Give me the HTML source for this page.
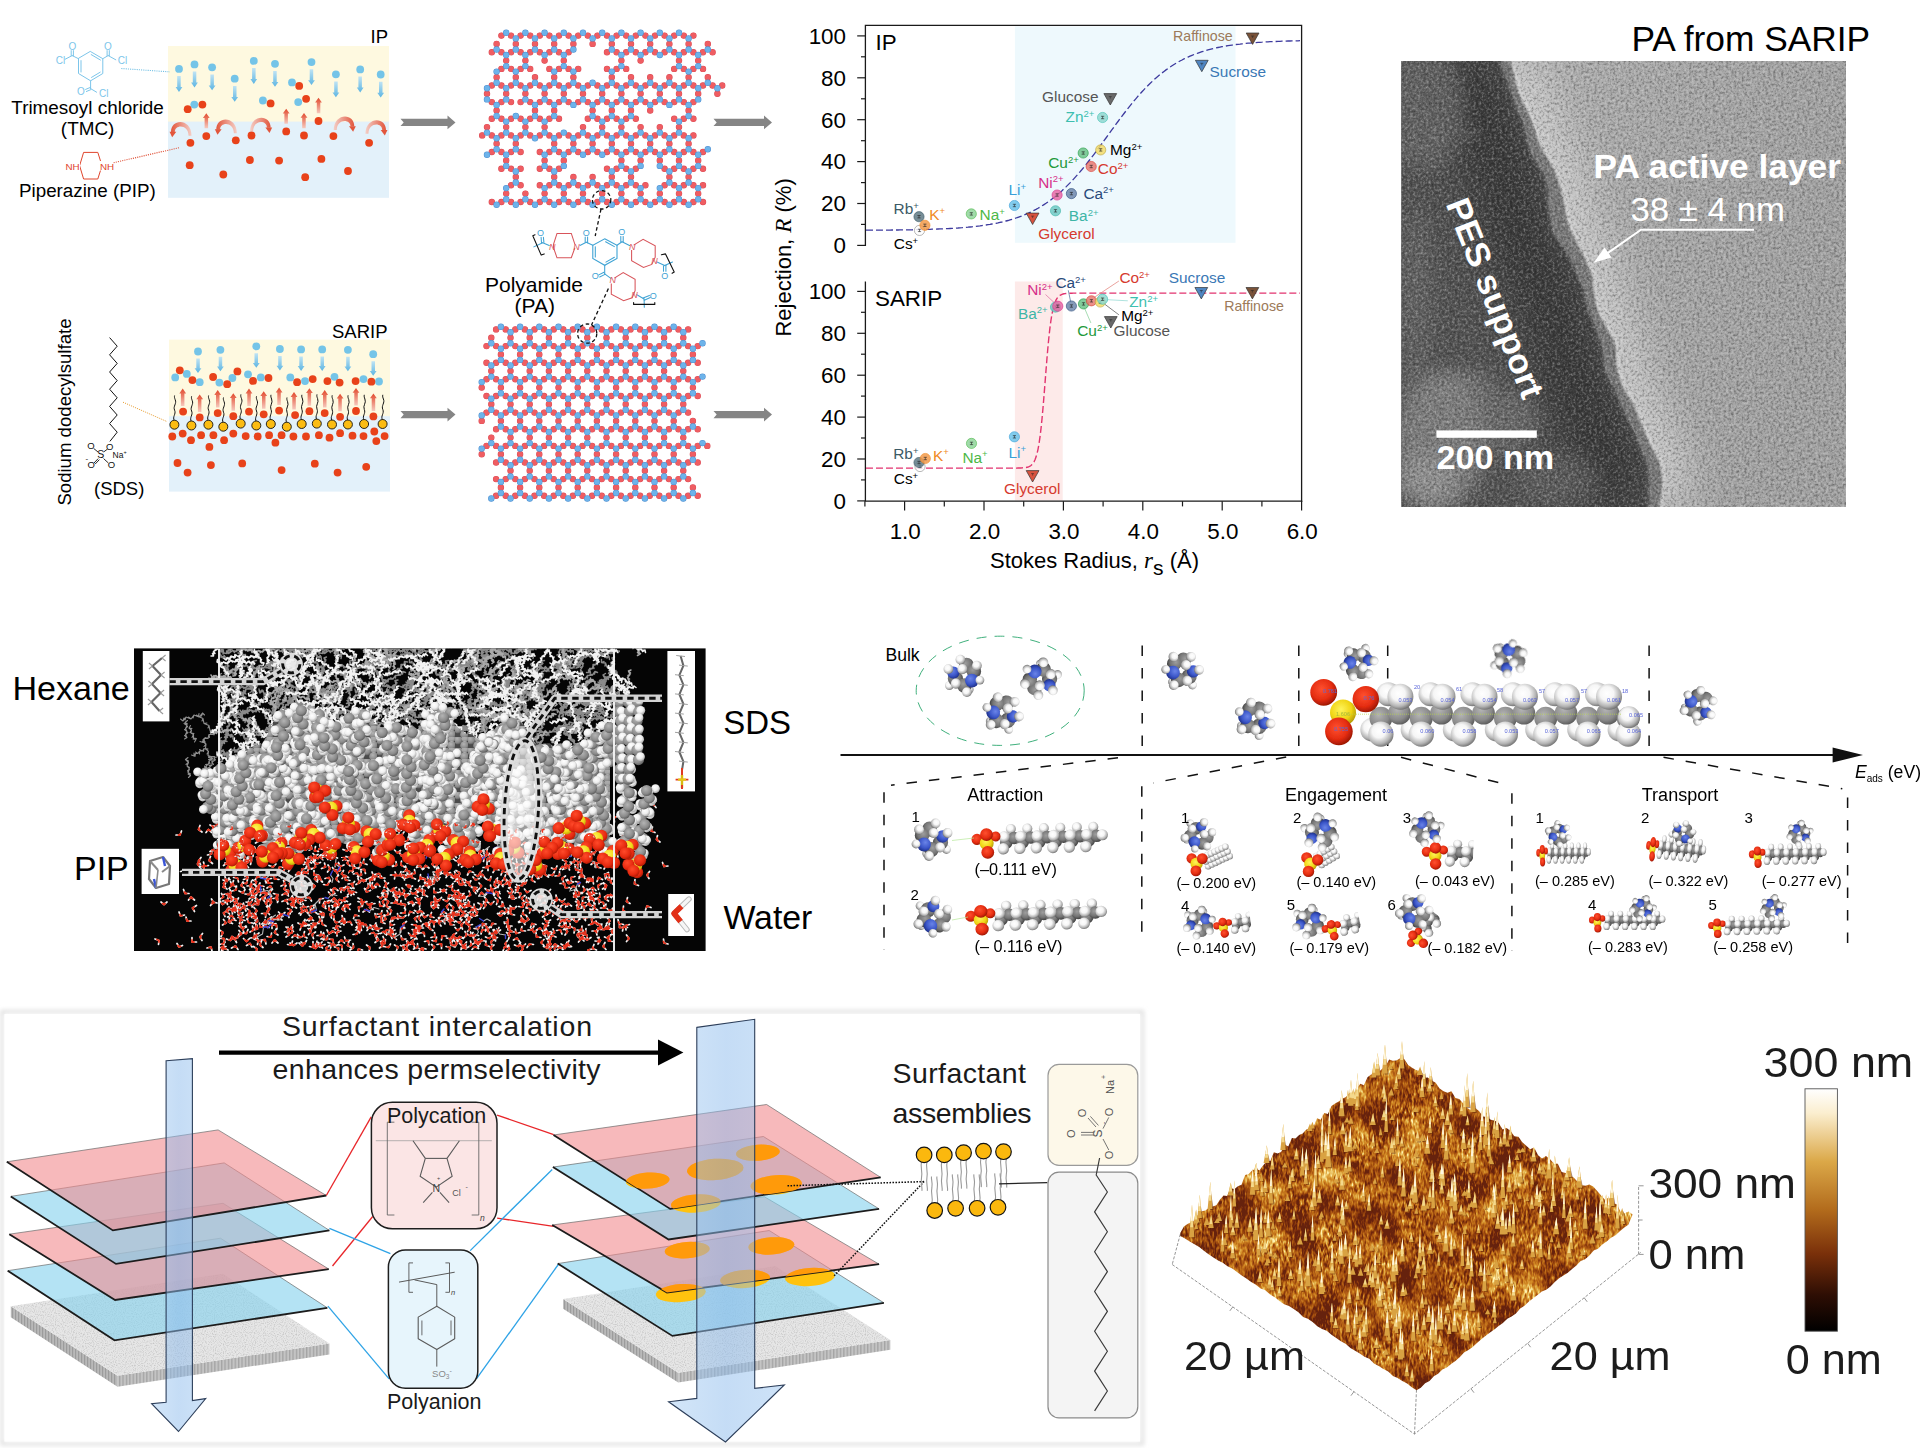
<!DOCTYPE html>
<html><head><meta charset="utf-8"><title>Figure</title>
<style>
html,body{margin:0;padding:0;background:#fff;}
body{width:1929px;height:1448px;overflow:hidden;font-family:"Liberation Sans",sans-serif;}
svg{display:block;font-family:"Liberation Sans",sans-serif;}
</style></head><body>
<svg width="1929" height="1448" viewBox="0 0 1929 1448">
<rect width="1929" height="1448" fill="#fff"/>
<g id="panel_a">
<defs>
<linearGradient id="gbd" x1="0" y1="0" x2="0" y2="1"><stop offset="0" stop-color="#bfe3f4"/><stop offset="1" stop-color="#5db5e2"/></linearGradient>
<linearGradient id="gru" x1="0" y1="1" x2="0" y2="0"><stop offset="0" stop-color="#f6c9bd"/><stop offset="1" stop-color="#e2492c"/></linearGradient>
<linearGradient id="gcl" x1="1" y1="0" x2="0" y2="0"><stop offset="0" stop-color="#f4cfc7"/><stop offset="1" stop-color="#e2563c"/></linearGradient>
<linearGradient id="gcr" x1="0" y1="0" x2="1" y2="0"><stop offset="0" stop-color="#f4cfc7"/><stop offset="1" stop-color="#e2563c"/></linearGradient>
</defs>
<rect x="168" y="46" width="221" height="76" fill="#fef9e0"/>
<rect x="168" y="121.6" width="221" height="76.2" fill="#e3f1fa"/>
<path d="M177.2 76.1 L180.7 76.1 L180.7 87.1 L182.4 87.1 L179 91.9 L175.6 87.1 L177.2 87.1 Z" fill="url(#gbd)" stroke="none" stroke-width="1" />
<path d="M192.8 71.6 L196.3 71.6 L196.3 82.6 L197.9 82.6 L194.5 87.4 L191.1 82.6 L192.8 82.6 Z" fill="url(#gbd)" stroke="none" stroke-width="1" />
<path d="M210.4 74.5 L213.9 74.5 L213.9 85.5 L215.5 85.5 L212.1 90.3 L208.7 85.5 L210.4 85.5 Z" fill="url(#gbd)" stroke="none" stroke-width="1" />
<path d="M233 85.9 L236.5 85.9 L236.5 96.9 L238.1 96.9 L234.7 101.7 L231.3 96.9 L233 96.9 Z" fill="url(#gbd)" stroke="none" stroke-width="1" />
<path d="M252.1 68.1 L255.6 68.1 L255.6 79.1 L257.2 79.1 L253.8 83.9 L250.4 79.1 L252.1 79.1 Z" fill="url(#gbd)" stroke="none" stroke-width="1" />
<path d="M273.2 71 L276.7 71 L276.7 82 L278.4 82 L275 86.8 L271.6 82 L273.2 82 Z" fill="url(#gbd)" stroke="none" stroke-width="1" />
<path d="M309.7 69.3 L313.2 69.3 L313.2 80.3 L314.9 80.3 L311.5 85.1 L308.1 80.3 L309.7 80.3 Z" fill="url(#gbd)" stroke="none" stroke-width="1" />
<path d="M334.2 81.5 L337.7 81.5 L337.7 92.5 L339.3 92.5 L335.9 97.3 L332.5 92.5 L334.2 92.5 Z" fill="url(#gbd)" stroke="none" stroke-width="1" />
<path d="M358.4 76.6 L361.9 76.6 L361.9 87.6 L363.6 87.6 L360.2 92.4 L356.8 87.6 L358.4 87.6 Z" fill="url(#gbd)" stroke="none" stroke-width="1" />
<path d="M379 81.7 L382.5 81.7 L382.5 92.7 L384.1 92.7 L380.7 97.5 L377.3 92.7 L379 92.7 Z" fill="url(#gbd)" stroke="none" stroke-width="1" />
<path d="M204.6 128.2 L208.1 128.2 L208.1 118.1 L209.7 118.1 L206.3 113.3 L202.9 118.1 L204.6 118.1 Z" fill="url(#gru)" stroke="none" stroke-width="1" />
<path d="M284.4 123.7 L287.9 123.7 L287.9 113.6 L289.6 113.6 L286.2 108.8 L282.8 113.6 L284.4 113.6 Z" fill="url(#gru)" stroke="none" stroke-width="1" />
<path d="M302.2 128.2 L305.7 128.2 L305.7 117.7 L307.4 117.7 L304 112.9 L300.6 117.7 L302.2 117.7 Z" fill="url(#gru)" stroke="none" stroke-width="1" />
<path d="M316.8 113.3 L320.3 113.3 L320.3 102.6 L321.9 102.6 L318.5 97.8 L315.1 102.6 L316.8 102.6 Z" fill="url(#gru)" stroke="none" stroke-width="1" />
<path d="M191.6 135.7 C191.3 118.1 170.9 118.1 171 132.2 L174.8 132.2 C174.5 124.3 188.5 123.9 188.6 135.7 Z" fill="url(#gcl)"/><path d="M169.5 131.8 L176.3 131.8 L172.2 137.3 Z" fill="#e2563c" stroke="none" stroke-width="1" />
<path d="M236.9 133.2 C236.6 115.6 216.2 115.6 216.3 129.7 L220.1 129.7 C219.8 121.8 233.8 121.4 233.9 133.2 Z" fill="url(#gcl)"/><path d="M214.8 129.3 L221.6 129.3 L217.5 134.8 Z" fill="#e2563c" stroke="none" stroke-width="1" />
<path d="M250.1 131.3 C250.4 113.7 270.8 113.7 270.7 127.8 L266.9 127.8 C267.2 119.9 253.2 119.5 253.1 131.3 Z" fill="url(#gcr)"/><path d="M265.4 127.4 L272.2 127.4 L269.5 132.9 Z" fill="#e2563c" stroke="none" stroke-width="1" />
<path d="M333.7 130.1 C334 112.5 354.4 112.5 354.3 126.6 L350.5 126.6 C350.8 118.7 336.8 118.3 336.7 130.1 Z" fill="url(#gcr)"/><path d="M349 126.2 L355.8 126.2 L353.1 131.7 Z" fill="#e2563c" stroke="none" stroke-width="1" />
<path d="M365.4 133.8 C365.7 116.2 386.1 116.2 386 130.3 L382.2 130.3 C382.5 122.4 368.5 122 368.4 133.8 Z" fill="url(#gcr)"/><path d="M380.7 129.9 L387.5 129.9 L384.8 135.4 Z" fill="#e2563c" stroke="none" stroke-width="1" />
<circle cx="179" cy="68.9" r="3.9" fill="#74c4e8" />
<circle cx="194.5" cy="64.4" r="3.9" fill="#74c4e8" />
<circle cx="212.1" cy="67.3" r="3.9" fill="#74c4e8" />
<circle cx="234.7" cy="78.7" r="3.9" fill="#74c4e8" />
<circle cx="253.8" cy="60.9" r="3.9" fill="#74c4e8" />
<circle cx="275" cy="63.8" r="3.9" fill="#74c4e8" />
<circle cx="292" cy="82.4" r="3.9" fill="#74c4e8" />
<circle cx="311.5" cy="62.1" r="3.9" fill="#74c4e8" />
<circle cx="335.9" cy="74.3" r="3.9" fill="#74c4e8" />
<circle cx="360.2" cy="69.4" r="3.9" fill="#74c4e8" />
<circle cx="380.7" cy="74.5" r="3.9" fill="#74c4e8" />
<circle cx="194.3" cy="104.6" r="3.9" fill="#74c4e8" />
<circle cx="262.9" cy="100.5" r="3.9" fill="#74c4e8" />
<circle cx="298.2" cy="102.1" r="3.9" fill="#74c4e8" />
<circle cx="187.7" cy="109.2" r="3.9" fill="#e8421a" />
<circle cx="202.4" cy="104.6" r="3.9" fill="#e8421a" />
<circle cx="270.6" cy="103.4" r="3.9" fill="#e8421a" />
<circle cx="299.2" cy="85.9" r="3.9" fill="#e8421a" />
<circle cx="306.1" cy="98.8" r="3.9" fill="#e8421a" />
<circle cx="318.5" cy="121" r="3.9" fill="#e8421a" />
<circle cx="206.3" cy="136.1" r="3.9" fill="#e8421a" />
<circle cx="190.4" cy="142.8" r="3.9" fill="#e8421a" />
<circle cx="235.8" cy="140.3" r="3.9" fill="#e8421a" />
<circle cx="251.5" cy="135.5" r="3.9" fill="#e8421a" />
<circle cx="286.2" cy="131.4" r="3.9" fill="#e8421a" />
<circle cx="304" cy="135.5" r="3.9" fill="#e8421a" />
<circle cx="333.4" cy="136.1" r="3.9" fill="#e8421a" />
<circle cx="369.1" cy="142.8" r="3.9" fill="#e8421a" />
<circle cx="189.7" cy="165.2" r="3.9" fill="#e8421a" />
<circle cx="223.3" cy="174.5" r="3.9" fill="#e8421a" />
<circle cx="249.9" cy="160" r="3.9" fill="#e8421a" />
<circle cx="279.1" cy="160.6" r="3.9" fill="#e8421a" />
<circle cx="321.4" cy="158.9" r="3.9" fill="#e8421a" />
<circle cx="305.2" cy="177.2" r="3.9" fill="#e8421a" />
<circle cx="348" cy="171" r="3.9" fill="#e8421a" />
<text x="370.5" y="43" font-size="18.5" fill="#000" >IP</text>
<g stroke="#7cc5ea" stroke-width="1" fill="none" stroke-linecap="round">
<path d="M90.6 51.6 L102.8 58.7 L102.8 73.5 L90.6 80.8 L78.5 73.5 L78.5 58.7 Z" fill="none" stroke="#7cc5ea" stroke-width="1" />
<line x1="91.2" y1="54.6" x2="100.4" y2="60" stroke="#7cc5ea" stroke-width="1" />
<line x1="81" y1="60.6" x2="81" y2="72" stroke="#7cc5ea" stroke-width="1" />
<line x1="100.2" y1="72.2" x2="91.5" y2="77.4" stroke="#7cc5ea" stroke-width="1" />
<line x1="78.5" y1="58.7" x2="72.2" y2="55.6" stroke="#7cc5ea" stroke-width="1" />
<line x1="71.2" y1="55.6" x2="71.2" y2="50.6" stroke="#7cc5ea" stroke-width="1" />
<line x1="73.4" y1="55.9" x2="73.4" y2="50.6" stroke="#7cc5ea" stroke-width="1" />
<line x1="72.2" y1="55.6" x2="65.2" y2="59.2" stroke="#7cc5ea" stroke-width="1" />
<line x1="102.8" y1="58.7" x2="108.2" y2="55.6" stroke="#7cc5ea" stroke-width="1" />
<line x1="107.1" y1="55.6" x2="107.1" y2="50.6" stroke="#7cc5ea" stroke-width="1" />
<line x1="109.3" y1="55.6" x2="109.3" y2="50.6" stroke="#7cc5ea" stroke-width="1" />
<line x1="108.2" y1="55.6" x2="115.8" y2="59.8" stroke="#7cc5ea" stroke-width="1" />
<line x1="90.6" y1="80.8" x2="90.6" y2="88.6" stroke="#7cc5ea" stroke-width="1" />
<line x1="90.4" y1="87.4" x2="85.6" y2="89.4" stroke="#7cc5ea" stroke-width="1" />
<line x1="90.9" y1="89.6" x2="86.4" y2="91.5" stroke="#7cc5ea" stroke-width="1" />
<line x1="90.6" y1="88.6" x2="96.6" y2="92.2" stroke="#7cc5ea" stroke-width="1" />
</g>
<text x="72.3" y="49.6" font-size="10" fill="#7cc5ea" text-anchor="middle" >O</text>
<text x="107.9" y="49.6" font-size="10" fill="#7cc5ea" text-anchor="middle" >O</text>
<text x="80.9" y="94.8" font-size="10" fill="#7cc5ea" text-anchor="middle" >O</text>
<text x="60.6" y="64" font-size="10" fill="#7cc5ea" text-anchor="middle" >Cl</text>
<text x="122.6" y="64.4" font-size="10" fill="#7cc5ea" text-anchor="middle" >Cl</text>
<text x="103.8" y="96.6" font-size="10" fill="#7cc5ea" text-anchor="middle" >Cl</text>
<line x1="121.3" y1="68.5" x2="169.9" y2="71.9" stroke="#74c0e4" stroke-width="1.1" stroke-dasharray="1.1 1.1"/>
<text x="11.3" y="113.8" font-size="18.9" fill="#000" >Trimesoyl chloride</text>
<text x="87.6" y="134.8" font-size="18.9" fill="#000" text-anchor="middle" >(TMC)</text>
<path d="M79.6 165.7 L83.6 152.4 L97.8 152.4 L102 165.7 L97.8 179 L83.6 179 Z" fill="none" stroke="#e0452c" stroke-width="1" />
<rect x="64" y="161" width="16" height="9.6" fill="#fff"/><rect x="99.6" y="161" width="15" height="9.6" fill="#fff"/>
<text x="65.4" y="169.8" font-size="9.8" fill="#e0452c" >NH</text>
<text x="100" y="169.8" font-size="9.8" fill="#e0452c" >NH</text>
<line x1="113.6" y1="162.8" x2="179.4" y2="147.6" stroke="#e0553c" stroke-width="1.1" stroke-dasharray="1.1 1.1"/>
<text x="19" y="197.3" font-size="18.8" fill="#000" >Piperazine (PIP)</text>
<path d="M400.5 118.8 L447.5 118.8 L447.5 115.6 L455.5 122.4 L447.5 129.2 L447.5 126 L400.5 126 L403.7 122.4 Z" fill="#858585" stroke="none" stroke-width="1" />
<path d="M713.5 118.8 L764 118.8 L764 115.6 L772 122.4 L764 129.2 L764 126 L713.5 126 L716.7 122.4 Z" fill="#858585" stroke="none" stroke-width="1" />
<rect x="169" y="339.6" width="221" height="77" fill="#fef9e0"/>
<rect x="169" y="416.2" width="221" height="75.4" fill="#e3f1fa"/>
<path d="M196.3 358.5 L199.8 358.5 L199.8 368.2 L201.4 368.2 L198 373 L194.6 368.2 L196.3 368.2 Z" fill="url(#gbd)" stroke="none" stroke-width="1" />
<path d="M218.7 356.8 L222.2 356.8 L222.2 366.5 L223.8 366.5 L220.4 371.3 L217 366.5 L218.7 366.5 Z" fill="url(#gbd)" stroke="none" stroke-width="1" />
<path d="M254.5 353.3 L258 353.3 L258 363 L259.7 363 L256.3 367.8 L252.9 363 L254.5 363 Z" fill="url(#gbd)" stroke="none" stroke-width="1" />
<path d="M278.2 356 L281.7 356 L281.7 365.7 L283.3 365.7 L279.9 370.5 L276.5 365.7 L278.2 365.7 Z" fill="url(#gbd)" stroke="none" stroke-width="1" />
<path d="M299.3 356.4 L302.8 356.4 L302.8 366.1 L304.5 366.1 L301.1 370.9 L297.7 366.1 L299.3 366.1 Z" fill="url(#gbd)" stroke="none" stroke-width="1" />
<path d="M320.5 356.4 L324 356.4 L324 366.1 L325.6 366.1 L322.2 370.9 L318.8 366.1 L320.5 366.1 Z" fill="url(#gbd)" stroke="none" stroke-width="1" />
<path d="M346.2 356.8 L349.7 356.8 L349.7 366.5 L351.3 366.5 L347.9 371.3 L344.5 366.5 L346.2 366.5 Z" fill="url(#gbd)" stroke="none" stroke-width="1" />
<path d="M371.5 361.2 L375 361.2 L375 370.9 L376.6 370.9 L373.2 375.7 L369.8 370.9 L371.5 370.9 Z" fill="url(#gbd)" stroke="none" stroke-width="1" />
<path d="M180.9 406.1 L184.4 406.1 L184.4 393.4 L186.1 393.4 L182.7 388.6 L179.3 393.4 L180.9 393.4 Z" fill="url(#gru)" stroke="none" stroke-width="1" />
<path d="M197.9 411.9 L201.4 411.9 L201.4 399.2 L203.1 399.2 L199.7 394.4 L196.3 399.2 L197.9 399.2 Z" fill="url(#gru)" stroke="none" stroke-width="1" />
<path d="M216 407.6 L219.5 407.6 L219.5 394.9 L221.1 394.9 L217.7 390.1 L214.3 394.9 L216 394.9 Z" fill="url(#gru)" stroke="none" stroke-width="1" />
<path d="M231.5 410.7 L235 410.7 L235 398 L236.7 398 L233.3 393.2 L229.9 398 L231.5 398 Z" fill="url(#gru)" stroke="none" stroke-width="1" />
<path d="M247.3 406.1 L250.8 406.1 L250.8 393.4 L252.4 393.4 L249 388.6 L245.6 393.4 L247.3 393.4 Z" fill="url(#gru)" stroke="none" stroke-width="1" />
<path d="M262 408.8 L265.5 408.8 L265.5 396.1 L267.1 396.1 L263.7 391.3 L260.3 396.1 L262 396.1 Z" fill="url(#gru)" stroke="none" stroke-width="1" />
<path d="M277.3 405.1 L280.8 405.1 L280.8 392.4 L282.5 392.4 L279.1 387.6 L275.7 392.4 L277.3 392.4 Z" fill="url(#gru)" stroke="none" stroke-width="1" />
<path d="M292.3 409.6 L295.8 409.6 L295.8 396.9 L297.4 396.9 L294 392.1 L290.6 396.9 L292.3 396.9 Z" fill="url(#gru)" stroke="none" stroke-width="1" />
<path d="M307.6 405.7 L311.1 405.7 L311.1 393 L312.8 393 L309.4 388.2 L306 393 L307.6 393 Z" fill="url(#gru)" stroke="none" stroke-width="1" />
<path d="M323 407.6 L326.5 407.6 L326.5 394.9 L328.1 394.9 L324.7 390.1 L321.3 394.9 L323 394.9 Z" fill="url(#gru)" stroke="none" stroke-width="1" />
<path d="M338.3 411.3 L341.8 411.3 L341.8 398.6 L343.5 398.6 L340.1 393.8 L336.7 398.6 L338.3 398.6 Z" fill="url(#gru)" stroke="none" stroke-width="1" />
<path d="M354.3 405.5 L357.8 405.5 L357.8 392.8 L359.4 392.8 L356 388 L352.6 392.8 L354.3 392.8 Z" fill="url(#gru)" stroke="none" stroke-width="1" />
<path d="M371.7 410.9 L375.2 410.9 L375.2 398.2 L376.8 398.2 L373.4 393.4 L370 398.2 L371.7 398.2 Z" fill="url(#gru)" stroke="none" stroke-width="1" />
<circle cx="198" cy="351.5" r="3.9" fill="#74c4e8" />
<circle cx="220.4" cy="349.8" r="3.9" fill="#74c4e8" />
<circle cx="256.3" cy="346.3" r="3.9" fill="#74c4e8" />
<circle cx="279.9" cy="349" r="3.9" fill="#74c4e8" />
<circle cx="301.1" cy="349.4" r="3.9" fill="#74c4e8" />
<circle cx="322.2" cy="349.4" r="3.9" fill="#74c4e8" />
<circle cx="347.9" cy="349.8" r="3.9" fill="#74c4e8" />
<circle cx="373.2" cy="354.2" r="3.9" fill="#74c4e8" />
<circle cx="175.2" cy="377.4" r="3.9" fill="#74c4e8" />
<circle cx="186.8" cy="373.9" r="3.9" fill="#74c4e8" />
<circle cx="199.7" cy="382.2" r="3.9" fill="#74c4e8" />
<circle cx="219.4" cy="382.6" r="3.9" fill="#74c4e8" />
<circle cx="232.4" cy="378" r="3.9" fill="#74c4e8" />
<circle cx="248" cy="374.3" r="3.9" fill="#74c4e8" />
<circle cx="260.8" cy="377.4" r="3.9" fill="#74c4e8" />
<circle cx="290.3" cy="377.4" r="3.9" fill="#74c4e8" />
<circle cx="305" cy="381.1" r="3.9" fill="#74c4e8" />
<circle cx="334.5" cy="376.8" r="3.9" fill="#74c4e8" />
<circle cx="363.5" cy="379.1" r="3.9" fill="#74c4e8" />
<circle cx="379" cy="381.5" r="3.9" fill="#74c4e8" />
<circle cx="179.8" cy="370.3" r="3.9" fill="#e8421a" />
<circle cx="192.4" cy="380.1" r="3.9" fill="#e8421a" />
<circle cx="213.1" cy="377" r="3.9" fill="#e8421a" />
<circle cx="227.2" cy="384.2" r="3.9" fill="#e8421a" />
<circle cx="237.4" cy="371.4" r="3.9" fill="#e8421a" />
<circle cx="253" cy="380.9" r="3.9" fill="#e8421a" />
<circle cx="268.5" cy="378" r="3.9" fill="#e8421a" />
<circle cx="297.1" cy="382.2" r="3.9" fill="#e8421a" />
<circle cx="312.7" cy="379.1" r="3.9" fill="#e8421a" />
<circle cx="327.4" cy="381.1" r="3.9" fill="#e8421a" />
<circle cx="339.6" cy="382.6" r="3.9" fill="#e8421a" />
<circle cx="355.6" cy="381.1" r="3.9" fill="#e8421a" />
<circle cx="371.4" cy="381.7" r="3.9" fill="#e8421a" />
<circle cx="183.1" cy="411.6" r="3.9" fill="#e8421a" />
<circle cx="199.7" cy="417.4" r="3.9" fill="#e8421a" />
<circle cx="217.7" cy="413.1" r="3.9" fill="#e8421a" />
<circle cx="233.3" cy="416.2" r="3.9" fill="#e8421a" />
<circle cx="249" cy="411.6" r="3.9" fill="#e8421a" />
<circle cx="263.7" cy="414.3" r="3.9" fill="#e8421a" />
<circle cx="279.1" cy="410.6" r="3.9" fill="#e8421a" />
<circle cx="295.1" cy="415.1" r="3.9" fill="#e8421a" />
<circle cx="309.4" cy="411.2" r="3.9" fill="#e8421a" />
<circle cx="324.7" cy="413.1" r="3.9" fill="#e8421a" />
<circle cx="340.1" cy="416.8" r="3.9" fill="#e8421a" />
<circle cx="356" cy="411" r="3.9" fill="#e8421a" />
<circle cx="373.4" cy="416.4" r="3.9" fill="#e8421a" />
<circle cx="172.3" cy="436.5" r="3.9" fill="#e8421a" />
<circle cx="182.7" cy="433.6" r="3.9" fill="#e8421a" />
<circle cx="191" cy="440.2" r="3.9" fill="#e8421a" />
<circle cx="201.1" cy="435.2" r="3.9" fill="#e8421a" />
<circle cx="213.4" cy="435.2" r="3.9" fill="#e8421a" />
<circle cx="224.1" cy="440.2" r="3.9" fill="#e8421a" />
<circle cx="233.3" cy="433.6" r="3.9" fill="#e8421a" />
<circle cx="245.7" cy="436.1" r="3.9" fill="#e8421a" />
<circle cx="257.7" cy="436.5" r="3.9" fill="#e8421a" />
<circle cx="269.1" cy="435.2" r="3.9" fill="#e8421a" />
<circle cx="275.4" cy="442.7" r="3.9" fill="#e8421a" />
<circle cx="281.6" cy="435.2" r="3.9" fill="#e8421a" />
<circle cx="293.4" cy="436.5" r="3.9" fill="#e8421a" />
<circle cx="306" cy="436.5" r="3.9" fill="#e8421a" />
<circle cx="318.9" cy="435.2" r="3.9" fill="#e8421a" />
<circle cx="329.5" cy="437.7" r="3.9" fill="#e8421a" />
<circle cx="340.1" cy="433.2" r="3.9" fill="#e8421a" />
<circle cx="352.5" cy="435.7" r="3.9" fill="#e8421a" />
<circle cx="363.5" cy="436.1" r="3.9" fill="#e8421a" />
<circle cx="374.3" cy="431.5" r="3.9" fill="#e8421a" />
<circle cx="376.3" cy="441.1" r="3.9" fill="#e8421a" />
<circle cx="384.6" cy="436.1" r="3.9" fill="#e8421a" />
<circle cx="209.4" cy="446.9" r="3.9" fill="#e8421a" />
<circle cx="177.5" cy="463" r="3.9" fill="#e8421a" />
<circle cx="187.6" cy="472.6" r="3.9" fill="#e8421a" />
<circle cx="210.9" cy="465.1" r="3.9" fill="#e8421a" />
<circle cx="242.2" cy="463.4" r="3.9" fill="#e8421a" />
<circle cx="281.6" cy="470.1" r="3.9" fill="#e8421a" />
<circle cx="314.8" cy="463.7" r="3.9" fill="#e8421a" />
<circle cx="337.6" cy="472.6" r="3.9" fill="#e8421a" />
<circle cx="366.2" cy="466.8" r="3.9" fill="#e8421a" />
<path d="M174.4 420.7 c-2.4 -4 2 -6.5 0.2 -10.5 c-1.8 -4 2.4 -6.5 0.6 -10.5 c-0.6 -1.6 -1 -2.6 -0.6 -4.2" fill="none" stroke="#111" stroke-width="1"/>
<path d="M191.4 421.5 c-2.4 -4 2 -6.5 0.2 -10.5 c-1.8 -4 2.4 -6.5 0.6 -10.5 c-0.6 -1.6 -1 -2.6 -0.6 -4.2" fill="none" stroke="#111" stroke-width="1"/>
<path d="M208.4 420.7 c-2.4 -4 2 -6.5 0.2 -10.5 c-1.8 -4 2.4 -6.5 0.6 -10.5 c-0.6 -1.6 -1 -2.6 -0.6 -4.2" fill="none" stroke="#111" stroke-width="1"/>
<path d="M223.3 422.7 c-2.4 -4 2 -6.5 0.2 -10.5 c-1.8 -4 2.4 -6.5 0.6 -10.5 c-0.6 -1.6 -1 -2.6 -0.6 -4.2" fill="none" stroke="#111" stroke-width="1"/>
<path d="M240.7 419.6 c-2.4 -4 2 -6.5 0.2 -10.5 c-1.8 -4 2.4 -6.5 0.6 -10.5 c-0.6 -1.6 -1 -2.6 -0.6 -4.2" fill="none" stroke="#111" stroke-width="1"/>
<path d="M256.3 421.5 c-2.4 -4 2 -6.5 0.2 -10.5 c-1.8 -4 2.4 -6.5 0.6 -10.5 c-0.6 -1.6 -1 -2.6 -0.6 -4.2" fill="none" stroke="#111" stroke-width="1"/>
<path d="M270.8 420 c-2.4 -4 2 -6.5 0.2 -10.5 c-1.8 -4 2.4 -6.5 0.6 -10.5 c-0.6 -1.6 -1 -2.6 -0.6 -4.2" fill="none" stroke="#111" stroke-width="1"/>
<path d="M286.8 422.7 c-2.4 -4 2 -6.5 0.2 -10.5 c-1.8 -4 2.4 -6.5 0.6 -10.5 c-0.6 -1.6 -1 -2.6 -0.6 -4.2" fill="none" stroke="#111" stroke-width="1"/>
<path d="M301.7 420 c-2.4 -4 2 -6.5 0.2 -10.5 c-1.8 -4 2.4 -6.5 0.6 -10.5 c-0.6 -1.6 -1 -2.6 -0.6 -4.2" fill="none" stroke="#111" stroke-width="1"/>
<path d="M316.8 419.6 c-2.4 -4 2 -6.5 0.2 -10.5 c-1.8 -4 2.4 -6.5 0.6 -10.5 c-0.6 -1.6 -1 -2.6 -0.6 -4.2" fill="none" stroke="#111" stroke-width="1"/>
<path d="M332 420.5 c-2.4 -4 2 -6.5 0.2 -10.5 c-1.8 -4 2.4 -6.5 0.6 -10.5 c-0.6 -1.6 -1 -2.6 -0.6 -4.2" fill="none" stroke="#111" stroke-width="1"/>
<path d="M347.9 420.5 c-2.4 -4 2 -6.5 0.2 -10.5 c-1.8 -4 2.4 -6.5 0.6 -10.5 c-0.6 -1.6 -1 -2.6 -0.6 -4.2" fill="none" stroke="#111" stroke-width="1"/>
<path d="M364.1 420 c-2.4 -4 2 -6.5 0.2 -10.5 c-1.8 -4 2.4 -6.5 0.6 -10.5 c-0.6 -1.6 -1 -2.6 -0.6 -4.2" fill="none" stroke="#111" stroke-width="1"/>
<path d="M382.6 420 c-2.4 -4 2 -6.5 0.2 -10.5 c-1.8 -4 2.4 -6.5 0.6 -10.5 c-0.6 -1.6 -1 -2.6 -0.6 -4.2" fill="none" stroke="#111" stroke-width="1"/>
<circle cx="174.4" cy="424.7" r="4.5" fill="#fbbc12" stroke="#111" stroke-width="0.9"/>
<circle cx="191.4" cy="425.5" r="4.5" fill="#fbbc12" stroke="#111" stroke-width="0.9"/>
<circle cx="208.4" cy="424.7" r="4.5" fill="#fbbc12" stroke="#111" stroke-width="0.9"/>
<circle cx="223.3" cy="426.7" r="4.5" fill="#fbbc12" stroke="#111" stroke-width="0.9"/>
<circle cx="240.7" cy="423.6" r="4.5" fill="#fbbc12" stroke="#111" stroke-width="0.9"/>
<circle cx="256.3" cy="425.5" r="4.5" fill="#fbbc12" stroke="#111" stroke-width="0.9"/>
<circle cx="270.8" cy="424" r="4.5" fill="#fbbc12" stroke="#111" stroke-width="0.9"/>
<circle cx="286.8" cy="426.7" r="4.5" fill="#fbbc12" stroke="#111" stroke-width="0.9"/>
<circle cx="301.7" cy="424" r="4.5" fill="#fbbc12" stroke="#111" stroke-width="0.9"/>
<circle cx="316.8" cy="423.6" r="4.5" fill="#fbbc12" stroke="#111" stroke-width="0.9"/>
<circle cx="332" cy="424.5" r="4.5" fill="#fbbc12" stroke="#111" stroke-width="0.9"/>
<circle cx="347.9" cy="424.5" r="4.5" fill="#fbbc12" stroke="#111" stroke-width="0.9"/>
<circle cx="364.1" cy="424" r="4.5" fill="#fbbc12" stroke="#111" stroke-width="0.9"/>
<circle cx="382.6" cy="424" r="4.5" fill="#fbbc12" stroke="#111" stroke-width="0.9"/>
<text x="332" y="337.6" font-size="18.5" fill="#000" >SARIP</text>
<path d="M109.6 337.6 L117.2 346.2 L109.6 354.8 L117.2 363.4 L109.6 372 L117.2 380.6 L109.6 389.2 L117.2 397.8 L109.6 406.4 L117.2 415 L109.6 423.6 L117.2 432.2 L109.9 441.4" fill="none" stroke="#111" stroke-width="1" />
<text x="91" y="448.8" font-size="9.5" fill="#111" text-anchor="middle" >O</text>
<text x="109.6" y="449.6" font-size="9.5" fill="#111" text-anchor="middle" >O</text>
<text x="91.2" y="468.4" font-size="9.5" fill="#111" text-anchor="middle" >O</text>
<text x="111.4" y="468.4" font-size="9.5" fill="#111" text-anchor="middle" >O</text>
<text x="100.8" y="458" font-size="10.5" fill="#111" text-anchor="middle" >S</text>
<line x1="93.6" y1="448.4" x2="98" y2="452" stroke="#111" stroke-width="0.9" />
<line x1="107.6" y1="449" x2="103.6" y2="452" stroke="#111" stroke-width="0.9" />
<line x1="94" y1="463" x2="98.2" y2="458.6" stroke="#111" stroke-width="0.9" />
<line x1="108.4" y1="463" x2="103.6" y2="458.6" stroke="#111" stroke-width="0.9" />
<line x1="95.2" y1="464" x2="99.4" y2="459.6" stroke="#111" stroke-width="0.9" />
<text x="112.6" y="457.8" font-size="8.5" fill="#111" >Na</text>
<text x="123.4" y="453.6" font-size="5.5" fill="#111" >+</text>
<text x="85.6" y="460.5" font-size="8" fill="#111" >-</text>
<line x1="123" y1="402.2" x2="167" y2="421.6" stroke="#e9a23a" stroke-width="1" stroke-dasharray="1.1 1.1"/>
<text x="94" y="494.6" font-size="18.5" fill="#000" >(SDS)</text>
<text transform="translate(71.2,505.6) rotate(-90)" font-size="18.6">Sodium dodecylsulfate</text>
<path d="M400.5 411 L447.5 411 L447.5 407.8 L455.5 414.6 L447.5 421.4 L447.5 418.2 L400.5 418.2 L403.7 414.6 Z" fill="#858585" stroke="none" stroke-width="1" />
<path d="M713.5 411 L764 411 L764 407.8 L772 414.6 L764 421.4 L764 418.2 L713.5 418.2 L716.7 414.6 Z" fill="#858585" stroke="none" stroke-width="1" />
</g>
<g id="panel_a2">
<path d="M496.6 49.5L496.6 43.9M506.2 32.8L501.4 35.6M506.2 32.8L515.8 38.4M515.8 38.4L515.8 49.5M525.4 32.8L515.8 38.4M525.4 32.8L535 38.4M535 38.4L535 49.5M544.6 32.8L535 38.4M544.6 32.8L554.2 38.4M554.2 38.4L554.2 49.5M563.8 32.8L554.2 38.4M563.8 32.8L573.4 38.4M573.4 38.4L573.4 49.5M583 32.8L573.4 38.4M583 32.8L592.6 38.4M592.6 38.4L592.6 43.9M602.2 32.8L592.6 38.4M602.2 32.8L611.8 38.4M611.8 38.4L611.8 49.5M621.4 32.8L611.8 38.4M621.4 32.8L631 38.4M631 38.4L631 49.5M640.6 32.8L631 38.4M640.6 32.8L650.2 38.4M650.2 38.4L650.2 49.5M659.8 32.8L650.2 38.4M659.8 32.8L669.4 38.4M669.4 38.4L669.4 49.5M679 32.8L669.4 38.4M679 32.8L688.6 38.4M688.6 38.4L688.6 49.5M688.6 38.4L693.4 35.6M707.8 49.5L707.8 43.9M496.6 49.5L491.8 52.2M496.6 49.5L506.2 55M515.8 49.5L506.2 55M515.8 49.5L525.4 55M506.2 55L506.2 66.1M535 49.5L525.4 55M535 49.5L544.6 55M525.4 55L525.4 66.1M554.2 49.5L544.6 55M554.2 49.5L563.8 55M544.6 55L544.6 60.6M573.4 49.5L563.8 55M563.8 55L563.8 66.1M611.8 49.5L607 52.2M611.8 49.5L621.4 55M631 49.5L621.4 55M631 49.5L640.6 55M621.4 55L621.4 66.1M650.2 49.5L640.6 55M650.2 49.5L659.8 55M640.6 55L640.6 60.6M669.4 49.5L659.8 55M669.4 49.5L679 55M688.6 49.5L679 55M688.6 49.5L698.2 55M679 55L679 66.1M707.8 49.5L698.2 55M707.8 49.5L712.6 52.2M698.2 55L698.2 66.1M496.6 71.6L496.6 82.7M506.2 66.1L496.6 71.6M506.2 66.1L515.8 71.6M515.8 71.6L515.8 82.7M525.4 66.1L515.8 71.6M525.4 66.1L530.2 68.9M535 82.7L535 77.2M554.2 71.6L549.4 68.9M554.2 71.6L554.2 82.7M563.8 66.1L554.2 71.6M563.8 66.1L573.4 71.6M573.4 71.6L573.4 82.7M573.4 71.6L578.2 68.9M611.8 71.6L607 68.9M611.8 71.6L611.8 82.7M621.4 66.1L611.8 71.6M621.4 66.1L626.2 68.9M631 82.7L631 77.2M650.2 82.7L650.2 77.2M669.4 82.7L669.4 77.2M679 66.1L674.2 68.9M679 66.1L688.6 71.6M688.6 71.6L688.6 82.7M698.2 66.1L688.6 71.6M698.2 66.1L703 68.9M707.8 82.7L707.8 77.2M496.6 82.7L487 88.3M496.6 82.7L506.2 88.3M487 88.3L487 99.4M515.8 82.7L506.2 88.3M515.8 82.7L525.4 88.3M506.2 88.3L506.2 99.4M535 82.7L525.4 88.3M535 82.7L544.6 88.3M525.4 88.3L525.4 99.4M554.2 82.7L544.6 88.3M554.2 82.7L563.8 88.3M544.6 88.3L544.6 99.4M573.4 82.7L563.8 88.3M573.4 82.7L583 88.3M563.8 88.3L563.8 99.4M592.6 82.7L583 88.3M592.6 82.7L602.2 88.3M583 88.3L583 99.4M611.8 82.7L602.2 88.3M611.8 82.7L621.4 88.3M602.2 88.3L602.2 99.4M631 82.7L621.4 88.3M631 82.7L640.6 88.3M621.4 88.3L621.4 99.4M650.2 82.7L640.6 88.3M650.2 82.7L659.8 88.3M640.6 88.3L640.6 99.4M669.4 82.7L659.8 88.3M669.4 82.7L679 88.3M659.8 88.3L659.8 99.4M688.6 82.7L679 88.3M688.6 82.7L698.2 88.3M679 88.3L679 99.4M707.8 82.7L698.2 88.3M707.8 82.7L717.4 88.3M698.2 88.3L698.2 99.4M717.4 88.3L722.2 85.5M717.4 88.3L717.4 93.8M487 99.4L496.6 104.9M496.6 104.9L496.6 116M506.2 99.4L496.6 104.9M506.2 99.4L511 102.1M525.4 99.4L520.6 102.1M525.4 99.4L535 104.9M535 104.9L535 116M544.6 99.4L535 104.9M544.6 99.4L554.2 104.9M554.2 104.9L554.2 116M563.8 99.4L554.2 104.9M563.8 99.4L573.4 104.9M583 99.4L573.4 104.9M583 99.4L592.6 104.9M592.6 104.9L592.6 116M602.2 99.4L592.6 104.9M602.2 99.4L611.8 104.9M611.8 104.9L611.8 116M621.4 99.4L611.8 104.9M621.4 99.4L631 104.9M631 104.9L631 116M640.6 99.4L631 104.9M640.6 99.4L650.2 104.9M650.2 104.9L650.2 110.5M659.8 99.4L650.2 104.9M659.8 99.4L669.4 104.9M679 99.4L669.4 104.9M679 99.4L688.6 104.9M688.6 104.9L688.6 116M698.2 99.4L688.6 104.9M496.6 116L491.8 118.8M496.6 116L506.2 121.6M487 132.6L487 127.1M515.8 116L506.2 121.6M515.8 116L525.4 121.6M506.2 121.6L506.2 132.6M535 116L525.4 121.6M535 116L544.6 121.6M525.4 121.6L525.4 132.6M554.2 116L544.6 121.6M554.2 116L559 118.8M544.6 121.6L544.6 132.6M592.6 116L587.8 118.8M592.6 116L602.2 121.6M583 132.6L583 127.1M611.8 116L602.2 121.6M611.8 116L621.4 121.6M602.2 121.6L602.2 132.6M631 116L621.4 121.6M631 116L635.8 118.8M621.4 121.6L621.4 132.6M640.6 132.6L640.6 127.1M679 121.6L674.2 118.8M659.8 132.6L659.8 127.1M688.6 116L679 121.6M688.6 116L693.4 118.8M679 121.6L679 132.6M487 132.6L482.2 135.4M487 132.6L496.6 138.2M496.6 138.2L496.6 149.3M506.2 132.6L496.6 138.2M506.2 132.6L515.8 138.2M515.8 138.2L515.8 149.3M525.4 132.6L515.8 138.2M525.4 132.6L535 138.2M544.6 132.6L535 138.2M544.6 132.6L554.2 138.2M554.2 138.2L554.2 149.3M563.8 132.6L554.2 138.2M563.8 132.6L573.4 138.2M573.4 138.2L573.4 149.3M583 132.6L573.4 138.2M583 132.6L592.6 138.2M592.6 138.2L592.6 149.3M602.2 132.6L592.6 138.2M602.2 132.6L611.8 138.2M611.8 138.2L611.8 149.3M621.4 132.6L611.8 138.2M621.4 132.6L631 138.2M631 138.2L631 149.3M640.6 132.6L631 138.2M640.6 132.6L650.2 138.2M650.2 138.2L650.2 149.3M659.8 132.6L650.2 138.2M659.8 132.6L669.4 138.2M669.4 138.2L669.4 149.3M679 132.6L669.4 138.2M679 132.6L688.6 138.2M688.6 138.2L688.6 149.3M688.6 138.2L693.4 135.4M496.6 149.3L487 154.8M496.6 149.3L506.2 154.8M515.8 149.3L506.2 154.8M515.8 149.3L520.6 152M506.2 154.8L506.2 165.9M544.6 154.8L539.8 152M554.2 149.3L544.6 154.8M554.2 149.3L563.8 154.8M544.6 154.8L544.6 165.9M573.4 149.3L563.8 154.8M573.4 149.3L583 154.8M563.8 154.8L563.8 165.9M592.6 149.3L583 154.8M592.6 149.3L602.2 154.8M611.8 149.3L602.2 154.8M611.8 149.3L621.4 154.8M631 149.3L621.4 154.8M631 149.3L640.6 154.8M621.4 154.8L621.4 165.9M650.2 149.3L640.6 154.8M650.2 149.3L659.8 154.8M640.6 154.8L640.6 165.9M669.4 149.3L659.8 154.8M669.4 149.3L679 154.8M659.8 154.8L659.8 165.9M688.6 149.3L679 154.8M688.6 149.3L698.2 154.8M679 154.8L679 165.9M707.8 149.3L698.2 154.8M698.2 154.8L698.2 165.9M506.2 165.9L501.4 168.7M506.2 165.9L515.8 171.5M515.8 171.5L515.8 182.5M515.8 171.5L520.6 168.7M544.6 165.9L539.8 168.7M544.6 165.9L554.2 171.5M554.2 171.5L554.2 182.5M563.8 165.9L554.2 171.5M573.4 182.5L573.4 177M592.6 182.5L592.6 177M611.8 171.5L607 168.7M611.8 171.5L611.8 182.5M621.4 165.9L611.8 171.5M621.4 165.9L631 171.5M631 171.5L631 182.5M640.6 165.9L631 171.5M659.8 165.9L669.4 171.5M669.4 171.5L669.4 182.5M679 165.9L669.4 171.5M679 165.9L688.6 171.5M688.6 171.5L688.6 182.5M698.2 165.9L688.6 171.5M698.2 165.9L703 168.7M515.8 182.5L506.2 188.1M515.8 182.5L520.6 185.3M506.2 188.1L506.2 199.2M544.6 188.1L539.8 185.3M525.4 199.2L525.4 193.6M554.2 182.5L544.6 188.1M554.2 182.5L563.8 188.1M544.6 188.1L544.6 199.2M573.4 182.5L563.8 188.1M573.4 182.5L583 188.1M563.8 188.1L563.8 199.2M592.6 182.5L583 188.1M592.6 182.5L602.2 188.1M583 188.1L583 199.2M611.8 182.5L602.2 188.1M611.8 182.5L621.4 188.1M602.2 188.1L602.2 199.2M631 182.5L621.4 188.1M631 182.5L640.6 188.1M621.4 188.1L621.4 199.2M640.6 188.1L645.4 185.3M640.6 188.1L640.6 199.2M669.4 182.5L659.8 188.1M669.4 182.5L679 188.1M659.8 188.1L659.8 199.2M688.6 182.5L679 188.1M688.6 182.5L698.2 188.1M679 188.1L679 199.2M698.2 188.1L703 185.3M698.2 188.1L698.2 199.2M496.6 204.7L491.8 202M506.2 199.2L496.6 204.7M506.2 199.2L515.8 204.7M525.4 199.2L515.8 204.7M525.4 199.2L535 204.7M544.6 199.2L535 204.7M544.6 199.2L554.2 204.7M563.8 199.2L554.2 204.7M563.8 199.2L573.4 204.7M583 199.2L573.4 204.7M583 199.2L592.6 204.7M602.2 199.2L592.6 204.7M602.2 199.2L611.8 204.7M621.4 199.2L611.8 204.7M621.4 199.2L631 204.7M640.6 199.2L631 204.7M640.6 199.2L650.2 204.7M659.8 199.2L650.2 204.7M659.8 199.2L669.4 204.7M679 199.2L669.4 204.7M679 199.2L688.6 204.7M698.2 199.2L688.6 204.7M698.2 199.2L703 202" stroke="#b8708c" stroke-width="1.6" fill="none"/><g fill="none" stroke-linecap="round"><path d="M496.6 43.9h0M501.4 35.6h0M511 35.6h0M515.8 43.9h0M520.6 35.6h0M530.2 35.6h0M535 43.9h0M539.8 35.6h0M549.4 35.6h0M554.2 43.9h0M559 35.6h0M568.6 35.6h0M573.4 43.9h0M578.2 35.6h0M587.8 35.6h0M592.6 43.9h0M597.4 35.6h0M607 35.6h0M611.8 43.9h0M616.6 35.6h0M626.2 35.6h0M631 43.9h0M635.8 35.6h0M645.4 35.6h0M650.2 43.9h0M655 35.6h0M664.6 35.6h0M669.4 43.9h0M674.2 35.6h0M683.8 35.6h0M688.6 43.9h0M693.4 35.6h0M707.8 43.9h0M491.8 52.2h0M501.4 52.2h0M511 52.2h0M520.6 52.2h0M506.2 60.6h0M530.2 52.2h0M539.8 52.2h0M525.4 60.6h0M549.4 52.2h0M559 52.2h0M544.6 60.6h0M568.6 52.2h0M563.8 60.6h0M607 52.2h0M616.6 52.2h0M626.2 52.2h0M635.8 52.2h0M621.4 60.6h0M645.4 52.2h0M655 52.2h0M640.6 60.6h0M664.6 52.2h0M674.2 52.2h0M683.8 52.2h0M693.4 52.2h0M679 60.6h0M703 52.2h0M712.6 52.2h0M698.2 60.6h0M496.6 77.2h0M501.4 68.9h0M511 68.9h0M515.8 77.2h0M520.6 68.9h0M530.2 68.9h0M535 77.2h0M549.4 68.9h0M554.2 77.2h0M559 68.9h0M568.6 68.9h0M573.4 77.2h0M578.2 68.9h0M607 68.9h0M611.8 77.2h0M616.6 68.9h0M626.2 68.9h0M631 77.2h0M650.2 77.2h0M669.4 77.2h0M674.2 68.9h0M683.8 68.9h0M688.6 77.2h0M693.4 68.9h0M703 68.9h0M707.8 77.2h0M491.8 85.5h0M501.4 85.5h0M487 93.8h0M511 85.5h0M520.6 85.5h0M506.2 93.8h0M530.2 85.5h0M539.8 85.5h0M525.4 93.8h0M549.4 85.5h0M559 85.5h0M544.6 93.8h0M568.6 85.5h0M578.2 85.5h0M563.8 93.8h0M587.8 85.5h0M597.4 85.5h0M583 93.8h0M607 85.5h0M616.6 85.5h0M602.2 93.8h0M626.2 85.5h0M635.8 85.5h0M621.4 93.8h0M645.4 85.5h0M655 85.5h0M640.6 93.8h0M664.6 85.5h0M674.2 85.5h0M659.8 93.8h0M683.8 85.5h0M693.4 85.5h0M679 93.8h0M703 85.5h0M712.6 85.5h0M698.2 93.8h0M722.2 85.5h0M717.4 93.8h0M491.8 102.1h0M496.6 110.5h0M501.4 102.1h0M511 102.1h0M520.6 102.1h0M530.2 102.1h0M535 110.5h0M539.8 102.1h0M549.4 102.1h0M554.2 110.5h0M559 102.1h0M568.6 102.1h0M578.2 102.1h0M587.8 102.1h0M592.6 110.5h0M597.4 102.1h0M607 102.1h0M611.8 110.5h0M616.6 102.1h0M626.2 102.1h0M631 110.5h0M635.8 102.1h0M645.4 102.1h0M650.2 110.5h0M655 102.1h0M664.6 102.1h0M674.2 102.1h0M683.8 102.1h0M688.6 110.5h0M693.4 102.1h0M491.8 118.8h0M501.4 118.8h0M487 127.1h0M511 118.8h0M520.6 118.8h0M506.2 127.1h0M530.2 118.8h0M539.8 118.8h0M525.4 127.1h0M549.4 118.8h0M559 118.8h0M544.6 127.1h0M587.8 118.8h0M597.4 118.8h0M583 127.1h0M607 118.8h0M616.6 118.8h0M602.2 127.1h0M626.2 118.8h0M635.8 118.8h0M621.4 127.1h0M640.6 127.1h0M674.2 118.8h0M659.8 127.1h0M683.8 118.8h0M693.4 118.8h0M679 127.1h0M482.2 135.4h0M491.8 135.4h0M496.6 143.7h0M501.4 135.4h0M511 135.4h0M515.8 143.7h0M520.6 135.4h0M530.2 135.4h0M539.8 135.4h0M549.4 135.4h0M554.2 143.7h0M559 135.4h0M568.6 135.4h0M573.4 143.7h0M578.2 135.4h0M587.8 135.4h0M592.6 143.7h0M597.4 135.4h0M607 135.4h0M611.8 143.7h0M616.6 135.4h0M626.2 135.4h0M631 143.7h0M635.8 135.4h0M645.4 135.4h0M650.2 143.7h0M655 135.4h0M664.6 135.4h0M669.4 143.7h0M674.2 135.4h0M683.8 135.4h0M688.6 143.7h0M693.4 135.4h0M491.8 152h0M501.4 152h0M511 152h0M520.6 152h0M506.2 160.4h0M539.8 152h0M549.4 152h0M559 152h0M544.6 160.4h0M568.6 152h0M578.2 152h0M563.8 160.4h0M587.8 152h0M597.4 152h0M607 152h0M616.6 152h0M626.2 152h0M635.8 152h0M621.4 160.4h0M645.4 152h0M655 152h0M640.6 160.4h0M664.6 152h0M674.2 152h0M659.8 160.4h0M683.8 152h0M693.4 152h0M679 160.4h0M703 152h0M698.2 160.4h0M501.4 168.7h0M511 168.7h0M515.8 177h0M520.6 168.7h0M539.8 168.7h0M549.4 168.7h0M554.2 177h0M559 168.7h0M573.4 177h0M592.6 177h0M607 168.7h0M611.8 177h0M616.6 168.7h0M626.2 168.7h0M631 177h0M635.8 168.7h0M664.6 168.7h0M669.4 177h0M674.2 168.7h0M683.8 168.7h0M688.6 177h0M693.4 168.7h0M703 168.7h0M511 185.3h0M520.6 185.3h0M506.2 193.6h0M539.8 185.3h0M525.4 193.6h0M549.4 185.3h0M559 185.3h0M544.6 193.6h0M568.6 185.3h0M578.2 185.3h0M563.8 193.6h0M587.8 185.3h0M597.4 185.3h0M583 193.6h0M607 185.3h0M616.6 185.3h0M602.2 193.6h0M626.2 185.3h0M635.8 185.3h0M621.4 193.6h0M645.4 185.3h0M640.6 193.6h0M664.6 185.3h0M674.2 185.3h0M659.8 193.6h0M683.8 185.3h0M693.4 185.3h0M679 193.6h0M703 185.3h0M698.2 193.6h0M491.8 202h0M501.4 202h0M511 202h0M520.6 202h0M530.2 202h0M539.8 202h0M549.4 202h0M559 202h0M568.6 202h0M578.2 202h0M587.8 202h0M597.4 202h0M607 202h0M616.6 202h0M626.2 202h0M635.8 202h0M645.4 202h0M655 202h0M664.6 202h0M674.2 202h0M683.8 202h0M693.4 202h0M703 202h0" stroke="#d94a55" stroke-width="6.4"/><path d="M496.6 43.9h0M501.4 35.6h0M511 35.6h0M515.8 43.9h0M520.6 35.6h0M530.2 35.6h0M535 43.9h0M539.8 35.6h0M549.4 35.6h0M554.2 43.9h0M559 35.6h0M568.6 35.6h0M573.4 43.9h0M578.2 35.6h0M587.8 35.6h0M592.6 43.9h0M597.4 35.6h0M607 35.6h0M611.8 43.9h0M616.6 35.6h0M626.2 35.6h0M631 43.9h0M635.8 35.6h0M645.4 35.6h0M650.2 43.9h0M655 35.6h0M664.6 35.6h0M669.4 43.9h0M674.2 35.6h0M683.8 35.6h0M688.6 43.9h0M693.4 35.6h0M707.8 43.9h0M491.8 52.2h0M501.4 52.2h0M511 52.2h0M520.6 52.2h0M506.2 60.6h0M530.2 52.2h0M539.8 52.2h0M525.4 60.6h0M549.4 52.2h0M559 52.2h0M544.6 60.6h0M568.6 52.2h0M563.8 60.6h0M607 52.2h0M616.6 52.2h0M626.2 52.2h0M635.8 52.2h0M621.4 60.6h0M645.4 52.2h0M655 52.2h0M640.6 60.6h0M664.6 52.2h0M674.2 52.2h0M683.8 52.2h0M693.4 52.2h0M679 60.6h0M703 52.2h0M712.6 52.2h0M698.2 60.6h0M496.6 77.2h0M501.4 68.9h0M511 68.9h0M515.8 77.2h0M520.6 68.9h0M530.2 68.9h0M535 77.2h0M549.4 68.9h0M554.2 77.2h0M559 68.9h0M568.6 68.9h0M573.4 77.2h0M578.2 68.9h0M607 68.9h0M611.8 77.2h0M616.6 68.9h0M626.2 68.9h0M631 77.2h0M650.2 77.2h0M669.4 77.2h0M674.2 68.9h0M683.8 68.9h0M688.6 77.2h0M693.4 68.9h0M703 68.9h0M707.8 77.2h0M491.8 85.5h0M501.4 85.5h0M487 93.8h0M511 85.5h0M520.6 85.5h0M506.2 93.8h0M530.2 85.5h0M539.8 85.5h0M525.4 93.8h0M549.4 85.5h0M559 85.5h0M544.6 93.8h0M568.6 85.5h0M578.2 85.5h0M563.8 93.8h0M587.8 85.5h0M597.4 85.5h0M583 93.8h0M607 85.5h0M616.6 85.5h0M602.2 93.8h0M626.2 85.5h0M635.8 85.5h0M621.4 93.8h0M645.4 85.5h0M655 85.5h0M640.6 93.8h0M664.6 85.5h0M674.2 85.5h0M659.8 93.8h0M683.8 85.5h0M693.4 85.5h0M679 93.8h0M703 85.5h0M712.6 85.5h0M698.2 93.8h0M722.2 85.5h0M717.4 93.8h0M491.8 102.1h0M496.6 110.5h0M501.4 102.1h0M511 102.1h0M520.6 102.1h0M530.2 102.1h0M535 110.5h0M539.8 102.1h0M549.4 102.1h0M554.2 110.5h0M559 102.1h0M568.6 102.1h0M578.2 102.1h0M587.8 102.1h0M592.6 110.5h0M597.4 102.1h0M607 102.1h0M611.8 110.5h0M616.6 102.1h0M626.2 102.1h0M631 110.5h0M635.8 102.1h0M645.4 102.1h0M650.2 110.5h0M655 102.1h0M664.6 102.1h0M674.2 102.1h0M683.8 102.1h0M688.6 110.5h0M693.4 102.1h0M491.8 118.8h0M501.4 118.8h0M487 127.1h0M511 118.8h0M520.6 118.8h0M506.2 127.1h0M530.2 118.8h0M539.8 118.8h0M525.4 127.1h0M549.4 118.8h0M559 118.8h0M544.6 127.1h0M587.8 118.8h0M597.4 118.8h0M583 127.1h0M607 118.8h0M616.6 118.8h0M602.2 127.1h0M626.2 118.8h0M635.8 118.8h0M621.4 127.1h0M640.6 127.1h0M674.2 118.8h0M659.8 127.1h0M683.8 118.8h0M693.4 118.8h0M679 127.1h0M482.2 135.4h0M491.8 135.4h0M496.6 143.7h0M501.4 135.4h0M511 135.4h0M515.8 143.7h0M520.6 135.4h0M530.2 135.4h0M539.8 135.4h0M549.4 135.4h0M554.2 143.7h0M559 135.4h0M568.6 135.4h0M573.4 143.7h0M578.2 135.4h0M587.8 135.4h0M592.6 143.7h0M597.4 135.4h0M607 135.4h0M611.8 143.7h0M616.6 135.4h0M626.2 135.4h0M631 143.7h0M635.8 135.4h0M645.4 135.4h0M650.2 143.7h0M655 135.4h0M664.6 135.4h0M669.4 143.7h0M674.2 135.4h0M683.8 135.4h0M688.6 143.7h0M693.4 135.4h0M491.8 152h0M501.4 152h0M511 152h0M520.6 152h0M506.2 160.4h0M539.8 152h0M549.4 152h0M559 152h0M544.6 160.4h0M568.6 152h0M578.2 152h0M563.8 160.4h0M587.8 152h0M597.4 152h0M607 152h0M616.6 152h0M626.2 152h0M635.8 152h0M621.4 160.4h0M645.4 152h0M655 152h0M640.6 160.4h0M664.6 152h0M674.2 152h0M659.8 160.4h0M683.8 152h0M693.4 152h0M679 160.4h0M703 152h0M698.2 160.4h0M501.4 168.7h0M511 168.7h0M515.8 177h0M520.6 168.7h0M539.8 168.7h0M549.4 168.7h0M554.2 177h0M559 168.7h0M573.4 177h0M592.6 177h0M607 168.7h0M611.8 177h0M616.6 168.7h0M626.2 168.7h0M631 177h0M635.8 168.7h0M664.6 168.7h0M669.4 177h0M674.2 168.7h0M683.8 168.7h0M688.6 177h0M693.4 168.7h0M703 168.7h0M511 185.3h0M520.6 185.3h0M506.2 193.6h0M539.8 185.3h0M525.4 193.6h0M549.4 185.3h0M559 185.3h0M544.6 193.6h0M568.6 185.3h0M578.2 185.3h0M563.8 193.6h0M587.8 185.3h0M597.4 185.3h0M583 193.6h0M607 185.3h0M616.6 185.3h0M602.2 193.6h0M626.2 185.3h0M635.8 185.3h0M621.4 193.6h0M645.4 185.3h0M640.6 193.6h0M664.6 185.3h0M674.2 185.3h0M659.8 193.6h0M683.8 185.3h0M693.4 185.3h0M679 193.6h0M703 185.3h0M698.2 193.6h0M491.8 202h0M501.4 202h0M511 202h0M520.6 202h0M530.2 202h0M539.8 202h0M549.4 202h0M559 202h0M568.6 202h0M578.2 202h0M587.8 202h0M597.4 202h0M607 202h0M616.6 202h0M626.2 202h0M635.8 202h0M645.4 202h0M655 202h0M664.6 202h0M674.2 202h0M683.8 202h0M693.4 202h0M703 202h0" stroke="#ef5d62" stroke-width="5.6"/><path d="M506.2 32.8h0M515.8 38.4h0M525.4 32.8h0M535 38.4h0M544.6 32.8h0M554.2 38.4h0M563.8 32.8h0M573.4 38.4h0M583 32.8h0M592.6 38.4h0M602.2 32.8h0M611.8 38.4h0M621.4 32.8h0M631 38.4h0M640.6 32.8h0M650.2 38.4h0M659.8 32.8h0M669.4 38.4h0M679 32.8h0M688.6 38.4h0M496.6 49.5h0M515.8 49.5h0M506.2 55h0M535 49.5h0M525.4 55h0M554.2 49.5h0M544.6 55h0M573.4 49.5h0M563.8 55h0M611.8 49.5h0M631 49.5h0M621.4 55h0M650.2 49.5h0M640.6 55h0M669.4 49.5h0M659.8 55h0M688.6 49.5h0M679 55h0M707.8 49.5h0M698.2 55h0M496.6 71.6h0M506.2 66.1h0M515.8 71.6h0M525.4 66.1h0M554.2 71.6h0M563.8 66.1h0M573.4 71.6h0M611.8 71.6h0M621.4 66.1h0M679 66.1h0M688.6 71.6h0M698.2 66.1h0M496.6 82.7h0M487 88.3h0M515.8 82.7h0M506.2 88.3h0M535 82.7h0M525.4 88.3h0M554.2 82.7h0M544.6 88.3h0M573.4 82.7h0M563.8 88.3h0M592.6 82.7h0M583 88.3h0M611.8 82.7h0M602.2 88.3h0M631 82.7h0M621.4 88.3h0M650.2 82.7h0M640.6 88.3h0M669.4 82.7h0M659.8 88.3h0M688.6 82.7h0M679 88.3h0M707.8 82.7h0M698.2 88.3h0M717.4 88.3h0M487 99.4h0M496.6 104.9h0M506.2 99.4h0M525.4 99.4h0M535 104.9h0M544.6 99.4h0M554.2 104.9h0M563.8 99.4h0M573.4 104.9h0M583 99.4h0M592.6 104.9h0M602.2 99.4h0M611.8 104.9h0M621.4 99.4h0M631 104.9h0M640.6 99.4h0M650.2 104.9h0M659.8 99.4h0M669.4 104.9h0M679 99.4h0M688.6 104.9h0M698.2 99.4h0M496.6 116h0M515.8 116h0M506.2 121.6h0M535 116h0M525.4 121.6h0M554.2 116h0M544.6 121.6h0M592.6 116h0M611.8 116h0M602.2 121.6h0M631 116h0M621.4 121.6h0M688.6 116h0M679 121.6h0M487 132.6h0M496.6 138.2h0M506.2 132.6h0M515.8 138.2h0M525.4 132.6h0M535 138.2h0M544.6 132.6h0M554.2 138.2h0M563.8 132.6h0M573.4 138.2h0M583 132.6h0M592.6 138.2h0M602.2 132.6h0M611.8 138.2h0M621.4 132.6h0M631 138.2h0M640.6 132.6h0M650.2 138.2h0M659.8 132.6h0M669.4 138.2h0M679 132.6h0M688.6 138.2h0M496.6 149.3h0M487 154.8h0M515.8 149.3h0M506.2 154.8h0M554.2 149.3h0M544.6 154.8h0M573.4 149.3h0M563.8 154.8h0M592.6 149.3h0M583 154.8h0M611.8 149.3h0M602.2 154.8h0M631 149.3h0M621.4 154.8h0M650.2 149.3h0M640.6 154.8h0M669.4 149.3h0M659.8 154.8h0M688.6 149.3h0M679 154.8h0M707.8 149.3h0M698.2 154.8h0M506.2 165.9h0M515.8 171.5h0M544.6 165.9h0M554.2 171.5h0M563.8 165.9h0M611.8 171.5h0M621.4 165.9h0M631 171.5h0M640.6 165.9h0M659.8 165.9h0M669.4 171.5h0M679 165.9h0M688.6 171.5h0M698.2 165.9h0M515.8 182.5h0M506.2 188.1h0M554.2 182.5h0M544.6 188.1h0M573.4 182.5h0M563.8 188.1h0M592.6 182.5h0M583 188.1h0M611.8 182.5h0M602.2 188.1h0M631 182.5h0M621.4 188.1h0M640.6 188.1h0M669.4 182.5h0M659.8 188.1h0M688.6 182.5h0M679 188.1h0M698.2 188.1h0M496.6 204.7h0M506.2 199.2h0M515.8 204.7h0M525.4 199.2h0M535 204.7h0M544.6 199.2h0M554.2 204.7h0M563.8 199.2h0M573.4 204.7h0M583 199.2h0M592.6 204.7h0M602.2 199.2h0M611.8 204.7h0M621.4 199.2h0M631 204.7h0M640.6 199.2h0M650.2 204.7h0M659.8 199.2h0M669.4 204.7h0M679 199.2h0M688.6 204.7h0M698.2 199.2h0" stroke="#4f8fd0" stroke-width="6.4"/><path d="M506.2 32.8h0M515.8 38.4h0M525.4 32.8h0M535 38.4h0M544.6 32.8h0M554.2 38.4h0M563.8 32.8h0M573.4 38.4h0M583 32.8h0M592.6 38.4h0M602.2 32.8h0M611.8 38.4h0M621.4 32.8h0M631 38.4h0M640.6 32.8h0M650.2 38.4h0M659.8 32.8h0M669.4 38.4h0M679 32.8h0M688.6 38.4h0M496.6 49.5h0M515.8 49.5h0M506.2 55h0M535 49.5h0M525.4 55h0M554.2 49.5h0M544.6 55h0M573.4 49.5h0M563.8 55h0M611.8 49.5h0M631 49.5h0M621.4 55h0M650.2 49.5h0M640.6 55h0M669.4 49.5h0M659.8 55h0M688.6 49.5h0M679 55h0M707.8 49.5h0M698.2 55h0M496.6 71.6h0M506.2 66.1h0M515.8 71.6h0M525.4 66.1h0M554.2 71.6h0M563.8 66.1h0M573.4 71.6h0M611.8 71.6h0M621.4 66.1h0M679 66.1h0M688.6 71.6h0M698.2 66.1h0M496.6 82.7h0M487 88.3h0M515.8 82.7h0M506.2 88.3h0M535 82.7h0M525.4 88.3h0M554.2 82.7h0M544.6 88.3h0M573.4 82.7h0M563.8 88.3h0M592.6 82.7h0M583 88.3h0M611.8 82.7h0M602.2 88.3h0M631 82.7h0M621.4 88.3h0M650.2 82.7h0M640.6 88.3h0M669.4 82.7h0M659.8 88.3h0M688.6 82.7h0M679 88.3h0M707.8 82.7h0M698.2 88.3h0M717.4 88.3h0M487 99.4h0M496.6 104.9h0M506.2 99.4h0M525.4 99.4h0M535 104.9h0M544.6 99.4h0M554.2 104.9h0M563.8 99.4h0M573.4 104.9h0M583 99.4h0M592.6 104.9h0M602.2 99.4h0M611.8 104.9h0M621.4 99.4h0M631 104.9h0M640.6 99.4h0M650.2 104.9h0M659.8 99.4h0M669.4 104.9h0M679 99.4h0M688.6 104.9h0M698.2 99.4h0M496.6 116h0M515.8 116h0M506.2 121.6h0M535 116h0M525.4 121.6h0M554.2 116h0M544.6 121.6h0M592.6 116h0M611.8 116h0M602.2 121.6h0M631 116h0M621.4 121.6h0M688.6 116h0M679 121.6h0M487 132.6h0M496.6 138.2h0M506.2 132.6h0M515.8 138.2h0M525.4 132.6h0M535 138.2h0M544.6 132.6h0M554.2 138.2h0M563.8 132.6h0M573.4 138.2h0M583 132.6h0M592.6 138.2h0M602.2 132.6h0M611.8 138.2h0M621.4 132.6h0M631 138.2h0M640.6 132.6h0M650.2 138.2h0M659.8 132.6h0M669.4 138.2h0M679 132.6h0M688.6 138.2h0M496.6 149.3h0M487 154.8h0M515.8 149.3h0M506.2 154.8h0M554.2 149.3h0M544.6 154.8h0M573.4 149.3h0M563.8 154.8h0M592.6 149.3h0M583 154.8h0M611.8 149.3h0M602.2 154.8h0M631 149.3h0M621.4 154.8h0M650.2 149.3h0M640.6 154.8h0M669.4 149.3h0M659.8 154.8h0M688.6 149.3h0M679 154.8h0M707.8 149.3h0M698.2 154.8h0M506.2 165.9h0M515.8 171.5h0M544.6 165.9h0M554.2 171.5h0M563.8 165.9h0M611.8 171.5h0M621.4 165.9h0M631 171.5h0M640.6 165.9h0M659.8 165.9h0M669.4 171.5h0M679 165.9h0M688.6 171.5h0M698.2 165.9h0M515.8 182.5h0M506.2 188.1h0M554.2 182.5h0M544.6 188.1h0M573.4 182.5h0M563.8 188.1h0M592.6 182.5h0M583 188.1h0M611.8 182.5h0M602.2 188.1h0M631 182.5h0M621.4 188.1h0M640.6 188.1h0M669.4 182.5h0M659.8 188.1h0M688.6 182.5h0M679 188.1h0M698.2 188.1h0M496.6 204.7h0M506.2 199.2h0M515.8 204.7h0M525.4 199.2h0M535 204.7h0M544.6 199.2h0M554.2 204.7h0M563.8 199.2h0M573.4 204.7h0M583 199.2h0M592.6 204.7h0M602.2 199.2h0M611.8 204.7h0M621.4 199.2h0M631 204.7h0M640.6 199.2h0M650.2 204.7h0M659.8 199.2h0M669.4 204.7h0M679 199.2h0M688.6 204.7h0M698.2 199.2h0" stroke="#6db3ea" stroke-width="5.4"/></g>
<path d="M491.3 343.3L491.3 337.7M500.9 326.7L496.1 329.4M500.9 326.7L510.5 332.2M510.5 332.2L510.5 343.3M520.1 326.7L510.5 332.2M520.1 326.7L529.7 332.2M529.7 332.2L529.7 343.3M539.3 326.7L529.7 332.2M539.3 326.7L548.9 332.2M548.9 332.2L548.9 343.3M558.5 326.7L548.9 332.2M558.5 326.7L568.1 332.2M568.1 332.2L568.1 343.3M577.7 326.7L568.1 332.2M577.7 326.7L587.3 332.2M587.3 332.2L587.3 343.3M596.9 326.7L587.3 332.2M596.9 326.7L606.5 332.2M606.5 332.2L606.5 343.3M616.1 326.7L606.5 332.2M616.1 326.7L625.7 332.2M625.7 332.2L625.7 343.3M635.3 326.7L625.7 332.2M635.3 326.7L644.9 332.2M644.9 332.2L644.9 343.3M654.5 326.7L644.9 332.2M654.5 326.7L664.1 332.2M664.1 332.2L664.1 343.3M673.7 326.7L664.1 332.2M673.7 326.7L683.3 332.2M683.3 332.2L683.3 343.3M683.3 332.2L688.1 329.4M491.3 343.3L486.5 346.1M491.3 343.3L500.9 348.8M510.5 343.3L500.9 348.8M510.5 343.3L520.1 348.8M500.9 348.8L500.9 359.9M529.7 343.3L520.1 348.8M529.7 343.3L539.3 348.8M520.1 348.8L520.1 359.9M548.9 343.3L539.3 348.8M548.9 343.3L558.5 348.8M539.3 348.8L539.3 359.9M568.1 343.3L558.5 348.8M568.1 343.3L577.7 348.8M558.5 348.8L558.5 359.9M587.3 343.3L577.7 348.8M587.3 343.3L596.9 348.8M577.7 348.8L577.7 359.9M606.5 343.3L596.9 348.8M606.5 343.3L616.1 348.8M596.9 348.8L596.9 359.9M625.7 343.3L616.1 348.8M625.7 343.3L635.3 348.8M616.1 348.8L616.1 359.9M644.9 343.3L635.3 348.8M644.9 343.3L654.5 348.8M635.3 348.8L635.3 359.9M664.1 343.3L654.5 348.8M664.1 343.3L673.7 348.8M654.5 348.8L654.5 359.9M683.3 343.3L673.7 348.8M683.3 343.3L692.9 348.8M673.7 348.8L673.7 359.9M702.5 343.3L692.9 348.8M692.9 348.8L692.9 359.9M491.3 365.5L486.5 362.7M491.3 365.5L491.3 376.6M500.9 359.9L491.3 365.5M500.9 359.9L510.5 365.5M510.5 365.5L510.5 376.6M520.1 359.9L510.5 365.5M520.1 359.9L529.7 365.5M529.7 365.5L529.7 376.6M539.3 359.9L529.7 365.5M539.3 359.9L548.9 365.5M548.9 365.5L548.9 376.6M558.5 359.9L548.9 365.5M558.5 359.9L568.1 365.5M568.1 365.5L568.1 376.6M577.7 359.9L568.1 365.5M577.7 359.9L587.3 365.5M587.3 365.5L587.3 376.6M596.9 359.9L587.3 365.5M596.9 359.9L606.5 365.5M606.5 365.5L606.5 376.6M616.1 359.9L606.5 365.5M616.1 359.9L625.7 365.5M625.7 365.5L625.7 376.6M635.3 359.9L625.7 365.5M635.3 359.9L644.9 365.5M644.9 365.5L644.9 376.6M654.5 359.9L644.9 365.5M654.5 359.9L664.1 365.5M664.1 365.5L664.1 376.6M673.7 359.9L664.1 365.5M673.7 359.9L683.3 365.5M683.3 365.5L683.3 376.6M692.9 359.9L683.3 365.5M692.9 359.9L697.7 362.7M491.3 376.6L481.7 382.1M491.3 376.6L500.9 382.1M481.7 382.1L481.7 387.6M510.5 376.6L500.9 382.1M510.5 376.6L520.1 382.1M500.9 382.1L500.9 393.2M529.7 376.6L520.1 382.1M529.7 376.6L539.3 382.1M520.1 382.1L520.1 393.2M548.9 376.6L539.3 382.1M548.9 376.6L558.5 382.1M539.3 382.1L539.3 393.2M568.1 376.6L558.5 382.1M568.1 376.6L577.7 382.1M558.5 382.1L558.5 393.2M587.3 376.6L577.7 382.1M587.3 376.6L596.9 382.1M577.7 382.1L577.7 393.2M606.5 376.6L596.9 382.1M606.5 376.6L616.1 382.1M596.9 382.1L596.9 393.2M625.7 376.6L616.1 382.1M625.7 376.6L635.3 382.1M616.1 382.1L616.1 393.2M644.9 376.6L635.3 382.1M644.9 376.6L654.5 382.1M635.3 382.1L635.3 393.2M664.1 376.6L654.5 382.1M664.1 376.6L673.7 382.1M654.5 382.1L654.5 393.2M683.3 376.6L673.7 382.1M683.3 376.6L692.9 382.1M673.7 382.1L673.7 393.2M702.5 376.6L692.9 382.1M692.9 382.1L692.9 393.2M491.3 398.7L486.5 396M491.3 398.7L491.3 409.8M500.9 393.2L491.3 398.7M500.9 393.2L510.5 398.7M510.5 398.7L510.5 409.8M520.1 393.2L510.5 398.7M520.1 393.2L529.7 398.7M529.7 398.7L529.7 409.8M539.3 393.2L529.7 398.7M539.3 393.2L548.9 398.7M548.9 398.7L548.9 409.8M558.5 393.2L548.9 398.7M558.5 393.2L568.1 398.7M568.1 398.7L568.1 409.8M577.7 393.2L568.1 398.7M577.7 393.2L587.3 398.7M587.3 398.7L587.3 409.8M596.9 393.2L587.3 398.7M596.9 393.2L606.5 398.7M606.5 398.7L606.5 409.8M616.1 393.2L606.5 398.7M616.1 393.2L625.7 398.7M625.7 398.7L625.7 409.8M635.3 393.2L625.7 398.7M635.3 393.2L644.9 398.7M644.9 398.7L644.9 409.8M654.5 393.2L644.9 398.7M654.5 393.2L664.1 398.7M664.1 398.7L664.1 409.8M673.7 393.2L664.1 398.7M673.7 393.2L683.3 398.7M683.3 398.7L683.3 409.8M692.9 393.2L683.3 398.7M692.9 393.2L697.7 396M491.3 409.8L481.7 415.4M491.3 409.8L500.9 415.4M481.7 415.4L481.7 420.9M510.5 409.8L500.9 415.4M510.5 409.8L520.1 415.4M500.9 415.4L500.9 426.5M529.7 409.8L520.1 415.4M529.7 409.8L539.3 415.4M520.1 415.4L520.1 426.5M548.9 409.8L539.3 415.4M548.9 409.8L558.5 415.4M539.3 415.4L539.3 426.5M568.1 409.8L558.5 415.4M568.1 409.8L577.7 415.4M558.5 415.4L558.5 426.5M587.3 409.8L577.7 415.4M587.3 409.8L596.9 415.4M577.7 415.4L577.7 426.5M606.5 409.8L596.9 415.4M606.5 409.8L616.1 415.4M596.9 415.4L596.9 426.5M625.7 409.8L616.1 415.4M625.7 409.8L635.3 415.4M616.1 415.4L616.1 426.5M644.9 409.8L635.3 415.4M644.9 409.8L654.5 415.4M635.3 415.4L635.3 426.5M664.1 409.8L654.5 415.4M664.1 409.8L673.7 415.4M654.5 415.4L654.5 426.5M683.3 409.8L673.7 415.4M683.3 409.8L688.1 412.6M673.7 415.4L673.7 426.5M692.9 426.5L692.9 420.9M491.3 443.1L491.3 437.6M500.9 426.5L496.1 429.2M500.9 426.5L510.5 432M510.5 432L510.5 443.1M520.1 426.5L510.5 432M520.1 426.5L529.7 432M529.7 432L529.7 443.1M539.3 426.5L529.7 432M539.3 426.5L548.9 432M548.9 432L548.9 443.1M558.5 426.5L548.9 432M558.5 426.5L568.1 432M568.1 432L568.1 443.1M577.7 426.5L568.1 432M577.7 426.5L587.3 432M587.3 432L587.3 443.1M596.9 426.5L587.3 432M596.9 426.5L606.5 432M606.5 432L606.5 443.1M616.1 426.5L606.5 432M616.1 426.5L625.7 432M625.7 432L625.7 443.1M635.3 426.5L625.7 432M635.3 426.5L644.9 432M644.9 432L644.9 443.1M654.5 426.5L644.9 432M654.5 426.5L664.1 432M664.1 432L664.1 443.1M673.7 426.5L664.1 432M673.7 426.5L683.3 432M683.3 432L683.3 443.1M692.9 426.5L683.3 432M692.9 426.5L697.7 429.2M491.3 443.1L481.7 448.6M491.3 443.1L500.9 448.6M481.7 448.6L481.7 454.2M510.5 443.1L500.9 448.6M510.5 443.1L520.1 448.6M500.9 448.6L500.9 459.7M529.7 443.1L520.1 448.6M529.7 443.1L539.3 448.6M520.1 448.6L520.1 459.7M548.9 443.1L539.3 448.6M548.9 443.1L558.5 448.6M539.3 448.6L539.3 459.7M568.1 443.1L558.5 448.6M568.1 443.1L577.7 448.6M558.5 448.6L558.5 459.7M587.3 443.1L577.7 448.6M587.3 443.1L596.9 448.6M577.7 448.6L577.7 459.7M606.5 443.1L596.9 448.6M606.5 443.1L616.1 448.6M596.9 448.6L596.9 459.7M625.7 443.1L616.1 448.6M625.7 443.1L635.3 448.6M616.1 448.6L616.1 459.7M644.9 443.1L635.3 448.6M644.9 443.1L654.5 448.6M635.3 448.6L635.3 459.7M664.1 443.1L654.5 448.6M664.1 443.1L673.7 448.6M654.5 448.6L654.5 459.7M683.3 443.1L673.7 448.6M683.3 443.1L692.9 448.6M673.7 448.6L673.7 459.7M702.5 443.1L692.9 448.6M702.5 443.1L707.3 445.9M692.9 448.6L692.9 459.7M500.9 459.7L496.1 462.5M500.9 459.7L510.5 465.3M510.5 465.3L510.5 476.4M520.1 459.7L510.5 465.3M520.1 459.7L529.7 465.3M529.7 465.3L529.7 476.4M539.3 459.7L529.7 465.3M539.3 459.7L548.9 465.3M548.9 465.3L548.9 476.4M558.5 459.7L548.9 465.3M558.5 459.7L568.1 465.3M568.1 465.3L568.1 476.4M577.7 459.7L568.1 465.3M577.7 459.7L587.3 465.3M587.3 465.3L587.3 476.4M596.9 459.7L587.3 465.3M596.9 459.7L606.5 465.3M606.5 465.3L606.5 476.4M616.1 459.7L606.5 465.3M616.1 459.7L625.7 465.3M625.7 465.3L625.7 476.4M635.3 459.7L625.7 465.3M635.3 459.7L644.9 465.3M644.9 465.3L644.9 476.4M654.5 459.7L644.9 465.3M654.5 459.7L664.1 465.3M664.1 465.3L664.1 476.4M673.7 459.7L664.1 465.3M673.7 459.7L683.3 465.3M683.3 465.3L683.3 476.4M692.9 459.7L683.3 465.3M692.9 459.7L697.7 462.5M500.9 481.9L496.1 479.1M510.5 476.4L500.9 481.9M510.5 476.4L520.1 481.9M500.9 481.9L500.9 493M529.7 476.4L520.1 481.9M529.7 476.4L539.3 481.9M520.1 481.9L520.1 493M548.9 476.4L539.3 481.9M548.9 476.4L558.5 481.9M539.3 481.9L539.3 493M568.1 476.4L558.5 481.9M568.1 476.4L577.7 481.9M558.5 481.9L558.5 493M587.3 476.4L577.7 481.9M587.3 476.4L596.9 481.9M577.7 481.9L577.7 493M606.5 476.4L596.9 481.9M606.5 476.4L616.1 481.9M596.9 481.9L596.9 493M625.7 476.4L616.1 481.9M625.7 476.4L635.3 481.9M616.1 481.9L616.1 493M644.9 476.4L635.3 481.9M644.9 476.4L654.5 481.9M635.3 481.9L635.3 493M664.1 476.4L654.5 481.9M664.1 476.4L673.7 481.9M654.5 481.9L654.5 493M683.3 476.4L673.7 481.9M683.3 476.4L688.1 479.1M673.7 481.9L673.7 493M692.9 493L692.9 487.5M500.9 493L491.3 498.5M500.9 493L510.5 498.5M520.1 493L510.5 498.5M520.1 493L529.7 498.5M539.3 493L529.7 498.5M539.3 493L548.9 498.5M558.5 493L548.9 498.5M558.5 493L568.1 498.5M577.7 493L568.1 498.5M577.7 493L587.3 498.5M596.9 493L587.3 498.5M596.9 493L606.5 498.5M616.1 493L606.5 498.5M616.1 493L625.7 498.5M635.3 493L625.7 498.5M635.3 493L644.9 498.5M654.5 493L644.9 498.5M654.5 493L664.1 498.5M673.7 493L664.1 498.5M673.7 493L683.3 498.5M692.9 493L683.3 498.5M692.9 493L697.7 495.8" stroke="#b8708c" stroke-width="1.6" fill="none"/><g fill="none" stroke-linecap="round"><path d="M491.3 337.7h0M496.1 329.4h0M505.7 329.4h0M510.5 337.7h0M515.3 329.4h0M524.9 329.4h0M529.7 337.7h0M534.5 329.4h0M544.1 329.4h0M548.9 337.7h0M553.7 329.4h0M563.3 329.4h0M568.1 337.7h0M572.9 329.4h0M582.5 329.4h0M587.3 337.7h0M592.1 329.4h0M601.7 329.4h0M606.5 337.7h0M611.3 329.4h0M620.9 329.4h0M625.7 337.7h0M630.5 329.4h0M640.1 329.4h0M644.9 337.7h0M649.7 329.4h0M659.3 329.4h0M664.1 337.7h0M668.9 329.4h0M678.5 329.4h0M683.3 337.7h0M688.1 329.4h0M486.5 346.1h0M496.1 346.1h0M505.7 346.1h0M515.3 346.1h0M500.9 354.4h0M524.9 346.1h0M534.5 346.1h0M520.1 354.4h0M544.1 346.1h0M553.7 346.1h0M539.3 354.4h0M563.3 346.1h0M572.9 346.1h0M558.5 354.4h0M582.5 346.1h0M592.1 346.1h0M577.7 354.4h0M601.7 346.1h0M611.3 346.1h0M596.9 354.4h0M620.9 346.1h0M630.5 346.1h0M616.1 354.4h0M640.1 346.1h0M649.7 346.1h0M635.3 354.4h0M659.3 346.1h0M668.9 346.1h0M654.5 354.4h0M678.5 346.1h0M688.1 346.1h0M673.7 354.4h0M697.7 346.1h0M692.9 354.4h0M486.5 362.7h0M491.3 371h0M496.1 362.7h0M505.7 362.7h0M510.5 371h0M515.3 362.7h0M524.9 362.7h0M529.7 371h0M534.5 362.7h0M544.1 362.7h0M548.9 371h0M553.7 362.7h0M563.3 362.7h0M568.1 371h0M572.9 362.7h0M582.5 362.7h0M587.3 371h0M592.1 362.7h0M601.7 362.7h0M606.5 371h0M611.3 362.7h0M620.9 362.7h0M625.7 371h0M630.5 362.7h0M640.1 362.7h0M644.9 371h0M649.7 362.7h0M659.3 362.7h0M664.1 371h0M668.9 362.7h0M678.5 362.7h0M683.3 371h0M688.1 362.7h0M697.7 362.7h0M486.5 379.3h0M496.1 379.3h0M481.7 387.6h0M505.7 379.3h0M515.3 379.3h0M500.9 387.6h0M524.9 379.3h0M534.5 379.3h0M520.1 387.6h0M544.1 379.3h0M553.7 379.3h0M539.3 387.6h0M563.3 379.3h0M572.9 379.3h0M558.5 387.6h0M582.5 379.3h0M592.1 379.3h0M577.7 387.6h0M601.7 379.3h0M611.3 379.3h0M596.9 387.6h0M620.9 379.3h0M630.5 379.3h0M616.1 387.6h0M640.1 379.3h0M649.7 379.3h0M635.3 387.6h0M659.3 379.3h0M668.9 379.3h0M654.5 387.6h0M678.5 379.3h0M688.1 379.3h0M673.7 387.6h0M697.7 379.3h0M692.9 387.6h0M486.5 396h0M491.3 404.3h0M496.1 396h0M505.7 396h0M510.5 404.3h0M515.3 396h0M524.9 396h0M529.7 404.3h0M534.5 396h0M544.1 396h0M548.9 404.3h0M553.7 396h0M563.3 396h0M568.1 404.3h0M572.9 396h0M582.5 396h0M587.3 404.3h0M592.1 396h0M601.7 396h0M606.5 404.3h0M611.3 396h0M620.9 396h0M625.7 404.3h0M630.5 396h0M640.1 396h0M644.9 404.3h0M649.7 396h0M659.3 396h0M664.1 404.3h0M668.9 396h0M678.5 396h0M683.3 404.3h0M688.1 396h0M697.7 396h0M486.5 412.6h0M496.1 412.6h0M481.7 420.9h0M505.7 412.6h0M515.3 412.6h0M500.9 420.9h0M524.9 412.6h0M534.5 412.6h0M520.1 420.9h0M544.1 412.6h0M553.7 412.6h0M539.3 420.9h0M563.3 412.6h0M572.9 412.6h0M558.5 420.9h0M582.5 412.6h0M592.1 412.6h0M577.7 420.9h0M601.7 412.6h0M611.3 412.6h0M596.9 420.9h0M620.9 412.6h0M630.5 412.6h0M616.1 420.9h0M640.1 412.6h0M649.7 412.6h0M635.3 420.9h0M659.3 412.6h0M668.9 412.6h0M654.5 420.9h0M678.5 412.6h0M688.1 412.6h0M673.7 420.9h0M692.9 420.9h0M491.3 437.6h0M496.1 429.2h0M505.7 429.2h0M510.5 437.6h0M515.3 429.2h0M524.9 429.2h0M529.7 437.6h0M534.5 429.2h0M544.1 429.2h0M548.9 437.6h0M553.7 429.2h0M563.3 429.2h0M568.1 437.6h0M572.9 429.2h0M582.5 429.2h0M587.3 437.6h0M592.1 429.2h0M601.7 429.2h0M606.5 437.6h0M611.3 429.2h0M620.9 429.2h0M625.7 437.6h0M630.5 429.2h0M640.1 429.2h0M644.9 437.6h0M649.7 429.2h0M659.3 429.2h0M664.1 437.6h0M668.9 429.2h0M678.5 429.2h0M683.3 437.6h0M688.1 429.2h0M697.7 429.2h0M486.5 445.9h0M496.1 445.9h0M481.7 454.2h0M505.7 445.9h0M515.3 445.9h0M500.9 454.2h0M524.9 445.9h0M534.5 445.9h0M520.1 454.2h0M544.1 445.9h0M553.7 445.9h0M539.3 454.2h0M563.3 445.9h0M572.9 445.9h0M558.5 454.2h0M582.5 445.9h0M592.1 445.9h0M577.7 454.2h0M601.7 445.9h0M611.3 445.9h0M596.9 454.2h0M620.9 445.9h0M630.5 445.9h0M616.1 454.2h0M640.1 445.9h0M649.7 445.9h0M635.3 454.2h0M659.3 445.9h0M668.9 445.9h0M654.5 454.2h0M678.5 445.9h0M688.1 445.9h0M673.7 454.2h0M697.7 445.9h0M707.3 445.9h0M692.9 454.2h0M496.1 462.5h0M505.7 462.5h0M510.5 470.8h0M515.3 462.5h0M524.9 462.5h0M529.7 470.8h0M534.5 462.5h0M544.1 462.5h0M548.9 470.8h0M553.7 462.5h0M563.3 462.5h0M568.1 470.8h0M572.9 462.5h0M582.5 462.5h0M587.3 470.8h0M592.1 462.5h0M601.7 462.5h0M606.5 470.8h0M611.3 462.5h0M620.9 462.5h0M625.7 470.8h0M630.5 462.5h0M640.1 462.5h0M644.9 470.8h0M649.7 462.5h0M659.3 462.5h0M664.1 470.8h0M668.9 462.5h0M678.5 462.5h0M683.3 470.8h0M688.1 462.5h0M697.7 462.5h0M496.1 479.1h0M505.7 479.1h0M515.3 479.1h0M500.9 487.5h0M524.9 479.1h0M534.5 479.1h0M520.1 487.5h0M544.1 479.1h0M553.7 479.1h0M539.3 487.5h0M563.3 479.1h0M572.9 479.1h0M558.5 487.5h0M582.5 479.1h0M592.1 479.1h0M577.7 487.5h0M601.7 479.1h0M611.3 479.1h0M596.9 487.5h0M620.9 479.1h0M630.5 479.1h0M616.1 487.5h0M640.1 479.1h0M649.7 479.1h0M635.3 487.5h0M659.3 479.1h0M668.9 479.1h0M654.5 487.5h0M678.5 479.1h0M688.1 479.1h0M673.7 487.5h0M692.9 487.5h0M496.1 495.8h0M505.7 495.8h0M515.3 495.8h0M524.9 495.8h0M534.5 495.8h0M544.1 495.8h0M553.7 495.8h0M563.3 495.8h0M572.9 495.8h0M582.5 495.8h0M592.1 495.8h0M601.7 495.8h0M611.3 495.8h0M620.9 495.8h0M630.5 495.8h0M640.1 495.8h0M649.7 495.8h0M659.3 495.8h0M668.9 495.8h0M678.5 495.8h0M688.1 495.8h0M697.7 495.8h0" stroke="#d94a55" stroke-width="6.4"/><path d="M491.3 337.7h0M496.1 329.4h0M505.7 329.4h0M510.5 337.7h0M515.3 329.4h0M524.9 329.4h0M529.7 337.7h0M534.5 329.4h0M544.1 329.4h0M548.9 337.7h0M553.7 329.4h0M563.3 329.4h0M568.1 337.7h0M572.9 329.4h0M582.5 329.4h0M587.3 337.7h0M592.1 329.4h0M601.7 329.4h0M606.5 337.7h0M611.3 329.4h0M620.9 329.4h0M625.7 337.7h0M630.5 329.4h0M640.1 329.4h0M644.9 337.7h0M649.7 329.4h0M659.3 329.4h0M664.1 337.7h0M668.9 329.4h0M678.5 329.4h0M683.3 337.7h0M688.1 329.4h0M486.5 346.1h0M496.1 346.1h0M505.7 346.1h0M515.3 346.1h0M500.9 354.4h0M524.9 346.1h0M534.5 346.1h0M520.1 354.4h0M544.1 346.1h0M553.7 346.1h0M539.3 354.4h0M563.3 346.1h0M572.9 346.1h0M558.5 354.4h0M582.5 346.1h0M592.1 346.1h0M577.7 354.4h0M601.7 346.1h0M611.3 346.1h0M596.9 354.4h0M620.9 346.1h0M630.5 346.1h0M616.1 354.4h0M640.1 346.1h0M649.7 346.1h0M635.3 354.4h0M659.3 346.1h0M668.9 346.1h0M654.5 354.4h0M678.5 346.1h0M688.1 346.1h0M673.7 354.4h0M697.7 346.1h0M692.9 354.4h0M486.5 362.7h0M491.3 371h0M496.1 362.7h0M505.7 362.7h0M510.5 371h0M515.3 362.7h0M524.9 362.7h0M529.7 371h0M534.5 362.7h0M544.1 362.7h0M548.9 371h0M553.7 362.7h0M563.3 362.7h0M568.1 371h0M572.9 362.7h0M582.5 362.7h0M587.3 371h0M592.1 362.7h0M601.7 362.7h0M606.5 371h0M611.3 362.7h0M620.9 362.7h0M625.7 371h0M630.5 362.7h0M640.1 362.7h0M644.9 371h0M649.7 362.7h0M659.3 362.7h0M664.1 371h0M668.9 362.7h0M678.5 362.7h0M683.3 371h0M688.1 362.7h0M697.7 362.7h0M486.5 379.3h0M496.1 379.3h0M481.7 387.6h0M505.7 379.3h0M515.3 379.3h0M500.9 387.6h0M524.9 379.3h0M534.5 379.3h0M520.1 387.6h0M544.1 379.3h0M553.7 379.3h0M539.3 387.6h0M563.3 379.3h0M572.9 379.3h0M558.5 387.6h0M582.5 379.3h0M592.1 379.3h0M577.7 387.6h0M601.7 379.3h0M611.3 379.3h0M596.9 387.6h0M620.9 379.3h0M630.5 379.3h0M616.1 387.6h0M640.1 379.3h0M649.7 379.3h0M635.3 387.6h0M659.3 379.3h0M668.9 379.3h0M654.5 387.6h0M678.5 379.3h0M688.1 379.3h0M673.7 387.6h0M697.7 379.3h0M692.9 387.6h0M486.5 396h0M491.3 404.3h0M496.1 396h0M505.7 396h0M510.5 404.3h0M515.3 396h0M524.9 396h0M529.7 404.3h0M534.5 396h0M544.1 396h0M548.9 404.3h0M553.7 396h0M563.3 396h0M568.1 404.3h0M572.9 396h0M582.5 396h0M587.3 404.3h0M592.1 396h0M601.7 396h0M606.5 404.3h0M611.3 396h0M620.9 396h0M625.7 404.3h0M630.5 396h0M640.1 396h0M644.9 404.3h0M649.7 396h0M659.3 396h0M664.1 404.3h0M668.9 396h0M678.5 396h0M683.3 404.3h0M688.1 396h0M697.7 396h0M486.5 412.6h0M496.1 412.6h0M481.7 420.9h0M505.7 412.6h0M515.3 412.6h0M500.9 420.9h0M524.9 412.6h0M534.5 412.6h0M520.1 420.9h0M544.1 412.6h0M553.7 412.6h0M539.3 420.9h0M563.3 412.6h0M572.9 412.6h0M558.5 420.9h0M582.5 412.6h0M592.1 412.6h0M577.7 420.9h0M601.7 412.6h0M611.3 412.6h0M596.9 420.9h0M620.9 412.6h0M630.5 412.6h0M616.1 420.9h0M640.1 412.6h0M649.7 412.6h0M635.3 420.9h0M659.3 412.6h0M668.9 412.6h0M654.5 420.9h0M678.5 412.6h0M688.1 412.6h0M673.7 420.9h0M692.9 420.9h0M491.3 437.6h0M496.1 429.2h0M505.7 429.2h0M510.5 437.6h0M515.3 429.2h0M524.9 429.2h0M529.7 437.6h0M534.5 429.2h0M544.1 429.2h0M548.9 437.6h0M553.7 429.2h0M563.3 429.2h0M568.1 437.6h0M572.9 429.2h0M582.5 429.2h0M587.3 437.6h0M592.1 429.2h0M601.7 429.2h0M606.5 437.6h0M611.3 429.2h0M620.9 429.2h0M625.7 437.6h0M630.5 429.2h0M640.1 429.2h0M644.9 437.6h0M649.7 429.2h0M659.3 429.2h0M664.1 437.6h0M668.9 429.2h0M678.5 429.2h0M683.3 437.6h0M688.1 429.2h0M697.7 429.2h0M486.5 445.9h0M496.1 445.9h0M481.7 454.2h0M505.7 445.9h0M515.3 445.9h0M500.9 454.2h0M524.9 445.9h0M534.5 445.9h0M520.1 454.2h0M544.1 445.9h0M553.7 445.9h0M539.3 454.2h0M563.3 445.9h0M572.9 445.9h0M558.5 454.2h0M582.5 445.9h0M592.1 445.9h0M577.7 454.2h0M601.7 445.9h0M611.3 445.9h0M596.9 454.2h0M620.9 445.9h0M630.5 445.9h0M616.1 454.2h0M640.1 445.9h0M649.7 445.9h0M635.3 454.2h0M659.3 445.9h0M668.9 445.9h0M654.5 454.2h0M678.5 445.9h0M688.1 445.9h0M673.7 454.2h0M697.7 445.9h0M707.3 445.9h0M692.9 454.2h0M496.1 462.5h0M505.7 462.5h0M510.5 470.8h0M515.3 462.5h0M524.9 462.5h0M529.7 470.8h0M534.5 462.5h0M544.1 462.5h0M548.9 470.8h0M553.7 462.5h0M563.3 462.5h0M568.1 470.8h0M572.9 462.5h0M582.5 462.5h0M587.3 470.8h0M592.1 462.5h0M601.7 462.5h0M606.5 470.8h0M611.3 462.5h0M620.9 462.5h0M625.7 470.8h0M630.5 462.5h0M640.1 462.5h0M644.9 470.8h0M649.7 462.5h0M659.3 462.5h0M664.1 470.8h0M668.9 462.5h0M678.5 462.5h0M683.3 470.8h0M688.1 462.5h0M697.7 462.5h0M496.1 479.1h0M505.7 479.1h0M515.3 479.1h0M500.9 487.5h0M524.9 479.1h0M534.5 479.1h0M520.1 487.5h0M544.1 479.1h0M553.7 479.1h0M539.3 487.5h0M563.3 479.1h0M572.9 479.1h0M558.5 487.5h0M582.5 479.1h0M592.1 479.1h0M577.7 487.5h0M601.7 479.1h0M611.3 479.1h0M596.9 487.5h0M620.9 479.1h0M630.5 479.1h0M616.1 487.5h0M640.1 479.1h0M649.7 479.1h0M635.3 487.5h0M659.3 479.1h0M668.9 479.1h0M654.5 487.5h0M678.5 479.1h0M688.1 479.1h0M673.7 487.5h0M692.9 487.5h0M496.1 495.8h0M505.7 495.8h0M515.3 495.8h0M524.9 495.8h0M534.5 495.8h0M544.1 495.8h0M553.7 495.8h0M563.3 495.8h0M572.9 495.8h0M582.5 495.8h0M592.1 495.8h0M601.7 495.8h0M611.3 495.8h0M620.9 495.8h0M630.5 495.8h0M640.1 495.8h0M649.7 495.8h0M659.3 495.8h0M668.9 495.8h0M678.5 495.8h0M688.1 495.8h0M697.7 495.8h0" stroke="#ef5d62" stroke-width="5.6"/><path d="M500.9 326.7h0M510.5 332.2h0M520.1 326.7h0M529.7 332.2h0M539.3 326.7h0M548.9 332.2h0M558.5 326.7h0M568.1 332.2h0M577.7 326.7h0M587.3 332.2h0M596.9 326.7h0M606.5 332.2h0M616.1 326.7h0M625.7 332.2h0M635.3 326.7h0M644.9 332.2h0M654.5 326.7h0M664.1 332.2h0M673.7 326.7h0M683.3 332.2h0M491.3 343.3h0M510.5 343.3h0M500.9 348.8h0M529.7 343.3h0M520.1 348.8h0M548.9 343.3h0M539.3 348.8h0M568.1 343.3h0M558.5 348.8h0M587.3 343.3h0M577.7 348.8h0M606.5 343.3h0M596.9 348.8h0M625.7 343.3h0M616.1 348.8h0M644.9 343.3h0M635.3 348.8h0M664.1 343.3h0M654.5 348.8h0M683.3 343.3h0M673.7 348.8h0M702.5 343.3h0M692.9 348.8h0M491.3 365.5h0M500.9 359.9h0M510.5 365.5h0M520.1 359.9h0M529.7 365.5h0M539.3 359.9h0M548.9 365.5h0M558.5 359.9h0M568.1 365.5h0M577.7 359.9h0M587.3 365.5h0M596.9 359.9h0M606.5 365.5h0M616.1 359.9h0M625.7 365.5h0M635.3 359.9h0M644.9 365.5h0M654.5 359.9h0M664.1 365.5h0M673.7 359.9h0M683.3 365.5h0M692.9 359.9h0M491.3 376.6h0M481.7 382.1h0M510.5 376.6h0M500.9 382.1h0M529.7 376.6h0M520.1 382.1h0M548.9 376.6h0M539.3 382.1h0M568.1 376.6h0M558.5 382.1h0M587.3 376.6h0M577.7 382.1h0M606.5 376.6h0M596.9 382.1h0M625.7 376.6h0M616.1 382.1h0M644.9 376.6h0M635.3 382.1h0M664.1 376.6h0M654.5 382.1h0M683.3 376.6h0M673.7 382.1h0M702.5 376.6h0M692.9 382.1h0M491.3 398.7h0M500.9 393.2h0M510.5 398.7h0M520.1 393.2h0M529.7 398.7h0M539.3 393.2h0M548.9 398.7h0M558.5 393.2h0M568.1 398.7h0M577.7 393.2h0M587.3 398.7h0M596.9 393.2h0M606.5 398.7h0M616.1 393.2h0M625.7 398.7h0M635.3 393.2h0M644.9 398.7h0M654.5 393.2h0M664.1 398.7h0M673.7 393.2h0M683.3 398.7h0M692.9 393.2h0M491.3 409.8h0M481.7 415.4h0M510.5 409.8h0M500.9 415.4h0M529.7 409.8h0M520.1 415.4h0M548.9 409.8h0M539.3 415.4h0M568.1 409.8h0M558.5 415.4h0M587.3 409.8h0M577.7 415.4h0M606.5 409.8h0M596.9 415.4h0M625.7 409.8h0M616.1 415.4h0M644.9 409.8h0M635.3 415.4h0M664.1 409.8h0M654.5 415.4h0M683.3 409.8h0M673.7 415.4h0M500.9 426.5h0M510.5 432h0M520.1 426.5h0M529.7 432h0M539.3 426.5h0M548.9 432h0M558.5 426.5h0M568.1 432h0M577.7 426.5h0M587.3 432h0M596.9 426.5h0M606.5 432h0M616.1 426.5h0M625.7 432h0M635.3 426.5h0M644.9 432h0M654.5 426.5h0M664.1 432h0M673.7 426.5h0M683.3 432h0M692.9 426.5h0M491.3 443.1h0M481.7 448.6h0M510.5 443.1h0M500.9 448.6h0M529.7 443.1h0M520.1 448.6h0M548.9 443.1h0M539.3 448.6h0M568.1 443.1h0M558.5 448.6h0M587.3 443.1h0M577.7 448.6h0M606.5 443.1h0M596.9 448.6h0M625.7 443.1h0M616.1 448.6h0M644.9 443.1h0M635.3 448.6h0M664.1 443.1h0M654.5 448.6h0M683.3 443.1h0M673.7 448.6h0M702.5 443.1h0M692.9 448.6h0M500.9 459.7h0M510.5 465.3h0M520.1 459.7h0M529.7 465.3h0M539.3 459.7h0M548.9 465.3h0M558.5 459.7h0M568.1 465.3h0M577.7 459.7h0M587.3 465.3h0M596.9 459.7h0M606.5 465.3h0M616.1 459.7h0M625.7 465.3h0M635.3 459.7h0M644.9 465.3h0M654.5 459.7h0M664.1 465.3h0M673.7 459.7h0M683.3 465.3h0M692.9 459.7h0M510.5 476.4h0M500.9 481.9h0M529.7 476.4h0M520.1 481.9h0M548.9 476.4h0M539.3 481.9h0M568.1 476.4h0M558.5 481.9h0M587.3 476.4h0M577.7 481.9h0M606.5 476.4h0M596.9 481.9h0M625.7 476.4h0M616.1 481.9h0M644.9 476.4h0M635.3 481.9h0M664.1 476.4h0M654.5 481.9h0M683.3 476.4h0M673.7 481.9h0M491.3 498.5h0M500.9 493h0M510.5 498.5h0M520.1 493h0M529.7 498.5h0M539.3 493h0M548.9 498.5h0M558.5 493h0M568.1 498.5h0M577.7 493h0M587.3 498.5h0M596.9 493h0M606.5 498.5h0M616.1 493h0M625.7 498.5h0M635.3 493h0M644.9 498.5h0M654.5 493h0M664.1 498.5h0M673.7 493h0M683.3 498.5h0M692.9 493h0" stroke="#4f8fd0" stroke-width="6.4"/><path d="M500.9 326.7h0M510.5 332.2h0M520.1 326.7h0M529.7 332.2h0M539.3 326.7h0M548.9 332.2h0M558.5 326.7h0M568.1 332.2h0M577.7 326.7h0M587.3 332.2h0M596.9 326.7h0M606.5 332.2h0M616.1 326.7h0M625.7 332.2h0M635.3 326.7h0M644.9 332.2h0M654.5 326.7h0M664.1 332.2h0M673.7 326.7h0M683.3 332.2h0M491.3 343.3h0M510.5 343.3h0M500.9 348.8h0M529.7 343.3h0M520.1 348.8h0M548.9 343.3h0M539.3 348.8h0M568.1 343.3h0M558.5 348.8h0M587.3 343.3h0M577.7 348.8h0M606.5 343.3h0M596.9 348.8h0M625.7 343.3h0M616.1 348.8h0M644.9 343.3h0M635.3 348.8h0M664.1 343.3h0M654.5 348.8h0M683.3 343.3h0M673.7 348.8h0M702.5 343.3h0M692.9 348.8h0M491.3 365.5h0M500.9 359.9h0M510.5 365.5h0M520.1 359.9h0M529.7 365.5h0M539.3 359.9h0M548.9 365.5h0M558.5 359.9h0M568.1 365.5h0M577.7 359.9h0M587.3 365.5h0M596.9 359.9h0M606.5 365.5h0M616.1 359.9h0M625.7 365.5h0M635.3 359.9h0M644.9 365.5h0M654.5 359.9h0M664.1 365.5h0M673.7 359.9h0M683.3 365.5h0M692.9 359.9h0M491.3 376.6h0M481.7 382.1h0M510.5 376.6h0M500.9 382.1h0M529.7 376.6h0M520.1 382.1h0M548.9 376.6h0M539.3 382.1h0M568.1 376.6h0M558.5 382.1h0M587.3 376.6h0M577.7 382.1h0M606.5 376.6h0M596.9 382.1h0M625.7 376.6h0M616.1 382.1h0M644.9 376.6h0M635.3 382.1h0M664.1 376.6h0M654.5 382.1h0M683.3 376.6h0M673.7 382.1h0M702.5 376.6h0M692.9 382.1h0M491.3 398.7h0M500.9 393.2h0M510.5 398.7h0M520.1 393.2h0M529.7 398.7h0M539.3 393.2h0M548.9 398.7h0M558.5 393.2h0M568.1 398.7h0M577.7 393.2h0M587.3 398.7h0M596.9 393.2h0M606.5 398.7h0M616.1 393.2h0M625.7 398.7h0M635.3 393.2h0M644.9 398.7h0M654.5 393.2h0M664.1 398.7h0M673.7 393.2h0M683.3 398.7h0M692.9 393.2h0M491.3 409.8h0M481.7 415.4h0M510.5 409.8h0M500.9 415.4h0M529.7 409.8h0M520.1 415.4h0M548.9 409.8h0M539.3 415.4h0M568.1 409.8h0M558.5 415.4h0M587.3 409.8h0M577.7 415.4h0M606.5 409.8h0M596.9 415.4h0M625.7 409.8h0M616.1 415.4h0M644.9 409.8h0M635.3 415.4h0M664.1 409.8h0M654.5 415.4h0M683.3 409.8h0M673.7 415.4h0M500.9 426.5h0M510.5 432h0M520.1 426.5h0M529.7 432h0M539.3 426.5h0M548.9 432h0M558.5 426.5h0M568.1 432h0M577.7 426.5h0M587.3 432h0M596.9 426.5h0M606.5 432h0M616.1 426.5h0M625.7 432h0M635.3 426.5h0M644.9 432h0M654.5 426.5h0M664.1 432h0M673.7 426.5h0M683.3 432h0M692.9 426.5h0M491.3 443.1h0M481.7 448.6h0M510.5 443.1h0M500.9 448.6h0M529.7 443.1h0M520.1 448.6h0M548.9 443.1h0M539.3 448.6h0M568.1 443.1h0M558.5 448.6h0M587.3 443.1h0M577.7 448.6h0M606.5 443.1h0M596.9 448.6h0M625.7 443.1h0M616.1 448.6h0M644.9 443.1h0M635.3 448.6h0M664.1 443.1h0M654.5 448.6h0M683.3 443.1h0M673.7 448.6h0M702.5 443.1h0M692.9 448.6h0M500.9 459.7h0M510.5 465.3h0M520.1 459.7h0M529.7 465.3h0M539.3 459.7h0M548.9 465.3h0M558.5 459.7h0M568.1 465.3h0M577.7 459.7h0M587.3 465.3h0M596.9 459.7h0M606.5 465.3h0M616.1 459.7h0M625.7 465.3h0M635.3 459.7h0M644.9 465.3h0M654.5 459.7h0M664.1 465.3h0M673.7 459.7h0M683.3 465.3h0M692.9 459.7h0M510.5 476.4h0M500.9 481.9h0M529.7 476.4h0M520.1 481.9h0M548.9 476.4h0M539.3 481.9h0M568.1 476.4h0M558.5 481.9h0M587.3 476.4h0M577.7 481.9h0M606.5 476.4h0M596.9 481.9h0M625.7 476.4h0M616.1 481.9h0M644.9 476.4h0M635.3 481.9h0M664.1 476.4h0M654.5 481.9h0M683.3 476.4h0M673.7 481.9h0M491.3 498.5h0M500.9 493h0M510.5 498.5h0M520.1 493h0M529.7 498.5h0M539.3 493h0M548.9 498.5h0M558.5 493h0M568.1 498.5h0M577.7 493h0M587.3 498.5h0M596.9 493h0M606.5 498.5h0M616.1 493h0M625.7 498.5h0M635.3 493h0M644.9 498.5h0M654.5 493h0M664.1 498.5h0M673.7 493h0M683.3 498.5h0M692.9 493h0" stroke="#6db3ea" stroke-width="5.4"/></g>
<circle cx="601.6" cy="199.8" r="9.2" stroke="#111" stroke-width="1.3" fill="none" stroke-dasharray="3.6 2.6"/>
<circle cx="587.2" cy="333.6" r="9.6" stroke="#111" stroke-width="1.3" fill="none" stroke-dasharray="3.6 2.6"/>
<path d="M601 209 L595.2 236" stroke="#111" stroke-width="1.3" fill="none" stroke-dasharray="3.6 2.6"/>
<path d="M608.4 288.6 L591.5 325" stroke="#111" stroke-width="1.3" fill="none" stroke-dasharray="3.6 2.6"/>
<path d="M604.7 238.8 L617 245.3 L617 258.4 L604.7 265.3 L592.8 258.4 L592.8 245.3 Z" fill="none" stroke="#3fa3d4" stroke-width="1.1" />
<path d="M605.6 241.7 L614.4 246.6" fill="none" stroke="#3fa3d4" stroke-width="1.05" stroke-linejoin="round" stroke-linecap="round"/>
<path d="M595.3 246.7 L595.3 257" fill="none" stroke="#3fa3d4" stroke-width="1.05" stroke-linejoin="round" stroke-linecap="round"/>
<path d="M614.4 257.2 L605.9 262.1" fill="none" stroke="#3fa3d4" stroke-width="1.05" stroke-linejoin="round" stroke-linecap="round"/>
<path d="M592.8 245.3 L586.3 242.3" fill="none" stroke="#3fa3d4" stroke-width="1.05" stroke-linejoin="round" stroke-linecap="round"/>
<path d="M585.2 242.3 L585.2 237" fill="none" stroke="#3fa3d4" stroke-width="1.05" stroke-linejoin="round" stroke-linecap="round"/>
<path d="M587.6 242.7 L587.6 237" fill="none" stroke="#3fa3d4" stroke-width="1.05" stroke-linejoin="round" stroke-linecap="round"/>
<path d="M586.3 242.3 L579.9 245.5" fill="none" stroke="#3fa3d4" stroke-width="1.05" stroke-linejoin="round" stroke-linecap="round"/>
<path d="M574.9 244.4 L571.3 233.4 L557 233.4 L553.5 244.4 L553.5 247.7 L557 257.8 L571.3 257.8 L574.9 247.7" fill="none" stroke="#d8545a" stroke-width="1.05" />
<path d="M549.2 245.5 L542.7 242.7" fill="none" stroke="#3fa3d4" stroke-width="1.05" stroke-linejoin="round" stroke-linecap="round"/>
<path d="M541.5 242.7 L541.1 237.2" fill="none" stroke="#3fa3d4" stroke-width="1.05" stroke-linejoin="round" stroke-linecap="round"/>
<path d="M543.9 242.4 L543.4 237.2" fill="none" stroke="#3fa3d4" stroke-width="1.05" stroke-linejoin="round" stroke-linecap="round"/>
<path d="M542.7 242.7 L533.8 246.9" fill="none" stroke="#3fa3d4" stroke-width="1.05" stroke-linejoin="round" stroke-linecap="round"/>
<path d="M544.2 253.9 L541.2 255.1 L532.8 235.8 L535 234.8" fill="none" stroke="#111" stroke-width="1.1" stroke-linejoin="round" stroke-linecap="round"/>
<path d="M617 245.3 L622 241.7" fill="none" stroke="#3fa3d4" stroke-width="1.05" stroke-linejoin="round" stroke-linecap="round"/>
<path d="M620.8 241.7 L620.8 236.4" fill="none" stroke="#3fa3d4" stroke-width="1.05" stroke-linejoin="round" stroke-linecap="round"/>
<path d="M623.2 242 L623.2 236.4" fill="none" stroke="#3fa3d4" stroke-width="1.05" stroke-linejoin="round" stroke-linecap="round"/>
<path d="M622 241.7 L629.5 245.5" fill="none" stroke="#3fa3d4" stroke-width="1.05" stroke-linejoin="round" stroke-linecap="round"/>
<path d="M633.6 245.1 L643.1 239.3 L655.2 245.9 L655.2 257.2 L651.8 264.4 L643.5 267.4 L631.6 260.8 L631.6 250.1" fill="none" stroke="#d8545a" stroke-width="1.05" />
<path d="M657 262 L664.7 265.6" fill="none" stroke="#3fa3d4" stroke-width="1.05" stroke-linejoin="round" stroke-linecap="round"/>
<path d="M663.5 265.8 L663.5 271.3" fill="none" stroke="#3fa3d4" stroke-width="1.05" stroke-linejoin="round" stroke-linecap="round"/>
<path d="M665.9 265.3 L665.9 271.3" fill="none" stroke="#3fa3d4" stroke-width="1.05" stroke-linejoin="round" stroke-linecap="round"/>
<path d="M664.7 265.6 L672.5 262" fill="none" stroke="#3fa3d4" stroke-width="1.05" stroke-linejoin="round" stroke-linecap="round"/>
<path d="M661.4 254.8 L665.5 253.9 L674.2 272.1 L672.1 273.3" fill="none" stroke="#111" stroke-width="1.1" stroke-linejoin="round" stroke-linecap="round"/>
<path d="M604.7 265.3 L604.7 273.9" fill="none" stroke="#3fa3d4" stroke-width="1.05" stroke-linejoin="round" stroke-linecap="round"/>
<path d="M604 272.3 L598.8 274.9" fill="none" stroke="#3fa3d4" stroke-width="1.05" stroke-linejoin="round" stroke-linecap="round"/>
<path d="M605 274.4 L599.7 277" fill="none" stroke="#3fa3d4" stroke-width="1.05" stroke-linejoin="round" stroke-linecap="round"/>
<path d="M604.7 273.9 L610.5 278.1" fill="none" stroke="#3fa3d4" stroke-width="1.05" stroke-linejoin="round" stroke-linecap="round"/>
<path d="M614.3 278.1 L623.2 272.5 L635.1 279.3 L635.1 290.6 L632.2 297.8 L623.6 300.8 L611.3 294.2 L611.3 283.5" fill="none" stroke="#d8545a" stroke-width="1.05" />
<path d="M636.9 294.8 L644.1 299" fill="none" stroke="#3fa3d4" stroke-width="1.05" stroke-linejoin="round" stroke-linecap="round"/>
<path d="M643.1 298 L649.4 295.4" fill="none" stroke="#3fa3d4" stroke-width="1.05" stroke-linejoin="round" stroke-linecap="round"/>
<path d="M644.3 300.2 L650.3 297.5" fill="none" stroke="#3fa3d4" stroke-width="1.05" stroke-linejoin="round" stroke-linecap="round"/>
<path d="M644.1 299 L644.3 307.3" fill="none" stroke="#3fa3d4" stroke-width="1.05" stroke-linejoin="round" stroke-linecap="round"/>
<path d="M633.6 302.5 L633.6 304.4 L654.8 304.4 L654.8 302.5" fill="none" stroke="#111" stroke-width="1.1" stroke-linejoin="round" stroke-linecap="round"/>
<text x="586.3" y="235.8" font-size="9" fill="#3fa3d4" text-anchor="middle" >O</text>
<text x="540.6" y="235.8" font-size="9" fill="#3fa3d4" text-anchor="middle" >O</text>
<text x="621.7" y="235.2" font-size="9" fill="#3fa3d4" text-anchor="middle" >O</text>
<text x="664.7" y="278.7" font-size="9" fill="#3fa3d4" text-anchor="middle" >O</text>
<text x="595.2" y="279.3" font-size="9" fill="#3fa3d4" text-anchor="middle" >O</text>
<text x="653.3" y="299" font-size="9" fill="#3fa3d4" text-anchor="middle" >O</text>
<text x="552.3" y="249.8" font-size="9" fill="#d8545a" text-anchor="middle" font-style="italic" >N</text>
<text x="576.5" y="249.8" font-size="9" fill="#d8545a" text-anchor="middle" font-style="italic" >N</text>
<text x="632.2" y="249.8" font-size="9" fill="#d8545a" text-anchor="middle" font-style="italic" >N</text>
<text x="654.6" y="264.1" font-size="9" fill="#d8545a" text-anchor="middle" font-style="italic" >N</text>
<text x="612.8" y="283.2" font-size="9" fill="#d8545a" text-anchor="middle" font-style="italic" >N</text>
<text x="634.5" y="297.5" font-size="9" fill="#d8545a" text-anchor="middle" font-style="italic" >N</text>
<text x="485" y="291.8" font-size="21" fill="#000" >Polyamide</text>
<text x="534.8" y="312.8" font-size="21" fill="#000" text-anchor="middle" >(PA)</text>
</g>
<g id="panel_b">
<rect x="1014.9" y="26.4" width="220.6" height="216.4" fill="#eef9fd"/>
<rect x="1014.9" y="281.5" width="47.8" height="219" fill="#fdeae9"/>
<path d="M865.4 246.1 V25.4 H1301.6 V502" stroke="#1a1a1a" stroke-width="1.3" fill="none"/>
<path d="M865.4 281.4 V501.2 H1302.2" stroke="#1a1a1a" stroke-width="1.3" fill="none"/>
<line x1="857.2" y1="35.9" x2="865.4" y2="35.9" stroke="#1a1a1a" stroke-width="1.2" />
<text x="846" y="43.7" font-size="22.4" fill="#000" text-anchor="end" >100</text>
<line x1="861" y1="56.8" x2="865.4" y2="56.8" stroke="#1a1a1a" stroke-width="1.2" />
<line x1="857.2" y1="77.8" x2="865.4" y2="77.8" stroke="#1a1a1a" stroke-width="1.2" />
<text x="846" y="85.6" font-size="22.4" fill="#000" text-anchor="end" >80</text>
<line x1="861" y1="98.8" x2="865.4" y2="98.8" stroke="#1a1a1a" stroke-width="1.2" />
<line x1="857.2" y1="119.7" x2="865.4" y2="119.7" stroke="#1a1a1a" stroke-width="1.2" />
<text x="846" y="127.5" font-size="22.4" fill="#000" text-anchor="end" >60</text>
<line x1="861" y1="140.7" x2="865.4" y2="140.7" stroke="#1a1a1a" stroke-width="1.2" />
<line x1="857.2" y1="161.6" x2="865.4" y2="161.6" stroke="#1a1a1a" stroke-width="1.2" />
<text x="846" y="169.4" font-size="22.4" fill="#000" text-anchor="end" >40</text>
<line x1="861" y1="182.6" x2="865.4" y2="182.6" stroke="#1a1a1a" stroke-width="1.2" />
<line x1="857.2" y1="203.5" x2="865.4" y2="203.5" stroke="#1a1a1a" stroke-width="1.2" />
<text x="846" y="211.3" font-size="22.4" fill="#000" text-anchor="end" >20</text>
<line x1="861" y1="224.4" x2="865.4" y2="224.4" stroke="#1a1a1a" stroke-width="1.2" />
<line x1="857.2" y1="245.4" x2="865.4" y2="245.4" stroke="#1a1a1a" stroke-width="1.2" />
<text x="846" y="253.2" font-size="22.4" fill="#000" text-anchor="end" >0</text>
<line x1="857.2" y1="291.4" x2="865.4" y2="291.4" stroke="#1a1a1a" stroke-width="1.2" />
<text x="846" y="299.2" font-size="22.4" fill="#000" text-anchor="end" >100</text>
<line x1="861" y1="312.3" x2="865.4" y2="312.3" stroke="#1a1a1a" stroke-width="1.2" />
<line x1="857.2" y1="333.3" x2="865.4" y2="333.3" stroke="#1a1a1a" stroke-width="1.2" />
<text x="846" y="341.1" font-size="22.4" fill="#000" text-anchor="end" >80</text>
<line x1="861" y1="354.2" x2="865.4" y2="354.2" stroke="#1a1a1a" stroke-width="1.2" />
<line x1="857.2" y1="375.2" x2="865.4" y2="375.2" stroke="#1a1a1a" stroke-width="1.2" />
<text x="846" y="383" font-size="22.4" fill="#000" text-anchor="end" >60</text>
<line x1="861" y1="396.1" x2="865.4" y2="396.1" stroke="#1a1a1a" stroke-width="1.2" />
<line x1="857.2" y1="417.1" x2="865.4" y2="417.1" stroke="#1a1a1a" stroke-width="1.2" />
<text x="846" y="424.9" font-size="22.4" fill="#000" text-anchor="end" >40</text>
<line x1="861" y1="438" x2="865.4" y2="438" stroke="#1a1a1a" stroke-width="1.2" />
<line x1="857.2" y1="459" x2="865.4" y2="459" stroke="#1a1a1a" stroke-width="1.2" />
<text x="846" y="466.8" font-size="22.4" fill="#000" text-anchor="end" >20</text>
<line x1="861" y1="479.9" x2="865.4" y2="479.9" stroke="#1a1a1a" stroke-width="1.2" />
<line x1="857.2" y1="500.9" x2="865.4" y2="500.9" stroke="#1a1a1a" stroke-width="1.2" />
<text x="846" y="508.7" font-size="22.4" fill="#000" text-anchor="end" >0</text>
<line x1="864.9" y1="501.2" x2="864.9" y2="506.4" stroke="#1a1a1a" stroke-width="1.2" />
<line x1="904.6" y1="501.2" x2="904.6" y2="510.4" stroke="#1a1a1a" stroke-width="1.2" />
<text x="905.2" y="538.6" font-size="22.4" fill="#000" text-anchor="middle" >1.0</text>
<line x1="944.3" y1="501.2" x2="944.3" y2="506.4" stroke="#1a1a1a" stroke-width="1.2" />
<line x1="984" y1="501.2" x2="984" y2="510.4" stroke="#1a1a1a" stroke-width="1.2" />
<text x="984.6" y="538.6" font-size="22.4" fill="#000" text-anchor="middle" >2.0</text>
<line x1="1023.7" y1="501.2" x2="1023.7" y2="506.4" stroke="#1a1a1a" stroke-width="1.2" />
<line x1="1063.4" y1="501.2" x2="1063.4" y2="510.4" stroke="#1a1a1a" stroke-width="1.2" />
<text x="1064" y="538.6" font-size="22.4" fill="#000" text-anchor="middle" >3.0</text>
<line x1="1103.1" y1="501.2" x2="1103.1" y2="506.4" stroke="#1a1a1a" stroke-width="1.2" />
<line x1="1142.8" y1="501.2" x2="1142.8" y2="510.4" stroke="#1a1a1a" stroke-width="1.2" />
<text x="1143.4" y="538.6" font-size="22.4" fill="#000" text-anchor="middle" >4.0</text>
<line x1="1182.5" y1="501.2" x2="1182.5" y2="506.4" stroke="#1a1a1a" stroke-width="1.2" />
<line x1="1222.2" y1="501.2" x2="1222.2" y2="510.4" stroke="#1a1a1a" stroke-width="1.2" />
<text x="1222.8" y="538.6" font-size="22.4" fill="#000" text-anchor="middle" >5.0</text>
<line x1="1261.9" y1="501.2" x2="1261.9" y2="506.4" stroke="#1a1a1a" stroke-width="1.2" />
<line x1="1301.6" y1="501.2" x2="1301.6" y2="510.4" stroke="#1a1a1a" stroke-width="1.2" />
<text x="1302.2" y="538.6" font-size="22.4" fill="#000" text-anchor="middle" >6.0</text>
<text x="990" y="567.8" font-size="22">Stokes Radius, <tspan font-family="Liberation Serif" font-style="italic" font-size="23">r</tspan><tspan dy="7" font-size="21">s</tspan><tspan dy="-7"> (Å)</tspan></text>
<text transform="translate(790.8,336.6) rotate(-90)" font-size="22">Rejection, <tspan font-family="Liberation Serif" font-style="italic" font-size="23">R</tspan> (%)</text>
<path d="M866 230.2 L868 230.2 L870 230.2 L872 230.2 L874 230.2 L876 230.2 L878 230.2 L880 230.1 L882 230.1 L884 230.1 L886 230.1 L888 230.1 L890 230.1 L892 230 L894 230 L896 230 L898 230 L900 229.9 L902 229.9 L904 229.9 L906 229.9 L908 229.8 L910 229.8 L912 229.8 L914 229.7 L916 229.7 L918 229.6 L920 229.6 L922 229.5 L924 229.5 L926 229.4 L928 229.4 L930 229.3 L932 229.2 L934 229.2 L936 229.1 L938 229 L940 228.9 L942 228.9 L944 228.8 L946 228.7 L948 228.6 L950 228.5 L952 228.4 L954 228.2 L956 228.1 L958 228 L960 227.8 L962 227.7 L964 227.5 L966 227.3 L968 227.2 L970 227 L972 226.8 L974 226.6 L976 226.3 L978 226.1 L980 225.9 L982 225.6 L984 225.3 L986 225 L988 224.7 L990 224.4 L992 224 L994 223.7 L996 223.3 L998 222.9 L1000 222.4 L1002 222 L1004 221.5 L1006 221 L1008 220.5 L1010 219.9 L1012 219.3 L1014 218.7 L1016 218 L1018 217.3 L1020 216.6 L1022 215.9 L1024 215.1 L1026 214.2 L1028 213.3 L1030 212.4 L1032 211.5 L1034 210.4 L1036 209.4 L1038 208.3 L1040 207.1 L1042 205.9 L1044 204.6 L1046 203.3 L1048 201.9 L1050 200.5 L1052 199 L1054 197.5 L1056 195.9 L1058 194.2 L1060 192.5 L1062 190.7 L1064 188.8 L1066 186.9 L1068 184.9 L1070 182.9 L1072 180.8 L1074 178.6 L1076 176.4 L1078 174.2 L1080 171.8 L1082 169.5 L1084 167 L1086 164.6 L1088 162 L1090 159.5 L1092 156.9 L1094 154.3 L1096 151.6 L1098 148.9 L1100 146.2 L1102 143.5 L1104 140.7 L1106 138 L1108 135.2 L1110 132.4 L1112 129.7 L1114 126.9 L1116 124.2 L1118 121.5 L1120 118.8 L1122 116.1 L1124 113.5 L1126 110.9 L1128 108.4 L1130 105.8 L1132 103.4 L1134 100.9 L1136 98.6 L1138 96.2 L1140 94 L1142 91.8 L1144 89.6 L1146 87.5 L1148 85.5 L1150 83.5 L1152 81.6 L1154 79.7 L1156 77.9 L1158 76.2 L1160 74.5 L1162 72.9 L1164 71.4 L1166 69.9 L1168 68.5 L1170 67.1 L1172 65.8 L1174 64.5 L1176 63.3 L1178 62.1 L1180 61 L1182 60 L1184 58.9 L1186 58 L1188 57.1 L1190 56.2 L1192 55.3 L1194 54.5 L1196 53.8 L1198 53.1 L1200 52.4 L1202 51.7 L1204 51.1 L1206 50.5 L1208 49.9 L1210 49.4 L1212 48.9 L1214 48.4 L1216 48 L1218 47.5 L1220 47.1 L1222 46.7 L1224 46.4 L1226 46 L1228 45.7 L1230 45.4 L1232 45.1 L1234 44.8 L1236 44.5 L1238 44.3 L1240 44.1 L1242 43.8 L1244 43.6 L1246 43.4 L1248 43.2 L1250 43.1 L1252 42.9 L1254 42.7 L1256 42.6 L1258 42.4 L1260 42.3 L1262 42.2 L1264 42 L1266 41.9 L1268 41.8 L1270 41.7 L1272 41.6 L1274 41.5 L1276 41.5 L1278 41.4 L1280 41.3 L1282 41.2 L1284 41.2 L1286 41.1 L1288 41 L1290 41 L1292 40.9 L1294 40.9 L1296 40.8 L1298 40.8 L1300 40.7" fill="none" stroke="#3d3a9e" stroke-width="1.3" stroke-dasharray="7 3"/>
<path d="M866 468.1 L867 468.1 L868 468.1 L869 468.1 L870 468.1 L871 468.1 L872 468.1 L873 468.1 L874 468.1 L875 468.1 L876 468.1 L877 468.1 L878 468.1 L879 468.1 L880 468.1 L881 468.1 L882 468.1 L883 468.1 L884 468.1 L885 468.1 L886 468.1 L887 468.1 L888 468.1 L889 468.1 L890 468.1 L891 468.1 L892 468.1 L893 468.1 L894 468.1 L895 468.1 L896 468.1 L897 468.1 L898 468.1 L899 468.1 L900 468.1 L901 468.1 L902 468.1 L903 468.1 L904 468.1 L905 468.1 L906 468.1 L907 468.1 L908 468.1 L909 468.1 L910 468.1 L911 468.1 L912 468.1 L913 468.1 L914 468.1 L915 468.1 L916 468.1 L917 468.1 L918 468.1 L919 468.1 L920 468.1 L921 468.1 L922 468.1 L923 468.1 L924 468.1 L925 468.1 L926 468.1 L927 468.1 L928 468.1 L929 468.1 L930 468.1 L931 468.1 L932 468.1 L933 468.1 L934 468.1 L935 468.1 L936 468.1 L937 468.1 L938 468.1 L939 468.1 L940 468.1 L941 468.1 L942 468.1 L943 468.1 L944 468.1 L945 468.1 L946 468.1 L947 468.1 L948 468.1 L949 468.1 L950 468.1 L951 468.1 L952 468.1 L953 468.1 L954 468.1 L955 468.1 L956 468.1 L957 468.1 L958 468.1 L959 468.1 L960 468.1 L961 468.1 L962 468.1 L963 468.1 L964 468.1 L965 468.1 L966 468.1 L967 468.1 L968 468.1 L969 468.1 L970 468.1 L971 468.1 L972 468.1 L973 468.1 L974 468.1 L975 468.1 L976 468.1 L977 468.1 L978 468.1 L979 468.1 L980 468.1 L981 468.1 L982 468.1 L983 468.1 L984 468.1 L985 468.1 L986 468.1 L987 468.1 L988 468.1 L989 468.1 L990 468.1 L991 468.1 L992 468.1 L993 468.1 L994 468.1 L995 468.1 L996 468.1 L997 468.1 L998 468.1 L999 468.1 L1000 468.1 L1001 468.1 L1002 468.1 L1003 468.1 L1004 468.1 L1005 468.1 L1006 468.1 L1007 468.1 L1008 468.1 L1009 468.1 L1010 468.1 L1011 468.1 L1012 468.1 L1013 468.1 L1014 468.1 L1015 468.1 L1016 468.1 L1017 468.1 L1018 468 L1019 468 L1020 468 L1021 468 L1022 467.9 L1023 467.8 L1024 467.8 L1025 467.6 L1026 467.5 L1027 467.3 L1028 467 L1029 466.6 L1030 466.1 L1031 465.5 L1032 464.6 L1033 463.4 L1034 461.8 L1035 459.8 L1036 457.1 L1037 453.7 L1038 449.3 L1039 443.8 L1040 436.9 L1041 428.7 L1042 419 L1043 408 L1044 395.9 L1045 383.2 L1046 370.4 L1047 358 L1048 346.5 L1049 336.2 L1050 327.4 L1051 320 L1052 314 L1053 309.1 L1054 305.3 L1055 302.4 L1056 300.1 L1057 298.4 L1058 297.1 L1059 296.1 L1060 295.3 L1061 294.8 L1062 294.3 L1063 294 L1064 293.8 L1065 293.6 L1066 293.5 L1067 293.4 L1068 293.3 L1069 293.3 L1070 293.2 L1071 293.2 L1072 293.2 L1073 293.1 L1074 293.1 L1075 293.1 L1076 293.1 L1077 293.1 L1078 293.1 L1079 293.1 L1080 293.1 L1081 293.1 L1082 293.1 L1083 293.1 L1084 293.1 L1085 293.1 L1086 293.1 L1087 293.1 L1088 293.1 L1089 293.1 L1090 293.1 L1091 293.1 L1092 293.1 L1093 293.1 L1094 293.1 L1095 293.1 L1096 293.1 L1097 293.1 L1098 293.1 L1099 293.1 L1100 293.1 L1101 293.1 L1102 293.1 L1103 293.1 L1104 293.1 L1105 293.1 L1106 293.1 L1107 293.1 L1108 293.1 L1109 293.1 L1110 293.1 L1111 293.1 L1112 293.1 L1113 293.1 L1114 293.1 L1115 293.1 L1116 293.1 L1117 293.1 L1118 293.1 L1119 293.1 L1120 293.1 L1121 293.1 L1122 293.1 L1123 293.1 L1124 293.1 L1125 293.1 L1126 293.1 L1127 293.1 L1128 293.1 L1129 293.1 L1130 293.1 L1131 293.1 L1132 293.1 L1133 293.1 L1134 293.1 L1135 293.1 L1136 293.1 L1137 293.1 L1138 293.1 L1139 293.1 L1140 293.1 L1141 293.1 L1142 293.1 L1143 293.1 L1144 293.1 L1145 293.1 L1146 293.1 L1147 293.1 L1148 293.1 L1149 293.1 L1150 293.1 L1151 293.1 L1152 293.1 L1153 293.1 L1154 293.1 L1155 293.1 L1156 293.1 L1157 293.1 L1158 293.1 L1159 293.1 L1160 293.1 L1161 293.1 L1162 293.1 L1163 293.1 L1164 293.1 L1165 293.1 L1166 293.1 L1167 293.1 L1168 293.1 L1169 293.1 L1170 293.1 L1171 293.1 L1172 293.1 L1173 293.1 L1174 293.1 L1175 293.1 L1176 293.1 L1177 293.1 L1178 293.1 L1179 293.1 L1180 293.1 L1181 293.1 L1182 293.1 L1183 293.1 L1184 293.1 L1185 293.1 L1186 293.1 L1187 293.1 L1188 293.1 L1189 293.1 L1190 293.1 L1191 293.1 L1192 293.1 L1193 293.1 L1194 293.1 L1195 293.1 L1196 293.1 L1197 293.1 L1198 293.1 L1199 293.1 L1200 293.1 L1201 293.1 L1202 293.1 L1203 293.1 L1204 293.1 L1205 293.1 L1206 293.1 L1207 293.1 L1208 293.1 L1209 293.1 L1210 293.1 L1211 293.1 L1212 293.1 L1213 293.1 L1214 293.1 L1215 293.1 L1216 293.1 L1217 293.1 L1218 293.1 L1219 293.1 L1220 293.1 L1221 293.1 L1222 293.1 L1223 293.1 L1224 293.1 L1225 293.1 L1226 293.1 L1227 293.1 L1228 293.1 L1229 293.1 L1230 293.1 L1231 293.1 L1232 293.1 L1233 293.1 L1234 293.1 L1235 293.1 L1236 293.1 L1237 293.1 L1238 293.1 L1239 293.1 L1240 293.1 L1241 293.1 L1242 293.1 L1243 293.1 L1244 293.1 L1245 293.1 L1246 293.1 L1247 293.1 L1248 293.1 L1249 293.1 L1250 293.1 L1251 293.1 L1252 293.1 L1253 293.1 L1254 293.1 L1255 293.1 L1256 293.1 L1257 293.1 L1258 293.1 L1259 293.1 L1260 293.1 L1261 293.1 L1262 293.1 L1263 293.1 L1264 293.1 L1265 293.1 L1266 293.1 L1267 293.1 L1268 293.1 L1269 293.1 L1270 293.1 L1271 293.1 L1272 293.1 L1273 293.1 L1274 293.1 L1275 293.1 L1276 293.1 L1277 293.1 L1278 293.1 L1279 293.1 L1280 293.1 L1281 293.1 L1282 293.1 L1283 293.1 L1284 293.1 L1285 293.1 L1286 293.1 L1287 293.1 L1288 293.1 L1289 293.1 L1290 293.1 L1291 293.1 L1292 293.1 L1293 293.1 L1294 293.1 L1295 293.1 L1296 293.1 L1297 293.1 L1298 293.1 L1299 293.1 L1300 293.1" fill="none" stroke="#e2336f" stroke-width="1.4" stroke-dasharray="7 3"/>
<text x="875.6" y="50.4" font-size="22.4" fill="#000" >IP</text>
<text x="875" y="305.6" font-size="22.4" fill="#000" >SARIP</text>
<line x1="1045.5" y1="294.5" x2="1056" y2="304.3" stroke="#e07aa8" stroke-width="0.8" />
<line x1="1068.3" y1="290.3" x2="1070.7" y2="302" stroke="#5a78a0" stroke-width="0.8" />
<line x1="1118.9" y1="281" x2="1094.4" y2="297.3" stroke="#e58a84" stroke-width="0.8" />
<line x1="1127.8" y1="300.8" x2="1107.3" y2="299.7" stroke="#9adcd6" stroke-width="0.8" />
<line x1="1118.9" y1="314.8" x2="1104.9" y2="304.3" stroke="#666" stroke-width="0.8" />
<line x1="1090.9" y1="323" x2="1084.4" y2="307.8" stroke="#8fd3a0" stroke-width="0.8" />
<circle cx="919.5" cy="230.4" r="5.1" fill="#ffffff" stroke="#888" stroke-width="0.6" fill-opacity="0.85"/><path d="M917.9 229.2h3.2M917.9 231.6h3.2M919.5 229.2v2.4" stroke="#222" stroke-width="0.6" fill="none"/>
<circle cx="919" cy="216.7" r="5.1" fill="#5f7a85" stroke="#3c5a66" stroke-width="0.6" fill-opacity="0.85"/><path d="M917.4 215.5h3.2M917.4 217.9h3.2M919 215.5v2.4" stroke="#222" stroke-width="0.6" fill="none"/>
<circle cx="924.9" cy="225.3" r="5.1" fill="#f29a4a" stroke="#f08a24" stroke-width="0.6" fill-opacity="0.85"/><path d="M923.3 224.1h3.2M923.3 226.5h3.2M924.9 224.1v2.4" stroke="#222" stroke-width="0.6" fill="none"/>
<circle cx="971.3" cy="213.9" r="5.1" fill="#8fd39a" stroke="#4db848" stroke-width="0.6" fill-opacity="0.85"/><path d="M969.7 212.7h3.2M969.7 215.1h3.2M971.3 212.7v2.4" stroke="#222" stroke-width="0.6" fill="none"/>
<circle cx="1014.4" cy="205.5" r="5.1" fill="#6cc3ea" stroke="#3a9fd8" stroke-width="0.6" fill-opacity="0.85"/><path d="M1012.8 204.3h3.2M1012.8 206.7h3.2M1014.4 204.3v2.4" stroke="#222" stroke-width="0.6" fill="none"/>
<circle cx="1055.5" cy="210.8" r="5.1" fill="#6fc9c4" stroke="#3db5a6" stroke-width="0.6" fill-opacity="0.85"/><path d="M1053.9 209.6h3.2M1053.9 212h3.2M1055.5 209.6v2.4" stroke="#222" stroke-width="0.6" fill="none"/>
<circle cx="1057.1" cy="195" r="5.1" fill="#e86aa6" stroke="#d6308a" stroke-width="0.6" fill-opacity="0.85"/><path d="M1055.5 193.8h3.2M1055.5 196.2h3.2M1057.1 193.8v2.4" stroke="#222" stroke-width="0.6" fill="none"/>
<circle cx="1071.4" cy="193.6" r="5.1" fill="#6d87ab" stroke="#2a4a7a" stroke-width="0.6" fill-opacity="0.85"/><path d="M1069.8 192.4h3.2M1069.8 194.8h3.2M1071.4 192.4v2.4" stroke="#222" stroke-width="0.6" fill="none"/>
<circle cx="1083.2" cy="153" r="5.1" fill="#6cc38a" stroke="#1e9a3c" stroke-width="0.6" fill-opacity="0.85"/><path d="M1081.6 151.8h3.2M1081.6 154.2h3.2M1083.2 151.8v2.4" stroke="#222" stroke-width="0.6" fill="none"/>
<circle cx="1091.2" cy="166.5" r="5.1" fill="#e77a72" stroke="#d63a2f" stroke-width="0.6" fill-opacity="0.85"/><path d="M1089.6 165.3h3.2M1089.6 167.7h3.2M1091.2 165.3v2.4" stroke="#222" stroke-width="0.6" fill="none"/>
<circle cx="1100.7" cy="149.9" r="5.1" fill="#f3dc6a" stroke="#b9a23a" stroke-width="0.6" fill-opacity="0.85"/><path d="M1099.1 148.7h3.2M1099.1 151.1h3.2M1100.7 148.7v2.4" stroke="#222" stroke-width="0.6" fill="none"/>
<circle cx="1102.6" cy="117.5" r="5.1" fill="#8fd8d0" stroke="#3dbfb0" stroke-width="0.6" fill-opacity="0.85"/><path d="M1101 116.3h3.2M1101 118.7h3.2M1102.6 116.3v2.4" stroke="#222" stroke-width="0.6" fill="none"/>
<circle cx="920" cy="466.5" r="5.1" fill="#ffffff" stroke="#888" stroke-width="0.6" fill-opacity="0.85"/><path d="M918.4 465.3h3.2M918.4 467.7h3.2M920 465.3v2.4" stroke="#222" stroke-width="0.6" fill="none"/>
<circle cx="919" cy="462.5" r="5.1" fill="#5f7a85" stroke="#3c5a66" stroke-width="0.6" fill-opacity="0.85"/><path d="M917.4 461.3h3.2M917.4 463.7h3.2M919 461.3v2.4" stroke="#222" stroke-width="0.6" fill="none"/>
<circle cx="925.3" cy="458.5" r="5.1" fill="#f29a4a" stroke="#f08a24" stroke-width="0.6" fill-opacity="0.85"/><path d="M923.7 457.3h3.2M923.7 459.7h3.2M925.3 457.3v2.4" stroke="#222" stroke-width="0.6" fill="none"/>
<circle cx="971.5" cy="443.4" r="5.1" fill="#8fd39a" stroke="#4db848" stroke-width="0.6" fill-opacity="0.85"/><path d="M969.9 442.2h3.2M969.9 444.6h3.2M971.5 442.2v2.4" stroke="#222" stroke-width="0.6" fill="none"/>
<circle cx="1014.4" cy="436.8" r="5.1" fill="#6cc3ea" stroke="#3a9fd8" stroke-width="0.6" fill-opacity="0.85"/><path d="M1012.8 435.6h3.2M1012.8 438h3.2M1014.4 435.6v2.4" stroke="#222" stroke-width="0.6" fill="none"/>
<circle cx="1055.5" cy="307.1" r="5.1" fill="#6fc9c4" stroke="#3db5a6" stroke-width="0.6" fill-opacity="0.85"/><path d="M1053.9 305.9h3.2M1053.9 308.3h3.2M1055.5 305.9v2.4" stroke="#222" stroke-width="0.6" fill="none"/>
<circle cx="1057.8" cy="306.2" r="5.1" fill="#e86aa6" stroke="#d6308a" stroke-width="0.6" fill-opacity="0.85"/><path d="M1056.2 305h3.2M1056.2 307.4h3.2M1057.8 305v2.4" stroke="#222" stroke-width="0.6" fill="none"/>
<circle cx="1071.4" cy="306" r="5.1" fill="#6d87ab" stroke="#2a4a7a" stroke-width="0.6" fill-opacity="0.85"/><path d="M1069.8 304.8h3.2M1069.8 307.2h3.2M1071.4 304.8v2.4" stroke="#222" stroke-width="0.6" fill="none"/>
<circle cx="1083.5" cy="303.9" r="5.1" fill="#6cc38a" stroke="#1e9a3c" stroke-width="0.6" fill-opacity="0.85"/><path d="M1081.9 302.7h3.2M1081.9 305.1h3.2M1083.5 302.7v2.4" stroke="#222" stroke-width="0.6" fill="none"/>
<circle cx="1091.4" cy="300.8" r="5.1" fill="#e77a72" stroke="#d63a2f" stroke-width="0.6" fill-opacity="0.85"/><path d="M1089.8 299.6h3.2M1089.8 302h3.2M1091.4 299.6v2.4" stroke="#222" stroke-width="0.6" fill="none"/>
<circle cx="1100.3" cy="302" r="5.1" fill="#f3dc6a" stroke="#b9a23a" stroke-width="0.6" fill-opacity="0.85"/><path d="M1098.7 300.8h3.2M1098.7 303.2h3.2M1100.3 300.8v2.4" stroke="#222" stroke-width="0.6" fill="none"/>
<circle cx="1102.6" cy="299.2" r="5.1" fill="#8fd8d0" stroke="#3dbfb0" stroke-width="0.6" fill-opacity="0.85"/><path d="M1101 298h3.2M1101 300.4h3.2M1102.6 298v2.4" stroke="#222" stroke-width="0.6" fill="none"/>
<path d="M1026.2 213.1 L1039 213.1 L1032.6 224.5 Z" fill="#d9533f" stroke="#333" stroke-width="0.7" /><path d="M1031.1 216.1h3M1032.6 216.1v2" stroke="#222" stroke-width="0.5" fill="none"/>
<path d="M1103.9 93.6 L1116.7 93.6 L1110.3 105 Z" fill="#6a6a6a" stroke="#333" stroke-width="0.7" /><path d="M1108.8 96.6h3M1110.3 96.6v2" stroke="#222" stroke-width="0.5" fill="none"/>
<path d="M1195.4 60.3 L1208.2 60.3 L1201.8 71.7 Z" fill="#4f86c2" stroke="#333" stroke-width="0.7" /><path d="M1200.3 63.3h3M1201.8 63.3v2" stroke="#222" stroke-width="0.5" fill="none"/>
<path d="M1246.2 33 L1259 33 L1252.6 44.4 Z" fill="#7a5238" stroke="#333" stroke-width="0.7" /><path d="M1251.1 36h3M1252.6 36v2" stroke="#222" stroke-width="0.5" fill="none"/>
<path d="M1026.2 470.6 L1039 470.6 L1032.6 482 Z" fill="#d9533f" stroke="#333" stroke-width="0.7" /><path d="M1031.1 473.6h3M1032.6 473.6v2" stroke="#222" stroke-width="0.5" fill="none"/>
<path d="M1104.4 316.6 L1117.2 316.6 L1110.8 328 Z" fill="#6a6a6a" stroke="#333" stroke-width="0.7" /><path d="M1109.3 319.6h3M1110.8 319.6v2" stroke="#222" stroke-width="0.5" fill="none"/>
<path d="M1194.9 287.5 L1207.7 287.5 L1201.3 298.9 Z" fill="#4f86c2" stroke="#333" stroke-width="0.7" /><path d="M1199.8 290.5h3M1201.3 290.5v2" stroke="#222" stroke-width="0.5" fill="none"/>
<path d="M1246 287.5 L1258.8 287.5 L1252.4 298.9 Z" fill="#7a5238" stroke="#333" stroke-width="0.7" /><path d="M1250.9 290.5h3M1252.4 290.5v2" stroke="#222" stroke-width="0.5" fill="none"/>
<text x="893.6" y="214" font-size="15.4" fill="#3c5a66" >Rb<tspan font-size="9.5" dy="-5.4">+</tspan></text>
<text x="929.3" y="219.6" font-size="15.4" fill="#f08a24" >K<tspan font-size="9.5" dy="-5.4">+</tspan></text>
<text x="893.8" y="249.4" font-size="15.4" fill="#000" >Cs<tspan font-size="9.5" dy="-5.4">+</tspan></text>
<text x="979.6" y="220.2" font-size="15.4" fill="#4db848" >Na<tspan font-size="9.5" dy="-5.4">+</tspan></text>
<text x="1008.4" y="195" font-size="15.4" fill="#3a9fd8" >Li<tspan font-size="9.5" dy="-5.4">+</tspan></text>
<text x="1038.2" y="238.8" font-size="15.4" fill="#d63a2f" >Glycerol</text>
<text x="1068.8" y="221" font-size="15.4" fill="#3db5a6" >Ba<tspan font-size="9.5" dy="-5.4">2+</tspan></text>
<text x="1038.2" y="187.6" font-size="15.4" fill="#d6308a" >Ni<tspan font-size="9.5" dy="-5.4">2+</tspan></text>
<text x="1083.4" y="198.6" font-size="15.4" fill="#2a4a7a" >Ca<tspan font-size="9.5" dy="-5.4">2+</tspan></text>
<text x="1048.2" y="168.2" font-size="15.4" fill="#1e9a3c" >Cu<tspan font-size="9.5" dy="-5.4">2+</tspan></text>
<text x="1097.8" y="174.4" font-size="15.4" fill="#d63a2f" >Co<tspan font-size="9.5" dy="-5.4">2+</tspan></text>
<text x="1110" y="155.4" font-size="15.4" fill="#000" >Mg<tspan font-size="9.5" dy="-5.4">2+</tspan></text>
<text x="1065.6" y="122.2" font-size="15.4" fill="#3dbfb0" >Zn<tspan font-size="9.5" dy="-5.4">2+</tspan></text>
<text x="1042" y="101.6" font-size="15.4" fill="#555" >Glucose</text>
<text x="1209.6" y="76.8" font-size="15.4" fill="#3a78b5" >Sucrose</text>
<text x="1173" y="40.6" font-size="14.2" fill="#9c7a5a" >Raffinose</text>
<text x="893.2" y="459" font-size="15.4" fill="#3c5a66" >Rb<tspan font-size="9.5" dy="-5.4">+</tspan></text>
<text x="933" y="460.6" font-size="15.4" fill="#f08a24" >K<tspan font-size="9.5" dy="-5.4">+</tspan></text>
<text x="893.8" y="484" font-size="15.4" fill="#000" >Cs<tspan font-size="9.5" dy="-5.4">+</tspan></text>
<text x="962.4" y="462.6" font-size="15.4" fill="#4db848" >Na<tspan font-size="9.5" dy="-5.4">+</tspan></text>
<text x="1008.4" y="457.8" font-size="15.4" fill="#3a9fd8" >Li<tspan font-size="9.5" dy="-5.4">+</tspan></text>
<text x="1004" y="494" font-size="15.4" fill="#d63a2f" >Glycerol</text>
<text x="1018" y="318.8" font-size="15.4" fill="#3db5a6" >Ba<tspan font-size="9.5" dy="-5.4">2+</tspan></text>
<text x="1027.2" y="295" font-size="15.4" fill="#d6308a" >Ni<tspan font-size="9.5" dy="-5.4">2+</tspan></text>
<text x="1055.4" y="288" font-size="15.4" fill="#2a4a7a" >Ca<tspan font-size="9.5" dy="-5.4">2+</tspan></text>
<text x="1119.4" y="283.4" font-size="15.4" fill="#d63a2f" >Co<tspan font-size="9.5" dy="-5.4">2+</tspan></text>
<text x="1168.8" y="282.6" font-size="15.4" fill="#3a78b5" >Sucrose</text>
<text x="1129.2" y="307.4" font-size="15.4" fill="#3dbfb0" >Zn<tspan font-size="9.5" dy="-5.4">2+</tspan></text>
<text x="1224.2" y="311.4" font-size="14.2" fill="#9c7a5a" >Raffinose</text>
<text x="1121.2" y="321.2" font-size="15.4" fill="#000" >Mg<tspan font-size="9.5" dy="-5.4">2+</tspan></text>
<text x="1077.2" y="336.4" font-size="15.4" fill="#1e9a3c" >Cu<tspan font-size="9.5" dy="-5.4">2+</tspan></text>
<text x="1113.6" y="335.8" font-size="15.4" fill="#555" >Glucose</text>
</g>
<g id="panel_c">
<defs>
<clipPath id="temclip"><rect x="1401.4" y="61" width="444.6" height="446"/></clipPath>
<filter id="b1" x="-20%" y="-20%" width="140%" height="140%"><feGaussianBlur stdDeviation="1.2"/></filter>
<filter id="b3" x="-20%" y="-20%" width="140%" height="140%"><feGaussianBlur stdDeviation="3"/></filter>
<filter id="b8" x="-30%" y="-30%" width="160%" height="160%"><feGaussianBlur stdDeviation="9"/></filter>
<filter id="b20" x="-50%" y="-50%" width="200%" height="200%"><feGaussianBlur stdDeviation="22"/></filter>
<filter id="temnoise" x="0" y="0" width="100%" height="100%"><feTurbulence type="fractalNoise" baseFrequency="0.38" numOctaves="3" seed="4" result="n"/><feGaussianBlur stdDeviation="0.45"/>
<feColorMatrix type="matrix" values="0 0 0 0 0  0 0 0 0 0  0 0 0 0 0  -0.85 0 0 0 0.425"/></filter>
<filter id="temnoise2" x="0" y="0" width="100%" height="100%"><feTurbulence type="fractalNoise" baseFrequency="0.38" numOctaves="3" seed="4" result="n"/><feGaussianBlur stdDeviation="0.45"/>
<feColorMatrix type="matrix" values="0 0 0 0 1  0 0 0 0 1  0 0 0 0 1  0.85 0 0 0 -0.425"/></filter>
<linearGradient id="temr" x1="0" y1="0" x2="1" y2="0.25"><stop offset="0" stop-color="#b4b4b4"/><stop offset="0.5" stop-color="#a8a8a8"/><stop offset="1" stop-color="#a0a0a0"/></linearGradient>
</defs>
<text x="1631.4" y="51.2" font-size="34.4" textLength="238.8" lengthAdjust="spacingAndGlyphs">PA from SARIP</text>
<g clip-path="url(#temclip)">
<rect x="1401.4" y="61" width="444.6" height="446" fill="url(#temr)"/>
<path d="M1510.2 58 C1511.7 63.9 1515.8 83.2 1519.3 93.2 C1522.8 103.2 1527.3 109.2 1530.9 118 C1534.5 126.8 1536.8 137.1 1540.9 146.2 C1545.1 155.3 1552.1 164.1 1555.8 172.7 C1559.5 181.3 1561.1 188.8 1563.3 197.6 C1565.5 206.4 1565.9 216.6 1569.1 225.7 C1572.3 234.8 1578.4 244 1582.3 252.3 C1586.2 260.6 1590.4 269.7 1592.3 275.5 C1594.2 281.3 1592.6 281.3 1593.5 287 C1594.4 292.7 1595.4 302.7 1597.7 309.7 C1600 316.7 1604.5 323.2 1607.5 329.1 C1610.5 335.1 1614 338.9 1615.6 345.4 C1617.2 351.9 1615.8 361.1 1617.2 368.1 C1618.6 375.1 1621 381.7 1623.7 387.6 C1626.4 393.6 1630.4 397.9 1633.4 403.8 C1636.4 409.8 1638.8 416.8 1641.5 423.3 C1644.2 429.8 1646.7 436.2 1649.7 442.7 C1652.7 449.2 1657.2 455.7 1659.4 462.2 C1661.6 468.7 1662.6 473.7 1662.6 481.7 C1662.6 489.7 1659.9 505.3 1659.4 510" stroke="#d2d2d2" stroke-width="46" fill="none" filter="url(#b20)" opacity="0.9"/>
<path d="M1510.2 58 C1511.7 63.9 1515.8 83.2 1519.3 93.2 C1522.8 103.2 1527.3 109.2 1530.9 118 C1534.5 126.8 1536.8 137.1 1540.9 146.2 C1545.1 155.3 1552.1 164.1 1555.8 172.7 C1559.5 181.3 1561.1 188.8 1563.3 197.6 C1565.5 206.4 1565.9 216.6 1569.1 225.7 C1572.3 234.8 1578.4 244 1582.3 252.3 C1586.2 260.6 1590.4 269.7 1592.3 275.5 C1594.2 281.3 1592.6 281.3 1593.5 287 C1594.4 292.7 1595.4 302.7 1597.7 309.7 C1600 316.7 1604.5 323.2 1607.5 329.1 C1610.5 335.1 1614 338.9 1615.6 345.4 C1617.2 351.9 1615.8 361.1 1617.2 368.1 C1618.6 375.1 1621 381.7 1623.7 387.6 C1626.4 393.6 1630.4 397.9 1633.4 403.8 C1636.4 409.8 1638.8 416.8 1641.5 423.3 C1644.2 429.8 1646.7 436.2 1649.7 442.7 C1652.7 449.2 1657.2 455.7 1659.4 462.2 C1661.6 468.7 1662.6 473.7 1662.6 481.7 C1662.6 489.7 1659.9 505.3 1659.4 510 L1396.4 512 L1396.4 56 Z" fill="#787878" filter="url(#b1)"/>
<path d="M1510.2 58 C1511.7 63.9 1515.8 83.2 1519.3 93.2 C1522.8 103.2 1527.3 109.2 1530.9 118 C1534.5 126.8 1536.8 137.1 1540.9 146.2 C1545.1 155.3 1552.1 164.1 1555.8 172.7 C1559.5 181.3 1561.1 188.8 1563.3 197.6 C1565.5 206.4 1565.9 216.6 1569.1 225.7 C1572.3 234.8 1578.4 244 1582.3 252.3 C1586.2 260.6 1590.4 269.7 1592.3 275.5 C1594.2 281.3 1592.6 281.3 1593.5 287 C1594.4 292.7 1595.4 302.7 1597.7 309.7 C1600 316.7 1604.5 323.2 1607.5 329.1 C1610.5 335.1 1614 338.9 1615.6 345.4 C1617.2 351.9 1615.8 361.1 1617.2 368.1 C1618.6 375.1 1621 381.7 1623.7 387.6 C1626.4 393.6 1630.4 397.9 1633.4 403.8 C1636.4 409.8 1638.8 416.8 1641.5 423.3 C1644.2 429.8 1646.7 436.2 1649.7 442.7 C1652.7 449.2 1657.2 455.7 1659.4 462.2 C1661.6 468.7 1662.6 473.7 1662.6 481.7 C1662.6 489.7 1659.9 505.3 1659.4 510" stroke="#dcdcdc" stroke-width="1.3" fill="none" filter="url(#b1)" transform="translate(1.4,0)"/>
<path d="M1499.5 58 C1500.9 61.9 1505 73.4 1507.7 81.5 C1510.5 89.6 1513.2 98.9 1516 106.4 C1518.8 113.9 1521.8 118.6 1524.3 126.3 C1526.8 134 1527.4 144 1531 152.8 C1534.6 161.6 1542.9 169.9 1545.9 179.3 C1548.9 188.7 1547.8 200.1 1549.2 209.2 C1550.6 218.3 1550.8 226.3 1554.1 234 C1557.4 241.7 1564.9 248.1 1569.1 255.6 C1573.2 263.1 1576.7 273.4 1579 278.8 C1581.3 284.2 1581.5 282.9 1583.1 288 C1584.7 293.1 1586.4 302.8 1588.6 309.7 C1590.8 316.6 1593.8 322.6 1596.1 329.1 C1598.4 335.6 1601 341.6 1602.6 348.6 C1604.2 355.6 1603.9 364.8 1605.8 371.3 C1607.7 377.8 1611.3 381.7 1614 387.6 C1616.7 393.6 1619.1 400.5 1622.1 407 C1625.1 413.5 1628.8 420 1631.8 426.5 C1634.8 433 1637.2 439.5 1639.9 446 C1642.6 452.5 1646.4 459 1648 465.5 C1649.6 472 1649.4 477.5 1649.7 484.9 C1650 492.3 1649.7 505.8 1649.7 510 L1396.4 512 L1396.4 56 Z" fill="#525252" filter="url(#b1)" transform="translate(-2.2,0)"/>
<clipPath id="pesclip"><path d="M1499.5 58 C1500.9 61.9 1505 73.4 1507.7 81.5 C1510.5 89.6 1513.2 98.9 1516 106.4 C1518.8 113.9 1521.8 118.6 1524.3 126.3 C1526.8 134 1527.4 144 1531 152.8 C1534.6 161.6 1542.9 169.9 1545.9 179.3 C1548.9 188.7 1547.8 200.1 1549.2 209.2 C1550.6 218.3 1550.8 226.3 1554.1 234 C1557.4 241.7 1564.9 248.1 1569.1 255.6 C1573.2 263.1 1576.7 273.4 1579 278.8 C1581.3 284.2 1581.5 282.9 1583.1 288 C1584.7 293.1 1586.4 302.8 1588.6 309.7 C1590.8 316.6 1593.8 322.6 1596.1 329.1 C1598.4 335.6 1601 341.6 1602.6 348.6 C1604.2 355.6 1603.9 364.8 1605.8 371.3 C1607.7 377.8 1611.3 381.7 1614 387.6 C1616.7 393.6 1619.1 400.5 1622.1 407 C1625.1 413.5 1628.8 420 1631.8 426.5 C1634.8 433 1637.2 439.5 1639.9 446 C1642.6 452.5 1646.4 459 1648 465.5 C1649.6 472 1649.4 477.5 1649.7 484.9 C1650 492.3 1649.7 505.8 1649.7 510 L1396.4 512 L1396.4 56 Z"/></clipPath>
<g clip-path="url(#pesclip)">
<path d="M1499.5 58 C1500.9 61.9 1505 73.4 1507.7 81.5 C1510.5 89.6 1513.2 98.9 1516 106.4 C1518.8 113.9 1521.8 118.6 1524.3 126.3 C1526.8 134 1527.4 144 1531 152.8 C1534.6 161.6 1542.9 169.9 1545.9 179.3 C1548.9 188.7 1547.8 200.1 1549.2 209.2 C1550.6 218.3 1550.8 226.3 1554.1 234 C1557.4 241.7 1564.9 248.1 1569.1 255.6 C1573.2 263.1 1576.7 273.4 1579 278.8 C1581.3 284.2 1581.5 282.9 1583.1 288 C1584.7 293.1 1586.4 302.8 1588.6 309.7 C1590.8 316.6 1593.8 322.6 1596.1 329.1 C1598.4 335.6 1601 341.6 1602.6 348.6 C1604.2 355.6 1603.9 364.8 1605.8 371.3 C1607.7 377.8 1611.3 381.7 1614 387.6 C1616.7 393.6 1619.1 400.5 1622.1 407 C1625.1 413.5 1628.8 420 1631.8 426.5 C1634.8 433 1637.2 439.5 1639.9 446 C1642.6 452.5 1646.4 459 1648 465.5 C1649.6 472 1649.4 477.5 1649.7 484.9 C1650 492.3 1649.7 505.8 1649.7 510" stroke="#363636" stroke-width="70" fill="none" filter="url(#b20)" opacity="0.8" transform="translate(-38,0)"/>
<ellipse cx="1425" cy="110" rx="40" ry="60" fill="#6a6a6a" opacity="0.7" filter="url(#b8)"/>
<ellipse cx="1440" cy="440" rx="45" ry="70" fill="#8a8a8a" opacity="0.75" filter="url(#b8)"/>
<ellipse cx="1425" cy="480" rx="30" ry="25" fill="#9a9a9a" opacity="0.6" filter="url(#b8)"/>
<ellipse cx="1500" cy="420" rx="40" ry="30" fill="#7a7a7a" opacity="0.55" filter="url(#b8)"/>
<ellipse cx="1470" cy="385" rx="25" ry="15" fill="#858585" opacity="0.5" filter="url(#b8)"/>
<ellipse cx="1415" cy="300" rx="18" ry="90" fill="#707070" opacity="0.5" filter="url(#b8)"/>
<ellipse cx="1560" cy="480" rx="40" ry="25" fill="#6c6c6c" opacity="0.5" filter="url(#b8)"/>
<ellipse cx="1470" cy="135" rx="8" ry="5" fill="#8c8c8c" opacity="0.7" filter="url(#b8)"/>
<ellipse cx="1435" cy="132" rx="6" ry="5" fill="#808080" opacity="0.6" filter="url(#b8)"/>
</g>
<rect x="1401.4" y="61" width="444.6" height="446" filter="url(#temnoise)"/>
<rect x="1401.4" y="61" width="444.6" height="446" filter="url(#temnoise2)"/>
<text x="1593.6" y="177.8" font-size="33.8" font-weight="bold" fill="#fff" textLength="247.4" lengthAdjust="spacingAndGlyphs">PA active layer</text>
<text x="1630.4" y="221.4" font-size="33.2" fill="#fff" textLength="154.6" lengthAdjust="spacingAndGlyphs">38 ± 4 nm</text>
<path d="M1754.2 229.8 H1641 L1603 256.4" stroke="#fff" stroke-width="2" fill="none"/>
<path d="M1593.6 262.8 L1611.5 257.4 L1604.6 247.6 Z" fill="#fff" stroke="none" stroke-width="1" />
<rect x="1436.4" y="430.4" width="100.4" height="7.4" fill="#fff"/>
<text x="1436.4" y="469" font-size="33.6" font-weight="bold" fill="#fff" textLength="117.8" lengthAdjust="spacingAndGlyphs">200 nm</text>
<text transform="translate(1445.4,203.8) rotate(68.5)" font-size="34" font-weight="bold" fill="#fff" textLength="212" lengthAdjust="spacingAndGlyphs">PES support</text>
</g>
</g>
<g id="panel_d">
<defs>
<radialGradient id="sw" cx="0.4" cy="0.35" r="0.75"><stop offset="0" stop-color="#fff"/><stop offset="0.5" stop-color="#efefef"/><stop offset="0.85" stop-color="#b0b0b0"/><stop offset="1" stop-color="#707070"/></radialGradient>
<radialGradient id="sg" cx="0.4" cy="0.35" r="0.75"><stop offset="0" stop-color="#b4b4b4"/><stop offset="0.6" stop-color="#8a8a8a"/><stop offset="1" stop-color="#4a4a4a"/></radialGradient>
<radialGradient id="sr" cx="0.4" cy="0.35" r="0.75"><stop offset="0" stop-color="#ff4a2a"/><stop offset="0.6" stop-color="#e62a10"/><stop offset="1" stop-color="#9c1400"/></radialGradient>
<radialGradient id="sy" cx="0.4" cy="0.35" r="0.75"><stop offset="0" stop-color="#fff45a"/><stop offset="0.6" stop-color="#f2d818"/><stop offset="1" stop-color="#b09600"/></radialGradient>
<circle id="W" r="4.4" fill="url(#sw)"/><circle id="G" r="5.6" fill="url(#sg)"/><circle id="O" r="6.1" fill="url(#sr)"/><circle id="Y" r="6.6" fill="url(#sy)"/>
<pattern id="sphp" width="13" height="11" patternUnits="userSpaceOnUse"><rect width="13" height="11" fill="#4a4a4a"/><circle cx="3" cy="3" r="4.4" fill="url(#sg)"/><circle cx="9.6" cy="8.4" r="4.4" fill="url(#sg)"/><circle cx="10" cy="1.6" r="3.4" fill="url(#sw)" opacity="0.55"/></pattern>
<clipPath id="mdclip"><rect x="134" y="648.4" width="571.6" height="302.6"/></clipPath>
</defs>
<rect x="134" y="648.4" width="571.6" height="302.6" fill="#050505"/>
<g clip-path="url(#mdclip)">
<defs><pattern id="hxp" width="96" height="64" patternUnits="userSpaceOnUse" patternTransform="translate(219 648)"><g transform="scale(0.5)" fill="none" stroke-linecap="round"><path d="M117 112l-3-8l7-5l-3-8l7-6l-3-8m-5 35l-4-4m4 4l-5 2m2-10l6-1m1-4l-4-4m1-4l6-2m1-4l-4-4m1-4l6-1m-6 1l4 5m67-84l-6 6l-7-3l-6 6l-7-3l-6 6m32-12l4 4m-4-4l-2 5m-4 1l2-5m-9 2l4 4m-10 2l2-6m-9 3l4 4m-10 2l2-6m-2 6l-4-4m36 120l-6 6l-7-3l-6 6l-7-3l-6 6m32-12l4 4m-4-4l-2 5m-4 1l2-5m-9 2l4 4m-10 2l2-6m-9 3l4 4m-10 2l2-6m-2 6l-4-4m-156-136l-6 6l-7-3l-6 6l-7-3l-6 6m32-12l4 4m-4-4l-2 5m-4 1l2-5m-9 2l4 4m-10 2l2-6m-9 3l4 4m-10 2l2-6m-2 6l-4-4m36 120l-6 6l-7-3l-6 6l-7-3l-6 6m32-12l4 4m-4-4l-2 5m-4 1l2-5m-9 2l4 4m-10 2l2-6m-9 3l4 4m-10 2l2-6m-2 6l-4-4m224-125l-6 5l-7-2l-6 5l-7-2l-6 4m32-10l4 4m-4-4l-2 6m-4-1l2-5m-9 3l4 4m-10 1l2-5m-9 3l4 4m-10 0l2-5m-2 5l-4-3m36 121l-6 5l-7-2l-6 5l-7-2l-6 4m32-10l4 4m-4-4l-2 6m-4-1l2-5m-9 3l4 4m-10 1l2-5m-9 3l4 4m-10 0l2-5m-2 5l-4-3m-49-162l6 7l-3 9l6 7l-2 9l6 7m-13-39l5 2m-5-2l4-4m2 11l-4 4m1 5l5 2m1 5l-4 4m2 5l5 2m1 5l-4 4m4-4l-6-2m-7 91l6 7l-3 9l6 7l-2 9l6 7m-13-39l5 2m-5-2l4-4m2 11l-4 4m1 5l5 2m1 5l-4 4m2 5l5 2m1 5l-4 4m4-4l-6-2m33-109l-2-8l6-6l-2-7l6-6l-2-8m-6 35l-4-4m4 4l-6 2m4-10l6-2m0-4l-4-4m2-3l6-2m0-4l-4-5m2-3l6-2m-6 2l4 4m-138 4l2-6l5-2l2-6l6-2l2-6m-17 22l-6-1m6 1l-1-5m3-1l1 6m4-8l-5-1m7-5l1 6m5-8l-5-1m7-5l1 6m-1-6l5 1m-22 149l2-6l5-2l2-6l6-2l2-6m-17 22l-6-1m6 1l-1-5m3-1l1 6m4-8l-5-1m7-5l1 6m5-8l-5-1m7-5l1 6m-1-6l5 1m152-22l3 7l-6 5l3 7l-6 5l3 7m3-31l6-2m-6 2l4 4m-1 3l-4-4m-2 9l6-2m-3 9l-4-4m-2 9l6-2m-3 9l-4-4m4 4l-5 2m-184-33l3 7l-6 5l3 7l-6 5l3 7m3-31l6-2m-6 2l4 4m-1 3l-4-4m-2 9l6-2m-3 9l-4-4m-2 9l6-2m-3 9l-4-4m4 4l-5 2m122-93l6-8l9 2l6-8l9 2l6-7m-36 19l2-6m-2 6l-4-3m10-5l5 3m4-1l2-5m4-3l5 4m4-2l2-5m4-2l5 3m-5-3l-1 5m32 5l-1 6l-6 2l-1 6l-6 2l-1 6m15-22l2 6m-2-6l6 1m-7 5l-6 0m0 2l2 6m-3 0l-6 0m0 2l2 6m-3 0l-5 0m5 0l-1-5m-135 4l-8-1l-3-8l-9-1l-3-8l-8-1m31 19l0 6m0-6l-5 2m-3-3l6-2m-9-6l-1 6m-8-7l6-2m-9-6l-1 6m-7-7l5-2m-5 2l0-6m223 25l-8-1l-3-8l-9-1l-3-8l-8-1m31 19l0 6m0-6l-5 2m-3-3l6-2m-9-6l-1 6m-8-7l6-2m-9-6l-1 6m-7-7l5-2m-5 2l0-6m-129 30l0-6l5-4l0-7l5-3l-1-7m-9 27l-5 1m5-1l-3-4m3-2l3 5m2-9l-5 1m5-8l2 5m3-8l-6 0m5-7l3 5m-3-5l6-1m6 63l6-2l3 5l5-1l3 4l5-1m-22-5l-1-6m1 6l5-4m1 2l-5 4m8 1l-2-6m7 5l-5 3m8 1l-1-5m6 4l-4 3m4-3l2 5m24 10l7-3l5 5l6-3l5 4l7-3m-30 0l4-4m-4 4l-2-5m9 2l2 5m3 0l4-5m2 2l3 5m2-1l4-4m3 1l2 5m-2-5l-4 4m-65-115l10-2l6 7l10-2l6 7l10-2m-42-8l5-3m-5 3l-1-5m11 3l1 6m5 1l5-3m5 1l1 6m5 1l5-4m5 2l1 5m-1-5l-5 4m-37 116l10-2l6 7l10-2l6 7l10-2m-42-8l5-3m-5 3l-1-5m11 3l1 6m5 1l5-3m5 1l1 6m5 1l5-4m5 2l1 5m-1-5l-5 4m-101-33l3-5l7 1l3-6l7 1l4-6m-24 15l-5-2m5 2l1-5m2 0l-1 5m8-4l-5-3m8-3l0 5m7-4l-5-3m9-3l-1 6m1-6l4 3m13-6l-3-8l5-7l-2-8l5-7l-3-8m-2 38l-5 3m5-3l-4-4m1-4l4 4m1-11l-5 3m3-11l4 4m1-11l-5 3m2-11l4 4m-4-4l5-2m67 63l6-2l3 4l6-2l4 4l5-2m-24-2l-2-5m2 5l4-4m2 2l-5 4m8 0l-2-5m8 3l-4 4m8 0l-2-5m7 3l-4 4m4-4l2 5m-118-26l5-8l9 0l5-8l9 0l5-8m-33 24l-5-2m5 2l0-5m5-3l-1 6m10-6l-5-2m10-6l-1 6m10-6l-5-2m10-6l0 6m0-6l5 3m22-41l0 6l-4 3l0 6l-5 3l1 6m8-24l5-1m-5 1l3 5m-3 1l-3-5m-1 8l5-1m-5 7l-3-5m-2 8l6-1m-5 7l-3-5m3 5l-6 1m-79 37l5-3l5 3l5-3l5 2l5-2m-25 3l-3-5m3 5l3-5m2 2l-3 5m8-2l-3-5m8 2l-3 5m8-3l-3-4m8 2l-3 4m3-4l3 4m159-34l-4 7l-8 1l-3 7l-8 1l-4 6m27-22l5 2m-5-2l0 6m-4 1l0-6m-8 7l6 2m-9 5l0-6m-8 7l5 2m-9 4l0-5m0 5l-5-2m-160-20l-4 7l-8 1l-3 7l-8 1l-4 6m27-22l5 2m-5-2l0 6m-4 1l0-6m-8 7l6 2m-9 5l0-6m-8 7l5 2m-9 4l0-5m0 5l-5-2m197-30l-5 7l-10 1l-5 7l-9 0l-6 8m35-23l-1 5m1-5l5 2m-10 5l-5-2m-5 3l0 5m-5 2l-5-2m-4 2l-1 6m-5 2l-5-3m5 3l1-6m-144 16l1-8l7-5l1-8l7-4l1-9m-17 34l-2-5m2 5l-6 0m7-8l5 0m2-5l-2-5m3-3l5 0m2-4l-2-6m3-3l5 0m-5 0l2 5m173 29l1-8l7-5l1-8l7-4l1-9m-17 34l-2-5m2 5l-6 0m7-8l5 0m2-5l-2-5m3-3l5 0m2-4l-2-6m3-3l5 0m-5 0l2 5m-29 46l-1-7l4-6l-1-7l4-5l-1-7m-5 32l-4-5m4 5l-5 2m4-9l5-2m-1-4l-4-4m3-3l5-2m-1-3l-4-4m3-3l5-2m-5 2l3 4m-200 28l-1-7l4-6l-1-7l4-5l-1-7m-5 32l-4-5m4 5l-5 2m4-9l5-2m-1-4l-4-4m3-3l5-2m-1-3l-4-4m3-3l5-2m-5 2l3 4m36 18l2 10l-6 6l2 10l-7 6l2 10m7-42l5-1m-5 1l4 5m-2 5l-3-5m-3 11l5-1m-3 11l-4-5m-3 11l5-1m-3 11l-3-5m3 5l-5 2m161-13l-6 6l-8-2l-6 6l-8-2l-6 6m34-14l-2 5m2-5l4 3m-10 3l-5-4m-3 2l-2 5m-4 1l-5-4m-3 2l-2 5m-4 1l-5-3m5 3l1-5m33-137l-6 6l-8-2l-6 6l-8-2l-6 6m34-14l-2 5m2-5l4 3m-10 3l-5-4m-3 2l-2 5m-4 1l-5-4m-3 2l-2 5m-4 1l-5-3m5 3l1-5m-44 28l-4 6l-6 1l-4 6l-7 1l-3 6m24-20l0 6m0-6l5 2m-9 4l-5-2m-1 3l0 6m-4 0l-5-2m-2 3l1 6m-4 0l-5-2m5 2l0-5m121 90l-6-2l-2-6l-6-2l-2-7l-7-1m23 18l-1 6m1-6l-5 1m-1-3l5-1m-7-5l-1 5m-5-7l5-1m-7-6l-1 6m-6-7l6-1m-6 1l1-6m22-104l-6-2l-2-6l-6-2l-2-7l-7-1m23 18l-1 6m1-6l-5 1m-1-3l5-1m-7-5l-1 5m-5-7l5-1m-7-6l-1 6m-6-7l6-1m-6 1l1-6m-170 152l-6-2l-2-6l-6-2l-2-7l-7-1m23 18l-1 6m1-6l-5 1m-1-3l5-1m-7-5l-1 5m-5-7l5-1m-7-6l-1 6m-6-7l6-1m-6 1l1-6m22-104l-6-2l-2-6l-6-2l-2-7l-7-1m23 18l-1 6m1-6l-5 1m-1-3l5-1m-7-5l-1 5m-5-7l5-1m-7-6l-1 6m-6-7l6-1m-6 1l1-6m29 69l-2-6l4-5l-2-6l5-5l-3-7m-2 29l-5 2m5-2l-4-4m2-2l3 4m1-9l-5 2m3-8l4 4m1-9l-5 2m2-9l4 4m-4-4l5-2m136 98l-6-6l1-8l-6-5l1-9l-6-5m16 33l-5-2m5 2l-3 4m-3-10l3-4m-2-4l-5-2m-1-3l3-5m-2-4l-5-1m-1-4l3-5m-3 5l5 1m-77-13l3 9l-6 6l3 8l-5 7l2 8m3-38l5-2m-5 2l4 4m-1 5l-4-4m-2 10l6-2m-3 10l-4-4m-1 11l5-2m-3 10l-4-4m4 4l-5 2m55-66l5-6l7 2l5-6l8 1l5-6m-30 15l-5-3m5 3l1-5m4-1l-2 5m9-3l-4-4m9-2l-1 5m9-4l-5-3m10-3l-2 6m2-6l4 3m-152 21l4 7l-4 6l4 6l-4 6l4 7m-4-32l5 4m-5-4l5-3m-1 10l-4 3m0 3l5 3m-1 3l-5 3m1 3l5 3m-1 4l-5 3m5-3l-5-4m193-28l4 7l-4 6l4 6l-4 6l4 7m-4-32l5 4m-5-4l5-3m-1 10l-4 3m0 3l5 3m-1 3l-5 3m1 3l5 3m-1 4l-5 3m5-3l-5-4m-38 18l-1-8l6-5l-2-8l6-6l-2-8m-7 35l-5 2m5-2l-3-4m2-4l3 5m3-10l-6 1m4-9l3 4m3-10l-6 2m4-10l4 5m-4-5l6-1m-15 25l-1 9l-8 3l-1 10l-8 3l0 9m18-34l5 0m-5 0l2 6m-3 3l-2-5m-6 8l5 1m-6 9l-1-6m-7 9l6 0m-6 9l-2-5m2 5l-6 0m-10 8l5-5l8 2l5-6l7 2l5-5m-30 12l-4-3m4 3l2-5m3 0l-2 5m10-3l-5-4m10-2l-2 6m9-4l-4-3m9-2l-1 5m1-5l5 3m-35-119l5-5l8 2l5-6l7 2l5-5m-30 12l-4-3m4 3l2-5m3 0l-2 5m10-3l-5-4m10-2l-2 6m9-4l-4-3m9-2l-1 5m1-5l5 3m-136 122l5-7l8 1l5-6l9 1l5-7m-32 18l1-6m-1 6l-5-3m10-4l5 3m3-2l2-5m3-1l5 3m4-2l1-6m4-1l4 3m-4-3l-1 6m82-24l6 4l0 8l7 3l-1 8l7 4m-19-27l5 1m-5-1l2-5m4 9l-2 5m2 3l5 0m2 3l-3 5m2 3l6 1m1 3l-3 5m3-5l-6-1m-1-42l-7-1l-2-8l-8-2l-2-8l-8-1m27 20l-5 1m5-1l-1 6m-6-7l1-6m-3-2l-6 1m-2-3l1-5m-3-3l-5 1m-3-2l1-6m-1 6l6-2m7-52l7 4l1 8l7 3l0 9l7 3m-22-27l6 0m-6 0l2-5m5 9l-2 5m3 3l5 0m2 3l-2 6m2 3l6 0m1 3l-2 5m2-5l-5 0m-17 101l7 4l1 8l7 3l0 9l7 3m-22-27l6 0m-6 0l2-5m5 9l-2 5m3 3l5 0m2 3l-2 6m2 3l6 0m1 3l-2 5m2-5l-5 0m-90-46l-6-3l-3-7l-6-3l-2-7l-7-2m24 22l-5 1m5-1l-1 5m-5-8l1-5m-4-2l-5 1m-1-4l1-5m-3-2l-6 1m-1-3l1-6m-1 6l5-1m-2-78l6 2l2 6l5 2l2 6l5 2m-20-18l6-1m-6 1l2-5m4 7l-1 5m3 1l5-1m0 3l-1 5m3 1l5-1m0 3l-1 5m1-5l-5 1m-15 109l6 2l2 6l5 2l2 6l5 2m-20-18l6-1m-6 1l2-5m4 7l-1 5m3 1l5-1m0 3l-1 5m3 1l5-1m0 3l-1 5m1-5l-5 1m6-146l-6 5l-8-2l-6 5l-7-2l-6 5m33-11l4 4m-4-4l-2 5m-4 0l2-5m-10 3l4 4m-10 1l2-5m-9 3l4 4m-10 1l2-5m-2 5l-4-4m37 121l-6 5l-8-2l-6 5l-7-2l-6 5m33-11l4 4m-4-4l-2 5m-4 0l2-5m-10 3l4 4m-10 1l2-5m-9 3l4 4m-10 1l2-5m-2 5l-4-4m84-93l4-6l7-1l3-7l7-1l3-6m-24 21l-5-2m5 2l0-6m4 0l0 5m7-6l-6-2m9-5l0 6m7-7l-5-2m8-4l0 6m0-6l6 2m-90 22l7 1l2 7l7 1l2 7l7 1m-25-17l1-5m-1 5l6-1m1 2l-5 2m7 5l1-6m6 7l-6 1m8 6l0-6m7 7l-6 1m6-1l-1 5m-71 6l7 0l3 6l6 1l3 6l7 0m-26-13l5-2m-5 2l0-6m7 6l0 6m3 0l5-2m1 3l0 5m3 1l5-2m2 2l0 6m0-6l-5 2m171-15l7 0l3 6l6 1l3 6l7 0m-26-13l5-2m-5 2l0-6m7 6l0 6m3 0l5-2m1 3l0 5m3 1l5-2m2 2l0 6m0-6l-5 2m-102 54l0-9l7-5l-1-9l7-5l0-9m-13 37l-2-5m2 5l-5 1m5-10l5-1m2-4l-3-5m2-4l6-1m1-4l-3-5m3-4l5-1m-5 1l2 5m-15-96l0-9l7-5l-1-9l7-5l0-9m-13 37l-2-5m2 5l-5 1m5-10l5-1m2-4l-3-5m2-4l6-1m1-4l-3-5m3-4l5-1m-5 1l2 5m-9 55l8 2l1 8l7 3l1 7l7 3m-24-23l6-1m-6 1l2-6m6 8l-2 6m3 2l5 0m2 3l-2 5m3 2l6 0m1 3l-1 5m1-5l-5 0m71 76l-9-2l-4-8l-9-2l-3-8l-9-2m34 22l-6 1m6-1l-1 5m-8-7l0-5m-4-3l-5 1m-4-3l1-5m-4-3l-6 1m-3-3l0-6m0 6l5-2m29-104l-9-2l-4-8l-9-2l-3-8l-9-2m34 22l-6 1m6-1l-1 5m-8-7l0-5m-4-3l-5 1m-4-3l1-5m-4-3l-6 1m-3-3l0-6m0 6l5-2m-163 152l-9-2l-4-8l-9-2l-3-8l-9-2m34 22l-6 1m6-1l-1 5m-8-7l0-5m-4-3l-5 1m-4-3l1-5m-4-3l-6 1m-3-3l0-6m0 6l5-2m29-104l-9-2l-4-8l-9-2l-3-8l-9-2m34 22l-6 1m6-1l-1 5m-8-7l0-5m-4-3l-5 1m-4-3l1-5m-4-3l-6 1m-3-3l0-6m0 6l5-2m32 34l-6 1l-3-5l-6 1l-3-5l-6 1m24 7l1 6m-1-6l-4 3m-2-2l5-3m-8-2l1 6m-7-5l5-3m-8-2l1 6m-7-5l5-3m-5 3l-1-5m25 140l-6 1l-3-5l-6 1l-3-5l-6 1m24 7l1 6m-1-6l-4 3m-2-2l5-3m-8-2l1 6m-7-5l5-3m-8-2l1 6m-7-5l5-3m-5 3l-1-5m217-116l-6 1l-3-5l-6 1l-3-5l-6 1m24 7l1 6m-1-6l-4 3m-2-2l5-3m-8-2l1 6m-7-5l5-3m-8-2l1 6m-7-5l5-3m-5 3l-1-5m25 140l-6 1l-3-5l-6 1l-3-5l-6 1m24 7l1 6m-1-6l-4 3m-2-2l5-3m-8-2l1 6m-7-5l5-3m-8-2l1 6m-7-5l5-3m-5 3l-1-5m-50-30l-1 6l-6 2l-2 6l-6 2l-2 6m17-22l6 1m-6-1l1 6m-2 0l-1-5m-5 7l5 1m-7 5l-1-5m-5 7l5 1m-7 5l-1-6m1 6l-5-1m22-149l-1 6l-6 2l-2 6l-6 2l-2 6m17-22l6 1m-6-1l1 6m-2 0l-1-5m-5 7l5 1m-7 5l-1-5m-5 7l5 1m-7 5l-1-6m1 6l-5-1m-39 113l-2 9l-9 2l-2 9l-9 1l-2 9m24-30l1 6m-1-6l6 2m-8 7l-5-1m-4 3l1 6m-3 3l-6-1m-3 2l1 6m-3 3l-6-1m6 1l-1-5m25-153l-2 9l-9 2l-2 9l-9 1l-2 9m24-30l1 6m-1-6l6 2m-8 7l-5-1m-4 3l1 6m-3 3l-6-1m-3 2l1 6m-3 3l-6-1m6 1l-1-5m56 31l6-4l7 2l5-4l7 3l5-4m-30 7l3-5m-3 5l-3-4m9 0l4 4m3-2l2-5m3 1l4 4m3-1l2-5m3 1l4 4m-4-4l-2 5m-50 88l-6 4l-7-3l-6 4l-6-3l-7 4m32-6l4 5m-4-5l-3 5m-3-1l3-5m-10 2l4 5m-10-1l3-5m-9 2l3 4m-10 0l3-5m-3 5l-3-5m35-129l-6 4l-7-3l-6 4l-6-3l-7 4m32-6l4 5m-4-5l-3 5m-3-1l3-5m-10 2l4 5m-10-1l3-5m-9 2l3 4m-10 0l3-5m-3 5l-3-5m-1 75l-6 7l-9-2l-5 7l-9-1l-6 6m35-17l-2 5m2-5l4 3m-10 4l-5-4m-4 2l-1 6m-4 1l-5-3m-4 2l-1 5m-5 1l-4-3m4 3l2-5m171-79l-9 2l-7-6l-9 3l-7-6l-9 3m41 4l-4 4m4-4l2 5m-11-3l-2-5m-5-1l-4 4m-5-1l-2-5m-5-1l-4 4m-5-1l-2-6m2 6l4-4m37 136l-9 2l-7-6l-9 3l-7-6l-9 3m41 4l-4 4m4-4l2 5m-11-3l-2-5m-5-1l-4 4m-5-1l-2-5m-5-1l-4 4m-5-1l-2-6m2 6l4-4m8-114l4 9l-6 8l4 9l-5 8l3 9m0-43l5 4m-5-4l5-3m-1 12l-5 3m-1 5l5 4m-1 5l-5 3m0 5l4 4m-1 5l-5 2m5-2l-4-4m-73 24l-6 5l-8-3l-6 5l-7-3l-6 6m33-10l3 4m-3-4l-3 5m-3 0l2-5m-10 2l4 4m-10 1l3-5m-10 2l4 4m-10 2l2-6m-2 6l-4-5m107-46l-3-7l4-6l-3-7l4-7l-3-7m1 34l-4-4m4 4l-4 3m1-10l5-3m-1-3l-4-4m1-3l5-3m-1-4l-4-3m1-4l5-2m-5 2l4 4m-3 158l-3-7l4-6l-3-7l4-7l-3-7m1 34l-4-4m4 4l-4 3m1-10l5-3m-1-3l-4-4m1-3l5-3m-1-4l-4-3m1-4l5-2m-5 2l4 4m-67-91l-6 2l-5-4l-7 2l-5-4l-6 2m29 2l3 5m-3-5l-4 4m-2-2l4-4m-9 0l2 5m-9-3l4-4m-9 0l2 5m-8-3l4-4m-4 4l-3-5m80 42l7-2l6 5l7-2l5 4l7-1m-32-4l4-4m-4 4l-2-6m9 4l2 5m4 0l4-4m3 2l2 5m3-1l4-3m3 2l2 5m-2-5l-4 3m40 36l-8 2l-7-6l-8 1l-7-5l-8 1m38 7l-4 4m4-4l2 6m-10-4l-2-6m-5 0l-4 3m-4-2l-2-5m-5 0l-4 3m-4-2l-2-5m2 5l4-4m34-117l-8 2l-7-6l-8 1l-7-5l-8 1m38 7l-4 4m4-4l2 6m-10-4l-2-6m-5 0l-4 3m-4-2l-2-5m-5 0l-4 3m-4-2l-2-5m2 5l4-4" stroke="#8a8a8a" stroke-width="2.8"/></g></pattern></defs>
<path d="M219 648.4 L620 648.4 L620 740 L619 741 L611 749 L603 757 L595 760.5 L587 762.6 L579 764.7 L571 766.7 L563 767.1 L555 764.7 L547 762.4 L539 760 L531 753.5 L523 744 L515 734.4 L507 738.1 L499 744.1 L491 750 L483 756 L475 756 L467 750 L459 744.3 L451 739.1 L443 733.9 L435 729.5 L427 737.3 L419 745 L411 748.4 L403 751.2 L395 753.9 L387 751.6 L379 746.1 L371 740.6 L363 738 L355 740.7 L347 743.5 L339 745.7 L331 742.8 L323 739.8 L315 736.8 L307 733.8 L299 731.9 L291 730.5 L283 729 L275 740.1 L267 751.1 L259 760.7 L251 766.7 L243 772.6 L235 778.6 L227 784.6 L219 789.7 Z" fill="url(#hxp)" stroke="none" stroke-width="1" />
<g transform="scale(0.5)" fill="none" stroke-linecap="round" stroke-linejoin="round">
<path d="M429 1465l-9-4l-2-10l-10-4l-2-10l-9-4m32 32l-1 5m1-5l-5 0m-4-4l6-1m-8-9l-2 5m-8-9l6-1m-8-9l-2 5m-7-9l6-1m-6 1l1-6m-32 15l6-8l10 4l6-8l10 4l7-8m-39 16l-5-4m5 4l2-6m4-2l-2 6m12-2l-5-4m11-4l-2 6m12-2l-5-4m12-4l-2 6m2-6l4 4m11 110l-1-6l5-4l0-6l5-3l-1-6m-8 25l-6 1m6-1l-3-5m2-1l3 5m2-9l-6 1m6-7l3 5m2-8l-6 1m5-7l3 5m-3-5l6-1m-23 24l1-6l5-4l1-6l5-3l0-6m-12 25l-6 0m6 0l-2-6m3 0l2 5m3-9l-6 1m7-7l2 6m3-9l-6 0m6-6l3 6m-3-6l6 0m-23-28l2-8l8 0l2-8l8 0l3-8m-23 24l-6-2m6 2l0-6m2-2l1 6m7-6l-6-2m8-6l1 6m7-6l-5-2m8-6l0 6m0-6l5 2m-12 54l-6-6l1-8l-6-6l1-9l-7-5m17 34l-3 5m3-5l-5-2m-1-4l6 2m-5-10l-3 5m-3-11l5 1m-4-10l-4 5m-3-10l6 1m-6-1l4-5m-28 73l-5-6l3-7l-5-6l3-7l-6-6m10 32l-4 4m4-4l-5-3m0-3l5 3m-2-10l-4 4m-1-10l5 3m-2-10l-5 4m-1-10l6 3m-6-3l5-4m16-36l-5-3l0-7l-5-3l1-6l-5-4m14 23l-3 5m3-5l-6-1m1-2l6 1m-6-8l-3 6m-2-9l6 1m-5-7l-3 5m-2-9l6 1m-6-1l3-5m-11-6l4 6l-3 6l3 6l-3 6l3 6m-4-30l5-4m-5 4l5 3m-1 3l-6-4m3 10l4-4m-1 10l-5-4m2 10l5-4m-2 10l-5-4m5 4l-5 3m19 34l3-5l5 0l3-5l6 0l3-5m-20 15l-5-2m5 2l0-6m3 1l-1 6m6-6l-5-3m8-2l0 6m6-6l-6-3m9-2l-1 6m1-6l5 2" stroke="#8f8f8f" stroke-width="2.2"/>
<path d="M839 1406l-5 5l-7-2l-6 5l-7-3l-5 5m30-10l-2 5m2-5l4 3m-9 2l-4-4m-3 2l-2 4m-4 1l-4-4m-3 1l-2 5m-3 0l-4-3m4 3l1-4m-219-14l-1-6l4-5l-1-6l4-5l-1-6m-5 28l-5 2m5-2l-4-4m3-2l3 4m1-9l-5 2m4-8l3 4m1-9l-5 2m4-8l3 4m-3-4l5-2m-108 117l9-2l6 6l8-3l6 7l9-3m-38-5l-1-4m1 4l4-3m5 1l-4 3m10 3l-2-5m10 2l-4 4m10 3l-1-5m10 2l-4 4m4-4l2 5m573-119l-2 8l-8 1l-3 8l-8 1l-2 8m23-26l1 5m-1-5l5 1m-7 7l-5-2m-3 3l0 5m-3 3l-5-1m-3 2l1 5m-3 3l-5-1m5 1l-1-5m-634-46l-5 4l-6-2l-5 4l-6-2l-5 4m27-8l-2 4m2-4l3 3m-8 1l-4-3m-2 1l-2 4m-3 0l-4-3m-2 1l-2 5m-3-1l-3-3m3 3l2-4m74 82l2 6l-3 6l2 6l-4 5l3 6m0-29l5-2m-5 2l4 4m-2 2l-3-3m0 9l5-3m-3 9l-4-4m0 9l5-2m-2 8l-4-3m4 3l-5 2m281-86l-7 5l-8-4l-7 5l-8-3l-7 5m37-8l-3 4m3-4l3 4m-10 1l-4-4m-4 0l-3 5m-4 0l-3-4m-5 1l-2 4m-5 1l-3-4m3 4l3-5m-151-52l-1-6l5-4l-1-6l5-3l0-6m-8 25l-3-5m3 5l-6 0m5-6l5-1m0-3l-3-4m2-2l6-1m-1-2l-3-5m3-1l5-1m-5 1l2 4m457 154l4-7l8 0l4-7l8 0l4-7m-28 21l-4-2m4 2l1-5m3-2l0 5m8-5l-4-2m8-5l0 5m8-5l-4-2m8-5l0 5m0-5l5 2m-9-61l-9 0l-4-7l-9 0l-4-7l-9 0m35 14l0 5m0-5l-5 3m-4-3l5-2m-9-5l0 5m-9-5l5-2m-9-5l0 5m-9-5l5-3m-5 3l0-5m-17 27l2-4l6 0l2-4l5 0l3-5m-18 13l0-5m0 5l-5-2m7-2l5 2m1-2l0-5m2 1l5 2m0-2l1-6m2 1l5 3m-5-3l0 6m93 124l-2 6l-6 2l-2 6l-6 1l-2 6m18-21l5 2m-5-2l1 5m-3 1l-1-5m-5 7l5 1m-7 5l-1-6m-5 7l5 1m-7 5l-1-5m1 5l-5-1m-573-125l1-9l8-4l1-9l8-3l1-9m-19 34l-2-5m2 5l-5 0m6-9l5 0m3-4l-2-5m3-4l5 0m3-3l-2-5m3-4l5 0m-5 0l1 5m-79-78l7-3l5 6l7-2l5 5l7-2m-31-4l4-4m-4 4l-2-5m9 2l1 5m4 1l4-4m3 2l2 5m3 0l4-3m3 1l2 5m-2-5l-4 3m455 135l4-4l6 1l4-4l6 2l4-4m-24 9l-4-3m4 3l2-5m2 1l-1 5m7-4l-4-3m8-1l-2 5m8-3l-4-4m8 0l-2 4m2-4l4 3m-307-72l-7 4l-6-6l-8 4l-6-5l-8 3m35 0l3 5m-3-5l-3 4m-4 0l3-4m-9-2l2 5m-10-1l3-4m-9-1l2 4m-10-1l4-4m-4 4l-2-5m109 101l8-1l3 8l8-1l4 7l8 0m-31-13l-1-6m1 6l5-3m3 2l-5 2m8 6l0-6m8 5l-5 2m9 5l-1-5m9 5l-5 2m5-2l0 5m-256-83l4-6l7-1l4-6l7-1l4-6m-26 20l-5-2m5 2l0-5m4-1l0 5m7-6l-5-2m9-4l0 5m7-6l-5-2m9-4l0 5m0-5l4 2m641 100l-4 4l-6-1l-4 4l-6-2l-4 4m24-9l-2 5m2-5l4 4m-8 0l-4-3m-2 2l-2 4m-2 0l-4-4m-2 2l-2 5m-2-1l-4-4m4 4l2-5m-120 8l-5-7l2-8l-5-7l2-9l-6-7m12 38l-3 3m3-3l-5-2m0-5l4 2m-2-10l-4 3m-1-10l4 2m-2-11l-4 4m-2-11l5 2m-5-2l4-3m67-153l7 4l0 9l7 4l0 9l7 4m-21-30l5 0m-5 0l3-5m4 9l-2 5m2 4l5 0m2 4l-2 5m2 4l5 0m2 4l-3 5m3-5l-5 0m-382 129l7 6l-3 9l7 6l-3 8l7 7m-15-36l5 2m-5-2l4-4m3 10l-3 4m0 5l5 1m2 5l-3 4m0 4l5 2m2 5l-3 3m3-3l-5-2m-64-131l6 1l2 5l5 1l2 5l6 1m-21-13l5-1m-5 1l1-5m5 6l0 5m2 0l5-1m0 2l0 5m2 0l5-2m1 3l0 5m0-5l-5 1m164 96l1-8l8-3l1-8l8-3l1-8m-19 30l-2-5m2 5l-5 0m6-8l6 1m2-4l-2-5m3-3l5 0m3-3l-2-5m3-3l5 0m-5 0l2 5m-353-120l3 7l-4 8l3 8l-4 7l3 8m-1-38l4-3m-4 3l4 3m-1 4l-4-3m0 11l4-3m-1 11l-4-4m0 11l4-3m-1 11l-4-3m4 3l-4 2m46 60l5-5l7 2l6-4l7 2l6-5m-31 10l2-5m-2 5l-4-4m9-1l4 4m3-2l2-4m4 0l4 4m3-2l2-5m4 0l3 4m-3-4l-2 5m461-14l4 3l-1 6l5 3l-1 6l4 3m-11-21l5 1m-5-1l3-5m1 8l-3 4m2 2l6 1m-1 2l-3 5m2 1l5 1m-1 2l-3 5m3-5l-5-1m-488 29l3-4l5 0l3-4l6 0l3-4m-20 12l-5-2m5 2l0-5m3 1l-1 5m6-5l-4-2m7-2l0 5m6-5l-5-3m8-1l-1 5m1-5l4 2m321-131l1-7l6-4l0-7l6-3l1-7m-14 28l-5 0m5 0l-2-5m3-2l1 4m5-8l-6 0m6-7l2 5m4-8l-5 0m6-7l2 5m-2-5l5 0m232 208l1-6l6-2l1-7l7-2l1-7m-16 24l-1-5m1 5l-5 0m6-6l5 0m1-2l-1-5m2-2l6 0m1-2l-2-5m3-2l5 1m-5-1l1 5m-267-44l-1-9l6-6l-1-9l7-6l-2-8m-9 38l-3-4m3 4l-5 1m4-10l5-1m1-5l-3-4m2-5l5-1m2-5l-3-4m1-4l6-2m-6 2l4 4m130 70l-3 8l-9 0l-3 8l-9 0l-3 8m27-24l0 5m0-5l5 2m-8 6l-5-2m-4 2l0 5m-3 3l-5-2m-4 2l0 6m-3 2l-5-2m5 2l0-5m-20-53l-3 5l-5 0l-2 5l-6 0l-2 5m18-15l4 2m-4-2l-1 5m-2 0l0-5m-5 5l5 2m-7 3l0-5m-6 5l5 2m-7 3l0-5m0 5l-5-2m-378 16l0 8l-7 3l0 7l-7 4l0 7m14-29l2 5m-2-5l5 0m-5 8l-5 0m-2 3l2 5m-2 2l-5 1m-2 3l3 4m-3 3l-5 0m5 0l-2-5m281-104l-8-2l-1-9l-7-2l-1-9l-8-2m25 24l-1 5m1-5l-5 1m-3-3l6-1m-7-8l-1 5m-6-7l5-1m-6-8l-2 5m-6-7l5-1m-5 1l1-5m396-64l2 5l-2 5l2 4l-3 5l3 4m-2-23l4 4m-4-4l4-2m-2 7l-4 3m2 2l4 3m-2 1l-4 3m1 2l4 3m-1 1l-5 3m5-3l-5-3m-787 136l5-2l4 4l5-2l4 5l6-2m-24-3l4-4m-4 4l-2-5m7 3l2 5m2-1l4-3m1 1l2 5m2 0l4-3m2 1l1 5m-1-5l-4 3m412-110l1 6l-4 4l1 6l-4 5l1 6m5-27l5-2m-5 2l3 4m-2 2l-3-4m-1 8l5-1m-4 7l-4-4m0 9l5-2m-4 8l-4-4m4 4l-5 2m-427-43l-3 8l-8 0l-2 8l-8 1l-3 8m24-25l0 5m0-5l5 1m-8 7l-5-2m-3 2l1 6m-3 2l-5-1m-3 2l0 5m-3 3l-5-2m5 2l0-5m5 209l6-1l4 6l7-1l3 6l7-1m-27-9l-1-5m1 5l4-2m2 1l-4 3m8 3l-1-5m8 4l-5 3m8 3l-1-5m8 4l-5 3m5-3l1 6m360-64l-7-1l-4-7l-7-2l-3-7l-8-1m29 18l0 5m0-5l-5 2m-2-3l5-2m-9-5l0 5m-7-7l5-1m-8-6l-1 6m-7-7l5-2m-5 2l0-5m71 11l-3-5l2-5l-3-4l2-6l-3-4m5 24l-5-3m5 3l-4 3m1-8l4-3m-2-2l-5-2m2-2l4-4m-2-2l-4-2m1-2l4-3m-4 3l5 2m319-9l-1 8l-8 3l-1 7l-8 3l-1 8m19-29l2 5m-2-5l5 0m-6 8l-6-1m-2 4l2 5m-3 2l-5 0m-3 3l2 5m-3 3l-5 0m5 0l-2-5m-270-56l-3-5l3-6l-2-5l3-6l-3-5m2 27l-4 3m4-3l-4-3m1-2l5 3m-2-9l-4 3m2-8l4 3m-1-9l-5 3m2-8l4 3m-4-3l4-3m-156-76l-9 1l-5-7l-9 1l-4-7l-9 1m36 11l1 5m-1-5l-5 3m-4-2l4-2m-9-5l1 5m-10-4l5-2m-9-5l1 5m-10-4l4-3m-4 3l-1-5m494 66l1 7l-5 4l1 7l-5 4l1 7m7-29l5-1m-5 1l3 4m-2 3l-3-5m-2 9l5-1m-4 8l-3-4m-2 8l5-1m-4 8l-3-4m3 4l-5 1m-595-6l-7 2l-5-5l-7 2l-5-5l-7 2m31 4l-4 4m4-4l1 5m-8-3l-2-4m-3-1l-4 3m-3-1l-2-5m-3 0l-4 3m-3-1l-2-5m2 5l3-3m-2 22l2 7l-5 6l2 7l-4 5l2 7m3-32l3 4m-3-4l5-2m-3 9l-5 2m0 4l4 3m-2 4l-5 2m1 3l3 4m-1 3l-5 2m5-2l-4-3m330-29l-5-2l0-5l-5-2l-1-5l-5-2m16 16l-5 0m5 0l-2 5m-3-7l2-5m-2 0l-6 0m1-2l1-5m-2 0l-5 0m0-2l2-5m-2 5l6 0m-36 10l-5-5l2-6l-5-4l2-7l-5-4m11 26l-5-2m5 2l-3 4m-2-9l3-3m-1-3l-5-2m0-2l3-4m-1-3l-5-2m0-2l3-4m-3 4l5 1m283 96l-2-9l7-5l-2-8l7-6l-2-8m-8 36l-3-4m3 4l-5 1m3-10l5-1m2-4l-3-4m1-4l5-2m2-4l-3-4m1-4l5-1m-5 1l3 4m-628-23l5 5l0 6l6 5l0 7l5 4m-16-27l3-4m-3 4l5 1m0 4l-5-1m5 7l3-4m3 9l-5-1m5 8l2-5m3 9l-5-1m5 1l-3 5m129-1l0 9l-8 4l-1 9l-8 4l0 9m17-35l2 5m-2-5l5 0m-5 9l-5 0m-3 4l2 5m-3 4l-5 0m-3 4l2 5m-2 4l-5 0m5 0l-2-5m-218 67l0-6l5-4l0-6l5-4l0-6m-10 26l-2-4m2 4l-5 1m5-7l5-1m0-3l-2-4m2-2l5-1m0-3l-3-4m3-2l5-1m-5 1l3 5m739-169l-2 5l-6-1l-2 5l-6 0l-2 5m18-14l5 2m-5-2l0 5m-2 0l0-5m-6 4l5 3m-7 2l0-5m-6 5l5 2m-7 3l0-5m0 5l-5-2m-653 68l6 5l0 8l7 5l-1 8l7 5m-19-31l5 0m-5 0l2-5m4 10l-2 4m2 4l5 1m2 4l-3 4m2 4l5 1m2 4l-2 5m2-5l-5 0m524 21l-4-3l0-5l-5-2l0-5l-5-3m14 18l-2 4m2-4l-5-1m1-2l5 1m-5-6l-2 5m-3-7l5 0m-5-5l-2 5m-3-8l5 1m-5-1l2-4m-326-118l7 1l3 6l7 2l3 6l7 1m-27-16l5-2m-5 2l0-6m7 7l0 5m3 1l5-1m2 3l0 5m3 1l5-1m2 2l-1 6m1-6l-5 2m374 112l8 4l0 9l8 3l0 9l8 4m-24-29l2-4m-2 4l5 0m3 4l-6 0m6 9l2-5m6 8l-5 0m5 9l2-5m6 9l-5 0m5 0l-2 5m-252-109l6 5l-2 7l6 5l-2 7l6 5m-14-29l5 1m-5-1l3-4m3 9l-3 4m1 3l5 1m1 4l-3 4m1 3l5 1m1 4l-3 4m3-4l-5-2m73-125l2 6l-5 4l3 6l-5 4l2 6m3-26l5-2m-5 2l3 4m-1 2l-4-4m-1 8l5-2m-2 8l-4-4m-1 8l5-2m-3 8l-3-4m3 4l-5 1m-346 146l-7-3l0-8l-7-4l-1-8l-7-3m22 26l-2 5m2-5l-5 0m-2-3l5 0m-5-8l-2 5m-5-9l5 0m-6-8l-2 5m-5-8l5 0m-5 0l2-5m-5 14l-6 5l-7-3l-6 5l-7-2l-6 5m32-10l-2 4m2-4l3 3m-9 2l-4-4m-3 1l-2 5m-4 0l-4-4m-3 2l-2 4m-4 1l-4-4m4 4l2-5m501-42l-7 5l-8-4l-6 5l-8-4l-6 6m35-8l3 4m-3-4l-3 4m-4 1l2-4m-10 0l4 4m-10 1l2-4m-10 0l4 4m-10 2l2-5m-2 5l-3-4m-115-76l0 8l-7 5l1 8l-7 5l0 8m13-34l2 4m-2-4l5-1m-5 9l-5 1m-2 4l3 5m-2 3l-6 1m-1 4l3 5m-3 3l-5 1m5-1l-2-4m-376 152l-6-3l0-7l-6-3l0-7l-6-3m18 23l-2 4m2-4l-5-1m-1-2l5 0m-5-7l-2 5m-4-8l5 0m-5-7l-2 5m-4-8l5 0m-5 0l2-5m653-157l-5 0l-3-4l-6 1l-2-5l-6 1m22 7l1 5m-1-5l-4 2m-1-2l4-2m-7-2l1 5m-7-4l5-3m-7-2l0 5m-6-4l5-3m-5 3l-1-5m-239 117l-5 4l-6-2l-5 4l-6-2l-5 4m27-8l-2 5m2-5l4 4m-9 0l-4-3m-2 1l-2 5m-3-1l-3-4m-3 2l-2 5m-3-1l-3-4m3 4l2-5m-275-24l4 4l-1 6l4 4l-1 5l4 4m-10-23l5 2m-5-2l3-4m1 8l-3 4m2 2l5 1m-1 3l-3 4m2 1l5 2m-1 2l-3 4m3-4l-5-1m66-53l-2 9l-8 2l-2 8l-8 2l-2 9m22-30l5 1m-5-1l1 5m-3 4l-1-6m-7 8l5 1m-7 7l-1-5m-7 7l5 1m-7 8l-1-5m1 5l-5-1m379-130l-5 6l-7-1l-5 6l-7-1l-4 5m28-15l4 3m-4-3l-2 6m-3 0l1-5m-8 4l4 3m-9 3l2-5m-9 4l5 3m-9 2l1-5m-1 5l-5-3m-331 74l-2-6l4-4l-2-6l4-4l-2-6m-2 26l-5 2m5-2l-4-4m2-2l3 4m1-8l-5 2m3-8l3 4m1-8l-5 2m3-8l4 4m-4-4l5-2m401 40l4 3l0 5l4 3l0 6l4 3m-12-20l5 1m-5-1l3-4m1 7l-2 5m2 0l5 1m-1 2l-3 5m3 1l5 0m-1 3l-3 4m3-4l-5-1m-117-119l5 3l0 6l5 3l0 6l5 3m-15-21l3-5m-3 5l5 0m0 3l-5-1m5 7l2-5m3 8l-5-1m5 7l2-5m3 8l-6-1m6 1l-3 4m69 114l7-1l4 6l7-1l4 5l6-1m-28-8l-1-5m1 5l5-3m2 2l-4 3m8 3l-1-6m8 5l-5 3m9 2l-1-5m7 4l-4 3m4-3l1 5m-505-80l9-3l6 6l9-2l6 6l9-2m-39-5l4-4m-4 4l-1-5m10 2l2 5m4 1l4-3m5 1l2 5m4 1l4-3m5 1l2 5m-2-5l-4 3m159 71l3-5l6-1l4-5l6-1l3-6m-22 18l-5-2m5 2l0-5m3 0l0 5m6-6l-4-2m8-3l0 5m6-6l-5-2m8-4l0 5m0-5l5 2m11-141l0 7l-6 4l1 7l-7 4l1 7m11-29l5-1m-5 1l2 5m-2 2l-2-4m-4 8l5-1m-4 8l-3-5m-4 9l6-1m-5 8l-2-5m2 5l-5 1m-106 101l6 3l1 6l5 3l1 6l6 3m-19-21l5 0m-5 0l2-5m4 8l-2 5m3 1l5 0m0 3l-1 5m2 1l5 0m1 3l-2 5m2-5l-5 0m355-20l2-8l7-2l2-8l7-2l2-8m-20 28l-5-1m5 1l-1-5m3-3l1 5m6-7l-5-1m7-7l1 5m6-7l-5-1m7-7l1 5m-1-5l5 1m-130-69l7 5l-1 8l6 4l-1 8l6 4m-17-29l3-4m-3 4l6 1m1 4l-6-1m5 9l2-5m4 9l-5-1m4 9l3-5m3 9l-5-1m5 1l-3 5m330 9l-3-7l4-6l-3-7l5-6l-3-7m0 33l-5 2m5-2l-4-4m1-3l3 3m1-9l-4 2m1-9l4 3m1-9l-4 2m1-9l4 4m-4-4l5-2m-606 51l-7 2l-5-6l-7 2l-5-6l-7 2m31 6l1 5m-1-5l-4 3m-3-1l4-4m-9-2l1 5m-8-3l4-3m-9-3l1 5m-8-3l4-3m-4 3l-2-5m417 63l4-5l5 2l4-4l6 2l3-4m-22 9l2-5m-2 5l-4-4m8-1l4 4m1-2l2-4m2 0l4 4m2-2l1-5m2 1l4 4m-4-4l-1 5m-632 28l6-4l8 2l6-5l8 2l6-5m-34 10l-4-3m4 3l2-4m4 0l-2 4m10-2l-4-4m10-1l-2 5m10-3l-4-3m10-2l-2 5m2-5l3 4m236-25l2 7l-5 6l3 7l-5 6l2 7m3-33l5-2m-5 2l4 4m-2 3l-3-3m-2 9l5-2m-2 9l-4-3m-1 9l4-2m-2 9l-4-3m4 3l-5 2m169-110l-3 7l-7 1l-3 7l-7 1l-4 7m24-23l1 5m-1-5l5 2m-8 5l-5-2m-2 3l0 5m-3 2l-5-2m-2 3l0 5m-4 2l-5-2m5 2l0-5m-30 81l5 4l0 6l4 3l0 6l5 3m-14-22l3-4m-3 4l5 1m0 3l-5-1m5 7l2-5m2 8l-5-1m5 7l3-5m2 8l-5 0m5 0l-3 5m-395-132l7-4l7 5l8-4l7 5l7-4m-36 2l3-4m-3 4l-3-5m10 1l3 5m4 0l3-4m5 0l2 5m5 0l3-4m4 0l3 5m-3-5l-3 4m723 4l7 1l2 6l6 1l2 6l7 1m-24-15l0-5m0 5l5-2m2 3l-5 1m7 5l0-5m6 6l-5 1m7 5l1-5m6 6l-5 1m5-1l0 5m-623-35l6 3l1 6l6 3l1 6l6 3m-20-21l2-5m-2 5l5 0m1 3l-5 0m6 6l2-5m4 8l-5 0m6 6l2-5m4 8l-5 0m5 0l-2 5m378-23l2-7l8-1l2-7l8-1l2-8m-22 24l-5-1m5 1l0-5m2-2l1 5m7-6l-5-1m7-6l1 5m7-6l-5-2m7-6l0 6m0-6l5 2m-112-36l-5 6l-7-1l-5 5l-8-1l-4 6m29-15l-2 5m2-5l4 4m-9 2l-4-3m-3 2l-2 5m-3 0l-4-3m-4 2l-1 5m-3 1l-5-3m5 3l1-5m-153 130l-2 5l-5 1l-2 5l-6 0l-2 5m17-16l1 5m-1-5l5 2m-7 3l-4-1m-1 2l0 5m-2 0l-5-2m-1 2l0 5m-2 0l-5-2m5 2l0-5m458 24l-1-7l7-4l-1-7l6-4l0-7m-11 29l-3-5m3 5l-5 0m4-7l5-1m2-3l-3-5m2-2l5-1m1-3l-2-4m2-3l5 0m-5 0l2 5m-101-105l-6 6l-9-2l-6 6l-8-2l-6 7m35-15l-2 5m2-5l4 3m-10 3l-4-3m-5 1l-1 5m-5 1l-4-3m-4 1l-2 5m-4 2l-4-4m4 4l2-5m-446-10l8-1l5 7l8 0l5 7l8-1m-34-12l5-2m-5 2l-1-5m9 4l1 6m4 1l4-2m4 2l1 5m4 2l4-3m4 2l1 5m-1-5l-5 3m234-1l1-7l7-2l0-8l7-2l1-7m-16 26l-5 0m5 0l-1-5m2-2l1 5m6-7l-6-1m6-7l2 5m5-7l-5 0m6-7l2 4m-2-4l5 0m-150 123l7 2l2 6l6 2l3 6l6 2m-24-18l1-5m-1 5l5-1m2 3l-6 1m8 5l1-5m5 7l-5 1m8 5l0-5m6 7l-5 1m5-1l-1 5m411-32l6-1l3 5l6-1l3 5l6-1m-24-7l5-3m-5 3l0-6m6 5l1 5m2 0l5-3m1 2l1 5m2 0l4-2m2 1l1 5m-1-5l-5 3m-203 23l5 4l-1 7l5 4l-1 7l5 4m-13-26l3-4m-3 4l5 1m0 3l-5-1m4 8l3-4m2 8l-5-1m4 8l3-4m2 8l-5-1m5 1l-3 5m-435-23l-2 9l-8 4l-2 9l-8 4l-2 9m22-35l2 5m-2-5l5 1m-7 8l-5 0m-3 4l1 5m-3 4l-5 0m-3 4l1 5m-3 4l-5-1m5 1l-2-5m469-134l-3 6l-7 0l-4 7l-7 0l-3 6m24-19l0 5m0-5l5 2m-8 4l-5-2m-2 2l0 5m-4 2l-4-2m-3 2l0 5m-3 1l-5-2m5 2l0-5m-272 74l-5 5l-6-2l-4 5l-7-2l-4 5m26-11l4 3m-4-3l-2 5m-3 0l2-5m-8 3l4 3m-8 2l1-5m-8 3l4 3m-8 2l2-5m-2 5l-4-3m123-164l3 6l-3 6l3 5l-3 6l3 5m-3-28l5-3m-5 3l5 3m-2 3l-4-3m1 9l5-3m-2 8l-4-3m1 9l4-3m-1 8l-4-3m4 3l-4 3m65 29l-9-1l-3-8l-9-1l-3-9l-9 0m33 19l-5 2m5-2l0 5m-9-6l0-5m-3-3l-5 1m-4-2l0-5m-3-4l-5 2m-4-2l1-5m-1 5l5-2m157 86l7-1l4 6l7-1l4 5l6 0m-28-9l5-3m-5 3l-1-5m8 4l1 5m3 1l4-3m3 2l1 5m3 0l4-2m2 2l1 5m-1-5l-4 2m-9-119l4 4l-1 6l3 4l-1 5l4 5m-9-24l5 2m-5-2l3-4m1 8l-3 4m2 2l4 2m-1 2l-3 4m2 1l5 2m-1 3l-3 3m3-3l-5-2m78 17l-4-5l2-5l-3-4l2-5l-3-4m6 23l-4 3m4-3l-5-3m1-2l5 3m-3-8l-4 4m1-8l4 2m-2-7l-4 3m1-7l4 2m-4-2l4-4m-247-36l3-4l5 1l4-4l5 1l3-4m-20 10l-4-3m4 3l2-5m1 1l-1 5m6-4l-4-3m8-1l-2 5m7-4l-5-3m8-1l-2 5m2-5l4 3m-280 156l-5-6l2-7l-5-5l2-7l-5-6m11 31l-5-2m5 2l-4 4m-1-10l4-3m-2-4l-5-1m0-4l4-4m-2-3l-5-2m0-4l4-4m-4 4l5 2m141-22l2-7l7-1l2-7l8-1l2-7m-21 23l-5-1m5 1l0-5m2-2l1 5m6-6l-5-1m7-6l1 5m7-6l-5-1m7-6l0 5m0-5l5 1m253-68l-3-5l3-4l-3-5l3-4l-3-4m3 22l-5 2m5-2l-5-4m2-1l4 3m-1-7l-5 3m2-8l5 3m-2-7l-4 3m1-7l5 3m-5-3l5-3m70 108l4-3l5 2l4-3l5 2l4-3m-22 5l-3-4m3 4l3-5m1 2l-2 4m7-2l-3-4m7 1l-2 4m7-2l-3-4m7 1l-2 4m2-4l4 4m33-2l-2 6l-6 2l-2 7l-7 1l-2 7m19-23l1 5m-1-5l5 1m-7 5l-5-1m-1 3l0 5m-2 2l-5-1m-2 2l1 5m-3 2l-5-1m5 1l-1-5m-579-52l8 0l5 7l9 0l5 6l9 0m-36-13l4-2m-4 2l-1-5m9 5l1 5m4 2l5-3m4 3l1 5m4 1l5-2m4 2l0 5m0-5l-5 3m379 115l-4 4l-6-2l-4 5l-6-2l-4 5m24-10l4 3m-4-3l-1 5m-3-1l2-5m-8 3l4 4m-8 1l2-5m-8 3l4 4m-8 1l2-5m-2 5l-4-4m224-190l4 5l-2 7l5 6l-2 7l4 6m-9-31l3-4m-3 4l5 2m-1 3l-4-2m2 9l4-3m1 9l-5-2m3 9l3-4m1 10l-4-2m4 2l-3 3m-153-8l-9 0l-4-7l-9 0l-4-8l-9 1m35 14l-5 2m5-2l0 5m-9-5l0-5m-4-2l-5 2m-4-2l0-5m-4-3l-4 2m-5-1l0-5m0 5l5-2m87 65l-6-6l3-9l-6-6l3-9l-6-6m12 36l-4 4m4-4l-5-2m-1-4l5 2m-2-11l-4 4m-2-10l5 2m-2-11l-4 4m-2-10l5 2m-5-2l4-4m-364 46l7 4l0 8l8 4l0 9l8 3m-23-28l2-5m-2 5l5 0m2 4l-5 0m5 8l2-4m6 8l-5 0m5 9l2-5m6 8l-5 0m5 0l-2 5m295 5l-8 3l-7-6l-8 3l-6-7l-9 3m38 4l-4 3m4-3l2 5m-10-2l-2-5m-5-1l-3 3m-5 0l-2-5m-4-2l-4 4m-5-1l-2-5m2 5l4-3m46-113l6 1l2 5l5 1l2 5l6 0m-21-12l0-5m0 5l5-1m1 2l-5 2m7 3l0-5m5 6l-5 1m7 4l1-6m5 6l-5 2m5-2l0 5m30 132l-7 3l-6-4l-7 2l-6-4l-7 2m33 1l2 5m-2-5l-4 4m-3-1l3-4m-9 0l2 4m-9-2l4-4m-10 0l3 4m-10-2l4-4m-4 4l-2-4m209 22l7-3l6 5l7-3l6 5l7-3m-33-1l4-3m-4 3l-2-4m9 1l3 5m3 0l4-4m3 1l2 5m4 0l4-4m3 1l2 4m-2-4l-3 4m-234-59l5-6l7 1l4-6l8 1l4-6m-28 16l-4-3m4 3l1-5m4-1l-1 6m8-5l-5-3m9-3l-1 5m9-4l-5-3m9-3l-1 5m1-5l5 3m-165 9l-1-5l4-4l0-5l4-4l-1-5m-6 23l-3-4m3 4l-5 1m4-6l5-1m-1-3l-3-4m3-1l5-1m-1-3l-3-4m2-1l5-1m-5 1l3 4m242 135l-3 6l-7 0l-3 6l-6 0l-3 6m22-18l0 5m0-5l4 2m-7 4l-5-2m-2 2l0 5m-3 1l-5-2m-1 2l-1 6m-2 0l-5-2m5 2l0-5m-449-167l0 8l-6 4l-1 8l-6 4l-1 8m14-32l6 0m-6 0l3 5m-3 3l-2-4m-4 8l5 0m-6 8l-2-5m-4 9l5 0m-6 8l-2-5m2 5l-5 0m63-31l-7-3l1-8l-6-3l0-8l-6-3m18 25l-3 5m3-5l-5 0m-2-3l6 0m-5-8l-2 5m-4-8l5 0m-5-8l-2 5m-4-8l5 0m-5 0l3-5m53 26l5-3l5 2l5-3l5 3l5-3m-25 4l-3-4m3 4l3-5m2 2l-3 4m8-2l-3-4m8 1l-3 5m8-2l-3-5m8 2l-3 4m3-4l3 4m-21-75l8 3l2 9l8 3l2 9l7 3m-27-27l2-5m-2 5l6-1m2 4l-5 1m7 8l1-5m7 8l-5 1m7 8l1-5m6 8l-5 1m5-1l-1 5m-219 113l-5-5l3-6l-4-5l3-6l-5-6m8 28l-5-2m5 2l-4 4m-1-9l4-3m-1-3l-4-2m0-3l3-4m0-2l-5-3m0-3l4-3m-4 3l5 3m359-11l-5 2l-4-3l-5 2l-4-4l-5 2m23 1l-4 4m4-4l2 5m-7-3l-2-4m-2 1l-3 3m-2-1l-2-5m-2 1l-3 4m-2-2l-2-4m2 4l4-3m-43 15l-7 5l-8-2l-7 6l-9-2l-7 5m38-12l-2 4m2-4l4 3m-11 2l-3-3m-5 1l-2 5m-5 1l-4-4m-5 2l-2 4m-5 1l-3-3m3 3l2-5m-236-56l2 8l-6 6l2 8l-5 6l2 8m5-36l3 4m-3-4l5-2m-3 10l-5 2m-1 4l4 4m-2 4l-5 1m0 5l3 4m-1 4l-5 1m5-1l-4-4m570-41l-7 3l-6-4l-6 4l-7-4l-6 3m32-2l3 4m-3-4l-3 4m-4-1l3-4m-9 0l3 5m-9-1l3-4m-10 0l3 4m-9-1l3-4m-3 4l-3-4m36 148l4-7l8 0l4-7l8 0l4-7m-28 21l-5-2m5 2l0-5m4-2l-1 5m9-5l-5-2m9-5l0 5m8-5l-4-2m8-5l0 5m0-5l5 2m-132-34l5 3l0 6l5 3l-1 7l6 3m-15-22l5 0m-5 0l3-5m2 8l-2 4m2 2l5 1m0 2l-2 5m1 2l6 0m0 3l-3 4m3-4l-5-1m-78 47l-7-3l-1-8l-7-3l-2-8l-7-3m24 25l-1 5m1-5l-5 1m-2-4l6 0m-7-8l-2 5m-5-8l5 0m-7-8l-1 5m-6-8l5 0m-5 0l2-5m-417 11l1 8l-6 5l1 8l-6 5l0 8m10-34l5-1m-5 1l3 4m-2 4l-3-4m-3 9l5-1m-4 9l-3-4m-3 9l5-1m-5 9l-2-4m2 4l-5 1m561-12l5 1l1 6l5 1l1 5l5 1m-17-14l5-1m-5 1l1-5m4 6l-1 6m2 0l5-1m0 2l-1 5m2 0l5-1m0 2l-1 5m1-5l-5 1m79-44l2-8l9-3l2-8l9-3l2-8m-24 30l-5-1m5 1l-1-5m3-3l1 5m8-8l-5-1m7-7l1 5m8-8l-5-1m7-7l1 5m-1-5l5 1m-80-97l-2-7l4-5l-3-7l5-5l-3-7m-1 31l-3-4m3 4l-4 2m2-9l4-2m0-3l-4-4m1-3l5-2m0-3l-4-4m1-3l5-2m-5 2l4 4m-403 118l2 8l-5 5l2 7l-5 5l2 7m4-32l3 4m-3-4l5-1m-3 9l-4 1m-1 4l3 4m-1 3l-5 2m0 3l3 4m-1 3l-5 2m5-2l-3-4m180-118l3 6l-3 7l3 7l-3 6l3 7m-3-33l4 3m-4-3l4-3m-1 9l-4 3m1 4l4 3m-1 4l-4 3m1 3l4 3m-1 4l-4 3m4-3l-4-3m-224 4l-8 3l-7-5l-7 2l-7-5l-8 3m37 2l-4 4m4-4l2 5m-10-2l-2-5m-5 0l-3 4m-4-2l-3-4m-4-1l-4 4m-4-1l-2-5m2 5l4-4m79 64l-5-5l2-7l-5-5l1-6l-4-5m11 28l-3 4m3-4l-5-2m0-3l5 2m-3-9l-4 4m-1-9l5 2m-4-8l-3 4m-1-9l4 2m-4-2l3-4m-190-16l3-5l5-1l2-5l5-1l2-5m-17 17l-5-1m5 1l0-5m3 0l0 5m5-6l-5-2m7-3l0 5m5-6l-5-2m7-3l1 5m-1-5l5 1m542 3l-4-3l1-5l-5-3l1-5l-4-3m11 19l-5-1m5 1l-2 4m-2-7l3-4m-2-1l-5-1m0-2l3-5m-2 0l-5-1m1-2l2-5m-2 5l5 1m-145-25l6 2l2 6l6 1l1 6l6 1m-21-16l1-5m-1 5l5-1m1 3l-5 1m7 5l1-6m5 7l-6 1m7 5l1-5m5 6l-5 1m5-1l-1 5m164 34l-4-7l3-7l-4-7l4-8l-5-6m6 35l-4-3m4 3l-4 3m0-10l4-3m-1-4l-4-3m0-4l4-3m0-5l-5-2m0-4l4-4m-4 4l5 2m-107-14l5 6l-3 6l5 6l-3 7l5 5m-9-30l5 3m-5-3l4-3m1 9l-4 3m1 3l5 3m0 3l-4 3m1 4l5 2m0 3l-4 4m4-4l-5-2m-562 10l2 5l-3 5l3 5l-4 5l3 5m-1-25l4-3m-4 3l4 3m-2 2l-4-3m1 8l4-3m-1 8l-4-3m0 8l5-2m-2 7l-4-3m4 3l-4 3m270-9l2 7l-4 5l2 7l-4 6l2 6m2-31l4-2m-4 2l3 4m-1 3l-4-4m0 9l4-2m-2 9l-3-4m-1 10l4-3m-2 9l-3-3m3 3l-4 3m142-120l3-6l6-1l2-6l6 0l2-6m-19 19l-5-2m5 2l0-5m3-1l0 5m6-6l-5-1m7-5l0 6m6-6l-5-2m7-4l1 5m-1-5l5 1m-231 75l8-3l6 6l8-4l6 6l8-3m-36-2l-2-5m2 5l3-4m5 1l-4 3m10 3l-2-5m10 1l-4 4m10 2l-2-5m10 2l-3 4m3-4l2 5m-61 13l0 6l-5 3l0 6l-5 3l0 5m10-23l5 0m-5 0l2 5m-2 1l-2-4m-3 7l5 0m-5 6l-2-5m-3 8l5-1m-5 6l-2-4m2 4l-5 1m369-121l-1 7l-6 3l0 7l-6 3l0 7m13-27l5 0m-5 0l2 5m-3 2l-2-5m-4 8l6 0m-6 7l-2-5m-4 8l5 0m-5 7l-2-5m2 5l-6 0m181 165l7 4l0 8l7 4l0 8l6 5m-20-29l6 0m-6 0l3-5m4 9l-2 5m2 3l5 0m2 4l-3 5m3 3l5 1m1 4l-2 4m2-4l-5-1m-535-90l4 5l-3 6l4 5l-2 5l4 5m-7-26l4-3m-4 3l5 3m-1 2l-5-2m2 8l4-4m0 9l-5-3m3 8l4-3m0 8l-5-2m5 2l-4 4m418-174l8-2l4 6l7-1l4 6l7-1m-30-8l-1-5m1 5l5-3m3 1l-5 3m9 3l-1-5m8 4l-4 3m8 3l-1-5m8 4l-4 3m4-3l1 5m-395 104l0 6l-5 3l0 7l-5 3l0 6m10-25l5-1m-5 1l2 4m-2 2l-3-5m-2 8l5 0m-5 7l-2-5m-3 8l5-1m-5 7l-2-4m2 4l-5 1m-51 21l-7-4l1-8l-6-5l1-8l-7-4m18 29l-5-1m5 1l-3 5m-4-9l3-5m-2-3l-5-1m-1-4l2-4m-1-4l-5-1m-2-3l3-5m-3 5l5 0m391-74l-3-4l2-5l-4-4l2-5l-3-4m6 22l-5-2m5 2l-4 3m1-7l3-4m-1-1l-5-2m1-2l4-4m-2-1l-4-2m1-2l3-3m-3 3l4 2m-17 83l7-1l4 4l7-1l4 4l7-1m-29-5l-1-5m1 5l4-3m3 2l-4 3m8 1l-1-5m8 4l-4 3m8 1l-1-5m8 4l-4 3m4-3l1 5m137-95l7 6l-1 9l8 5l-1 9l7 6m-20-35l5 1m-5-1l3-4m4 10l-2 4m1 5l5 1m3 4l-3 4m2 5l5 1m2 5l-3 4m3-4l-5-1m-501-14l-5-4l0-6l-5-3l0-6l-4-3m14 22l-3 4m3-4l-5-1m0-3l5 1m-5-7l-2 5m-3-8l6 0m-6-6l-2 5m-2-8l5 0m-5 0l2-5m10 32l-7-5l3-7l-7-5l3-7l-7-5m15 29l-5-1m5 1l-4 4m-3-9l4-4m-1-3l-5-2m-2-3l4-4m-1-3l-5-2m-2-3l4-4m-4 4l5 1m355 40l-6 3l-7-2l-6 3l-6-3l-7 3m32-4l-3 4m3-4l3 4m-9-1l-3-4m-4 2l-2 4m-4-1l-3-4m-3 1l-3 4m-4-1l-3-4m3 4l3-4m11 104l-5-6l3-8l-5-7l2-8l-5-7m10 36l-3 4m3-4l-4-2m-1-4l5 2m-2-10l-4 3m-1-10l4 2m-2-10l-4 3m-1-10l5 2m-5-2l4-4m-449-130l-5 0l-2-5l-5 0l-2-5l-5 0m19 10l0 6m0-6l-5 2m0-2l5-1m-7-4l0 5m-5-5l5-2m-7-3l0 5m-5-5l5-2m-5 2l0-5m239 7l-7 0l-4-6l-7-1l-4-6l-7 0m29 13l-5 3m5-3l0 6m-7-6l-1-5m-3-1l-5 2m-2-3l0-5m-4-1l-5 2m-2-2l0-5m0 5l5-2m319 90l4-5l6-1l3-5l6-1l3-5m-22 17l-4-2m4 2l0-5m4 0l-1 5m7-6l-5-2m8-3l0 5m6-6l-5-2m8-3l0 5m0-5l5 2m-368 96l-5-3l2-6l-5-3l2-6l-5-4m11 22l-5-1m5 1l-3 5m-2-8l3-4m-1-2l-5-1m0-2l3-4m-1-2l-5-1m0-3l3-4m-3 4l5 2m73 32l8 1l2 8l8 1l2 8l8 1m-28-19l0-5m0 5l5-1m3 2l-5 2m7 6l1-5m7 6l-5 1m7 7l1-5m7 6l-5 1m5-1l0 5m379-108l5-5l7 2l5-6l7 3l5-6m-29 12l-4-3m4 3l2-5m3 0l-2 5m9-3l-4-3m9-3l-2 5m9-2l-4-4m9-2l-2 5m2-5l4 4m10 158l-5-2l0-6l-5-2l0-6l-6-2m16 18l-2 5m2-5l-5 0m0-2l5 0m-5-6l-2 5m-3-7l5 0m-5-6l-2 5m-4-7l6 0m-6 0l2-5m-529-170l7 6l-1 8l6 6l-1 8l7 6m-18-34l5 2m-5-2l3-4m4 10l-3 4m2 4l5 2m1 4l-3 4m2 4l5 2m2 4l-3 4m3-4l-5-1m347-59l5 4l-1 6l4 4l-1 7l5 4m-12-25l3-5m-3 5l5 1m0 3l-5-2m4 8l3-4m1 8l-5-1m4 8l3-5m2 9l-5-2m5 2l-3 4m-55-55l5 6l-4 8l5 6l-3 7l5 7m-8-34l4 2m-4-2l4-4m1 10l-4 4m0 4l5 2m0 4l-4 3m1 4l4 3m1 4l-4 3m4-3l-5-3m77 66l9 3l0 9l9 4l0 9l8 3m-26-28l2-5m-2 5l5 0m4 3l-6 0m6 9l2-5m7 9l-6 0m6 9l2-5m6 8l-5 0m5 0l-1 5m-33 5l4-3l6 1l4-3l5 1l5-3m-24 7l2-5m-2 5l-4-4m8 1l4 3m2-2l2-5m2 2l4 3m1-2l2-5m3 2l3 3m-3-3l-2 4m-600 14l-7-5l1-9l-7-5l1-8l-7-5m19 32l-2 4m2-4l-5-1m-2-4l5 1m-4-10l-2 5m-5-10l5 1m-4-9l-2 4m-5-9l5 1m-5-1l3-5m285-84l5-1l4 3l5-2l4 3l5-1m-23-2l4-3m-4 3l-2-4m7 3l2 4m2-1l4-4m1 2l2 5m2-2l4-3m1 2l3 4m-3-4l-3 3m-28 11l-5-6l3-7l-5-5l4-7l-5-5m8 30l-5-3m5 3l-4 3m-1-9l4-3m-1-4l-4-2m-1-3l4-4m0-3l-5-2m0-3l4-4m-4 4l4 2m187 182l7-6l7 3l7-5l8 3l6-5m-35 10l2-5m-2 5l-4-4m11-2l3 4m4-1l3-4m4-1l4 4m4-1l2-5m4 0l4 4m-4-4l-2 5m-183-181l6 3l1 7l7 3l1 7l6 3m-21-23l6 0m-6 0l2-5m4 8l-1 5m2 2l6 0m1 3l-2 5m3 2l5 0m1 3l-2 5m2-5l-6 0m-153-30l-5 3l-5-2l-5 3l-5-2l-5 4m25-6l4 4m-4-4l-2 5m-3-2l3-4m-8 2l4 4m-9-1l3-4m-8 2l4 4m-9 0l3-5m-3 5l-3-4m361-6l0 8l-7 4l-1 9l-7 4l0 8m15-33l3 4m-3-4l6-1m-6 9l-5 0m-2 4l2 5m-3 4l-5 0m-2 4l2 5m-2 3l-5 1m5-1l-2-4m-401-21l-6 6l-8-4l-6 6l-8-3l-6 6m34-11l3 3m-3-3l-2 4m-4 2l2-5m-10 1l4 4m-10 2l2-5m-10 2l4 4m-10 2l3-5m-3 5l-3-4m123-8l-7 6l-9-3l-6 6l-9-3l-7 6m38-12l-2 5m2-5l3 4m-10 2l-4-4m-5 1l-2 5m-4 1l-4-4m-5 1l-2 5m-5 1l-3-4m3 4l2-5m112 149l-1-7l5-5l-1-7l4-6l-1-7m-6 32l-3-4m3 4l-5 2m4-9l5-2m0-3l-4-4m3-3l4-2m0-4l-3-4m2-3l5-1m-5 1l3 4m-171-14l2-7l7-2l1-8l7-2l2-7m-19 26l-1-5m1 5l-5 0m7-7l5 1m2-3l-2-5m3-3l6 1m1-3l-1-5m3-2l5 0m-5 0l1 5m143-47l-3-6l4-6l-3-6l4-6l-3-6m1 30l-4-3m4 3l-4 3m1-9l5-3m-1-3l-4-3m1-3l5-3m-1-3l-4-3m1-3l4-3m-4 3l4 3m443 91l-2 6l-5 2l-1 5l-6 2l-1 6m15-21l1 5m-1-5l5 1m-7 5l-5-1m0 3l1 5m-2 0l-5 0m-1 2l2 5m-3 1l-5-1m5 1l-1-5m-98 8l-4-8l5-7l-3-8l5-7l-3-8m0 38l-4-4m4 4l-5 2m1-10l5-3m0-4l-3-4m0-4l5-3m0-4l-4-3m1-5l4-2m-4 2l4 3m112 108l1-7l7-4l0-8l7-3l1-8m-16 30l-2-5m2 5l-5 0m6-7l5-1m2-3l-2-5m2-3l5 0m2-3l-2-5m3-3l5 0m-5 0l2 5m46 47l-8-3l-1-9l-7-3l-2-8l-7-3m25 26l-5 0m5 0l-2 5m-6-8l2-5m-3-4l-5 1m-2-4l1-5m-3-3l-5 0m-2-3l1-5m-1 5l5-1m-177-89l0-6l5-3l0-6l5-3l0-6m-10 24l-2-4m2 4l-5 1m5-7l6 0m-1-3l-3-4m3-2l5 0m0-3l-3-4m3-2l5 0m-5 0l2 5m-556-68l1 7l-6 4l1 7l-5 5l1 7m8-30l3 4m-3-4l5-1m-4 8l-5 1m-1 3l3 5m-2 2l-5 2m0 3l3 4m-2 3l-5 1m5-1l-3-5m459-12l1 8l-8 4l1 8l-8 4l1 9m13-33l5-1m-5 1l2 4m-1 4l-3-5m-5 9l5 0m-4 8l-3-4m-5 8l6 0m-5 9l-2-5m2 5l-5 0m198 60l-3 5l-6 0l-3 6l-6 0l-2 5m20-16l5 2m-5-2l0 5m-3 0l0-5m-6 5l5 3m-8 3l1-6m-7 6l5 2m-7 3l0-5m0 5l-5-2m-261-102l6 1l3 6l5 1l3 5l6 2m-23-15l1-5m-1 5l5-1m1 2l-5 2m8 4l0-5m5 6l-5 2m8 3l0-5m6 7l-5 1m5-1l-1 5m-282 63l7 4l-1 8l7 5l0 8l7 5m-20-30l5 0m-5 0l3-5m4 9l-2 4m1 4l5 1m2 4l-2 4m2 4l5 1m2 4l-3 4m3-4l-5-1m-10-110l3-5l6 0l2-5l6 0l2-5m-19 15l1-5m-1 5l-4-2m7-3l5 2m1-2l0-5m2 0l5 2m1-2l0-6m2 1l5 2m-5-2l0 5m157 22l-4-5l2-6l-4-5l2-6l-5-5m9 27l-3 4m3-4l-4-2m0-3l4 2m-2-8l-3 4m-1-9l4 2m-2-8l-4 3m-1-8l5 2m-5-2l4-4m-61 142l-9-1l-3-8l-9 0l-3-9l-9 0m33 18l-5 1m5-1l0 5m-9-6l0-5m-3-3l-5 2m-4-2l0-6m-3-3l-5 2m-4-2l0-5m0 5l5-2m160 12l6 6l-2 8l6 5l-2 9l7 5m-15-33l5 2m-5-2l3-4m3 10l-3 4m1 4l5 2m1 3l-3 5m1 4l5 1m2 4l-4 4m4-4l-5-1m115-168l-6 3l-5-3l-5 4l-6-3l-5 4m27-5l-3 4m3-4l3 4m-9-1l-3-4m-2 1l-3 5m-2-1l-3-4m-3 1l-2 5m-3-1l-3-4m3 4l3-5m-234 9l-4-8l3-8l-5-7l3-9l-5-7m8 39l-4-2m4 2l-3 3m-1-11l4-3m-1-5l-5-2m0-5l4-4m-1-5l-5-2m0-5l4-4m-4 4l4 2m123 139l5-7l8 1l4-7l9 2l4-8m-30 19l-4-2m4 2l1-5m4-2l-1 5m9-4l-5-2m9-5l-1 5m10-3l-5-3m9-5l-1 5m1-5l5 3m-323-60l1-6l5-3l1-6l5-3l0-6m-12 24l-5 1m5-1l-2-4m3-2l2 5m3-8l-5 0m6-6l2 5m3-8l-5 0m5-6l2 5m-2-5l6 0m119 94l3 8l-5 8l4 8l-5 8l3 8m0-40l4 3m-4-3l4-3m-1 11l-5 3m0 5l4 3m0 5l-5 3m0 5l4 3m-1 5l-4 3m4-3l-4-3m218-19l-6 3l-6-4l-7 3l-6-4l-7 3m32-1l3 4m-3-4l-3 4m-3-1l3-4m-9 0l2 5m-9-2l3-4m-9 0l3 5m-10-2l4-4m-4 4l-2-4" stroke="#a9a9a9" stroke-width="3"/>
<path d="M986 1418l5-2l4 3l5-2l4 3l5-2m-23 0l-2-4m2 4l3-4m2 2l-3 4m7-1l-2-4m7 2l-3 4m7-1l-2-4m7 2l-3 4m3-4l3 4m-396-92l-7 6l-8-3l-6 6l-8-2l-7 5m36-12l3 3m-3-3l-2 5m-5 1l2-5m-10 2l4 4m-10 2l2-5m-10 3l3 3m-10 2l2-4m-2 4l-4-3m314 80l-6-3l0-6l-5-3l0-7l-6-3m17 22l-2 5m2-5l-5 0m-1-3l6 0m-6-6l-2 4m-3-7l5 0m-5-7l-3 5m-3-8l5 1m-5-1l2-4m281 61l3 5l-2 5l3 4l-2 5l3 4m-5-23l4 3m-4-3l3-3m0 8l-4 3m2 2l4 2m-1 2l-4 3m2 2l5 2m-2 2l-4 4m4-4l-5-2m-632-132l5-1l4 4l6-1l3 5l6-1m-24-6l4-3m-4 3l-1-5m6 4l2 5m2-1l4-3m2 2l1 5m2 0l4-3m2 2l1 5m-1-5l-5 3m377 48l-4-6l2-7l-4-7l3-7l-5-6m8 33l-4 4m4-4l-5-2m1-4l4 2m-2-9l-4 3m0-10l5 3m-2-10l-4 3m-1-9l5 2m-5-2l4-4m-382 4l4 7l-5 6l3 8l-5 6l4 8m-1-35l4 3m-4-3l5-3m-1 10l-5 2m0 4l3 4m0 4l-4 2m-1 4l4 4m0 4l-5 2m5-2l-4-4m177 61l-3 8l-8 0l-2 8l-8 0l-2 8m23-24l5 2m-5-2l0 6m-3 2l0-5m-8 5l5 2m-7 6l0-6m-8 6l5 2m-7 6l-1-6m1 6l-5-2m-161 30l4 6l-4 5l3 6l-4 5l4 6m-3-28l5-2m-5 2l5 4m-1 2l-5-3m1 8l4-2m-1 8l-4-3m0 8l5-3m-1 9l-5-3m5 3l-5 2m188-226l-8-1l-4-6l-7 0l-4-7l-8 0m31 14l0 5m0-5l-5 2m-3-3l5-2m-9-4l1 5m-8-5l4-3m-8-4l0 5m-8-5l5-2m-5 2l0-5m383 223l5-6l7 2l5-6l7 2l5-6m-29 14l1-5m-1 5l-4-3m9-3l4 3m3-1l1-5m4-1l4 3m3-1l2-5m3-1l4 3m-4-3l-2 5m-303-188l6-6l7 2l6-5l8 2l6-5m-33 12l-4-4m4 4l1-5m5-1l-2 5m9-3l-4-3m10-2l-2 5m10-3l-4-3m10-2l-2 5m2-5l4 3m-159 125l1 8l-5 6l1 8l-5 6l1 8m7-36l3 4m-3-4l4-1m-3 9l-5 2m0 4l3 4m-2 4l-5 2m0 4l3 4m-2 4l-4 2m4-2l-3-4m-162-107l0-7l6-2l1-6l5-2l1-7m-13 24l-6-1m6 1l-2-5m2-2l2 5m4-7l-5 0m6-6l1 5m4-7l-5-1m6-6l2 5m-2-5l5 1m720-16l2 5l-3 4l2 5l-3 4l2 5m0-23l4-2m-4 2l4 4m-2 1l-4-3m1 7l4-2m-2 7l-4-3m1 7l4-2m-2 7l-4-3m4 3l-5 3m-649-5l9 3l2 9l8 2l2 9l8 3m-29-26l2-5m-2 5l6 0m3 3l-5 1m7 8l1-5m7 7l-5 1m7 8l1-5m7 8l-5 0m5 0l-1 5m411 22l9-2l7 5l8-2l7 6l9-2m-40-5l-2-5m2 5l4-4m5 2l-4 3m11 2l-2-5m10 3l-4 4m11 2l-2-5m11 3l-4 3m4-3l2 5m-1 83l-7-2l-2-8l-8-3l-1-8l-8-2m26 23l-5 1m5-1l-1 5m-6-7l1-5m-3-3l-5 0m-3-3l2-5m-3-3l-5 1m-3-3l2-5m-2 5l5-1m-303 26l-8 2l-6-6l-8 2l-6-7l-9 3m37 6l2 5m-2-5l-4 3m-4-1l4-3m-10-3l2 4m-10-2l4-3m-10-4l1 5m-10-2l4-4m-4 4l-1-5m520 22l-3-7l6-5l-3-7l6-5l-3-7m-3 31l-4-4m4 4l-5 2m2-9l5-2m1-3l-4-4m1-3l5-2m1-3l-4-4m1-3l5-2m-5 2l4 4m-229-90l-7-1l-4-7l-7-2l-3-7l-8-2m29 19l0 6m0-6l-5 2m-2-3l5-2m-9-5l0 5m-7-7l5-2m-8-5l-1 5m-7-7l5-1m-5 1l1-5m-441 120l-6 0l-3-6l-6 0l-2-6l-6-1m23 13l-5 2m5-2l-1 6m-5-6l0-5m-3-1l-5 2m-1-2l0-6m-2 0l-5 2m-1-3l0-5m0 5l5-1m184-52l7 3l-1 8l7 4l-1 8l7 3m-19-26l2-5m-2 5l5 0m2 3l-6 0m5 8l2-4m5 8l-5-1m4 9l3-5m4 8l-5 0m5 0l-2 5m123 48l-6-3l0-7l-6-4l0-7l-6-3m18 24l-5 0m5 0l-2 5m-4-8l2-5m-2-2l-5-1m-1-3l2-4m-2-3l-5 0m-1-3l2-5m-2 5l5 0m-138-160l3 7l-4 5l2 7l-4 5l2 6m1-30l5-2m-5 2l4 4m-1 3l-4-4m0 9l4-2m-2 9l-4-4m0 9l4-2m-2 8l-4-3m4 3l-5 3m300 70l0-6l7-3l-1-7l7-3l-1-7m-12 26l-5 1m5-1l-2-4m2-2l2 4m5-7l-6 0m5-7l2 5m5-8l-6 0m5-7l2 5m-2-5l6 0m-293 54l5 2l1 5l5 2l1 5l5 2m-17-16l1-5m-1 5l5 0m0 2l-5 1m6 4l1-5m4 7l-5 1m6 4l1-5m4 7l-5 0m5 0l-2 5m428-115l6-2l5 5l7-1l4 5l7-2m-29-5l-2-5m2 5l4-3m2 1l-4 3m9 2l-2-5m9 4l-5 3m9 2l-1-5m8 3l-4 3m4-3l1 5m-310-34l-4 4l-5-2l-5 3l-5-2l-4 4m23-7l-2 5m2-5l4 4m-8 0l-4-4m-1 2l-2 4m-3-1l-3-3m-2 1l-2 5m-2-1l-4-4m4 4l2-5m52 125l3-6l7 0l2-6l7 0l2-6m-21 18l-4-2m4 2l0-5m3-1l0 5m7-5l-5-2m7-4l0 5m7-5l-5-2m7-4l0 5m0-5l5 2m-407-23l-2-5l3-4l-2-5l3-4l-2-5m0 23l-4 2m4-2l-4-4m2-1l4 3m-1-7l-4 2m2-7l4 3m-1-7l-4 2m2-7l4 3m-4-3l5-2m50-51l-5-6l3-7l-6-6l4-7l-6-6m10 32l-5-2m5 2l-4 3m-1-9l3-4m0-3l-5-2m-1-4l4-4m0-3l-5-3m-1-3l4-4m-4 4l5 2m690 64l4 5l-2 6l4 5l-2 6l4 4m-8-26l4-3m-4 3l5 3m-1 2l-4-2m2 8l4-4m0 9l-4-2m2 8l4-4m0 8l-5-2m5 2l-3 4m-194 46l0-6l6-3l0-6l6-3l1-6m-13 24l-2-5m2 5l-5 0m5-6l6 0m0-3l-2-5m2-1l6 0m0-3l-2-5m3-1l5 0m-5 0l1 5m-168-29l-7 3l-6-6l-7 3l-5-5l-7 2m32 3l2 5m-2-5l-4 4m-3-1l4-4m-10-2l2 5m-9-2l4-4m-9-1l2 4m-9-2l3-4m-3 4l-2-5m-399 164l-2 7l-8 0l-2 7l-8 0l-3 7m23-21l5 2m-5-2l1 5m-3 2l0-5m-8 5l5 2m-7 5l-1-5m-7 5l5 2m-8 5l0-5m0 5l-4-1m435-151l-9 3l-6-7l-9 3l-7-6l-8 2m39 5l2 5m-2-5l-4 4m-5-1l4-4m-10-3l1 5m-10-2l4-4m-11-2l2 5m-10-3l4-3m-4 3l-2-5m380-78l8 3l2 8l8 2l2 8l8 3m-28-24l1-5m-1 5l5-1m3 4l-5 1m7 7l1-5m7 7l-5 1m7 7l1-5m7 8l-5 1m5-1l-1 5m-42 18l7 6l-1 8l7 6l-2 8l7 6m-18-34l5 1m-5-1l3-4m4 10l-3 4m2 4l5 1m2 5l-3 4m1 4l5 2m2 4l-3 4m3-4l-5-1m-676 18l6 5l-1 8l6 5l-2 8l6 6m-15-32l3-4m-3 4l5 1m1 4l-5-1m4 9l3-4m3 9l-6-1m4 9l3-4m3 10l-5-2m5 2l-3 4m338-132l-6 2l-5-4l-6 2l-5-5l-6 3m28 2l-3 3m3-3l3 5m-9-3l-2-5m-3 1l-4 3m-2-1l-2-5m-3 0l-4 4m-2-1l-2-5m2 5l3-4m-79 64l5 5l-1 7l5 5l-2 8l6 5m-13-30l5 1m-5-1l3-4m2 9l-3 4m2 3l4 2m1 3l-3 4m1 4l5 1m1 4l-3 4m3-4l-5-2m344 83l1 6l-5 3l1 6l-5 4l1 5m7-24l5-1m-5 1l3 5m-2 1l-3-4m-2 7l5-1m-4 7l-3-4m-2 8l5-1m-4 6l-3-4m3 4l-5 1m-318-72l-2 4l-6 1l-2 4l-5 1l-2 4m17-14l4 1m-4-1l0 5m-2-1l0-5m-6 6l5 1m-7 3l0-5m-5 6l5 1m-7 3l0-5m0 5l-5-1m-305-24l-6 0l-4-5l-6 1l-3-5l-6 0m25 9l-5 2m5-2l0 5m-6-5l-1-5m-3 0l-4 3m-2-2l-1-5m-2 0l-5 3m-1-3l-1-5m1 5l4-2m810-66l-5 4l-6-2l-5 5l-7-2l-5 4m28-9l-2 5m2-5l4 3m-9 1l-4-3m-2 1l-2 5m-3 0l-4-4m-3 2l-2 4m-3 0l-4-3m4 3l2-5m-177 2l4 3l0 5l5 3l0 5l4 2m-13-18l5 1m-5-1l2-4m2 7l-2 5m2 0l5 0m0 3l-3 4m3 1l5 0m-1 2l-2 5m2-5l-5 0m-336-28l-1 7l-7 3l-1 8l-7 2l-1 8m17-28l5 0m-5 0l2 5m-3 2l-1-4m-6 7l5 1m-6 7l-1-5m-6 7l5 1m-6 7l-2-5m2 5l-5 0m-114-51l4 6l-5 6l4 6l-4 7l4 6m-3-31l4 3m-4-3l4-3m0 9l-5 3m0 3l5 3m-1 3l-4 3m0 4l5 3m-1 3l-4 3m4-3l-4-3m254 91l7-5l7 4l7-5l8 5l7-5m-36 6l3-5m-3 5l-3-5m10 0l3 4m4 0l3-4m4-1l3 5m5 0l2-5m5 0l3 4m-3-4l-3 4m-30-124l-8-2l-4-8l-9-2l-3-8l-9-2m33 22l0 6m0-6l-5 2m-3-4l5-1m-9-7l0 5m-9-7l5-1m-8-7l-1 5m-8-7l5-2m-5 2l0-6m-17 85l-2 8l-7 2l-2 8l-8 3l-1 7m20-28l5 1m-5-1l1 5m-3 3l-1-5m-6 7l5 1m-7 7l-2-5m-6 8l6 0m-7 7l-2-5m2 5l-6-1m82 63l-8 4l-6-5l-7 3l-6-5l-7 3m34 0l2 5m-2-5l-4 4m-4 0l4-4m-10-1l3 4m-10-1l4-4m-10-1l2 4m-9-1l3-4m-3 4l-2-5m15-143l-6 2l-6-4l-6 2l-6-5l-7 2m31 3l-3 4m3-4l2 5m-8-3l-3-5m-3 1l-4 3m-2-1l-3-5m-3 0l-4 4m-3-2l-2-4m2 4l4-3m211 58l-8 0l-4-8l-8 0l-5-7l-8 0m33 15l1 5m-1-5l-4 2m-4-2l5-3m-9-5l0 6m-8-6l4-2m-9-5l1 5m-9-5l5-2m-5 2l0-5m199-84l3 7l-5 7l3 7l-5 6l3 7m1-34l4 4m-4-4l4-2m-1 9l-5 3m0 4l4 3m-1 4l-5 2m0 4l4 3m-1 4l-4 2m4-2l-4-4m-679 98l7 0l4 6l7 0l3 7l8 0m-29-13l5-2m-5 2l0-5m7 5l1 5m3 1l4-2m3 2l0 5m3 2l5-2m3 2l0 5m0-5l-5 2m440-71l5 6l-2 8l6 6l-2 8l5 6m-12-34l5 2m-5-2l3-3m2 9l-3 4m1 4l5 2m1 4l-4 4m2 4l5 2m0 4l-3 4m3-4l-5-2m173-61l-1-8l7-5l-2-8l7-5l-2-8m-9 34l-5 1m5-1l-3-4m2-4l3 4m4-9l-6 1m4-9l3 4m4-9l-5 1m3-9l3 4m-3-4l5-1m-553 94l-1-7l6-5l-1-8l6-5l-1-8m-9 33l-5 2m5-2l-3-4m2-3l3 4m3-9l-5 1m4-9l3 4m3-9l-5 1m4-9l3 5m-3-5l5-1m462 141l-3 8l-8 3l-2 8l-8 3l-3 9m24-31l5 0m-5 0l1 5m-4 3l-1-5m-7 8l6 1m-8 7l-1-5m-7 8l5 1m-8 8l-1-5m1 5l-5-1m-545-213l-5 3l-6-2l-5 3l-5-2l-6 3m27-5l3 4m-3-4l-3 4m-2-1l2-4m-8 2l4 4m-9-1l3-4m-8 2l3 4m-9-1l3-4m-3 4l-3-4m626 11l-5-4l-1-6l-5-3l-1-7l-5-3m17 23l-5-1m5 1l-2 4m-3-8l2-5m-3-1l-5 0m0-3l2-5m-3-2l-5 0m0-3l2-5m-2 5l5 0m-53 132l8 3l1 8l8 3l1 8l7 3m-25-25l6 0m-6 0l2-5m6 8l-2 5m3 3l5 0m3 3l-2 5m3 3l5 0m2 3l-1 5m1-5l-5 0m-410-106l-1 7l-6 2l-2 7l-6 2l-1 7m16-25l5 1m-5-1l2 5m-3 2l-1-5m-5 7l5 1m-7 6l-1-5m-5 7l5 1m-6 6l-2-5m2 5l-5-1m253 65l9-1l4 8l9 0l4 7l9 0m-35-14l0-5m0 5l5-2m4 1l-5 3m9 5l0-5m9 5l-5 2m9 5l-1-5m10 5l-5 2m5-2l0 5m-414 2l-3-5l3-5l-4-6l3-5l-3-5m4 26l-4-3m4 3l-4 3m1-8l4-3m-1-2l-5-3m1-3l5-3m-2-2l-4-3m1-2l4-3m-4 3l4 3m115 12l-2-6l3-5l-2-6l3-6l-2-6m0 29l-4 2m4-2l-4-4m2-2l4 3m-1-8l-4 2m2-8l4 3m-1-9l-4 3m2-9l4 4m-4-4l4-2m433 27l-4 6l-9 1l-4 6l-8 0l-5 7m30-20l0 5m0-5l5 2m-9 4l-5-2m-4 3l0 5m-4 1l-5-2m-3 2l-1 6m-4 1l-5-2m5 2l1-5m-436-87l6-4l6 2l5-4l6 2l5-4m-28 8l3-5m-3 5l-3-4m9 0l3 4m3-2l2-5m3 1l3 4m3-2l2-5m3 1l4 3m-4-3l-2 5m304 113l6 1l3 5l5 2l3 5l6 1m-23-14l1-6m-1 6l5-2m1 3l-5 1m8 4l0-5m5 7l-5 1m8 4l0-5m6 6l-5 2m5-2l-1 5m-315-86l4 5l-2 6l4 5l-2 5l4 5m-8-26l4-4m-4 4l5 2m-1 3l-5-3m3 9l4-4m0 9l-5-3m3 8l4-3m0 8l-5-2m5 2l-4 4m-40-18l-6 2l-5-6l-7 2l-4-5l-7 2m29 5l-4 3m4-3l2 5m-8-3l-2-5m-3-1l-4 4m-3-2l-1-5m-3 0l-4 3m-3-1l-2-5m2 5l4-3m265-79l4-5l7 1l4-5l7 2l4-6m-26 13l2-5m-2 5l-4-3m8-2l5 3m2-2l1-5m3 0l4 3m3-1l1-5m3-1l4 3m-4-3l-2 5m15 56l5-3l5 3l5-4l6 3l5-3m-26 4l-3-4m3 4l3-4m2 1l-3 4m8-1l-3-4m8 0l-2 5m8-2l-4-4m9 1l-3 4m3-4l3 4m-464 56l-2-7l5-5l-2-7l6-5l-2-8m-5 32l-4-4m4 4l-5 2m3-9l5-2m0-3l-3-4m1-3l5-2m1-3l-3-4m1-4l5-1m-5 1l3 5m120-114l3 6l-4 6l3 6l-4 6l4 6m-2-30l4-3m-4 3l4 3m-1 3l-4-3m0 9l4-3m-1 9l-4-3m0 9l5-3m-1 9l-4-3m4 3l-5 3m435 170l-8 2l-6-5l-8 2l-6-5l-8 2m36 4l-3 3m3-3l2 5m-10-3l-2-5m-4 0l-4 3m-4-1l-2-5m-4 0l-4 3m-4-1l-2-5m2 5l4-4m97-192l-5 5l-7-2l-5 5l-7-3l-5 5m29-10l-2 5m2-5l4 4m-9 1l-4-3m-3 1l-2 4m-3 1l-4-4m-3 1l-2 5m-3 0l-4-3m4 3l2-5m126 33l-8 2l-7-5l-8 3l-7-5l-8 2m38 3l-3 3m3-3l2 4m-10-2l-2-5m-5 0l-3 4m-5-1l-2-5m-5 0l-3 3m-5-1l-2-4m2 4l4-4m-424-1l1 8l-6 5l1 8l-6 5l1 8m9-34l3 4m-3-4l5-2m-4 10l-5 1m-1 4l3 4m-2 4l-5 1m-1 4l3 4m-2 4l-5 1m5-1l-3-4m63 47l-3 8l-9 2l-4 8l-9 1l-3 9m28-28l5 1m-5-1l1 5m-4 3l-1-5m-8 7l5 1m-9 7l0-5m-9 6l5 2m-8 7l0-6m0 6l-5-2m432 3l-1 6l-6 1l-1 6l-6 1l-2 6m16-20l5 1m-5-1l1 5m-2 1l-1-5m-5 6l5 1m-6 5l-1-5m-5 6l5 1m-7 5l-1-5m1 5l-5-1m-228-74l5-3l5 3l5-4l5 3l5-3m-25 4l-3-4m3 4l3-4m2 1l-3 4m8-1l-3-5m8 1l-3 5m8-2l-3-4m8 1l-3 4m3-4l3 4m43-28l-6 2l-5-5l-6 2l-5-5l-6 2m28 4l2 5m-2-5l-4 3m-2-1l4-4m-9-1l2 5m-8-3l4-4m-9-1l2 5m-8-3l4-3m-4 3l-2-5m-183 73l5 4l-1 6l5 5l-2 6l5 4m-12-25l3-4m-3 4l5 2m0 2l-5-1m4 7l3-4m2 9l-5-2m3 8l3-4m2 8l-5-2m5 2l-3 4m469-44l0-6l5-3l0-6l4-3l0-6m-9 24l-5 0m5 0l-3-5m3-1l2 5m3-8l-6 0m6-6l2 5m2-8l-5 0m5-6l3 5m-3-5l6-1m-324-84l6 4l1 6l6 4l1 6l6 4m-20-24l2-5m-2 5l6 0m0 4l-5-1m6 7l2-5m4 9l-5 0m6 6l2-5m4 9l-6 0m6 0l-2 4m-439 195l-7 4l-7-5l-7 4l-7-5l-7 4m35-2l3 5m-3-5l-3 4m-4 0l3-4m-10-1l3 5m-10-1l3-4m-10-1l3 5m-10-1l3-4m-3 4l-3-4m678-142l-4 5l-6 1l-4 6l-7 0l-3 6m24-18l5 2m-5-2l0 5m-4 0l1-5m-7 6l4 2m-8 4l0-6m-7 6l5 2m-8 4l0-5m0 5l-5-2m-232-48l8 3l1 10l9 3l1 9l9 3m-28-28l5 0m-5 0l1-5m7 8l-1 5m2 5l5-1m4 4l-2 5m3 4l5-1m4 4l-2 5m2-5l-6 0m-298-63l-6 0l-3-5l-7 0l-3-5l-6 0m25 10l1 5m-1-5l-4 2m-2-2l5-2m-8-3l0 5m-7-5l5-2m-8-3l1 5m-7-5l4-2m-4 2l-1-5m634 60l6 1l1 6l6 1l1 5l5 1m-19-14l6-1m-6 1l1-5m5 6l-1 5m2 1l5-1m1 2l-1 5m2 0l5-1m0 2l-1 5m1-5l-5 1m-7 46l-9 1l-5-7l-9 1l-6-7l-9 1m38 11l1 5m-1-5l-4 3m-5-2l5-3m-10-4l1 5m-10-4l4-3m-10-4l1 5m-10-4l5-3m-5 3l-1-5m-253 68l-5 0l-4-3l-5 1l-4-4l-5 1m23 5l1 4m-1-4l-4 3m-1-3l4-3m-8 0l2 5m-7-4l4-4m-8 0l2 5m-7-4l4-3m-4 3l-2-5m152-67l-1-6l4-4l0-6l4-4l-1-6m-6 26l-5 1m5-1l-3-4m2-2l3 4m1-8l-5 1m5-7l3 4m1-8l-5 1m4-7l3 4m-3-4l5-1m-225-39l-8 0l-4-6l-7 0l-5-5l-7 0m31 11l1 5m-1-5l-5 2m-3-2l5-3m-9-3l1 5m-8-5l4-2m-9-3l1 5m-8-5l5-3m-5 3l-1-5m-147 107l-7-3l-2-8l-7-3l-2-8l-7-3m25 25l-2 5m2-5l-5 1m-2-4l5 0m-7-8l-2 5m-5-8l5 0m-7-8l-2 5m-5-8l5 0m-5 0l1-5m536 7l-7 1l-4-6l-8 1l-3-6l-8 1m30 9l-5 2m5-2l1 5m-8-4l-1-5m-3-1l-5 3m-3-2l0-5m-3-1l-5 3m-3-2l-1-5m1 5l5-3m51 90l-4-6l4-7l-4-7l4-6l-4-7m4 33l-5 3m5-3l-5-3m1-3l4 3m0-10l-5 3m1-10l4 3m0-9l-5 3m1-10l5 3m-5-3l5-3m-707-115l-5 3l-5-3l-4 3l-5-3l-4 3m23-3l-3 5m3-5l3 5m-8-2l-3-4m-2 1l-3 4m-1-1l-3-5m-2 2l-3 4m-1-1l-3-5m3 5l3-5m550 58l1 6l-4 4l0 6l-4 3l1 6m6-25l5-2m-5 2l3 4m-2 2l-3-5m-1 9l5-2m-5 8l-3-5m-1 8l5-1m-4 7l-3-4m3 4l-5 2m79-77l5-4l6 0l4-4l6 1l5-4m-26 11l-4-3m4 3l2-5m3 1l-2 5m8-5l-4-3m8-1l-1 5m7-4l-4-3m9-1l-2 5m2-5l4 3m-452 48l2-7l7 0l2-6l7-1l2-6m-20 20l0-5m0 5l-5-2m7-5l5 2m2-2l0-5m2-1l5 1m2-2l-1-5m3-1l5 1m-5-1l0 5m26 53l6-3l4 5l6-3l5 5l6-3m-27-1l-2-5m2 5l4-4m2 1l-4 4m8 1l-2-5m8 2l-3 4m8 1l-2-5m8 2l-4 4m4-4l2 5m466 78l0-7l6-3l0-7l7-4l0-7m-13 28l-5 1m5-1l-2-4m2-3l2 5m4-8l-5 0m5-7l3 5m4-9l-6 1m6-8l2 5m-2-5l5 0m-43-140l-6-7l3-8l-5-7l3-8l-5-7m10 37l-4 4m4-4l-5-2m-1-5l5 3m-2-11l-3 4m-2-11l5 2m-2-10l-4 3m-1-10l4 2m-4-2l4-4m-2 193l-5-4l1-6l-5-5l2-6l-6-4m13 25l-5-1m5 1l-3 5m-2-9l3-4m-2-2l-5-2m0-3l3-4m-1-2l-5-2m-1-2l3-5m-3 5l5 1m-675-91l-4-4l1-6l-4-4l1-6l-3-4m9 24l-5-1m5 1l-4 4m0-8l3-4m-2-2l-5-1m1-3l4-4m-3-2l-4-1m1-3l3-4m-3 4l5 2m428 13l4-5l6 0l3-5l6 0l4-5m-23 15l1-5m-1 5l-4-3m8-2l4 2m2-2l1-5m2 0l5 2m1-2l1-5m3 0l4 3m-4-3l-1 5m-481 102l3 5l-3 4l3 5l-3 5l2 4m-2-23l4-3m-4 3l4 3m-1 2l-5-3m2 7l4-2m-1 7l-5-3m2 8l4-3m-2 7l-4-3m4 3l-4 3m211-32l2 5l-4 5l2 5l-4 4l2 6m2-25l3 3m-3-3l4-2m-2 7l-5 2m1 3l3 3m-1 2l-5 2m1 2l4 4m-2 2l-5 2m5-2l-4-4m545 55l-4 5l-6-2l-5 4l-6-2l-5 5m26-10l-1 5m1-5l4 3m-8 2l-4-4m-2 2l-2 4m-3 0l-4-3m-2 1l-2 5m-3 0l-4-3m4 3l2-5m53-122l-7 1l-4-5l-6 2l-4-6l-7 2m28 6l-4 3m4-3l1 5m-8-4l-1-5m-3 0l-4 3m-2-1l-1-6m-3 0l-5 3m-2-1l-1-5m1 5l5-3m-208 61l-7 4l-6-4l-7 4l-6-5l-7 5m33-4l3 5m-3-5l-3 5m-4-1l3-4m-9 0l3 4m-10 0l3-4m-9-1l2 5m-9 0l3-5m-3 5l-3-5m-101 35l-2-8l5-6l-2-7l4-6l-2-7m-3 34l-3-4m3 4l-4 2m2-10l5-2m0-4l-4-3m2-4l4-2m0-4l-3-3m1-4l5-2m-5 2l4 4m-15-119l-7 3l-7-3l-7 3l-7-3l-6 3m34-3l-3 4m3-4l2 4m-9-1l-3-4m-4 1l-3 4m-4-1l-3-4m-4 1l-2 4m-4-1l-3-4m3 4l3-4m19 29l3 4l-4 5l3 4l-3 5l2 4m-1-22l5-3m-5 3l4 3m-1 1l-4-3m0 8l5-3m-2 7l-4-3m1 8l4-3m-2 7l-4-3m4 3l-4 3m356 44l-1-6l4-4l-2-5l4-4l-1-6m-4 25l-5 2m5-2l-3-4m2-2l3 4m1-8l-5 2m3-7l4 4m0-8l-5 1m4-7l3 4m-3-4l5-2m-510-94l-6-1l-2-6l-6-1l-2-6l-6-2m22 16l-5 1m5-1l-1 5m-5-6l1-5m-3-1l-5 1m-1-2l1-6m-3 0l-5 1m-1-3l1-5m-1 5l5-1m-56 177l-8 5l-8-4l-7 5l-8-4l-8 5m39-7l3 4m-3-4l-3 4m-5 1l3-4m-11 0l3 4m-10 1l2-4m-10 0l3 4m-11 1l3-4m-3 4l-3-4m-32-112l-3 4l-5 0l-4 4l-5 0l-3 5m20-13l4 2m-4-2l-1 5m-2-1l0-5m-5 5l4 3m-8 1l1-5m-6 5l5 3m-8 2l1-6m-1 6l-4-3m540-21l-7 1l-5-5l-7 1l-4-5l-7 1m30 7l-4 3m4-3l1 5m-8-4l-1-5m-4 0l-4 3m-3-2l-1-5m-3 0l-5 3m-2-2l-2-5m2 5l4-3m-266 83l-1 8l-7 4l-1 8l-8 4l0 9m17-33l5-1m-5 1l2 4m-3 4l-2-5m-5 9l5 0m-6 8l-2-4m-6 8l6 0m-6 9l-2-5m2 5l-5 0m185 25l-2 6l-7 1l-2 6l-7 0l-2 7m20-20l0 5m0-5l5 1m-7 5l-5-2m-2 3l1 5m-3 1l-5-2m-2 2l1 6m-3 1l-5-2m5 2l0-5m168-160l5 3l-1 6l5 3l-1 6l5 3m-13-21l5 1m-5-1l3-5m2 8l-3 4m2 2l5 1m0 2l-3 4m2 2l5 1m0 2l-3 4m3-4l-5-1m-494-43l1 9l-7 6l1 9l-7 6l1 9m11-39l5-1m-5 1l3 5m-2 4l-3-4m-4 10l5-1m-4 10l-3-4m-4 10l5-1m-4 10l-2-4m2 4l-5 1m432 89l-2 8l-8 2l-3 7l-8 2l-3 8m24-27l1 5m-1-5l5 1m-7 7l-6-2m-2 4l1 5m-4 2l-5-1m-3 3l1 5m-4 3l-5-2m5 2l0-6m-268-127l6 4l-1 7l5 4l0 6l5 4m-15-25l5 1m-5-1l3-5m3 9l-3 4m2 3l5 0m0 4l-2 4m2 2l5 1m0 3l-2 5m2-5l-5-1m492 64l-2 9l-8 3l-2 9l-8 3l-2 9m22-33l2 5m-2-5l6 0m-8 9l-5-1m-3 4l2 5m-4 4l-5-1m-3 4l1 5m-3 4l-5 0m5 0l-2-5m-752-57l7-1l6 5l7-2l6 5l7-2m-33-5l-2-5m2 5l4-3m3 2l-4 3m10 2l-2-5m9 3l-4 3m10 2l-2-5m9 3l-4 4m4-4l2 5m-21-21l-8 2l-6-6l-8 2l-5-6l-8 2m35 6l2 5m-2-5l-4 3m-4-1l4-4m-10-2l2 5m-10-3l4-4m-9-2l1 5m-9-3l4-4m-4 4l-2-5m598 16l2-6l6-3l1-6l6-2l2-6m-17 23l-5-1m5 1l-1-5m3-1l1 5m5-8l-6 0m7-6l1 5m5-7l-5-1m7-5l1 5m-1-5l5 1m-347-33l7-3l6 5l7-3l5 5l7-3m-32-1l4-4m-4 4l-2-5m9 2l3 5m3 0l3-4m4 1l2 5m3 0l4-4m3 1l3 5m-3-5l-3 4m395 210l-6-3l1-6l-5-3l0-6l-5-2m15 20l-6-1m6 1l-3 4m-3-7l3-5m-2-1l-5-1m0-2l2-4m-2-2l-5 0m0-2l2-5m-2 5l5 0m-631-136l6 0l4 4l7 0l4 5l6-1m-27-8l4-3m-4 3l-1-5m7 5l1 5m3-1l5-2m2 2l1 5m3 0l4-3m2 2l1 5m-1-5l-4 3m351-68l-3 5l-5 1l-3 5l-5 1l-3 5m19-17l0 5m0-5l5 2m-8 3l-4-1m-1 2l0 5m-3 0l-5-2m0 3l0 5m-3 0l-5-2m5 2l0-5m160-18l0 5l-5 3l-1 6l-5 2l0 6m11-22l2 5m-2-5l5 0m-5 5l-6 1m1 2l2 5m-3 1l-5 0m0 2l2 5m-2 1l-5 0m5 0l-2-5m-58 113l-4-5l1-7l-5-4l1-7l-5-5m12 28l-3 4m3-4l-5-2m1-3l5 1m-4-8l-4 4m-1-8l5 1m-4-8l-3 4m-2-9l5 2m-5-2l3-4m-201-125l7-2l5 6l8-1l5 5l7-1m-32-7l-1-5m1 5l4-3m3 1l-4 3m9 3l-1-5m9 4l-5 3m10 2l-2-5m9 4l-4 3m4-3l1 5m54 45l8-3l7 5l8-3l7 5l9-3m-39-1l3-4m-3 4l-2-5m10 2l2 4m5 1l4-4m4 1l3 5m4 0l4-3m5 0l2 5m-2-5l-4 4m-71 35l0-7l6-3l-1-7l6-3l-1-6m-10 26l-5 0m5 0l-2-5m2-2l2 5m4-8l-6 1m5-8l2 5m4-8l-5 1m4-7l3 4m-3-4l5-1m435-72l-6 3l-6-3l-6 3l-5-4l-6 3m29-2l-4 4m4-4l2 5m-8-2l-3-4m-3 1l-3 4m-3-1l-3-5m-2 1l-4 4m-2-1l-3-4m3 4l3-4m-590 125l5-3l6 3l6-3l6 3l5-3m-28 3l2-4m-2 4l-3-4m8 1l3 4m3-1l3-4m3 1l3 4m3-1l3-4m2 1l3 4m-3-4l-3 4m515 96l-1 6l-6 2l0 7l-6 2l0 6m13-23l1 5m-1-5l5 0m-6 6l-5 0m-1 2l2 5m-2 2l-5 0m-1 2l2 5m-2 1l-5 0m5 0l-2-4m-161-151l-2 8l-8 3l-2 8l-8 2l-2 8m22-29l5 1m-5-1l1 6m-3 2l-2-5m-6 8l5 1m-7 7l-1-5m-7 7l5 1m-7 7l-1-5m1 5l-5 0m-54-95l0 8l-6 4l0 7l-6 4l1 7m11-30l3 5m-3-5l5 0m-5 8l-5 0m-1 4l3 4m-3 3l-5 1m-1 3l3 5m-2 2l-6 1m6-1l-3-4m-354-48l6 0l2 6l5 0l2 5l6 1m-21-12l5-2m-5 2l1-5m5 5l0 6m2 0l5-2m0 2l0 5m2 0l5-1m1 2l0 5m0-5l-5 1m264 129l8 4l-1 8l8 4l0 9l8 3m-23-28l5 0m-5 0l2-5m6 9l-3 4m2 4l6 1m2 3l-2 5m2 4l5 0m3 3l-2 5m2-5l-5 0m-353-93l-2-7l6-6l-2-8l6-5l-2-8m-6 34l-5 2m5-2l-3-4m1-3l3 4m3-10l-5 2m3-10l3 4m3-9l-5 1m3-9l4 4m-4-4l5-2m170 76l0 8l-7 4l0 9l-7 4l0 8m14-33l2 4m-2-4l5-1m-5 9l-5 1m-2 3l2 5m-2 4l-5 0m-2 4l2 4m-2 4l-5 1m5-1l-2-4m513 4l-6-6l2-8l-6-6l2-8l-6-6m14 34l-3 4m3-4l-5-2m-1-4l5 2m-3-10l-3 4m-3-10l5 2m-3-10l-3 4m-3-10l5 2m-5-2l4-4m-13-77l-5-4l0-5l-5-4l0-5l-5-4m15 22l-2 4m2-4l-5-1m0-3l5 1m-5-6l-2 4m-3-8l5 1m-5-6l-2 4m-3-8l5 1m-5-1l3-4m-334 129l3-4l5 1l3-5l5 1l3-4m-19 11l1-5m-1 5l-4-2m7-2l4 2m1-1l1-5m2 0l4 3m1-2l1-5m2 1l4 2m-4-2l-1 5m247-134l3 8l-7 7l3 9l-6 6l3 9m4-39l5-2m-5 2l3 4m0 4l-4-3m-3 10l5-2m-2 11l-3-4m-3 10l5-2m-2 11l-4-4m4 4l-5 2m-490 26l-7 2l-4-5l-7 2l-4-5l-7 2m29 4l2 5m-2-5l-4 3m-3-1l4-4m-8-1l1 5m-8-3l4-4m-8-1l1 5m-8-3l4-4m-4 4l-1-5m580 188l-7-5l2-8l-6-6l1-8l-6-5m16 32l-3 5m3-5l-5-1m-2-4l6 1m-4-9l-3 4m-3-10l5 2m-4-10l-3 4m-3-9l5 1m-5-1l3-4m-542-176l4-5l7 0l5-5l7 0l4-5m-27 15l-4-2m4 2l1-5m3 0l-1 5m8-5l-4-3m9-2l-1 5m8-5l-5-3m9-2l-1 5m1-5l5 2m-25 48l-8 0l-4-6l-8 1l-5-6l-8 0m33 11l1 5m-1-5l-4 3m-4-3l5-3m-9-3l1 5m-9-4l4-3m-9-3l1 5m-9-5l5-3m-5 3l0-5m156-21l-1 5l-5 2l-1 5l-5 2l-2 5m14-19l1 5m-1-5l5 0m-6 5l-5-1m0 3l1 5m-2 0l-6-1m1 3l1 5m-3 0l-5-1m5 1l-1-5m-187 173l7 0l4 6l7 0l4 6l7 0m-29-12l-1-5m1 5l5-2m2 2l-5 2m9 4l-1-5m8 5l-5 2m9 4l-1-5m8 5l-5 2m5-2l1 5m478-106l6-8l9 2l5-7l9 1l5-7m-34 19l-4-3m4 3l1-5m5-3l-1 5m10-3l-5-3m10-4l-1 5m10-4l-4-2m9-5l-1 5m1-5l4 3m-483-87l-4-7l4-6l-3-6l3-7l-3-6m3 32l-5 2m5-2l-4-3m0-4l5 3m-1-9l-4 3m1-9l4 3m-1-10l-4 3m1-9l4 3m-4-3l4-3m574 201l-2-8l7-5l-2-8l6-5l-1-8m-8 34l-5 2m5-2l-3-4m1-4l4 5m3-10l-5 2m3-10l3 4m3-9l-5 2m4-10l3 4m-3-4l5-1m-358 5l3-7l8-1l4-6l7-1l4-6m-26 21l-5-3m5 3l0-6m3-1l0 5m8-6l-5-2m9-4l0 5m7-6l-5-2m9-4l0 5m0-5l5 2m-160-65l-6-3l0-7l-6-2l0-7l-6-2m18 21l-2 4m2-4l-5 0m-1-3l5 0m-5-7l-2 5m-4-7l5 0m-5-7l-2 5m-4-7l5 0m-5 0l2-5m352 25l2-5l6 0l2-5l6 0l2-5m-18 15l0-5m0 5l-5-2m7-3l5 2m1-2l0-5m2 0l5 2m1-2l0-6m2 1l5 2m-5-2l0 5m-268 86l-4-6l4-7l-5-7l4-7l-4-6m5 33l-4-2m4 2l-4 3m0-9l4-3m0-4l-5-3m0-4l5-3m-1-4l-4-3m0-3l4-4m-4 4l4 2m-132-119l0 5l-5 2l0 5l-5 2l-1 5m11-19l2 5m-2-5l6 0m-6 5l-5 0m0 2l2 5m-2 0l-6 0m1 2l2 5m-3 0l-5 0m5 0l-1-5m300 49l-6 2l-4-4l-6 2l-4-4l-5 2m25 2l-4 4m4-4l1 5m-7-3l-2-4m-2 0l-4 4m-2-2l-1-5m-3 1l-3 3m-2-1l-2-5m2 5l4-4m191-20l-5-3l0-6l-5-3l1-7l-6-3m15 22l-5 0m5 0l-2 5m-3-8l2-4m-2-2l-5-1m0-2l2-5m-1-2l-5 0m-1-3l3-4m-3 4l5 1m-177 88l0-7l6-3l0-7l6-3l0-7m-12 27l-5 0m5 0l-2-5m2-2l2 4m4-7l-5 0m5-7l2 4m4-7l-5 0m5-7l2 4m-2-4l6-1m123-19l4 6l-3 7l5 6l-3 7l5 6m-8-32l4 3m-4-3l4-3m0 9l-4 4m1 3l5 3m0 3l-4 3m1 4l5 2m0 4l-4 3m4-3l-5-3m215 71l-2 5l-5 2l-1 5l-5 2l-1 5m14-19l1 5m-1-5l5 1m-7 4l-5-1m0 3l2 5m-3 0l-5-1m0 3l1 5m-2 0l-5-1m5 1l-1-5m-747-71l-7-3l-2-7l-7-2l-2-8l-7-2m25 22l-5 1m5-1l-1 5m-6-8l1-5m-3-2l-5 1m-2-3l1-5m-3-3l-5 1m-2-3l1-5m-1 5l5-1m598-41l-4-4l1-6l-4-3l1-6l-5-3m11 22l-3 4m3-4l-5-2m1-2l5 1m-4-7l-3 5m-1-8l5 1m-4-7l-3 5m-2-8l6 1m-6-1l3-4m3 105l1 5l-4 4l1 5l-5 4l1 5m6-23l3 4m-3-4l6-2m-5 7l-5 1m1 3l3 4m-2 1l-5 1m0 3l3 4m-2 1l-5 2m5-2l-3-4m239-70l-8 0l-5-8l-9 0l-4-7l-9 0m35 15l1 5m-1-5l-4 2m-4-2l4-3m-9-5l1 6m-10-6l5-2m-9-5l0 5m-9-5l5-2m-5 2l-1-5m-165 84l6-1l4 5l6-1l4 5l6 0m-26-8l4-3m-4 3l-1-5m7 4l1 5m3 0l4-3m2 2l1 5m3 0l4-3m2 3l1 5m-1-5l-5 2m-263 69l-5-3l1-6l-4-4l1-6l-5-4m12 23l-5-1m5 1l-3 5m-2-8l3-5m-2-1l-5-2m1-2l3-4m-2-2l-5-1m0-3l3-4m-3 4l5 1m348 21l-9 2l-6-6l-9 1l-6-6l-9 2m39 7l1 5m-1-5l-4 3m-5-1l4-4m-10-2l1 5m-10-4l4-3m-10-3l1 5m-10-3l4-4m-4 4l-2-5m-606-102l-4-5l2-6l-4-4l2-7l-4-4m8 26l-5-2m5 2l-4 4m0-9l4-3m-2-3l-4-2m0-2l4-4m-2-3l-4-2m0-2l4-4m-4 4l5 2m708 148l-6-2l-2-6l-6-2l-2-7l-6-2m22 19l-5 1m5-1l-1 5m-5-7l1-5m-3-1l-5 0m-1-2l1-6m-3-1l-5 1m-1-3l1-5m-1 5l5-1m-438-56l7 3l0 8l7 4l-1 7l7 4m-20-26l6 0m-6 0l3-5m4 8l-2 5m2 3l5 1m2 3l-3 4m2 3l6 1m1 3l-2 5m2-5l-5 0m-54-79l7 1l2 6l6 0l2 6l6 1m-23-14l1-5m-1 5l5-2m2 3l-5 1m7 5l0-6m6 6l-5 2m7 4l0-5m6 6l-5 2m5-2l-1 5m112-104l7 2l2 7l7 3l2 7l6 2m-24-21l5-1m-5 1l1-5m6 7l-1 5m3 2l5-1m2 4l-1 5m3 2l5-1m1 3l-1 5m1-5l-5 1m-180 118l-3 5l-6 0l-3 5l-6 1l-3 5m21-16l0 5m0-5l5 2m-8 3l-5-2m-1 2l0 5m-3 0l-5-2m-1 3l0 5m-3 0l-5-2m5 2l0-5m137-28l1-8l8-4l1-8l8-4l1-9m-19 33l-2-4m2 4l-6 0m7-8l5 0m3-4l-2-5m3-3l5 0m3-4l-2-5m3-4l5 0m-5 0l2 5m-253 50l-4 8l-9 0l-3 8l-9 0l-4 8m29-24l0 5m0-5l4 2m-8 6l-5-2m-4 2l0 5m-3 3l-5-2m-4 2l0 6m-4 2l-5-2m5 2l0-5m-112-138l6-6l8 3l7-6l8 3l6-6m-35 12l2-5m-2 5l-4-4m10-2l4 3m4 0l2-5m5-1l3 3m5 0l2-5m4-1l4 3m-4-3l-2 5m-1 62l4 8l-5 8l3 8l-4 8l3 8m-1-40l5-3m-5 3l4 3m0 5l-5-3m0 11l4-3m-1 11l-4-3m0 11l4-3m-1 11l-4-3m4 3l-4 3m398 13l2 6l-5 4l2 6l-5 4l1 6m5-26l5-1m-5 1l3 4m-1 2l-3-4m-2 8l5-2m-3 8l-4-4m-1 8l5-2m-4 8l-3-4m3 4l-5 1m-99-101l-1 7l-6 2l-1 7l-7 3l-1 7m16-26l2 5m-2-5l5 0m-6 7l-5-1m-1 3l1 5m-2 2l-6 0m-1 3l2 5m-3 2l-5-1m5 1l-2-5m-250 129l-6 2l-5-4l-6 2l-6-4l-6 2m29 2l2 5m-2-5l-3 4m-3-2l4-3m-9-1l2 5m-8-3l3-3m-9-1l3 5m-9-3l4-3m-4 3l-2-4m170-212l0 6l-4 3l0 6l-5 4l1 6m8-25l5-1m-5 1l2 4m-2 2l-2-5m-2 8l5-1m-5 7l-2-4m-3 8l6-1m-5 7l-3-4m3 4l-5 1m471 76l-2 4l-5 0l-2 5l-5 0l-2 5m16-14l5 2m-5-2l0 5m-2-1l0-5m-5 5l5 2m-7 3l0-5m-5 5l5 2m-7 3l0-5m0 5l-5-2m-109 102l-7-1l-2-6l-7 0l-2-6l-7-1m25 14l0 5m0-5l-5 1m-2-2l5-2m-7-4l0 5m-7-5l5-2m-7-4l0 5m-7-6l5-2m-5 2l0-5m44-69l-7 5l-7-4l-7 4l-8-4l-7 4m36-5l-3 5m3-5l3 5m-10 0l-3-5m-4 1l-3 4m-4 0l-3-4m-5 0l-2 4m-5 0l-3-4m3 4l3-4m-464-125l3 6l-5 5l3 6l-4 6l3 6m0-29l4 3m-4-3l4-2m-1 8l-5 2m0 3l4 4m-1 2l-4 3m0 3l4 3m-1 3l-5 2m5-2l-4-4m710 79l-7-6l0-9l-7-5l0-10l-7-5m21 35l-5-1m5 1l-3 4m-4-10l2-4m-2-5l-5-1m-2-4l2-5m-2-5l-5 0m-2-5l2-5m-2 5l5 1m-24 16l-1-7l6-5l-1-7l7-4l-1-8m-10 31l-3-4m3 4l-5 1m4-8l5-1m1-4l-2-4m1-3l5-1m2-3l-3-5m2-3l5-1m-5 1l2 5m-660 142l-9-2l-2-8l-8-3l-3-8l-8-2m30 23l-5 1m5-1l-1 5m-8-7l1-5m-3-3l-5 1m-3-4l1-5m-4-3l-5 1m-3-3l1-6m-1 6l5-1m519-93l9 2l3 9l9 2l3 9l8 2m-32-24l1-5m-1 5l5-1m4 3l-5 2m8 7l1-5m8 7l-5 1m8 8l0-6m8 8l-5 1m5-1l0 5m-92 52l-5 7l-8 0l-4 8l-9 0l-4 7m30-22l4 2m-4-2l-1 5m-4 2l1-5m-9 5l5 3m-9 5l0-5m-9 5l5 2m-9 5l1-5m-1 5l-5-2m-371-15l6-2l5 4l6-2l5 4l7-2m-29-2l-2-5m2 5l4-4m2 2l-4 3m9 1l-2-5m8 3l-3 4m8 0l-2-4m9 2l-4 4m4-4l2 5m467 5l-7-6l2-8l-7-5l1-8l-6-6m17 33l-5-2m5 2l-3 4m-4-10l3-4m-1-4l-6-1m-1-4l3-4m-2-4l-5-1m-1-5l3-4m-3 4l5 2m-474 15l-7-1l-3-5l-7 0l-3-6l-6 0m26 12l0 5m0-5l-5 2m-2-3l5-2m-8-3l0 5m-7-5l5-3m-8-3l0 5m-6-5l4-3m-4 3l-1-6m81-98l-7 3l-6-4l-7 2l-6-4l-7 3m33 0l-4 4m4-4l2 5m-9-2l-3-5m-3 1l-4 3m-3-1l-3-4m-3 0l-4 4m-3-1l-2-5m2 5l3-4m611 27l-5 4l-6-3l-4 4l-6-3l-5 5m26-7l3 4m-3-4l-2 4m-3 0l3-5m-9 2l4 4m-8 0l2-4m-8 1l3 4m-8 1l3-5m-3 5l-3-4m-106-30l-3-5l2-5l-4-5l3-6l-4-5m6 26l-4-2m4 2l-4 4m1-9l3-3m-1-2l-5-3m1-2l4-4m-1-2l-5-2m1-3l4-3m-4 3l5 3m-542 194l-5-5l2-8l-5-5l2-8l-5-5m11 31l-4 4m4-4l-5-2m0-3l4 2m-2-10l-4 4m-1-9l5 2m-3-10l-4 4m-1-9l5 2m-5-2l4-4m586-153l2-8l7-4l1-8l7-4l1-8m-18 32l-1-5m1 5l-5 0m7-8l5 0m2-4l-2-5m3-3l5 0m2-4l-2-5m3-3l5 0m-5 0l2 5m-182 89l8 3l0 8l8 3l0 8l7 3m-23-25l5 0m-5 0l2-5m6 8l-2 4m2 4l5 0m3 3l-2 5m2 3l5 0m2 3l-1 5m1-5l-5 0m117-69l6-2l5 3l5-2l5 4l6-3m-27 0l-2-5m2 5l4-4m2 2l-4 4m9-1l-3-4m8 2l-3 4m8 0l-2-5m8 2l-4 4m4-4l2 5m-376-14l-5 3l-6-2l-5 3l-6-2l-5 3m27-5l-2 4m2-4l3 4m-8-1l-3-4m-3 2l-2 4m-3-1l-3-4m-3 2l-2 4m-3-1l-3-4m3 4l3-4m410 22l5-7l9 1l5-6l8 0l5-6m-32 18l1-5m-1 5l-4-3m9-4l5 3m4-2l1-5m4-1l4 2m4-2l1-5m4-1l5 3m-5-3l-1 5m-478 42l-5-6l4-6l-5-6l3-6l-5-5m8 29l-5-3m5 3l-4 3m-1-9l4-3m0-3l-5-2m0-4l4-3m-1-3l-5-2m0-3l4-4m-4 4l5 2m268 6l6-6l9 1l6-6l9 1l6-6m-36 16l-5-3m5 3l1-5m5-1l-2 5m11-4l-4-3m10-3l-1 5m10-4l-4-3m10-3l-1 5m1-5l4 3m-477 105l9-4l7 6l8-3l7 6l9-3m-40-2l4-4m-4 4l-2-5m11 1l2 5m5 1l3-3m5 0l2 5m5 1l4-3m5 0l2 5m-2-5l-4 4m108-86l-7 3l-7-3l-7 4l-8-4l-7 4m36-4l3 4m-3-4l-3 4m-4-1l3-4m-10 1l3 4m-10 0l2-5m-10 1l3 4m-10 0l3-5m-3 5l-3-5m241 13l-7 5l-9-4l-7 5l-8-4l-8 5m39-7l3 4m-3-4l-3 4m-4 1l2-5m-11 1l4 4m-11 1l3-4m-11 0l3 4m-11 1l3-4m-3 4l-3-4m155-97l0 9l-8 4l0 9l-8 4l0 9m16-35l5-1m-5 1l2 4m-2 5l-2-5m-6 9l5-1m-5 10l-2-5m-6 9l5 0m-5 9l-2-5m2 5l-5 0m261 181l8-2l5 5l8-3l5 6l8-3m-34-3l4-3m-4 3l-2-4m10 2l2 4m3 1l4-4m4 1l2 5m3 1l4-4m4 1l2 5m-2-5l-4 3m-736-4l-7 0l-3-6l-6 0l-3-5l-7 0m26 11l-5 2m5-2l0 5m-7-5l0-5m-3-1l-5 3m-1-3l-1-5m-2 0l-5 2m-2-2l0-6m0 6l5-3m568-118l2-6l6-1l2-5l5-2l2-5m-17 19l0-5m0 5l-5-1m7-5l5 2m1-3l-1-5m3 0l5 1m0-3l-1-5m3 0l5 1m-5-1l1 5m-375 32l2-5l5-2l2-6l6-2l2-5m-17 20l-1-5m1 5l-5-1m7-4l5 1m0-3l-1-5m3-1l5 1m1-3l-1-5m3 0l5 1m-5-1l1 5m-172 72l6 7l-3 8l6 7l-3 9l6 7m-12-38l3-4m-3 4l4 2m2 5l-5-2m2 10l3-3m3 10l-5-2m2 11l4-4m2 11l-5-2m5 2l-4 4m609-7l-2-6l4-5l-1-6l4-4l-1-6m-4 27l-4-4m4 4l-5 2m3-8l5-2m-1-3l-3-4m2-2l5-1m-1-3l-3-4m2-2l5-2m-5 2l3 4m-180-2l0-7l6-5l-1-7l6-4l0-7m-11 30l-5 1m5-1l-3-4m3-3l3 4m3-9l-6 1m5-8l3 5m3-9l-5 1m5-8l2 4m-2-4l5-1m-223 38l-4-4l2-5l-4-4l2-6l-5-4m9 23l-4 4m4-4l-5-2m1-2l5 2m-3-7l-4 4m0-8l4 2m-2-8l-4 4m-1-8l5 2m-5-2l4-3m15-131l4-5l6 1l4-5l6 1l4-5m-24 13l1-6m-1 6l-4-3m8-2l5 3m1-2l1-5m3 0l4 3m2-2l1-5m3 0l4 3m-4-3l-2 5m-40-28l6 5l0 7l5 4l0 8l6 4m-17-28l3-4m-3 4l6 1m0 4l-5-1m5 8l2-5m3 9l-5 0m5 8l3-5m3 9l-5-1m5 1l-3 5m-112 1l-3-6l4-6l-4-6l5-6l-4-6m2 30l-4-3m4 3l-4 3m1-9l4-3m0-3l-4-3m0-3l5-3m0-3l-4-3m0-3l5-2m-5 2l4 3m-54 36l3 9l-7 6l3 9l-7 6l2 8m6-38l5-1m-5 1l3 4m0 5l-4-4m-3 10l5-2m-2 11l-4-4m-3 10l5-2m-3 10l-3-4m3 4l-5 2m700-77l6 0l4 4l6-1l4 4l6-1m-26-6l-1-5m1 5l5-3m1 3l-4 3m8 1l-1-5m7 4l-4 3m8 1l-2-5m8 4l-5 3m5-3l1 5m-227 22l5 5l-3 7l5 5l-2 7l4 5m-9-29l4-4m-4 4l5 2m0 3l-5-2m2 9l4-4m1 9l-5-2m3 9l3-4m1 9l-4-2m4 2l-3 4m-85 28l5-2l4 3l5-2l4 3l5-2m-23 0l-2-5m2 5l3-4m2 2l-3 4m7-1l-2-5m7 3l-3 4m7-1l-2-5m7 3l-3 4m3-4l3 4m-339 20l-5 4l-6-2l-5 4l-6-2l-5 4m27-8l-2 5m2-5l3 4m-8 0l-4-3m-2 1l-2 5m-3-1l-3-3m-3 1l-2 5m-3-1l-3-4m3 4l3-5m106 42l-4 6l-7 0l-3 6l-7 0l-4 6m25-18l4 2m-4-2l-1 5m-3 1l0-5m-7 5l5 2m-8 4l0-5m-7 5l4 2m-8 4l1-5m-1 5l-4-2m-20 5l5-7l8 2l5-7l9 1l4-7m-31 18l-5-2m5 2l1-5m4-2l-1 5m9-3l-4-3m9-4l-1 5m10-4l-5-3m9-4l-1 5m1-5l5 3m-115-53l3-4l6 0l4-4l5 1l4-4m-22 11l-4-4m4 4l1-5m2 1l-1 5m7-5l-4-3m8-1l-2 5m7-4l-4-3m8-1l-2 5m2-5l4 3m389-48l-6 4l-6-4l-5 4l-7-4l-5 4m29-4l-2 4m2-4l3 4m-9 0l-3-4m-3 0l-2 4m-3 0l-4-4m-3 0l-2 4m-3 0l-3-4m3 4l2-4m-253-77l3 7l-5 6l3 7l-4 6l3 7m0-33l4-3m-4 3l4 3m-1 4l-4-4m-1 10l5-3m-2 10l-4-4m0 10l4-3m-1 10l-4-4m4 4l-5 2m95-5l-7 6l-8-4l-7 5l-8-3l-8 5m38-9l4 4m-4-4l-2 5m-5 1l3-5m-11 1l3 4m-10 1l2-4m-10 1l3 3m-11 2l3-4m-3 4l-3-4m-138 90l-2-8l6-6l-1-8l6-6l-2-9m-7 37l-4-4m4 4l-5 2m3-10l5-1m1-5l-3-4m2-4l5-2m1-4l-3-4m1-5l5-1m-5 1l4 5m8 84l-1 6l-5 3l-1 6l-5 2l-1 6m13-23l5 0m-5 0l2 5m-3 1l-2-5m-3 8l5 0m-6 6l-2-5m-3 7l5 0m-6 6l-2-4m2 4l-5 0m-10-6l-8 3l-7-4l-7 3l-7-4l-8 3m37-1l2 4m-2-4l-3 4m-5-1l3-4m-10 0l3 4m-10-1l3-4m-10 0l2 4m-10-1l3-4m-3 4l-3-5m369-80l-1 5l-6 3l-1 5l-5 3l-1 6m14-22l5 0m-5 0l1 5m-2 0l-2-5m-4 8l6 0m-7 5l-1-5m-4 8l5 0m-6 6l-2-5m2 5l-5-1m-253-47l-9-4l0-9l-9-3l-1-9l-8-3m27 28l-6 0m6 0l-2 5m-7-9l2-5m-2-4l-6 1m-3-4l2-5m-3-4l-5 0m-3-3l2-5m-2 5l5 0m42 10l-7 5l-8-4l-7 5l-8-3l-8 4m38-7l4 4m-4-4l-2 5m-5 0l3-5m-11 1l3 5m-10 0l2-5m-10 2l3 4m-11 0l3-4m-3 4l-3-4m-73 7l8-2l4 6l8-2l4 6l8-1m-32-7l5-3m-5 3l-1-5m9 3l1 5m3 1l5-3m3 1l1 5m3 1l5-3m3 2l1 5m-1-5l-5 3m117-12l5-4l7 1l5-5l7 2l5-5m-29 11l-4-3m4 3l2-5m3 1l-1 4m8-3l-4-3m9-2l-2 5m9-3l-4-4m9-1l-2 5m2-5l4 4m235 101l-8-3l-1-8l-8-3l-1-9l-8-2m26 25l-1 5m1-5l-5 0m-3-3l5 0m-6-8l-1 5m-7-8l5 0m-6-9l-1 5m-7-7l5-1m-5 1l1-5m-530-100l4 7l-6 7l4 7l-5 6l3 8m0-35l4 4m-4-4l5-2m-1 9l-5 3m-1 4l4 3m0 4l-5 2m0 4l3 4m0 4l-5 2m5-2l-4-4m175 77l7 2l2 7l7 2l2 8l7 2m-25-21l5-1m-5 1l1-5m6 7l-1 5m3 2l5-1m2 3l-1 5m3 3l5-1m2 3l-1 5m1-5l-5 1m384-129l-4 3l-5-2l-5 4l-5-2l-4 3m23-6l-2 5m2-5l4 4m-8-1l-4-4m-1 2l-3 5m-2-1l-3-4m-2 2l-2 5m-2-2l-4-4m4 4l2-5m-280 83l5-5l7 2l4-6l7 2l5-5m-28 12l2-5m-2 5l-4-3m9-2l4 3m3-1l1-5m3-1l4 4m3-2l2-4m3-1l4 3m-4-3l-2 5m406 12l-2 6l-6 0l-2 6l-6 1l-2 5m18-18l5 2m-5-2l1 6m-3 0l0-5m-6 5l5 2m-7 4l0-5m-6 6l5 1m-7 4l0-5m0 5l-5-1m-41 33l-2 7l-6 2l-2 7l-6 2l-2 7m18-25l5 1m-5-1l1 5m-3 2l-1-5m-5 7l5 1m-7 6l-1-5m-5 7l5 1m-7 6l-1-5m1 5l-5-1m-393-77l2 7l-6 4l2 7l-6 4l2 7m6-29l5-1m-5 1l3 4m-1 3l-3-5m-3 9l5-1m-3 8l-3-4m-3 8l5-1m-3 8l-3-4m3 4l-5 1m156 23l-2 9l-9 1l-2 9l-9 2l-2 9m24-30l1 5m-1-5l5 1m-7 8l-5-1m-4 2l1 5m-3 4l-5-1m-4 3l1 5m-3 4l-5-1m5 1l0-5m-66 42l4-6l7-1l4-6l8-1l4-6m-27 20l-5-2m5 2l0-5m4-1l0 5m7-6l-4-2m8-4l0 5m8-6l-5-2m9-4l0 5m0-5l5 2m362 5l-8-1l-4-7l-8 0l-4-7l-8-1m32 16l0 5m0-5l-5 2m-3-3l4-2m-8-5l0 5m-8-5l5-2m-9-5l0 5m-8-6l5-2m-5 2l0-5m-42-44l-6-6l2-7l-5-5l2-7l-6-5m13 30l-4 4m4-4l-5-2m-1-4l5 2m-3-9l-3 4m-2-9l5 2m-3-9l-4 4m-2-9l5 2m-5-2l4-4m67-4l-7-1l-3-7l-7-1l-3-6l-7-1m27 16l0 5m0-5l-5 2m-2-3l5-1m-8-6l0 6m-7-7l5-1m-8-5l0 5m-7-6l5-2m-5 2l1-6m-375 39l2 8l-6 5l2 8l-6 5l2 7m6-33l5-1m-5 1l3 4m-1 4l-3-4m-3 9l5-2m-3 10l-3-5m-3 10l5-2m-3 9l-3-4m3 4l-5 2m424-81l-1 5l-5 2l0 5l-5 2l-1 5m12-19l5 1m-5-1l2 5m-3 0l-1-5m-4 7l6 1m-6 4l-2-5m-3 7l5 1m-6 4l-1-5m1 5l-5 0m-375 14l1 9l-7 5l2 9l-8 5l2 9m10-37l5-1m-5 1l2 5m-1 4l-3-4m-4 9l5-1m-3 10l-3-4m-5 9l5-1m-3 10l-3-5m3 5l-5 1m-114-127l9 0l3 7l8 0l4 7l8 0m-32-14l0-5m0 5l5-2m4 2l-5 2m8 5l0-5m8 5l-4 2m8 5l0-5m8 5l-5 2m5-2l0 5m173 32l-1-8l6-4l-1-8l6-4l-1-8m-9 32l-3-5m3 5l-5 1m4-9l5-1m1-3l-3-5m2-3l5-1m1-3l-3-5m2-3l5-1m-5 1l3 4m94-44l0 7l-7 3l0 7l-8 3l0 7m15-27l6 0m-6 0l2 5m-2 2l-2-5m-5 8l5 0m-5 7l-2-5m-6 8l6 0m-6 7l-2-5m2 5l-5 0m241-19l5-3l5 4l5-2l4 3l6-2m-25 0l-2-5m2 5l3-4m2 1l-3 4m8 0l-3-5m8 3l-4 3m8 0l-2-4m8 2l-4 4m4-4l2 5m-276 39l3 5l-3 6l3 5l-3 5l3 6m-3-27l5-3m-5 3l5 3m-2 2l-4-3m1 9l5-3m-2 8l-4-3m1 8l5-3m-2 9l-4-3m4 3l-4 3m-467-19l3 8l-4 7l2 8l-4 7l3 8m0-38l4 3m-4-3l5-2m-2 10l-4 3m0 4l3 4m-1 4l-4 3m0 4l4 4m-1 4l-5 3m5-3l-4-3m383 12l3-8l7-1l2-7l8-1l2-7m-22 24l0-5m0 5l-5-2m8-6l5 2m2-3l0-5m2-2l5 1m3-2l-1-5m3-2l5 1m-5-1l1 5m165 31l-4 6l-7 0l-3 6l-7 1l-4 6m25-19l0 5m0-5l5 2m-9 4l-4-2m-3 2l0 5m-3 1l-5-2m-2 3l-1 5m-3 1l-5-2m5 2l0-5m-153-22l-2-6l4-4l-2-5l4-4l-2-6m-2 25l-5 2m5-2l-4-4m2-2l3 4m1-8l-5 2m3-7l3 3m1-7l-5 1m3-7l4 4m-4-4l5-2m-393 5l-2-6l5-4l-2-6l5-5l-2-6m-4 27l-5 1m5-1l-3-4m1-2l4 4m1-8l-5 1m3-7l4 4m1-9l-5 2m3-8l4 4m-4-4l5-1m354 27l2-9l9-1l2-9l9-1l2-9m-24 29l-5-1m5 1l-1-5m3-4l1 5m8-6l-5-1m7-8l1 5m8-6l-5-1m7-8l0 5m0-5l5 1m296-47l6-5l6 2l6-4l7 2l5-5m-30 10l2-5m-2 5l-3-4m9-1l3 4m3-2l3-4m3 0l4 3m3-1l2-5m3 0l4 4m-4-4l-2 5m-486 157l8-4l8 3l8-4l8 3l8-4m-40 6l-3-4m3 4l2-4m6 0l-3 4m11-1l-3-4m11 0l-3 4m11-1l-3-4m11 0l-2 4m2-4l4 4m-268-119l-6-3l-2-7l-7-3l-2-7l-6-3m23 23l-1 5m1-5l-5 1m-1-4l5 0m-7-7l-1 5m-6-8l5 0m-7-7l-1 5m-5-8l5 0m-5 0l1-5m823 63l-7 0l-4-6l-7 0l-4-6l-7 0m29 12l-5 3m5-3l0 6m-7-6l0-5m-4-1l-4 3m-3-3l0-5m-4-1l-4 2m-3-2l0-5m0 5l5-2m-11 70l-4 5l-7-1l-4 5l-6-1l-5 5m26-13l-2 5m2-5l4 4m-8 1l-5-3m-2 2l-1 5m-3 0l-4-3m-2 2l-2 5m-3 0l-4-3m4 3l2-5m-271-30l4 4l-2 6l4 4l-2 6l4 4m-8-24l4-4m-4 4l5 2m-1 2l-5-2m3 8l4-4m0 8l-5-2m3 8l4-4m0 8l-5-2m5 2l-4 4m-446 46l4-4l5 1l4-4l5 2l4-4m-22 9l-4-4m4 4l1-5m3 1l-2 5m7-4l-4-3m8-1l-2 5m7-3l-4-4m8 0l-2 5m2-5l4 3m-54 18l4 4l0 6l3 4l0 6l4 4m-11-24l5 2m-5-2l4-4m0 8l-3 4m3 2l4 1m-1 3l-3 4m3 2l5 1m-1 3l-4 4m4-4l-5-2m377-51l3 5l-3 5l3 5l-4 5l3 5m-2-25l4 3m-4-3l5-2m-2 7l-4 3m1 2l4 3m-1 2l-5 3m1 2l4 3m-1 2l-4 2m4-2l-4-3m-88-90l6-3l5 5l6-3l5 5l6-3m-28-1l-2-5m2 5l4-4m2 1l-3 4m8 1l-2-5m8 2l-4 4m9 1l-2-5m8 2l-4 4m4-4l2 5m-75-80l3-6l8 0l3-6l7-1l4-6m-25 19l0-5m0 5l-5-2m8-4l5 2m3-2l0-6m3 0l5 2m2-3l1-5m3-1l5 2m-5-2l0 5m131 95l4 7l-3 8l4 7l-3 7l4 7m-6-36l4-3m-4 3l4 3m0 4l-5-2m2 10l4-4m0 11l-5-3m2 10l4-3m0 10l-5-3m5 3l-4 3m-372 41l7 5l-1 8l7 6l-2 8l7 6m-18-33l3-5m-3 5l6 1m1 4l-5-1m4 9l3-4m4 10l-5-1m3 9l3-4m4 10l-5-2m5 2l-3 4m40-208l6-2l5 4l6-2l5 4l6-2m-28-2l-2-4m2 4l4-3m2 1l-3 3m8 1l-2-4m8 2l-3 3m8 1l-2-5m8 3l-3 3m3-3l2 4m-60 20l7 1l3 7l8 2l3 7l7 2m-28-19l5-2m-5 2l0-6m7 7l0 5m3 2l5-1m3 3l-1 5m4 2l5-1m2 3l0 5m0-5l-5 1m49-57l-2 7l-7 2l-2 7l-7 2l-3 7m21-25l1 5m-1-5l6 1m-8 6l-5-1m-2 3l1 5m-3 2l-5-1m-2 3l1 5m-4 2l-5-1m5 1l-1-5m292 29l6-2l4 4l6-2l4 5l5-2m-25-3l4-4m-4 4l-1-5m7 3l2 5m2-1l4-3m2 1l1 5m3 0l4-4m1 2l2 5m-2-5l-4 3m-100 71l-2-7l5-6l-2-8l5-6l-2-7m-4 34l-4 2m4-2l-3-3m1-4l4 4m1-10l-5 2m3-10l4 4m1-10l-5 2m3-9l3 4m-3-4l4-2m-345-126l0 9l-8 6l0 9l-8 5l0 9m16-38l2 5m-2-5l5 0m-5 9l-6 1m-2 5l2 4m-2 5l-5 0m-3 5l3 4m-3 5l-5 0m5 0l-2-5m752 198l0 6l-5 4l1 6l-5 4l0 6m9-26l5-1m-5 1l2 4m-2 2l-2-4m-3 8l5-1m-4 7l-3-4m-2 8l5-1m-5 7l-3-4m3 4l-5 1m-567-129l6-2l4 4l6-1l4 4l6-2m-26-3l-2-5m2 5l4-3m2 1l-4 4m8 0l-2-5m8 4l-4 3m8 1l-2-5m8 3l-4 3m4-3l2 5m-65-119l8 3l2 8l8 2l2 8l8 3m-28-24l1-5m-1 5l5 0m3 3l-5 0m7 8l1-5m7 7l-5 1m7 7l1-5m7 8l-5 0m5 0l-1 5m410 69l-6 5l-7-3l-7 5l-7-3l-6 5m33-9l-3 5m3-5l3 4m-9 1l-4-4m-3 1l-3 5m-4 0l-3-4m-4 1l-2 5m-4 0l-3-4m3 4l3-5m-106-23l8 2l1 8l8 2l2 8l7 2m-26-22l1-5m-1 5l5-1m3 3l-5 1m6 7l2-5m6 7l-5 1m7 7l1-5m6 7l-5 1m5-1l-1 5m-205 7l-2-8l7-6l-2-9l7-6l-2-8m-8 37l-5 2m5-2l-3-4m1-4l3 4m4-10l-5 1m3-10l3 4m4-10l-5 2m3-10l4 4m-4-4l5-2m164-6l-1 5l-5 2l0 5l-5 2l0 5m11-19l1 5m-1-5l5 0m-6 5l-5 0m0 2l2 5m-2 0l-5 0m0 2l1 5m-1 0l-6-1m6 1l-2-5m112 75l2 9l-6 6l2 8l-6 6l2 9m6-38l5-2m-5 2l4 4m-2 5l-3-4m-3 10l5-2m-3 10l-3-4m-3 10l5-1m-3 10l-4-4m4 4l-5 2m265-9l-6-4l0-6l-5-4l0-7l-6-4m17 25l-3 5m3-5l-5 0m-1-4l5 1m-5-7l-2 4m-3-8l5 0m-5-7l-3 4m-3-8l5 0m-5 0l3-5m-595-30l3-7l8 1l4-7l7 1l4-7m-26 19l-5-3m5 3l0-6m3-1l0 5m8-4l-5-3m9-4l-1 5m8-4l-4-3m8-4l-1 5m1-5l4 3m393 19l6 1l2 6l5 1l2 6l6 1m-21-15l5-1m-5 1l1-5m5 6l-1 5m3 1l5-1m0 2l-1 5m3 1l5-1m1 2l-1 5m1-5l-5 1m-273-51l-6-3l-1-6l-6-3l-1-6l-6-3m20 21l-2 5m2-5l-6 0m0-3l5 0m-6-6l-2 5m-4-8l5 0m-6-6l-2 5m-4-8l5 0m-5 0l2-5m-101 6l-1-6l4-4l-1-6l5-4l-2-6m-5 26l-3-4m3 4l-5 1m4-7l5-2m-1-2l-3-4m2-2l5-2m0-2l-4-4m2-2l5-2m-5 2l3 4m113-21l-6-2l0-5l-5-2l-1-5l-5-1m17 15l-2 5m2-5l-6 0m0-2l6 0m-6-5l-2 5m-3-7l5 0m-6-5l-2 5m-3-6l5-1m-5 1l1-5m-109 150l2-7l6-2l3-7l6-1l2-7m-19 24l-5-1m5 1l-1-5m3-2l1 5m5-7l-5-1m8-6l0 6m6-7l-5-1m7-6l1 5m-1-5l5 1m-60-98l2 5l-3 4l2 5l-4 4l2 4m1-22l4 4m-4-4l5-2m-3 7l-4 2m1 2l4 4m-2 1l-5 2m1 2l4 3m-2 1l-4 3m4-3l-3-3m375 100l4 4l0 5l4 4l-1 5l4 4m-11-22l3-4m-3 4l5 1m-1 3l-5-1m5 6l3-4m1 8l-5-1m4 6l3-4m1 8l-5-1m5 1l-3 4m142-43l-4 5l-6-2l-4 5l-6-2l-5 5m25-11l5 3m-5-3l-1 5m-3 0l2-5m-8 3l4 3m-8 2l1-5m-7 3l4 4m-9 1l2-5m-2 5l-4-3m-655-29l7-6l9 3l6-5l9 2l7-5m-38 11l-3-4m3 4l2-5m5-1l-2 5m11-2l-4-4m10-1l-2 4m11-2l-4-3m11-2l-2 5m2-5l3 4m692 38l-1-8l6-5l-1-7l5-5l0-7m-9 32l-3-5m3 5l-5 1m4-9l5-1m1-4l-3-4m2-3l5-1m0-4l-3-4m3-3l5-2m-5 2l3 4m-682-115l6 3l0 7l7 3l0 8l7 2m-20-23l1-5m-1 5l5 0m1 3l-5 0m5 7l2-4m5 7l-5 0m5 8l2-5m5 7l-5 0m5 0l-2 5m499-18l-4 7l-8 0l-4 7l-8 0l-4 7m28-21l-1 5m1-5l5 2m-9 5l-5-2m-3 2l0 5m-4 2l-5-2m-3 2l0 5m-4 2l-5-2m5 2l1-5m-572 136l2-5l6-2l2-6l6-1l2-6m-18 20l-1-5m1 5l-5-1m7-4l5 1m1-3l-1-5m3-1l5 2m1-3l-1-5m3-1l5 1m-5-1l1 5m435-45l5-4l6 3l5-4l6 3l5-4m-27 6l-4-4m4 4l2-5m3 1l-3 4m9-1l-4-4m9 0l-3 5m9-2l-3-4m8 0l-2 5m2-5l3 4m-66-19l-6 6l-8-2l-5 6l-8-2l-5 6m32-14l-2 5m2-5l4 4m-10 2l-4-3m-4 1l-1 5m-4 1l-4-3m-4 1l-1 5m-4 1l-4-3m4 3l2-5m-113 8l7-2l4 5l7-2l4 5l7-1m-29-5l4-4m-4 4l-1-5m8 3l1 5m3 0l4-3m3 1l1 5m3 0l4-3m3 2l1 5m-1-5l-5 3m-273-89l3-4l5 1l4-4l5 1l3-4m-20 10l2-5m-2 5l-4-3m7-1l5 3m0-2l2-5m2 1l4 3m1-2l1-5m2 1l4 3m-4-3l-2 5m223 38l9 3l1 8l8 3l2 8l8 3m-28-25l6 0m-6 0l2-5m7 8l-2 5m3 3l5 0m3 3l-1 5m3 3l5 0m3 3l-2 5m2-5l-6 1m35-49l6-2l4 3l6-2l4 3l6-2m-26 0l4-4m-4 4l-2-4m8 2l2 4m2-1l4-4m2 2l2 4m2-1l4-4m2 2l2 4m-2-4l-4 4m277 115l7 5l-1 8l6 5l-1 9l7 5m-18-32l6 1m-6-1l3-5m4 10l-3 4m2 4l5 1m1 4l-3 5m2 4l5 1m2 4l-3 4m3-4l-5-1m17-133l-2 8l-7 4l-1 8l-8 3l-1 8m19-31l5 0m-5 0l1 5m-3 3l-1-5m-6 9l5 0m-6 8l-2-5m-6 8l5 0m-6 8l-2-5m2 5l-5 0m-477 103l-1-6l5-5l-1-6l5-4l-1-6m-7 27l-5 1m5-1l-3-4m2-2l3 4m2-9l-5 2m4-8l3 4m2-8l-5 1m4-7l3 4m-3-4l5-2m287-170l2 9l-7 6l3 9l-7 6l2 9m7-39l4-1m-4 1l3 4m-1 5l-4-4m-3 10l5-1m-2 10l-4-4m-3 10l5-1m-3 10l-3-4m3 4l-4 2m79 141l3 5l-3 5l4 6l-4 5l4 6m-4-27l4 2m-4-2l4-4m-1 9l-4 3m1 2l5 3m-1 3l-4 3m0 2l5 3m-1 3l-4 3m4-3l-4-3m-303-192l-4 6l-6 0l-4 6l-6 0l-3 6m23-18l-1 5m1-5l4 2m-8 4l-4-3m-2 3l-1 5m-3 1l-4-2m-2 2l0 5m-3 1l-5-2m5 2l0-5m311 57l-6-4l0-7l-6-4l0-7l-6-4m18 26l-3 4m3-4l-5-1m-1-3l5 0m-5-7l-2 4m-4-8l5 0m-5-7l-2 4m-4-8l6 0m-6 0l3-5m-153 2l1 5l-4 4l1 6l-4 4l1 5m5-24l3 4m-3-4l5-2m-4 7l-5 2m1 2l3 4m-2 2l-5 1m1 3l3 4m-2 1l-5 2m5-2l-3-4m-304 82l2-6l6-2l2-7l7-2l2-6m-19 23l-1-5m1 5l-5-1m7-5l5 1m1-3l0-5m2-2l6 1m1-3l-1-5m3-1l5 1m-5-1l1 5m416-108l-3-7l5-5l-2-7l5-5l-2-7m-3 31l-4-4m4 4l-5 1m2-8l5-2m0-3l-3-4m1-3l5-2m0-3l-4-4m2-3l5-2m-5 2l3 4m-164 168l-3-9l7-6l-3-8l7-6l-3-8m-5 37l-4-4m4 4l-5 1m2-10l5-1m2-5l-4-4m1-4l5-2m2-4l-4-4m1-4l5-2m-5 2l3 4m339 21l-7 2l-5-4l-7 2l-5-5l-7 2m31 3l-3 4m3-4l2 5m-9-3l-2-4m-3 0l-4 3m-3-1l-2-5m-3 0l-4 4m-3-2l-2-5m2 5l4-3m94 87l-4-7l4-6l-4-7l4-6l-4-7m4 33l-4 3m4-3l-4-3m0-4l4 3m0-9l-4 3m0-10l4 3m0-9l-4 3m0-10l5 3m-5-3l5-2m81-194l-1 6l-6 1l-1 5l-5 2l-1 5m14-19l5 1m-5-1l1 5m-2 1l-1-5m-5 6l6 1m-7 4l-1-5m-4 7l5 0m-6 5l-1-5m1 5l-6-1m-4-1l-6-6l4-7l-5-7l4-7l-6-7m9 34l-5-2m5 2l-4 4m-2-10l4-3m0-4l-4-3m-1-4l4-3m0-4l-5-3m-1-4l4-3m-4 3l5 3m-298 1l-1 9l-8 5l0 8l-8 5l-1 9m18-36l5 0m-5 0l2 5m-3 4l-2-5m-6 10l6-1m-6 9l-2-4m-6 9l5 0m-6 9l-2-5m2 5l-5 0m-199 99l0 7l-6 3l0 7l-6 4l-1 7m13-28l5-1m-5 1l2 4m-2 3l-2-5m-4 8l5 0m-5 7l-3-5m-3 9l5-1m-6 8l-2-5m2 5l-5 0m-17-95l-6-2l-1-7l-6-2l-1-7l-6-2m20 20l-5 0m5 0l-2 5m-4-7l1-5m-2-2l-5 1m-1-3l1-5m-2-2l-5 1m-1-3l1-5m-1 5l5 0" stroke="#f2f2f2" stroke-width="3"/>
</g>
<g transform="scale(0.5)" fill="none" stroke-linecap="round" stroke-linejoin="round">
<path d="M1122 1812l-2 8l8 3m-119 5l5-7l-5-6m-297-46l7-4l-3-8m-210 76l-8-2l-4 8m-18-4l8 0l1-8m674-2l-5 7l6 6m-250 17l6 6l6-6m272 15l-2-8l-8 0m39-67l-7-5l-7 4m-751 20l-5 7l6 7m475 40l7 4l5-7m-31-101l6 6l7-4m-486 107l4-8l-7-5m483 36l9 1l1-8m-19-23l-7 4l4 7m130 27l6-6l-4-7m-240-20l2 8l8-1m-87 22l-8-2l-3 8m45-152l-8-2l-2 8m229-37l4-7l-5-6m-288 65l-8 2l1 8m-147 40l4-7l-6-5m248 48l-8-1l-4 7m-69 33l7-5l-1-8m-108-91l-3 8l7 5m548-56l-8 2l1 9m-314 45l-5-6l-7 5m-159-7l-8 4l1 8m-166-47l8 1l2-8m177 107l-7-4l-7 6m379-24l7-5l-2-8m-128 46l-7-4l-7 5m114-175l7 4l6-6m-475 146l-8 2l0 8m562 36l-7 5l5 7m-60-184l4 7l7-5m-162 104l-7-4l-5 7m38-114l-4 7l7 5m276 80l1-8l-8-3m-532 94l-7 5l3 8m96-197l-8 3l2 8m225 38l-5-7l-8 1m-347 16l3-8l-8-4m314 15l-2-8l-8 2m61 119l-8-1l-3 8m250-15l8 3l4-7m-52-117l-6-5l-5 6m-76-47l4 7l8-4m-191 7l-6-6l-8 4m-366 167l-3 8l6 5m22-57l-7 4l2 9m306-161l5 6l6-5m208 24l-6-7l-8 3m76 159l5-7l-6-5m-294-78l-5 7l6 6m-364 48l-8-2l-4 7m17-50l-4 7l5 7m694 19l-6 5l5 7m-630 6l-8-4l-5 7m467-94l-4 7l7 4m39 46l8 1l4-8m-278-9l-6 6l4 8m-108-49l-3-7l-8 2m482 3l5 7l8-3m-108 7l8 0l0-9m-463-66l9 0l0-8m601 154l3 7l9-1m-3-32l9 0l2-8m-717-86l-4 7l6 6m-24 82l7 4l5-7m448 70l-5 7l4 7m-251-157l-8 3l4 7m-70-22l8-3l0-8m-154 86l3-7l-7-4m320-27l-7 5l6 7m411-10l-1-8l-9 0m-82 50l-6-5l-8 4m-554-114l-5 7l5 7m400 168l-8-3l-5 7m-424-40l-9-2l-2 8m139-5l6-6l-6-6m471 7l4 7l8-4m-473-119l5 7l8-3m549 157l8 1l0-9m-26-69l-8 1l-1 9m-677-51l-4 7l7 5m-22 99l8 1l3-8m123-92l0 8l9 0m321 50l-7-4l-4 8m-410-36l7 3l4-7m-43-16l8 4l4-7m575-30l9 1l1-9m8 13l2-8l-7-4m-325 108l-3 8l7 4m-317-60l5 7l7-5m418 39l-8-1l-4 7m333-15l-8 4l1 8m-567-118l0 9l8 0m186 13l8 3l5-6m55-40l-4 7l6 6m106 69l-2-8l-9-1m-488-54l-7-5l-7 4m701 153l-2-9l-8 0m-37-101l3 8l8-1m81-42l-8-2l-4 7m-193 143l-5 7l6 6m-516-30l7-4l-2-8m404-63l7 4l5-6m-390 48l1-8l-9 0m18-103l8-1l1-8m352 105l4 7l7-4m150 35l5 7l7-6m-527-109l1 8l9 1m-3 46l0-9l-9 1m-75 80l-7-4l-4 7m519-26l-4 7l6 6m-150 10l-7 5l5 7m258-20l8-4l-3-8m-27-112l7-5l-2-8m-360-33l2 8l8-1m96 184l-4 7l7 5m-155-111l4-7l-7-5m465 120l-6-5l-6 6m-75-17l-5-7l-7 4m143-123l-6-6l-6 6m-225-49l-9 1l1 8m47 165l-1 8l8 3m-145-160l4-7l-8-4m63-19l-6 6l7 5m-95-9l4 7l7-4m-37 162l-5-7l-7 4m256 11l3-8l-7-5m-221-75l8-4l-2-8m-305 76l-8 3l3 8m405-79l-5-7l-8 5m-327 14l3-8l-9-3m-47-66l-9-1l0 9m20 49l-7 5l3 8m46 66l-4 8l7 5m371 6l-8-3l-5 7m-45-145l6-6l-6-6m-215 137l4 7l8-3m237-28l-4-8l-7 4m52-122l-7-4l-7 5m-336 80l4-7l-6-6m505 117l5-7l-6-5m-190-126l-2-8l-8 0m-413 68l-5-7l-8 3m298 68l-6 5l4 7m-154-156l-8 1l-1 8m-155-38l6-6l-3-8m621 171l1 9l9 1m-523-168l3-8l-7-4m336 43l2 8l8-1m21 145l1-8l-9 0m108-136l4 7l8-2m-115-4l-3 8l8 3m109-17l3 8l8-1m71 91l7-5l-4-7m17-68l4 8l8-3m43 43l-2 8l7 5m-551 16l-1-8l-8 0m283-74l1-9l-7-4m-393 105l1 8l9 0m25 4l-1-8l-8 0m102-81l8 1l4-8m504 104l8-1l1-8m-85 36l8 3l2-8m-187 6l4-7l-6-6m13-70l8 4l6-6m-232-32l-8-4l-6 6m202-40l-3 7l6 6m47 112l3 8l8-2m61-125l-8-3l-3 8m-544 27l6-6l-3-8m323 114l-3-8l-8-1m95-74l2 8l8-3m43 4l-5 6l3 8m48 0l5-7l-5-7m-94-67l1 8l9 0m-339 35l-5 7l4 7m595 88l-3 8l8 4m-480-82l8 2l2-8m177-24l-3 8l8 4m-270 57l-4 7l6 6m-77-112l-1-8l-9 0m155 1l5-7l-4-7m-69-13l6-5l-4-7m269 31l-7-5l-4 7m104 86l-6-6l-6 7m-12-23l3-8l-5-6m1-25l-5-7l-7 5m-116 71l7 4l7-5m-195 20l-7-5l-5 6m293 51l2-8l-8-2m40-88l-8 3l1 8m124-56l-6-5l-6 6m-308 16l4 7l8-3m268 66l7-4l-2-8m-434 51l7 5l7-5m621-96l-5 7l7 5m-3 15l6 6l6-7m-475-103l-8 1l0 8m-279 95l-8 0l-1 8m556 1l-7-4l-6 5m51-49l5 7l8-4m-47 43l7-5l-2-8m-90-1l8-2l-2-8m24 18l4-8l-8-4m-446 35l3-7l-6-6m493-41l-8-4l-4 8m205 6l7-3l-1-8m-623 22l-4-8l-8 3m153-66l5-7l-5-7m426 4l-6 5l2 8m-147-4l7-5l-2-8m-150 185l-1-9l-8-2m-320-31l-7 5l5 7m-78 17l9 0l1-8m699-93l5-7l-3-7m-216 14l8-4l-3-8m-376-10l8-3l-3-8m225 106l-5 6l6 6m-255-78l-7 5l5 7m273 4l2-8l-8-2m256 19l3-8l-8-2m-356 67l-3 8l7 4m213-137l-5-7l-7 4m-41 120l8-2l-1-8m-395-44l4 7l8-3m338-79l-1 9l8 3m-272-18l8 3l3-7m206 44l8 2l6-6m119-33l3 8l8-3m11 52l-4-7l-7 4m136 63l8 0l4-8m-449 41l8 2l5-7m231-118l6-6l-3-7m-232 90l7-6l-3-8m154 3l-8-1l-3 9m-147 27l8 0l0-8m0 15l7-4l-2-9m146-90l-8 3l1 8m100 13l8 4l6-6m-26 6l-4 7l7 6m300 34l8-2l-1-9m-672 67l2-8l-7-5m-50-178l-3-8l-8 0m629 50l7-5l-3-7m-620-7l6-6l-4-7m365 135l3 8l9-1m-388-141l7 4l5-7m-4-22l-6 6l6 6m238 80l-8 3l2 8m517 21l-8 3l2 8m-97-25l6 6l7-6m36 14l1 8l8 1m-537-55l5-7l-7-6m202-48l-8 0l-1 9m357 67l-8 1l0 8m-561 0l-5-7l-8 3m486-54l-5 7l6 5m-169-38l-8-4l-6 5m-272 18l8-4l-1-8m212 104l-5 6l5 7m-215-2l-7-4l-7 4m288 0l-1 8l9 1m315-94l-3 8l6 5m1 25l-7-5l-6 6m-370-56l-4-7l-8 3m-326 101l1-8l-8-2m23-131l0 8l8 1m-15 104l-8-1l-4 7m100-65l-9 1l-1 8m444 37l4-8l-8-3m-474 43l-3 8l7 5m663-22l-7 5l2 8m-440-25l8 0l2-8m194 62l6 7l6-5m62-108l-4-7l-7 3m-2-40l5 7l8-2m-525 88l7-3l-1-9m50 12l-5 8l7 5m68 80l3-8l-8-3m130-29l-5 6l6 6m402-78l-8-2l-5 7m-126-4l-7 5l5 7m-300-77l6-5l-4-7m206 178l1-8l-8 0m23-126l8 3l2-8m-125 23l-4-7l-8 4m-105 77l8 4l4-8m-312-48l7-4l-4-7m392-58l7-3l-2-8m176 21l-1 9l8 2m-260 3l-6-6l-8 2m168 31l-8 4l3 8m60-3l5-6l-7-6m93 33l-8-2l-3 8m-521-24l-7 4l5 7m116-39l-5-7l-8 4m558 38l-7-5l-7 5m-157-63l1-8l-8-3m-86-2l8-3l0-8m-317 2l-2 8l8 4m-170 152l8 3l5-7m738-107l-8 4l1 8m-752 71l7-4l-5-7m507-139l6 5l7-5m78 2l-4 8l8 4m-428 149l3-8l-6-6m425-114l-1 9l7 4m-213 119l3-8l-7-4m75-56l7 4l7-5m-338-80l4-8l-7-5m2 102l7-4l-3-8m329-1l-7-4l-5 7m43 19l-7-5l-7 4m22-40l-7 5l5 7m156 20l-8-3l-5 7m27 84l8 2l3-8m-36-38l-8 3l0 8m-114-58l7 5l6-6m-360-90l8 4l5-7m324 31l-6 6l3 7m-41 46l0 8l8 0m-11-16l-1-8l-8-3m-276-31l-4 8l6 6m350 104l2 9l8-2m-305-123l1 8l9 1m100 25l-8-2l-5 6m145 53l5 7l8-1m99 4l-2 8l9 1m-33 33l-9-1l-3 8m-205-113l-8-2l-3 8m156-41l5 6l8-3m131 33l1-9l-9-2m-213 21l8 2l6-7m-77 95l8 0l1-8m-259 4l-7-6l-5 6m650-27l9-2l0-8m-535-145l-7-4l-6 6m-168 53l8-2l0-9m675 91l6-6l-4-7m-80 34l-6 6l5 7m-518-74l8 0l4-8m-65-25l-4 7l6 6m316 84l-8 0l-4 7m-158-30l0-8l-7-4m-105-87l-4 7l8 4m-65 59l-7 3l4 8m400 18l8 1l4-7m-142 54l8-1l1-8m228-65l8-2l-2-8m128-68l-8-3l-5 6m-443 75l-7-6l-5 7m237 76l9 0l3-8m61-186l-2 8l7 5m193 77l7 4l5-7m-574 68l-8 0l-3 8m327 16l6-6l-3-7m-51-120l-6 5l4 8m-60 31l-7 4l1 8m-86 13l-8 2l1 9m-166-81l7 6l7-4m-36-49l5 7l8-3m315 154l-5-7l-8 3m-95 36l7-5l-4-8m157-40l8-2l-1-8m-250 66l-1-9l-8-1m48-9l8-1l3-7m-83 21l-1 8l7 4m344-163l-8 1l0 9m33-6l5-7l-5-7m-264 44l-2 8l9 2m-43-12l-5 7l4 7m-136-6l-4 7l6 5m-67 77l8-2l-1-8m205 0l0-9l-9-1m58 53l9 2l4-7m350-40l-1-8l-9 0m-24 50l3-8l-7-5m71-90l6-7l-4-7m-255-70l-5 7l7 5m-191 41l5 7l7-5m189-54l6-6l-6-7m116 17l-7 3l1 8m-268 73l8 3l3-8m317 43l7-5l-3-7m-531 15l-9-1l-1 8m72-26l-2 8l7 4m126 70l6-5l-3-8m28-139l3 7l9 0m-118 149l0-9l-8-2m41-135l-3-8l-7 2m156 77l-3 8l8 2m311-114l-1-9l-9-1m-465 139l-4-7l-9 2m145-13l-7 5l5 7m133-121l2-8l-7-5m-486 16l5 6l8-3m188-4l3 8l8-3m170 114l-6 7l7 5m-296-134l4-7l-7-5m458-3l-7 5l5 7m-460 70l-4 7l4 7m122 61l-4-8l-8 0m166-59l6 6l5-7m-117-93l9-1l-1-9m18 178l-5-6l-8 3m-207-80l-7-4l-5 7m350-69l-6 6l5 6m-365 160l-4-7l-7 4m691 7l-8 2l1 8m-302-66l-7 3l0 9m50-55l-6-6l-6 6m-322 24l-8 4l2 8m218 3l-7-4l-4 8m-308-78l-2-8l-8-1m65 88l-2 9l8 3m271-98l8-3l-3-8m239 48l0 8l8 3m-385-24l-7-5l-7 5m-210-72l-9-1l-2 8m35 183l-5-7l-8 4m672-84l-6-5l-7 5m61 0l-5-6l-6 6m-189-97l-8 2l-1 9m-194 103l3-8l-7-5m-22 12l8 1l2-8m-46 11l-8-2l-3 7m-109-46l7 5l6-5m162 20l4-8l-7-5m-278-48l-7-5l-7 5m515-20l9 0l2-8m-188 185l-1-8l-9-1m105-56l8 4l5-7m115 48l6 7l6-6m-311-118l5 7l7-4m274-66l6-6l-5-6m-218 65l0-9l-8-3m83 93l-7 4l5 7m227-48l6-5l-3-7m-137-82l8 2l4-7m-37 177l8 4l5-7m-31-82l-9-1l-2 8m-75-17l-4-7l-7 5m-258-42l5-7l-4-7m482 80l3-8l-6-5m-593 25l8 0l0-8m613 21l7-5l-3-8m-514 68l8 1l2-8m0-91l-1 9l8 2m211-80l-1 8l7 4m-166 3l8-3l-2-8m-83-17l7-5l-4-7m377 127l1 8l8-1m-311 53l-5 6l6 6m126-99l2-8l-7-4m405 51l-4-8l-8 3m-346 12l-7 5l2 9m221-101l-8 3l-1 8m-526 70l3 8l8 1m516-33l6 5l6-5m-507 38l7-3l-3-8m42 14l7 5l7-5m350-24l-8-4l-5 7m-414-65l-8 2l0 9m507-64l7 4l4-8m-555 71l8-2l1-8m644 54l-8-2l-4 8m-478-112l-5-7l-7 5m489 147l-8 3l1 8m-99-136l-8-2l-4 7m40-39l3-8l-8-3m-448 59l4 7l8-2m439 93l-8 0l0 8m-360-141l-4-7l-8 3m552 173l5-7l-6-6m-302-164l-8 2l2 8m134 99l0 8l8 2m56 17l7 4l6-6m-271 53l8-3l0-8m-25-95l-7-5l-5 7m137 69l5-6l-4-8m-30 32l-4 7l6 5m-262-14l8 0l1-8m475-96l-1-8l-9 0m-650 45l-6 7l6 6m452 74l5-7l-8-5m-42-52l1 9l9-2m146-120l3 8l8-2m-74 63l-7-6l-5 7m-344-32l-3-8l-8-1m124 103l-1-8l-9 0m150-90l7 5l6-6m-402 97l7 5l7-5m539 6l1 9l8-2m11-162l6 6l7-4m-407 79l5 6l8-3m12 75l-8 2l0 8m-80-170l8-3l-2-8m189 9l6 6l6-5m-336 127l-1-8l-8-1m458-21l1 9l8 2m-426-7l0 8l8 1m344-45l2-8l-8-3m-231-20l4-7l-7-4m213 55l-2-8l-8-1m89 72l-1-8l-8-2m-234-21l0 9l8 2m-22 18l0 8l8 4m-45-41l-5 6l4 7m415 28l-3 7l7 4m-167 27l-1-8l-8 1m364-34l0 9l8 1m-506-106l8-3l-1-8m210-28l0 8l8 2m-367-4l7-5l-3-7m378 75l-4-8l-8 0m211 85l9 1l1-9m-298-89l-8 2l1 9m272-22l-7 5l3 7m-671 136l-8-4l-4 7m302-44l-7-5l-5 7m59 40l3-7l-7-4m-277-92l-7-5l-7 5m458-100l-8 3l0 8m210 64l1-8l-8-2m-184-57l5 6l7-5m-476 15l0-8l-8 0m572 175l-8-1l-5 7m99-84l5-7l-5-6m-648 58l8-1l-2-9m336 10l-9 0l-2 8m94-52l8 0l1-9m-364-86l1 8l8 0m-81 67l3-8l-7-5m167 103l2 9l8-1m-191-46l-5 7l7 5m55-133l-6-6l-7 5m627 23l8-4l-3-8m-257 90l3-8l-6-5m-141-37l-6-6l-6 6m-204 64l8 1l4-7m183-7l-6-5l-7 5m352-105l4-8l-7-4m-307 68l5-7l-4-7m409 66l-7-4l-6 5m-569-47l0 9l8 1m-149 18l-2-8l-8 1m45-73l7-5l-3-8m345 98l1-8l-9-1m-225 2l2 8l9-2m61 31l8-5l-2-8m-207 42l6-5l-5-7m307-128l8-2l-1-8m-131 100l9 1l3-8m-162 59l5 7l8-2m99-101l-8 1l0 8m-125 0l9 1l3-8m692-55l0 8l8 2m-613 68l-8 4l4 7m365-94l-8 4l4 8m-330 94l-3-8l-8 3m26-129l-2 9l8 1m487 165l-3-8l-8 1m-10-125l8 3l3-7m-426 79l-4 7l7 5m229-7l4 8l8-2m-66-78l9 0l2-8m-241-27l-8 4l3 8m-152 97l8-3l0-9m14 70l8-1l0-9m691-140l-8 0l-2 8m16 91l-9-2l-2 8m-744-64l-5 7l8 4m278-16l-8-3l-5 7m-229-13l5-7l-5-7m-31 56l-3-8l-9 2m371-37l1-9l-8-3m356 129l-2 8l8 2m-339-11l-1-8l-9-1m-110-2l4-7l-6-6m331-80l7 4l4-8m-42 8l9 0l3-8m-448 30l1-9l-8-2m-32 69l-6-6l-7 6m123-51l-8 1l0 8m440 19l-5-7l-8 3m80 18l7 5l6-6m-167 10l-8-1l-2 8m7 24l-7 4l2 9m-80-53l3-8l-6-6m-23-14l-6-6l-6 6m320-53l-8-1l-1 8m-594 31l8 2l4-7m93 59l-2-8l-8 2m267-142l-6-6l-7 4m-318 123l-9-1l-4 8m149-3l2 8l8-2m54-121l-5 7l5 7m174 164l-7 5l3 7m-476-74l6-6l-6-7m406 8l8-2l-3-8m-89-18l7 4l7-4m379 74l-7 5l4 7m-440-27l2 8l8-2m182 0l-8 0l-2 8m264-165l-4 8l5 6m-611 30l-8-4l-4 8m484 128l-6 6l6 6m-465-89l-4-7l-8 1m521 41l6 6l6-5m-243 49l0-9l-8-2m280-160l-9-1l-1 8m42 36l-8-4l-3 8m-265 81l-7 6l3 8m-249-107l-4 7l6 6m470 102l2-9l-7-3m60-147l3 8l8-1m-281 124l-1 9l7 4m256-1l-5-6l-7 4m-535-43l-3 7l7 5m47-97l-5 6l6 6m-198 101l8 3l2-8m567-98l0-9l-8-2m-219 179l-8-2l-6 6m-114-89l0-8l-8-2m355-109l5 7l7-5m34 155l8 3l5-7m-117-88l5 7l7-5m-196 135l-2-8l-9 1m-331-168l3-8l-7-5m452 187l8-5l-2-8m-374-147l-8-1l-2 9m253 113l-8 1l-1 8m90-32l-8-2l-5 6m-388-97l-7-3l-5 7m417 93l5 7l7-5m-386-127l-8 2l3 9m164 54l8 4l4-8m14-50l-3 8l7 3m-206 101l-4-7l-8 3m698 2l-2-8l-8 2m-11-107l-8 2l0 8m-244 35l7 5l6-5m179 46l-5 7l6 6m-187 67l-1-8l-8 0m280-152l-5-7l-7 5m-402-8l4-8l-6-5m98 26l4 8l7-4m107 25l-6 6l4 7m-542 109l-2-8l-8 0m101-135l0 9l8 0m308-42l-8-1l-4 7m205 134l-4-7l-8 3m-499-29l-5 7l5 6m0-17l4-8l-8-3m-12-46l-8-2l-5 7m285 39l-1 8l8 2m155 84l-4-8l-8 3m-239-112l-2-9l-8 1m-86 71l-4 7l7 5m118-104l-2-8l-8 0m-137 44l8-1l0-9m497 8l7 4l5-6m-14 13l-9 0l-3 8m-170-49l-8-3l-5 7m-127 81l-3 8l8 3m-269-64l7 6l7-5m128-21l-3-8l-9 0m84-19l-9 0l-1 9m192-48l-4 7l6 6m-271 31l0 9l9 0m-62 116l9 0l1-8m386 16l8 3l5-6m-446-140l8 3l6-6m143 75l-8-3l-5 6m407 54l5 6l8-3m-389-78l-8-2l-3 8m-250-30l-5 6l4 8m83 98l8 1l1-8m55-103l9-2l-1-8m-34 121l7-5l-2-8m-50-83l3 8l8 1m68-42l8 1l3-8m596 109l7-5l-6-7m-190-72l-6 5l3 8m189 109l-4 8l6 6m-265-154l-8-3l-4 8m-447 60l-8-3l-4 8m341 51l5 6l8-3m398-13l-5 7l4 7m-603 24l7 3l6-7m292-185l-8-1l-2 8m-321 174l7 6l5-6m462-37l-8-2l-3 8m-93-152l-8-2l-3 8m226 49l-8-1l-2 8m-119 39l-9 2l1 8m-220-2l-2-9l-8 2m352 64l-8-3l-3 8m-399-7l-8 3l3 8m-167-116l-7 5l3 8m-130 118l-8 1l-1 8m647-109l-9 1l-1 8m-586-60l-4 8l6 5m558-1l-8 2l2 8m-524 20l-8-1l-4 8m390-73l-8 4l1 8m-164 74l6 6l7-4m278-19l2-8l-7-3m202-20l-2-8l-8 0m-185-29l5-7l-6-6m133 109l2-8l-7-4m-582 61l8-2l-1-8m554-123l3-8l-8-3m9 164l-2 8l8 2m-421-28l1-9l-8-2m285-42l8-1l-1-9m-267-46l8 3l2-8m338 110l-5-6l-7 4m116-154l-8 4l1 8m-287 117l-7 5l2 8m-286-149l8 1l5-7m516 165l8-3l-1-8m-143-75l3-8l-8-5m-205 111l-2-8l-8 2m-270-17l8-4l-1-8m485-52l-4 7l6 7m178 29l8-1l-1-9m-61-77l8-3l-3-8m-371 19l2 9l9 0m62 102l0-8l-9-1m394 24l0 9l9 1m-109 9l-8 3l1 8m-97-49l3-8l-8-2m-496-73l1 8l8-1m312-58l-8-3l-5 8m333 53l-6-6l-6 6m-511-57l2-8l-6-6m228 60l8-2l-1-9m319 62l4 7l8 0m-411-105l-3 8l8 2m-310 99l4 7l8-2m425-40l8 3l5-6m-96-13l8 2l2-8m225-20l-2 8l7 4m-362 25l-7-5l-6 6m-14 64l-8-3l-3 8m-162-50l9 0l0-8m489-41l-5 6l5 7m-2-3l8-2l2-8m-78-48l-7 5l4 7m-235 85l-8 1l-1 9m228-36l3 8l8-4m-461 26l4-7l-6-6m645-48l9-1l0-8m-521 84l7-4l-4-8m30-101l-8 3l4 8m-133 104l6-6l-6-6m638 28l0 8l8 1m-231 14l-6 6l5 7m189-131l8 1l4-8m-371 160l2-8l-7-5m438-64l8 1l4-8m-253-60l5 7l7-4m-432 9l3-8l-8-3m109 65l9 0l0-8m328 15l4-8l-7-4m-420-47l-8-2l-3 8m632 8l8 4l5-6m-87-52l-8 0l-1 9m-355 118l8-1l1-8m-53-13l4 7l9-1m225-20l6 6l7-5m-451-64l-2 8l7 5m733 4l7-5l-5-7m-544 142l-3-8l-8 2m257-58l-6-6l-6 5m-69-17l-8-3l-3 8m-78-75l8-4l-3-8m-79-9l5 7l8-2m308-34l-1 8l7 4m-450 80l-8 1l-1 9m686 39l-3 8l8 3m-251-10l-8-1l0 9m-353-55l-9-1l-4 7m-143-13l0 8l8 0m9-88l-6 6l6 6m63 32l0 8l9 0m261-22l8-3l-3-9m-310-3l2-8l-8-4m693 172l-3 8l8 3m-38-168l2-8l-8-4m-554 149l5 6l7-3m-148-139l-5-7l-7 5m510 166l-7-4l-6 6m222-39l0 8l8 2m-492-22l8-2l-1-9m478 38l7 5l8-5m15-16l4-8l-6-5m-145-2l7-5l-4-7m-278-27l-2 8l8 1m387 7l1-8l-7-4m-708-19l8-3l-2-8m671 65l-8-3l-4 7m-306 34l6 5l7-6m199-137l8-2l2-9m-44 149l0-9l-9 0m-543 16l8-2l2-8m323-13l8 3l5-6m-335-110l2 8l8-2m211-19l9 0l0-8m268 125l8 1l4-7m-14 23l4 8l8-4m-427-115l0-9l-8 1m229 95l4 8l8-2m248 46l7-4l-2-8m101-91l6 5l6-6m-101 66l-9-1l-4 7m-173-42l6 7l7-5m246 39l7-3l-3-8m-535-150l-6-6l-5 7m427 153l8 0l3-7m-402 21l-6-6l-6 5m447-138l3-7l-8-4m-469 98l6 6l7-5m365-90l-6-6l-6 5m227-2l2 8l8 0m-58 148l-8 1l0 8m-551-63l-7 5l3 8m325 34l8 2l1-9m-78-88l-6-6l-8 3m-150 81l-7 5l3 8m62-3l3 8l9-2m-228 5l-4-8l-8 2m-2-44l-2 9l8 3m711-84l9-1l1-9m-281 19l-1 8l7 5m-426 81l8 1l3-8m340 0l-8 1l-1 8m-358-130l1-9l-8-3m155 143l5-6l-6-6m-148-154l-8-2l-5 6m275 72l7-4l-1-8m376 107l-8-3l-4 8m-462-32l-9 0l1 9m93 5l-2-9l-8 1m249-150l-4 7l7 4m-162 74l6-6l-5-6m-2 25l-1 8l9 1m171-40l1 8l8-1m-141 96l-1-8l-8 1m126-131l8 0l0-8m-432 23l8 1l3-7m639 37l-6-6l-8 4m-56 109l8 5l4-8m-145-122l0 8l7 4m23 17l6 6l8-2m155 11l-1-9l-8 2m-241 44l2-8l-8-5m-5-102l8 3l2-8m-57 54l6 5l7-4m78 83l3-8l-7-5m-364-86l0 8l9 1m25 113l5 7l8-3m170-107l5 6l8-3m372 72l-9-1l-1 8m-89-63l8-2l-2-9m-567-11l-4-7l-7 4m-28 10l2-8l-7-5m292 29l2-8l-9-2m422 21l-1-8l-8-1m-621-76l-6 4l5 7m390 68l7-6l-5-7m-214-1l7 4l4-8m3 41l-7 4l2 9m135-142l7 5l6-5m-91 47l9-1l-1-8m77 52l-8-1l-2 9m133 91l8 3l4-8m-25-57l6-6l-6-6m-174-105l-3 8l7 4m168 22l-1-9l-8-2m-263 73l-3 8l7 4m-99 61l2-8l-7-5m222 34l5-7l-6-5m-396-94l-8-4l-4 7m246 10l-7 5l6 6m248-11l1 9l8 2m217-41l3 8l8-2m-450 73l-3-8l-9 0m160-102l-8 4l3 8m286-9l-1-8l-9-1m-662 63l9 2l4-7m653 64l-4 7l7 6m-79-64l-2 9l8 3m-239-65l-7-4l-5 7m-260 30l-6-6l-7 4m526 11l4 8l7-4m100 54l8 0l3-8m-350-41l5 7l7-6m-113 72l8-2l-3-8m325-132l2-9l-8-3m64 113l-2-8l-8 1m-422 18l7-5l-6-6m47 0l7-4l-5-7m62-10l8 4l3-8m317 67l5-6l-7-5m-343-104l6 6l7-3m170 55l6 5l6-6m-494-18l3-8l-6-6m158 31l-8 3l3 8m-95-73l5-6l-7-5m69 9l4-8l-7-4m261 123l-9 0l-1 8m57-44l3-8l-7-3m95-45l7-4l-5-7m-264 63l8-3l-3-8m-178 25l8 4l5-7m559 27l-6 6l6 6m-681-5l6 6l6-6m112-160l6 6l8-4m301 39l-1 9l7 4m-352 57l2-8l-7-3m295-14l-8 2l1 9m-15 13l-6-5l-7 4m210 11l5 6l8-4m-70 20l6 6l7-5m-200-34l9 0l1-8m-275-111l-6 6l5 7m260 107l1 8l8 1m-178 47l0 9l8 2m40-92l-6-6l-6 6m144 100l2-8l-7-3m-230-145l-9 1l1 9m378 6l-3 8l7 5m-237-44l2-8l-8-3m452 73l5-7l-6-6m-267-33l8-1l0-8m271-19l9-1l1-9m-183 7l-5-7l-7 5m-130 52l8-4l-3-8m330 23l1 9l8 1m16-8l3-8l-6-5m-740-24l5 7l8-4m254 58l-8 1l-1 8m24-55l-9 1l0 9m67 18l6 7l7-4m-228 10l-7 4l3 8m311-3l-6 6l4 7m118-38l6 6l6-5m-425 101l7 4l4-7m-70-124l-9 1l-2 8m244 18l-8-4l-5 7m-154 76l-2 9l7 4m61-61l4-7l-7-5m245-72l1-8l-8-2m-136-5l5 7l8-4m73 120l6 6l7-5m244 53l-7-5l-6 6m-565-106l-8 2l-1 8m427-19l6-7l-5-6m227 24l-5 7l7 5m-199 73l-1-8l-9 1m-144 10l-5-7l-7 5m208-90l6-6l-5-6m-38 35l3-8l-6-6m-458 93l-2-9l-8 1m575 5l5-7l-4-7m-480-13l8-4l0-8m-153-40l-1-8l-8 1m222 3l-7-3l-6 7m77 1l-9 1l1 9m38 26l1 8l8-2m160-100l7 4l5-7m-356 2l-8-4l-6 6m105 24l1 9l9-1m139 70l-9 0l-1 8m382-115l-7 4l1 9m-535 52l-3-8l-8 2m-210 17l-8 5l3 7m14-13l7-3l-3-8m425-38l8 3l5-7m306-15l5 8l8-2m-770-49l0 9l9 0m168 137l-2-8l-8 0m397-70l1-9l-8-2m127-31l-6-6l-6 6m-498 75l-8 3l0 8m238 28l0 8l7 4m-177 25l-6-6l-6 5m267-50l-8 2l2 8m-50-114l3 8l8-2m-16 160l0-9l-9 1m-428-129l8 3l4-7m229-15l-4 7l8 4m356 68l-2 8l8 3m-509 17l3-8l-7-4m380 44l-8-4l-6 5m-40-76l6-6l-4-7m-109 11l1 9l8 1m386-3l1 8l9-2m-135-18l-4-7l-7 4m109 64l6-6l-5-7m-287-97l-1 9l8 1m-171 145l0-8l-8-2m277-176l-4-7l-8 1m-89 78l4-7l-5-6m69-15l-3-8l-8 0m245 32l2 8l9-1m-67-52l-1 8l7 5m46 58l-7-5l-5 7m-263-38l0 9l9 0m301 17l1 9l8 0m-330-49l3 8l8-2m-66-25l-2 8l7 5m-18 2l1-8l-9 0m-287 22l8-1l1-9m-34 76l-6-7l-8 3m60 55l1-8l-8-3m189-123l-7-4l-6 6m181 3l7-4l-5-8m144 2l-3 8l8 4m124 74l-8 0l-2 9m-483-10l1-8l-8-4m82-15l2-8l-8-4m-67 7l8 3l6-6m294 71l-8-2l-2 8m-330-190l6-7l-7-5m260 4l5 8l7-4m-79 5l-1-8l-8 1m383-4l-5-7l-7 5m-419 45l-5-7l-7 6m157-54l-6-6l-8 3m181-3l-9 1l0 8m-223-7l8 1l1-8m-218 4l4 8l8-2m-212 1l-6-6l-5 6m689 23l-7 4l1 8m128-13l-7 5l4 8m-729-44l8-3l-1-9m674 9l3-7l-7-5m-33 75l4-8l-7-5m-591-64l-9 2l1 8m479 7l5-7l-5-6m-585 9l8-1l0-9m136 43l-4 7l6 5m284-95l-2 8l8 3m-128 17l3 7l8-3m421 87l-5-7l-7 4m-147-133l-2 8l8 2m169 67l6-6l-5-7m-238 26l4-7l-5-6m-66-47l-5 7l5 7m-259 67l-6-6l-6 6m-102-34l7-5l-3-8m678 13l-4 7l5 6m-658-4l6 6l7-4m148 40l8 3l6-6m3-1l4 8l8-4m381-63l-7-4l-5 6m-222-11l-4 7l7 5m-362 41l3 8l8-3m166 0l8 3l5-6m-234-6l-5 7l6 6m749-16l9-1l-2-9m-705-5l1 9l9-2m280-32l-8 2l-1 8m-213-16l6-6l-4-7m532 62l-8-2l-5 7m-84-37l8 2l4-8m-291 37l0-9l-8-1m-80 28l6-5l-5-6m118-15l-6 6l4 7m-118-10l-2-8l-8-1m-172-54l6 5l7-4m95 4l8-3l-2-8m168 44l8-3l-1-9m387 4l-6-6l-7 5m100-18l-7 4l1 8m-133 26l3-8l-8-3m-485 18l8 3l5-6m93-19l-7-5l-4 8m-190 28l7-4l0-8m497-1l-8 3l1 9m-396 13l8-2l0-9m80 1l-6 6l5 7m-52-32l-6 5l3 8m529-30l-4 7l5 7m-420 37l8-3l0-8m31-12l-8 2l-2 8m70-43l0-9l-8-1m169 5l-6 6l5 6m-285 64l-2 8l8 3m-253-27l5-6l-5-7m520-41l7 5l6-7m-219 23l8 2l5-7m-354 8l-7-4l-5 7m679 4l8-4l-2-8m-110-10l8-3l-4-7m-188 29l-7-5l-6 6m-9-69l1 9l8 0m30 60l-6-6l-7 4m-285-8l-6-7l-8 3m557-30l8 2l5-7m18 50l0-8l-8-1m-411 30l4 7l8-4m165-72l2 8l8 0m-356 11l1 9l9 0m592 66l8 1l1-9m-138-58l-5-7l-7 5m-11 12l-8 4l3 8m-432-50l-7 4l2 8m573-2l-9-2l-1 9m-270-12l5 6l8-2m312 51l8 0l2-8m-569-51l-8-2l-3 8m209 9l-1 9l9 0m-13 11l0-8l-9 0m-321-5l-7-5l-5 7m636-3l7 5l5-7m-533-22l-5 7l7 6m608 62l8 3l5-7m-453-46l5 7l7-5m-32 59l-5 6l6 6m436-12l6 5l6-6m-43-22l-6 6l4 7m-610-1l-8 2l-1 8m50-25l-7-5l-4 7m155-33l6-5l-3-8m245-20l8-1l2-8m196 36l-7 6l2 8m-189-36l4 7l8-2m-517-3l-6 6l6 6m220 73l-8-3l-6 7m395-29l-6-6l-7 5m-488-48l-7-3l-6 7m186 25l-8 1l-1 8m-397 124l6 5l6-5m12-94l-7-4l-5 6m100 94l-8-2l-5 7m-67 76l4 7l7-3m28-80l-8 5l4 7m13-108l-5 7l4 7m-1-78l-3 8l7 5m17 147l6-6l-4-7m-14-56l-2-9l-8 0m16-23l8-2l1-8m7 6l-4-7l-7 4m4-42l3-7l-7-4m-47 98l-4-7l-8 2m11 91l2 8l8 0m36-244l-4 7l5 6m-20 110l-4 7l5 7m24 167l-2-8l-8 2m-25-154l8 2l5-6m-85 151l1-8l-8-3m42-208l8 0l3-8m42 205l-5 7l4 7m-20-6l0 9l9 0m14-160l2 8l8-1m-50 48l3 8l8 0m-20 37l3 8l8-2m50-270l-8-3l-5 7m-17 236l-7-6l-5 6m44-87l-3 8l7 6m830 128l-8-2l-2 9m31-256l5 6l7-4m11 135l-5 7l4 7m4 58l-8-3l-3 8m36 58l1 8l8 2m-77-39l-8 2l1 9m63-189l-2 8l7 5m-50 75l-1 9l8 3m28-117l-3 8l8 3m-70 5l8 3l6-6m31-22l4 7l8-2m28 75l3 8l8-1m-89 80l-1 9l7 4m-14 22l0 8l8 0m-11-141l-2-8l-8 1m86-105l-6 6l6 7m-76 224l2 8l9 2m6 34l5-6l-5-7m36-258l-8 2l0 8m-26 173l-2 8l7 4" stroke="#f4f4f4" stroke-width="3.4"/>
<path d="M1121 1817l-1 3l4 1m-112 3l2-3l-2-3m-296-51l3-2l-1-3m-217 70l-3-1l-2 4m-15 0l3 0l1-4m672-2l-3 3l3 3m-244 24l3 2l2-3m275 7l-1-3l-3 0m30-70l-3-2l-3 2m-758 26l-2 3l3 3m482 46l3 2l2-3m-25-101l3 2l3-1m-480 100l2-4l-3-2m484 33l4 1l0-3m-22-26l-3 2l2 3m135 28l3-3l-2-3m-241-19l1 3l3 0m-87 20l-3-1l-1 4m38-149l-3-1l-1 3m230-36l2-3l-2-3m-296 63l-3 1l0 3m-143 41l1-3l-2-2m239 44l-3 0l-2 3m-66 34l2-2l0-3m-111-91l-1 3l3 2m548-52l-4 1l1 4m-317 47l-2-3l-3 2m-168-1l-3 1l1 4m-161-42l3 0l1-3m174 100l-3-2l-3 3m379-24l3-2l-1-3m-133 39l-3-2l-3 2m114-169l3 1l3-2m-477 143l-3 1l0 3m558 44l-3 2l2 3m-55-176l2 3l3-2m-162 99l-3-2l-2 3m33-106l-2 3l3 2m281 79l0-4l-3-1m-541 95l-3 2l2 3m92-190l-3 1l1 4m223 38l-2-3l-3 0m-351 12l2-3l-4-2m309 9l-1-4l-4 1m52 119l-3 0l-1 3m253-8l3 1l1-3m-53-124l-2-2l-3 2m-76-39l2 3l3-1m-189 1l-3-3l-3 2m-373 173l-1 4l2 2m22-51l-3 1l1 4m310-153l2 3l3-2m208 17l-3-3l-3 2m74 156l2-3l-2-2m-301-77l-2 3l3 2m-366 51l-3-1l-2 3m12-42l-1 3l2 3m693 26l-2 2l2 3m-632 8l-3-2l-2 3m461-86l-1 3l3 2m48 49l3 0l2-3m-279-10l-3 2l2 4m-108-49l-1-3l-4 1m481 8l2 3l3-1m-98 5l3 0l0-4m-458-71l4 0l0-3m603 153l1 3l4 0m7-33l4 0l1-3m-719-87l-1 3l2 3m-16 87l3 2l3-3m448 70l-3 3l2 3m-253-152l-4 2l2 3m-63-20l3-1l0-4m-152 78l1-3l-3-2m312-26l-3 2l3 3m413-11l0-3l-4 0m-91 47l-2-2l-3 1m-562-107l-2 3l2 3m398 170l-3-1l-2 3m-432-37l-4-1l-1 4m141-4l3-3l-3-2m470 7l2 3l3-2m-465-117l2 3l4-1m558 156l3 0l0-4m-30-73l-4 0l0 4m-680-42l-2 3l3 2m-13 102l3 1l1-4m125-91l0 3l4 0m322 48l-3-2l-2 3m-408-29l3 1l2-3m-36-17l3 1l1-3m583-34l4 1l0-4m10 3l1-3l-3-2m-331 111l-1 3l3 1m-310-53l2 3l3-2m417 35l-3 0l-2 3m326-9l-3 2l1 3m-567-108l0 4l3 0m195 15l4 1l2-2m56-40l-2 3l2 3m108 67l0-3l-4 0m-497-58l-3-2l-3 1m696 151l-1-4l-3 0m-40-97l1 4l4-1m80-43l-3-1l-2 3m-198 151l-2 3l2 3m-508-29l3-2l-1-3m407-66l3 2l2-3m-387 41l1-4l-4 0m18-104l3 0l0-3m356 104l1 3l3-2m157 37l2 3l3-3m-522-107l0 3l4 0m2 42l0-4l-4 1m-84 78l-3-2l-2 3m515-18l-2 3l2 3m-150 16l-3 2l2 3m266-18l3-2l-1-3m-25-120l3-2l-1-3m-360-33l1 3l4 0m98 187l-2 3l3 2m-149-112l2-3l-2-2m456 114l-2-2l-3 2m-81-17l-2-3l-3 2m136-124l-3-3l-2 3m-234-45l-4 0l1 3m47 175l-1 3l4 1m-139-162l2-3l-4-2m55-17l-2 2l3 2m-89-2l2 3l3-2m-35 156l-3-3l-3 1m254 9l1-3l-3-2m-220-80l3-2l-1-3m-311 73l-3 1l1 3m404-78l-2-3l-3 2m-330 12l1-3l-4-1m-57-68l-4-1l0 4m16 57l-3 2l1 3m46 76l-2 3l3 2m370 7l-3-1l-2 3m-45-145l3-2l-3-3m-215 138l1 3l3-1m240-35l-2-3l-3 1m44-121l-3-2l-3 2m-338 79l2-3l-2-3m504 110l2-3l-2-2m-195-134l-1-3l-3 0m-421 64l-2-3l-3 1m290 73l-3 2l2 3m-157-152l-3 1l-1 3m-151-37l2-2l-1-3m620 171l0 4l4 0m-516-172l1-3l-3-1m333 45l1 3l3 0m26 140l1-4l-4 0m105-132l2 3l4-1m-113 0l-1 3l4 1m115-11l1 4l3-1m80 88l3-2l-2-3m18-68l1 4l4-2m46 46l-1 4l3 2m-547 14l-1-3l-3 0m279-79l0-4l-3-1m-396 107l0 3l4 0m29 0l0-4l-3 0m102-80l3 0l2-3m511 98l3 0l0-3m-80 33l4 1l1-3m-184-3l2-3l-2-3m14-71l3 2l2-3m-233-37l-3-2l-2 3m196-33l-1 3l2 3m53 120l1 3l3-1m62-128l-4-1l-1 3m-543 28l3-2l-2-3m321 104l-2-3l-3 0m91-71l1 4l3-1m45 5l-2 3l1 3m53 1l2-3l-2-3m-96-66l0 3l4 0m-337 39l-2 3l1 3m596 97l-1 3l4 2m-471-79l3 1l1-3m176-25l-1 4l3 1m-267 64l-2 3l3 2m-75-113l0-3l-4 0m153-3l2-3l-2-3m-68-20l3-2l-1-3m262 24l-3-2l-2 3m98 87l-2-3l-3 3m-13-24l1-3l-2-3m-5-32l-2-3l-3 2m-116 77l3 1l3-2m-195 14l-3-2l-2 2m291 50l1-3l-4-1m31-87l-3 1l0 3m121-54l-2-2l-3 2m-308 24l1 3l4-1m276 61l3-1l0-4m-432 50l3 2l3-2m622-95l-2 3l3 2m5 21l2 3l3-3m-477-106l-3 0l0 3m-284 100l-3 0l-1 3m552 3l-3-1l-3 2m51-42l2 3l3-2m-38 38l3-2l-1-3m-87-7l4-1l-1-4m25 9l2-3l-3-2m-450 29l2-3l-3-3m486-46l-4-2l-1 3m206 9l3-1l0-3m-626 12l-2-3l-3 2m151-69l2-3l-2-3m420 3l-3 2l1 4m-142-3l3-2l-1-4m-152 176l0-4l-3 0m-329-30l-3 2l2 3m-70 21l4 0l0-3m703-102l2-3l-1-3m-213 8l3-2l-1-4m-373-16l3-1l-1-4m220 106l-2 2l3 3m-256-72l-3 2l2 3m277 3l1-3l-4-1m253 14l2-4l-4-1m-362 70l-1 4l3 1m215-138l-3-3l-3 2m-40 121l3-1l0-4m-393-44l1 3l4-1m342-76l-1 4l3 1m-263-14l4 1l1-3m213 41l3 1l2-3m125-31l1 3l4-1m13 46l-2-3l-3 2m137 65l3 0l2-3m-442 37l3 1l2-3m238-125l2-3l-1-3m-230 83l3-3l-1-3m147-2l-3-1l-1 4m-144 32l3 0l0-3m4 7l3-1l-1-4m140-94l-3 2l0 3m105 20l4 2l2-3m-24 7l-2 3l3 3m308 35l4 0l0-4m-672 57l1-3l-3-2m-56-186l-1-3l-3 0m628 47l3-2l-1-3m-618-14l2-3l-2-3m365 136l1 3l4 0m-379-140l3 2l2-3m-5-23l-2 3l2 2m238 86l-4 1l1 4m514 27l-4 1l1 4m-92-18l2 3l3-3m41 16l0 3l3 1m-530-59l3-3l-3-2m194-52l-4 0l0 4m351 72l-3 1l0 3m-564 1l-2-3l-4 2m479-49l-2 3l2 2m-169-38l-4-1l-2 2m-271 19l3-2l-1-3m209 102l-2 3l2 3m-216-1l-3-1l-3 1m284 8l-1 3l4 0m318-88l-1 3l2 2m1 25l-3-2l-2 2m-376-56l-2-3l-4 1m-329 98l0-3l-3-1m18-127l0 3l3 1m-15 103l-3 0l-2 3m93-61l-4 1l0 3m445 37l2-3l-3-1m-481 45l-1 4l3 2m663-16l-3 2l1 3m-434-20l3 0l1-4m198 62l3 3l2-2m64-115l-2-3l-3 1m-3-34l2 3l3-1m-516 85l3-1l0-4m46 11l-2 4l3 2m74 79l1-4l-3-1m122-27l-2 2l3 3m400-76l-3-1l-2 3m-133 3l-3 2l2 3m-294-76l3-2l-2-3m205 170l0-4l-4 0m23-124l4 1l1-4m-127 15l-1-3l-3 2m-105 81l3 2l2-4m-306-54l3-2l-1-3m393-64l3-1l-1-3m174 21l0 4l3 1m-258 0l-3-2l-3 1m158 34l-3 2l1 3m65-1l2-3l-3-3m84 29l-3-1l-1 4m-527-18l-3 2l2 3m116-39l-2-3l-3 1m549 38l-3-2l-3 2m-161-65l1-3l-4-1m-85-6l3-1l0-3m-318 2l-1 3l3 2m-160 156l3 1l2-3m736-109l-3 2l1 4m-748 73l3-2l-2-3m508-140l2 2l3-2m80 4l-2 3l4 2m-422 146l1-3l-2-3m421-112l-1 4l3 1m-207 118l1-4l-3-1m75-57l3 2l3-2m-332-88l2-3l-3-2m2 97l3-2l-1-3m323-8l-3-2l-2 3m36 20l-3-2l-3 2m14-35l-3 2l2 3m155 23l-4-2l-2 3m29 89l3 1l2-3m-39-41l-4 1l0 3m-110-50l3 2l2-3m-352-91l4 2l2-3m323 30l-2 3l1 3m-39 55l0 3l3 0m-7-21l0-3l-4-1m-282-28l-2 3l3 2m354 113l1 4l3-1m-299-119l0 3l4 1m101 24l-4-1l-2 2m145 61l2 3l3 0m103 8l-1 3l4 1m-33 33l-4-1l-1 3m-212-109l-3-1l-1 3m157-33l2 3l4-1m135 26l1-4l-4-1m-213 21l3 1l3-3m-69 91l3 0l1-3m-263-5l-3-2l-2 3m652-25l4-1l0-3m-539-153l-3-1l-3 2m-166 56l3-1l0-4m678 83l3-3l-2-3m-85 34l-3 2l2 3m-510-70l3 0l2-3m-65-26l-2 3l2 3m315 87l-3 0l-2 3m-160-31l0-3l-3-2m-111-85l-2 3l3 2m-64 63l-3 1l1 4m408 23l3 0l2-3m-135 49l3 0l0-3m234-71l3-1l-1-4m122-74l-3-1l-2 2m-450 76l-3-3l-2 3m239 80l4 0l1-3m62-186l-1 3l3 2m202 82l2 2l2-3m-576 64l-3 0l-1 3m329 18l2-3l-1-3m-56-121l-3 2l2 3m-62 38l-3 2l1 4m-90 18l-4 1l1 4m-162-73l3 3l3-2m-30-47l3 3l3-2m317 149l-2-3l-4 2m-95 34l3-2l-2-3m159-46l4-1l-1-3m-251 56l0-4l-4 0m49-10l3-1l1-3m-82 22l0 3l3 2m344-160l-4 0l0 4m36-5l2-3l-2-3m-268 45l-1 3l4 1m-41-7l-2 3l2 3m-136 2l-2 3l2 2m-58 79l3-1l0-3m204-10l0-4l-4 0m58 53l4 1l2-3m351-49l0-3l-4 0m-27 46l1-4l-3-2m70-97l3-3l-2-3m-260-70l-2 3l3 2m-184 48l2 3l3-2m196-61l3-2l-3-3m109 15l-3 1l0 4m-263 79l4 1l1-3m323 35l3-2l-1-3m-538 10l-4 0l0 3m70-16l-1 3l3 2m134 69l2-2l-1-3m28-140l1 3l4 0m-113 144l0-4l-3-1m35-141l-2-3l-3 1m151 82l-2 4l4 1m314-118l0-4l-4 0m-472 134l-2-3l-4 1m136-9l-3 2l2 3m137-122l1-3l-3-2m-487 16l2 3l4-1m193-1l2 3l3-1m172 116l-3 3l3 2m-290-135l2-3l-3-2m450-3l-3 2l3 3m-461 78l-1 3l2 3m122 60l-2-3l-3 0m164-56l3 3l2-3m-109-98l4 0l-1-4m15 169l-2-2l-4 1m-215-80l-3-2l-2 3m343-62l-2 3l2 2m-364 160l-2-3l-3 1m682 11l-3 1l0 4m-305-60l-3 1l0 4m47-53l-3-3l-2 3m-331 29l-3 2l1 3m215 6l-3-2l-2 4m-311-79l-1-3l-4-1m60 93l-1 4l4 1m279-98l4-1l-1-3m237 48l0 3l3 1m-384-25l-3-2l-3 2m-219-69l-4-1l-1 4m31 183l-2-3l-3 2m664-85l-3-2l-3 2m54 0l-2-3l-3 3m-197-92l-3 0l0 4m-193 103l1-3l-3-2m-22 9l4 1l1-3m-49 5l-4-1l-1 3m-107-39l3 2l3-2m167 13l2-4l-3-2m-286-54l-3-2l-3 2m516-17l4 0l0-4m-187 176l0-3l-4 0m105-55l3 2l2-3m121 48l3 3l3-3m-305-117l2 3l3-2m282-72l2-2l-2-3m-221 57l0-4l-4-1m75 93l-3 2l2 3m234-46l2-3l-1-3m-135-85l4 1l2-3m-30 175l3 2l2-3m-33-87l-4 0l-1 3m-79-16l-1-3l-3 2m-259-43l2-3l-2-3m482 71l1-3l-2-2m-592 22l3 0l0-3m617 13l3-2l-1-4m-512 65l4 0l1-3m0-91l0 4l4 1m214-75l0 4l3 2m-158 3l4-1l-1-3m-80-24l3-3l-2-3m375 127l1 4l3-1m-309 56l-2 3l2 3m131-101l1-3l-3-2m399 44l-2-3l-3 1m-355 17l-3 2l1 4m217-94l-3 1l0 3m-525 80l1 3l3 1m524-30l3 2l2-2m-499 33l3-1l-1-3m44 12l3 2l3-2m349-30l-3-1l-2 3m-422-60l-3 1l0 4m511-57l3 2l2-4m-548 66l3-1l1-3m639 48l-3-1l-2 4m-483-112l-2-3l-3 2m481 151l-4 2l1 3m-103-132l-4-1l-2 3m40-40l1-3l-3-1m-451 61l2 3l3-1m439 92l-3 0l0 3m-363-140l-1-3l-4 1m551 171l2-3l-2-2m-311-167l-3 1l1 4m135 108l0 3l3 1m65 20l3 2l3-3m-263 48l3-1l0-3m-29-103l-3-2l-2 3m137 70l2-3l-1-3m-36 31l-1 3l2 2m-253-11l3 0l1-4m474-105l0-3l-4 0m-658 49l-3 3l3 2m458 74l2-3l-3-2m-46-50l0 4l4-1m153-116l1 3l3-1m-73 59l-3-3l-2 3m-349-33l-1-3l-3 0m118 97l0-3l-4 0m149-87l3 2l2-2m-394 96l3 2l3-2m543 8l1 4l3-1m19-160l3 3l3-2m-400 81l2 2l3-1m13 74l-4 1l0 4m-75-168l3-1l-1-3m192 8l2 2l3-2m-333 119l-1-3l-3-1m453-16l1 4l3 1m-421-1l0 3l4 1m349-49l1-4l-3-1m-233-26l1-3l-3-2m208 48l-1-3l-4-1m84 67l0-3l-4-1m-238-17l0 4l3 1m-17 24l0 3l3 2m-43-35l-2 2l2 3m415 36l-1 3l3 2m-164 25l0-4l-3 0m359-28l0 4l4 0m-498-107l4-1l-1-3m210-28l0 3l3 1m-358-6l3-2l-1-3m374 66l-2-3l-4 0m212 85l4 1l0-4m-302-93l-3 1l0 4m269-14l-3 2l1 3m-673 138l-4-2l-2 3m296-43l-3-2l-2 3m58 40l1-3l-3-2m-285-97l-3-2l-3 2m450-95l-4 1l0 4m211 63l0-3l-3-1m-186-55l2 3l3-2m-472 7l0-3l-3 0m562 175l-3-1l-2 3m99-84l2-3l-2-2m-646 53l3 0l0-4m329 5l-4 0l-1 3m97-47l4 0l0-4m-363-86l1 3l3 0m-74 63l1-4l-3-2m164 105l1 4l3-1m-189-42l-2 3l3 2m55-133l-2-3l-3 2m628 23l3-1l-1-4m-257 82l1-4l-2-2m-148-43l-3-3l-3 3m-203 67l4 1l2-3m181-14l-2-2l-3 2m350-107l2-3l-3-2m-308 62l2-3l-2-3m403 59l-3-1l-3 2m-572-39l0 4l4 0m-146 14l-1-3l-3 0m44-75l3-2l-1-3m343 88l1-3l-4 0m-229 6l1 3l4-1m71 27l3-2l-1-3m-205 34l3-2l-2-3m309-133l3-1l0-3m-127 96l4 0l1-3m-157 58l2 3l4-1m98-101l-3 0l0 3m-120 6l4 0l1-3m694-55l0 3l3 1m-612 71l-4 2l2 3m362-88l-3 2l2 3m-330 95l-1-4l-3 1m20-122l-1 4l4 0m489 162l-1-4l-3 0m-11-122l4 1l1-3m-426 79l-2 3l3 2m235 0l2 4l3-1m-56-79l4 0l1-4m-244-28l-4 1l2 4m-146 99l3-1l0-4m19 64l3 0l0-4m686-145l-3 0l-1 3m10 95l-4-1l-1 4m-748-56l-2 3l4 2m278-16l-4-1l-2 3m-230-13l3-3l-2-3m-36 48l-1-4l-4 1m367-41l0-4l-3-1m350 131l-1 4l3 1m-335-15l0-3l-4-1m-112-6l1-3l-2-3m331-81l3 2l2-3m-35 3l4 0l1-4m-445 21l0-4l-3 0m-40 64l-3-3l-3 3m114-48l-3 1l0 3m437 20l-2-3l-3 1m79 23l3 2l2-2m-168 5l-3 0l-1 4m2 30l-3 2l1 4m-77-53l1-3l-3-3m-29-21l-3-2l-2 2m312-50l-4 0l-1 4m-590 36l4 1l1-3m95 50l-1-3l-4 1m260-144l-3-3l-3 2m-327 125l-4-1l-1 3m147 6l1 4l3-1m56-118l-2 3l2 3m173 170l-3 3l2 3m-472-74l3-2l-2-3m406 3l4-1l-1-3m-87-21l3 2l3-2m379 75l-3 2l1 3m-436-19l1 4l3-1m183-1l-4 0l-1 4m261-157l-2 4l2 2m-613 32l-3-2l-2 4m479 135l-3 3l2 2m-463-89l-2-3l-4 0m520 46l3 2l2-2m-239 41l0-4l-3-1m270-162l-4 0l0 3m37 39l-4-2l-1 4m-271 88l-3 3l2 3m-250-98l-2 3l2 3m475 100l1-4l-3-1m58-144l1 3l3-1m-277 129l0 4l3 2m257-2l-2-3l-3 2m-541-37l-1 3l3 2m48-91l-2 3l3 3m-191 106l4 1l1-4m568-107l0-4l-3-1m-229 177l-3-1l-3 3m-117-90l0-4l-3-1m353-106l2 3l3-2m42 154l4 1l2-3m-111-88l2 3l3-2m-193 127l-1-3l-4 0m-334-172l1-3l-3-2m453 181l3-2l-1-3m-380-152l-3-1l-1 4m247 119l-3 0l-1 3m85-28l-3-1l-2 2m-395-95l-3-1l-2 3m417 101l2 3l3-2m-386-129l-4 1l1 4m171 61l3 2l2-3m14-50l-1 3l3 1m-204 99l-2-3l-3 1m692 0l-1-4l-4 1m-20-105l-3 1l0 3m-240 43l3 2l2-2m180 47l-2 3l3 3m-184 65l-1-3l-3 0m272-156l-2-3l-3 2m-404-10l2-3l-2-2m97 28l1 3l3-2m108 26l-3 3l2 3m-541 109l-1-4l-3 0m96-130l0 4l3 0m308-43l-3 0l-2 3m201 134l-2-3l-3 1m-507-23l-2 3l2 2m5-18l2-3l-4-1m-21-49l-3-1l-2 3m281 48l0 3l4 1m157 80l-2-3l-3 1m-245-115l-1-4l-3 1m-94 76l-1 2l3 2m121-105l-1-4l-3 0m-137 43l3 0l0-4m501 6l3 1l2-2m-16 9l-4 0l-1 3m-177-46l-3-1l-2 3m-132 89l-1 4l3 1m-260-59l3 3l3-2m130-28l-1-4l-4 0m74-19l-4 0l0 4m189-39l-2 3l2 3m-267 39l0 4l4 0m-52 116l4 0l0-3m392 13l3 1l2-3m-438-141l3 1l2-2m142 69l-3-1l-2 2m407 61l2 3l3-1m-388-81l-4-1l-1 4m-255-22l-2 2l2 4m89 103l4 0l1-3m60-109l4-1l-1-4m-30 114l3-2l-1-3m-49-84l1 4l4 0m77-40l3 0l2-3m601 101l3-2l-2-3m-198-73l-2 2l1 4m189 118l-2 3l3 2m-267-152l-3-1l-2 3m-454 63l-3-1l-2 3m342 59l2 3l4-1m399-11l-2 3l2 3m-597 29l3 2l3-3m291-190l-4 0l-1 3m-318 182l3 3l2-3m461-41l-4-1l-1 3m-100-148l-3-1l-1 3m219 53l-3 0l-1 3m-125 45l-4 1l1 4m-221-3l-1-4l-4 1m344 63l-4-1l-1 4m-405-1l-4 1l1 3m-169-108l-3 2l1 4m-133 122l-3 1l-1 3m642-103l-4 0l0 3m-589-50l-2 3l3 2m557 3l-4 1l1 3m-528 24l-3 0l-2 3m383-66l-3 2l1 3m-161 82l3 3l3-2m284-26l0-3l-3-1m197-26l-1-4l-3 0m-187-33l2-3l-3-2m131 101l1-4l-3-2m-581 58l3-1l0-3m555-133l1-3l-4-2m4 167l-1 4l3 0m-415-31l0-4l-3-1m285-44l3 0l0-4m-264-49l4 1l1-4m336 102l-2-2l-3 2m107-150l-3 2l1 3m-291 125l-3 2l1 3m-280-143l3 0l2-3m523 159l4-1l-1-3m-142-85l2-3l-3-2m-211 103l-1-3l-4 1m-269-18l3-2l0-3m482-53l-2 3l2 3m187 32l3 0l0-4m-57-84l3-1l-1-4m-372 20l1 4l4 0m67 97l0-3l-4 0m389 28l0 4l4 0m-109 12l-3 1l0 3m-94-48l1-4l-4-1m-499-69l0 3l4 0m311-60l-3-2l-2 4m327 53l-3-2l-3 2m-513-58l1-3l-2-2m229 55l3-1l-1-4m321 61l2 3l3 0m-408-100l-1 3l4 1m-304 104l2 3l4-1m433-39l4 1l2-3m-89-15l4 1l1-4m225-19l-1 3l3 2m-362 24l-3-2l-2 3m-22 65l-4-1l-1 3m-159-45l4 0l0-3m486-43l-2 3l2 3m6 0l3-1l1-3m-81-50l-3 2l2 3m-237 90l-4 0l0 4m229-27l1 4l3-2m-454 20l2-3l-3-2m647-52l4-1l0-3m-517 77l3-2l-2-3m24-105l-4 2l2 3m-128 106l3-3l-2-2m634 29l0 3l3 1m-229 18l-3 2l2 3m197-127l3 1l2-3m-368 150l1-3l-3-2m439-67l3 1l2-3m-248-61l2 3l3-2m-426 3l1-4l-3-1m109 63l4 0l0-4m330 7l2-4l-3-2m-428-50l-4-1l-1 4m635 14l3 2l2-2m-88-56l-4 0l0 4m-351 122l3 0l0-4m-49-13l1 3l4 0m233-18l3 3l3-2m-448-62l-1 3l3 2m741 4l3-2l-2-3m-549 133l-1-3l-4 1m250-60l-3-3l-3 2m-76-16l-4-1l-1 3m-75-72l3-2l-1-3m-78-10l2 3l3-1m313-31l-1 4l3 2m-451 83l-3 0l-1 4m684 49l-1 3l3 1m-250-8l-4-1l0 4m-358-50l-4-1l-1 3m-146-4l0 3l3 0m11-85l-3 3l3 2m66 41l0 3l4 0m270-24l4-1l-1-4m-311-13l1-3l-4-2m687 175l-1 3l3 1m-32-171l1-3l-4-2m-555 151l2 2l3-1m-147-145l-2-3l-3 2m502 167l-3-2l-3 2m219-30l0 3l3 1m-482-23l3 0l0-4m482 36l2 2l3-2m22-23l2-4l-3-2m-144-8l3-2l-2-3m-282-27l0 4l3 1m393 2l0-3l-3-2m-707-22l3-2l-1-3m665 58l-3-1l-2 3m-305 40l3 3l3-3m208-141l3-1l1-4m-43 139l0-4l-4 0m-543 15l3-1l1-3m328-16l4 1l2-3m-331-108l1 3l3-1m221-20l4 0l0-3m273 121l3 0l2-3m-9 23l1 4l3-2m-422-122l0-4l-3 1m226 100l2 3l3-1m257 43l3-2l-1-3m103-93l3 2l3-2m-103 61l-4 0l-2 3m-171-34l2 3l3-2m254 34l3-1l-1-4m-540-158l-3-2l-2 3m428 157l4 0l1-3m-403 13l-3-2l-2 2m445-139l1-3l-3-2m-470 100l2 2l3-2m366-97l-3-2l-3 2m225 6l1 3l4 0m-59 149l-3 0l0 3m-555-55l-3 2l2 3m330 40l4 1l1-4m-82-96l-2-3l-3 1m-159 86l-3 2l1 3m66 7l1 3l4-1m-225-1l-2-3l-4 1m-7-38l-1 4l3 1m721-83l4 0l0-4m-280 19l-1 3l3 2m-417 85l3 0l1-3m338-5l-4 1l0 3m-359-130l1-4l-3-1m153 137l2-2l-3-3m-155-158l-4-1l-2 2m276 74l3-2l0-4m370 101l-3-1l-2 3m-469-27l-4 0l1 4m92 5l-1-4l-3 1m241-146l-1 3l3 2m-154 73l2-3l-2-2m-5 26l-1 3l4 0m177-34l0 3l4 0m-137 90l-1-3l-3 0m126-130l3 0l0-3m-428 19l4 0l1-3m637 30l-2-3l-3 2m-56 114l3 2l1-3m-142-122l0 3l3 2m30 23l3 2l3-1m160 5l-1-4l-4 1m-244 40l1-3l-3-2m-6-103l4 1l1-3m-52 52l2 2l3-2m84 76l1-3l-3-2m-368-84l0 3l4 1m33 117l2 3l4-1m177-106l2 3l4-2m371 70l-4 0l0 3m-86-59l4-1l-1-4m-570-20l-2-3l-3 2m-31 7l1-3l-3-3m289 22l1-3l-4-1m416 15l0-3l-3-1m-629-74l-3 2l2 3m397 68l3-2l-2-3m-213-3l3 2l2-3m1 38l-3 2l1 4m140-134l3 2l2-2m-82 44l4-1l-1-3m72 47l-3-1l-1 4m137 98l3 1l2-3m-19-66l2-2l-2-2m-180-104l-1 3l3 2m171 19l0-4l-3-1m-270 77l-1 3l3 2m-94 58l1-3l-3-2m221 27l2-3l-2-2m-405-100l-3-1l-2 3m240 17l-3 2l3 3m252-3l0 4l3 1m224-35l1 3l3-1m-447 67l-1-3l-4 0m150-100l-3 2l2 3m286-9l0-3l-4 0m-662 63l4 1l2-3m653 64l-2 3l3 3m-76-56l-1 4l4 1m-239-65l-3-2l-2 3m-266 31l-3-3l-3 2m524 18l2 3l3-2m109 52l3 0l1-3m-345-42l2 3l3-3m-105 68l4-1l-1-3m324-142l1-4l-3-1m58 107l-1-4l-3 0m-423 16l3-2l-3-3m48-5l3-2l-2-3m64-12l3 2l1-3m322 58l2-2l-3-2m-344-104l3 3l3-1m177 56l3 2l3-2m-489-27l1-3l-2-2m150 29l-4 1l1 4m-91-72l3-3l-3-2m67 1l2-3l-3-2m252 121l-4 0l0 4m58-45l1-3l-3-1m95-49l3-2l-2-3m-263 57l4-1l-1-3m-176 22l4 2l2-3m559 26l-3 3l3 2m-675 2l3 3l3-2m119-161l2 3l3-2m305 42l0 4l3 1m-347 55l1-3l-3-1m286-15l-3 1l0 4m-17 15l-3-2l-3 2m209 16l2 3l3-1m-61 20l2 3l3-2m-191-37l4 0l0-3m-277-113l-3 3l2 3m264 115l0 4l3 0m-173 53l0 4l3 1m42-94l-3-3l-2 3m141 98l1-3l-3-1m-239-146l-4 0l0 4m377 16l-1 3l3 2m-232-46l1-3l-3-1m450 67l2-3l-2-2m-266-38l3 0l0-3m276-25l4 0l0-4m-185-2l-2-3l-2 2m-131 53l4-2l-1-3m328 23l1 4l3 0m23-11l1-4l-2-2m-741-23l2 3l3-2m254 56l-3 1l0 3m18-50l-4 1l0 4m71 27l2 3l3-2m-228 10l-3 2l1 3m310 5l-3 3l2 3m123-30l3 2l2-2m-417 100l3 2l1-3m-72-127l-4 0l-1 3m238 21l-3-2l-2 3m-158 85l-1 4l3 1m67-62l2-3l-3-2m242-80l0-3l-3-1m-138-2l2 3l3-2m82 121l2 3l3-2m244 47l-3-2l-2 2m-574-101l-3 1l-1 3m431-18l2-3l-2-2m221 24l-2 3l3 2m-196 71l0-3l-4 0m-152 7l-2-3l-3 2m208-90l2-3l-2-3m-39 28l1-4l-2-2m-463 84l-1-4l-3 1m573 1l2-3l-1-3m-478-19l3-2l0-3m-154-50l0-3l-3 0m213 2l-3-1l-3 3m69 6l-4 0l1 4m39 35l0 4l4-1m168-99l3 2l2-3m-358-4l-3-2l-3 3m103 32l0 4l4-1m139 70l-4 0l0 4m377-108l-3 1l1 4m-537 52l-1-3l-4 1m-219 21l-3 2l2 3m19-10l3-2l-1-3m428-41l3 1l2-3m312-14l2 3l3-1m-765-45l0 4l4 0m172 132l-1-3l-4 0m394-75l0-4l-3-1m118-35l-2-3l-3 3m-506 80l-3 1l0 3m238 38l0 3l3 2m-176 24l-3-3l-2 2m259-46l-4 1l1 3m-47-104l1 3l4-1m-12 154l0-4l-4 0m-428-126l3 1l1-3m230-15l-2 3l3 2m360 75l-1 3l4 2m-503 13l1-3l-3-2m372 39l-4-1l-2 2m-40-76l2-3l-2-3m-111 12l1 4l4 0m391 2l0 4l4-1m-132-23l-2-3l-3 2m108 62l3-2l-2-3m-291-96l0 4l3 0m-166 141l0-3l-4-1m271-181l-2-3l-3 0m-92 75l2-3l-2-3m64-23l-1-3l-3 0m241 37l1 3l4 0m-63-48l0 3l3 2m46 58l-3-2l-2 3m-266-29l0 4l4 0m306 22l1 4l3 0m-323-44l1 3l3-1m-62-21l-1 3l3 2m-13 0l0-3l-4 0m-287 21l3 0l0-4m-36 67l-3-3l-3 2m56 51l0-3l-3-2m180-126l-3-2l-3 3m182 3l3-1l-2-3m139 2l-1 3l3 2m125 76l-4 0l-1 4m-483-9l0-4l-3-1m78-23l1-3l-3-2m-67 7l3 1l2-2m294 66l-4-1l-1 3m-328-189l3-3l-3-2m259 6l2 3l3-2m-75-2l-1-3l-3 0m375-7l-2-3l-3 2m-426 44l-2-3l-3 3m149-55l-2-2l-3 1m171-1l-4 1l0 3m-218-1l3 0l1-3m-215 4l1 3l4-1m-211-4l-3-2l-2 2m682 29l-3 2l0 3m125-5l-3 2l2 3m-722-41l3-1l0-4m675 0l1-3l-3-2m-35 68l2-4l-3-2m-600-66l-4 1l1 3m482 8l2-3l-2-2m-584 4l4 0l0-4m133 42l-1 3l2 2m287-87l-1 3l3 1m-121 23l1 3l4-1m422 81l-2-3l-3 2m-152-126l-1 3l3 1m177 64l3-2l-2-3m-239 18l2-3l-2-3m-72-46l-2 3l2 3m-260 67l-2-2l-3 2m-101-33l3-2l-1-3m673 12l-1 3l2 3m-652 3l3 2l3-1m157 39l3 1l2-2m10 0l1 3l3-2m382-68l-3-1l-2 2m-227-3l-2 3l3 2m-356 49l1 3l3-1m176 0l3 1l2-3m-234-5l-2 3l2 3m758-14l4 0l-1-4m-705-5l0 4l4-1m281-32l-4 1l-1 3m-209-15l2-2l-2-3m526 57l-4-1l-2 3m-83-32l4 1l2-3m-289 27l0-4l-3 0m-81 24l2-2l-2-3m111-15l-2 3l1 3m-116-11l-1-3l-3 0m-174-52l3 2l3-2m104 0l3-1l-1-3m172 37l3-1l0-4m383-4l-3-3l-3 2m92-13l-3 2l0 3m-130 27l1-4l-3-1m-485 18l3 1l2-3m92-25l-3-2l-1 3m-189 30l3-1l0-4m493-3l-4 1l1 4m-391 16l3 0l0-4m77 0l-3 2l3 3m-53-25l-3 2l1 3m529-21l-2 3l2 3m-412 39l3-1l0-3m26-16l-3 1l-1 3m69-43l0-4l-3 0m161 8l-3 2l2 2m-283 73l-1 3l3 1m-245-28l2-3l-2-3m521-42l3 2l3-3m-211 20l3 1l2-3m-355 2l-3-2l-2 3m680 6l4-2l-1-3m-107-17l4-1l-2-3m-194 22l-3-2l-2 2m-13-60l1 4l3 0m31 56l-2-2l-3 2m-292-10l-3-3l-3 1m556-27l4 1l2-3m21 42l0-4l-3 0m-413 33l1 3l3-2m171-70l1 4l4 0m-351 16l0 4l4 0m602 66l3 1l1-4m-141-67l-2-3l-3 2m-20 17l-3 2l1 3m-434-43l-3 2l1 3m569 2l-4-1l0 4m-268-3l2 2l3 0m322 49l3 0l1-4m-573-56l-3-1l-2 3m208 19l-1 4l4 0m-8 7l0-4l-4 0m-330-8l-3-2l-2 3m637 3l3 3l2-3m-532-22l-3 3l3 2m617 68l3 1l2-3m-447-46l2 3l3-2m-31 60l-2 2l2 3m443-6l3 2l3-3m-44-22l-2 3l2 3m-612 4l-4 1l-1 3m46-23l-3-2l-2 3m157-32l2-2l-1-3m248-25l3-1l1-3m193 34l-3 3l1 3m-186-27l2 3l3-1m-515-1l-3 3l3 2m218 75l-3-1l-2 3m388-29l-3-2l-3 2m-496-47l-3-1l-3 3m178 29l-3 1l0 3m-395 132l3 2l2-2m12-100l-3-1l-2 2m92 97l-3-1l-2 3m-68 84l2 3l3-1m27-79l-3 2l2 3m12-100l-2 3l2 3m-1-69l-1 3l3 2m25 146l2-2l-2-3m-17-65l-1-4l-3 0m16-24l3-1l0-3m6-3l-2-3l-3 1m2-43l1-3l-3-2m-53 92l-2-3l-3 1m7 96l1 4l3 0m38-240l-1 3l2 3m-20 117l-1 3l2 3m26 166l-1-3l-4 1m-24-152l3 1l2-2m-81 142l0-3l-4-2m43-209l3 0l1-3m41 204l-2 3l2 3m-18 3l0 4l4 0m20-155l1 3l4 0m-44 52l1 3l3 0m-13 42l1 3l3-1m50-273l-3-1l-2 3m-24 237l-3-3l-2 3m40-79l-2 3l3 2m829 131l-3-1l-1 4m33-247l2 2l3-1m12 136l-2 3l2 3m2 60l-4-1l-1 3m34 68l1 3l3 1m-76-37l-4 1l1 4m62-179l-1 3l3 3m-47 82l0 4l4 1m30-111l-1 4l4 1m-61 9l3 1l3-3m37-21l1 3l4-1m34 78l1 4l3-1m-85 85l0 4l3 1m-10 30l0 3l3 0m-7-146l-1-3l-4 1m78-101l-2 2l2 3m-71 233l1 3l4 1m14 31l2-2l-2-3m28-261l-3 1l0 3m-27 183l-1 3l3 2" stroke="#e8321c" stroke-width="3.6"/>
<path d="M996 1693l-2-10l7-7m-340 74l5 7l-2 8m219 59l8 10l-5 12m269-78l-4 11l-12 3m-612 73l-2 13l-11 6m491-160l-9-3l-3-9m177-13l8 5l0 9m-205 82l-6 8l-10-1m-301 5l7-8l11 2m468-78l2-8l9-2m-296 51l11 0l7 9m-204-76l2-9l8-4m173 38l-4-9l6-9m-314 155l-1-12l10-7m624-110l13 3l4 13m-346-23l8-3l7 6m-228 104l-3-12l10-10m-73 31l-7 11l-13-1m405 15l5 10l-6 9m-420-115l9-9l13 3m-31 31l13-2l9 11m195 30l9-7l10 3m336-122l-5-11l6-11m-128 168l7-4l7 4m-302-108l-8-6l1-10m161-12l-8 2l-6-5m219 49l-5 11l-12 2m-483 76l-5 8l-10 0m278 6l-1 13l-11 7m-225-166l10 2l4 10m391-7l-1-13l11-8m-439 99l-3-9l6-6m468 93l-12-2l-6-11m149-161l8-2l7 6" stroke="#b9b9b9" stroke-width="2.2"/>
<path d="M996 1693l-8 4m-327 53l4-8m218 82l5-6m267-50l6-3m-634 90l6-2m472-139l3 6m162-31l1-7m-198 103l11 2m-328 10l-6-2m492-82l-7-1m-278 42l-1-6m-185-61l-10 3m193 22l-2 5m-310 132l-7 7m640-136l-4-6m-325-1l-8-4m-205 111l-10 4m-56 5l9 3m376 22l9-5m-430-91l-10-2m1 27l-1-10m218 49l-10-3m365-123l-4 8m-123 138l-8-5m-280-103l-4 7m158-35l6 5m199 41l7 0m-507 89l9 2m254 12l7-5m-244-141l0-10m405 15l-6 5m-423 73l-5 4m476 74l0 7m131-181l-5-6" stroke="#3a44d8" stroke-width="2.8"/>
</g>
<path d="M226 765.3 L232 763.8 L238 762.4 L244 755.2 L250 747.5 L256 745.3 L262 743.9 L268 733.7 L274 721.6 L280 714.9 L286 715.2 L292 715.2 L298 712.3 L304 714.1 L310 720.2 L316 722.2 L322 720.3 L328 722.4 L334 728.7 L340 731.4 L346 725.3 L352 722.1 L358 724 L364 723.4 L370 721.9 L376 724.2 L382 731.9 L388 738.3 L394 736.9 L400 732.2 L406 733.2 L412 734.1 L418 729.3 L424 720.2 L430 716.7 L436 715.2 L442 717.2 L448 717.3 L454 722.8 L460 730.6 L466 733.8 L472 734.3 L478 739.5 L484 740.6 L490 735.8 L496 727.2 L502 722.6 L508 722.2 L514 718.7 L520 721.8 L526 727.9 L532 739 L538 745.5 L544 743.5 L550 743.4 L556 748.7 L562 752.8 L568 750.1 L574 746 L580 747.5 L586 748.9 L592 744.6 L598 739.8 L604 738.4 L610 735.9 L610 836.3 L604 834.5 L598 833.4 L592 834.4 L586 837.6 L580 841.3 L574 843.6 L568 843.1 L562 840.1 L556 836.3 L550 833.4 L544 832.1 L538 831.4 L532 829.7 L526 826.1 L520 821 L514 816.3 L508 814 L502 814.7 L496 817.5 L490 820.4 L484 821.8 L478 821.6 L472 821 L466 821.7 L460 824.1 L454 827.4 L448 829.7 L442 829.5 L436 826.9 L430 823.4 L424 821.1 L418 821.2 L412 823.3 L406 825.8 L400 827.2 L394 827.3 L388 827.1 L382 828.5 L376 832.3 L370 837.8 L364 843 L358 846 L352 846.1 L346 844.3 L340 842.4 L334 841.8 L328 842.2 L322 842.4 L316 840.9 L310 837.2 L304 832.5 L298 828.9 L292 827.9 L286 829.4 L280 832 L274 833.6 L268 833.3 L262 831.6 L256 830.1 L250 830 L244 831.4 L238 832.8 L232 832.4 L226 829.3 Z" fill="url(#sphp)" stroke="none" stroke-width="1" />
<use href="#G" x="318.1" y="749"/><use href="#W" x="314.2" y="749.6"/><use href="#W" x="324.7" y="744.7"/><use href="#W" x="324.8" y="742.2"/><use href="#W" x="313.4" y="738.6"/><use href="#W" x="320.2" y="742.6"/><use href="#W" x="312.3" y="737.2"/><use href="#W" x="324" y="731"/><use href="#G" x="320.5" y="728.3"/><use href="#W" x="323.3" y="728.8"/><use href="#W" x="312.3" y="724.7"/><use href="#W" x="319.2" y="729.1"/><use href="#W" x="313.1" y="722.5"/><use href="#W" x="322.5" y="718.7"/><use href="#W" x="323.5" y="715.9"/><use href="#W" x="311.8" y="712.7"/><use href="#G" x="321.7" y="741.8"/><use href="#G" x="316.4" y="735.5"/><use href="#G" x="315.9" y="722"/><use href="#G" x="319.3" y="714.7"/><use href="#G" x="330.1" y="778.3"/><use href="#W" x="325.4" y="779.6"/><use href="#W" x="338" y="773.7"/><use href="#G" x="334.9" y="771.3"/><use href="#W" x="339.7" y="772.9"/><use href="#W" x="327.7" y="769.2"/><use href="#G" x="330.1" y="764.7"/><use href="#W" x="326.5" y="765.6"/><use href="#W" x="337.7" y="761.2"/><use href="#G" x="335" y="757.8"/><use href="#W" x="339.1" y="757.9"/><use href="#W" x="326.4" y="754.9"/><use href="#G" x="330.4" y="751.1"/><use href="#W" x="327.4" y="751.8"/><use href="#W" x="337.8" y="748.2"/><use href="#G" x="334.9" y="744.2"/><use href="#W" x="338.9" y="745"/><use href="#W" x="327" y="741.2"/><use href="#G" x="329.9" y="737.5"/><use href="#W" x="325.3" y="738.5"/><use href="#W" x="337.5" y="733"/><use href="#G" x="334.4" y="730.6"/><use href="#W" x="338" y="731.1"/><use href="#W" x="326.2" y="727.2"/><use href="#W" x="306.6" y="763.4"/><use href="#W" x="318.8" y="755.2"/><use href="#G" x="314.1" y="753.5"/><use href="#W" x="316.9" y="753.5"/><use href="#W" x="305.5" y="750.8"/><use href="#W" x="312.4" y="754.4"/><use href="#W" x="304.4" y="749.8"/><use href="#W" x="315.9" y="742.3"/><use href="#W" x="314.7" y="741.3"/><use href="#W" x="303.8" y="738.1"/><use href="#W" x="311.8" y="741.1"/><use href="#W" x="303.1" y="736.2"/><use href="#W" x="313.3" y="730.1"/><use href="#W" x="313.7" y="726.3"/><use href="#W" x="300.3" y="725.7"/><use href="#G" x="303.2" y="721"/><use href="#W" x="298.7" y="723.1"/><use href="#W" x="310.5" y="715.4"/><use href="#G" x="305.9" y="713.5"/><use href="#W" x="309.3" y="714.7"/><use href="#W" x="298.6" y="711.4"/><use href="#G" x="311.2" y="761"/><use href="#G" x="308.6" y="747.7"/><use href="#G" x="311.2" y="740.2"/><use href="#G" x="306.2" y="734.4"/><use href="#G" x="309.3" y="726.8"/><use href="#G" x="469" y="848.9"/><use href="#W" x="465.5" y="848.7"/><use href="#W" x="476.5" y="847"/><use href="#W" x="476.7" y="843.8"/><use href="#W" x="466" y="837.6"/><use href="#W" x="466.6" y="835.3"/><use href="#W" x="478.5" y="832.5"/><use href="#W" x="470.9" y="836.3"/><use href="#G" x="475.6" y="829.3"/><use href="#W" x="479.3" y="830.7"/><use href="#W" x="468.1" y="824.9"/><use href="#W" x="467.7" y="821.6"/><use href="#W" x="478.9" y="819.6"/><use href="#G" x="477.4" y="815.9"/><use href="#W" x="482.1" y="817.9"/><use href="#W" x="470.7" y="812.3"/><use href="#W" x="469.9" y="809.7"/><use href="#W" x="483" y="805.9"/><use href="#G" x="479.2" y="802.4"/><use href="#W" x="482.4" y="804.2"/><use href="#W" x="472.2" y="797.4"/><use href="#W" x="470.8" y="795.8"/><use href="#W" x="483.9" y="791.9"/><use href="#G" x="480.6" y="788.9"/><use href="#W" x="484.9" y="790"/><use href="#W" x="472.9" y="784.9"/><use href="#W" x="478.9" y="789.5"/><use href="#W" x="473.3" y="782.5"/><use href="#W" x="486.6" y="778.4"/><use href="#G" x="473.7" y="842.8"/><use href="#G" x="470.9" y="835.4"/><use href="#G" x="471.6" y="822"/><use href="#G" x="474.1" y="808.5"/><use href="#G" x="475.4" y="795"/><use href="#G" x="477.9" y="781.6"/><use href="#G" x="415.5" y="780.1"/><use href="#W" x="411.8" y="781.4"/><use href="#W" x="422.6" y="775.7"/><use href="#G" x="419" y="772.7"/><use href="#W" x="423.1" y="774"/><use href="#W" x="411.6" y="770.8"/><use href="#W" x="410.3" y="768.1"/><use href="#W" x="421.4" y="762"/><use href="#W" x="420.7" y="759.6"/><use href="#W" x="408.9" y="756.6"/><use href="#G" x="411.2" y="753.1"/><use href="#W" x="406.8" y="755.5"/><use href="#W" x="419.3" y="747.9"/><use href="#W" x="413.6" y="753.7"/><use href="#W" x="417.8" y="745.3"/><use href="#W" x="405.1" y="743.3"/><use href="#W" x="405" y="741.6"/><use href="#W" x="417.3" y="734.3"/><use href="#W" x="416.6" y="733.6"/><use href="#W" x="405" y="730.6"/><use href="#G" x="414.2" y="766.6"/><use href="#G" x="417.3" y="759.2"/><use href="#G" x="414.3" y="745.8"/><use href="#G" x="409.6" y="739.7"/><use href="#G" x="412.3" y="732.3"/><use href="#W" x="349.3" y="773.3"/><use href="#W" x="358" y="764.4"/><use href="#W" x="356.3" y="762.2"/><use href="#W" x="344.6" y="763"/><use href="#W" x="350.9" y="764.8"/><use href="#G" x="347.3" y="759.3"/><use href="#W" x="343.7" y="761.1"/><use href="#W" x="352" y="752.7"/><use href="#W" x="345.8" y="759.7"/><use href="#W" x="350.4" y="751.3"/><use href="#W" x="340" y="750.7"/><use href="#G" x="340.9" y="747.1"/><use href="#W" x="338.2" y="750.5"/><use href="#W" x="347.3" y="741.3"/><use href="#W" x="345.1" y="739.1"/><use href="#W" x="334.4" y="738.8"/><use href="#W" x="342.1" y="740.3"/><use href="#W" x="332.5" y="737.1"/><use href="#W" x="340.2" y="729.3"/><use href="#W" x="339.5" y="725.8"/><use href="#W" x="327.1" y="727.3"/><use href="#G" x="353.3" y="771.5"/><use href="#G" x="353.7" y="763.5"/><use href="#G" x="347.9" y="751.3"/><use href="#G" x="342.2" y="739"/><use href="#G" x="335" y="734.8"/><use href="#G" x="335.9" y="726.8"/><use href="#G" x="511.9" y="840.4"/><use href="#W" x="507.6" y="842"/><use href="#W" x="520.6" y="836.8"/><use href="#G" x="516.1" y="833.7"/><use href="#W" x="519" y="835.4"/><use href="#W" x="508.9" y="829.1"/><use href="#W" x="516" y="834.4"/><use href="#G" x="512.5" y="826.8"/><use href="#W" x="508.6" y="827.6"/><use href="#W" x="520.4" y="823.7"/><use href="#G" x="517.2" y="820.2"/><use href="#W" x="520.6" y="820.3"/><use href="#W" x="508.6" y="816.1"/><use href="#G" x="513.6" y="813.2"/><use href="#W" x="510.2" y="814"/><use href="#W" x="521.5" y="810.4"/><use href="#G" x="517.7" y="806.6"/><use href="#W" x="520.9" y="807.5"/><use href="#W" x="509.8" y="802.3"/><use href="#W" x="516.2" y="807.2"/><use href="#G" x="513" y="799.6"/><use href="#W" x="509.8" y="800.4"/><use href="#W" x="520.9" y="797.1"/><use href="#G" x="517.2" y="793"/><use href="#W" x="521.8" y="795"/><use href="#W" x="510.4" y="790.1"/><use href="#G" x="512.7" y="786"/><use href="#W" x="508.6" y="786.4"/><use href="#W" x="520.2" y="782.6"/><use href="#G" x="517.6" y="779.4"/><use href="#W" x="521.9" y="781.3"/><use href="#W" x="510.8" y="776.2"/><use href="#G" x="514" y="772.4"/><use href="#W" x="510.5" y="772.4"/><use href="#W" x="521" y="769.6"/><use href="#W" x="513.3" y="773.2"/><use href="#W" x="227.2" y="813"/><use href="#W" x="238.4" y="811.8"/><use href="#G" x="236.8" y="807.6"/><use href="#W" x="240.1" y="810.3"/><use href="#W" x="230.7" y="802.3"/><use href="#W" x="229.4" y="800"/><use href="#W" x="241.8" y="797.6"/><use href="#W" x="241.6" y="797"/><use href="#W" x="232.9" y="788.5"/><use href="#W" x="233" y="786.7"/><use href="#W" x="243.7" y="785.9"/><use href="#W" x="246" y="783.1"/><use href="#W" x="235" y="776.8"/><use href="#G" x="239.1" y="773.4"/><use href="#W" x="234.6" y="774.3"/><use href="#W" x="248.1" y="770.8"/><use href="#G" x="245.4" y="767.6"/><use href="#W" x="248.7" y="769.6"/><use href="#W" x="238.7" y="762.4"/><use href="#G" x="230.8" y="813.4"/><use href="#G" x="233.8" y="800.1"/><use href="#G" x="238.9" y="794.3"/><use href="#G" x="235.7" y="786.8"/><use href="#G" x="241.6" y="781"/><use href="#W" x="590.7" y="772"/><use href="#W" x="601.1" y="768.3"/><use href="#G" x="597.6" y="764.2"/><use href="#W" x="602" y="765.8"/><use href="#W" x="590.5" y="761.6"/><use href="#G" x="592.7" y="757.5"/><use href="#W" x="588.9" y="758.4"/><use href="#W" x="600.2" y="753.9"/><use href="#G" x="596.8" y="750.6"/><use href="#W" x="601.2" y="750.7"/><use href="#W" x="588.1" y="748"/><use href="#G" x="592.4" y="743.9"/><use href="#W" x="589" y="744.5"/><use href="#W" x="599.6" y="740.6"/><use href="#W" x="599.4" y="737.3"/><use href="#W" x="587.9" y="733"/><use href="#G" x="593.6" y="771.1"/><use href="#G" x="596.4" y="737"/><use href="#W" x="552.8" y="845.1"/><use href="#W" x="560.3" y="835"/><use href="#W" x="554.9" y="843.1"/><use href="#G" x="555.9" y="834.6"/><use href="#W" x="559.2" y="833.2"/><use href="#W" x="547.3" y="836.4"/><use href="#W" x="553.7" y="836.2"/><use href="#W" x="545" y="834.5"/><use href="#W" x="553" y="823.9"/><use href="#W" x="548.3" y="831.9"/><use href="#G" x="549.1" y="823.4"/><use href="#W" x="551.7" y="821.3"/><use href="#W" x="539.7" y="824.5"/><use href="#W" x="545.4" y="824.9"/><use href="#W" x="537.4" y="822.8"/><use href="#W" x="545" y="812.5"/><use href="#G" x="540.6" y="812.2"/><use href="#W" x="544.3" y="810.8"/><use href="#W" x="532" y="814.3"/><use href="#W" x="530.4" y="811.9"/><use href="#W" x="537.8" y="801.7"/><use href="#W" x="536.4" y="800.5"/><use href="#W" x="525.1" y="802.9"/><use href="#W" x="532.5" y="802.5"/><use href="#W" x="522.6" y="801.8"/><use href="#W" x="531.4" y="790.3"/><use href="#W" x="527.7" y="798.2"/><use href="#G" x="525.9" y="789.7"/><use href="#W" x="528.6" y="788.2"/><use href="#W" x="517.2" y="790.9"/><use href="#W" x="515.7" y="790.1"/><use href="#W" x="523.4" y="779.7"/><use href="#G" x="556.5" y="842.7"/><use href="#G" x="548.6" y="831.5"/><use href="#G" x="541.1" y="820.3"/><use href="#G" x="533.6" y="809.1"/><use href="#G" x="532.9" y="801"/><use href="#G" x="526.1" y="797.8"/><use href="#G" x="518.5" y="786.6"/><use href="#G" x="431.7" y="757.7"/><use href="#W" x="428.5" y="758.8"/><use href="#W" x="440.7" y="756.1"/><use href="#W" x="434.4" y="758.6"/><use href="#G" x="436.6" y="751.7"/><use href="#W" x="440.3" y="753.4"/><use href="#W" x="429.6" y="747"/><use href="#G" x="433.1" y="744.3"/><use href="#W" x="428.7" y="744.2"/><use href="#W" x="440.9" y="741.4"/><use href="#W" x="433.3" y="745.1"/><use href="#G" x="438.9" y="738.2"/><use href="#W" x="442.7" y="739.3"/><use href="#W" x="431.2" y="733.7"/><use href="#G" x="435.5" y="730.8"/><use href="#W" x="431.1" y="730.4"/><use href="#W" x="442.8" y="728.1"/><use href="#G" x="441.3" y="724.8"/><use href="#W" x="445.5" y="727.3"/><use href="#W" x="435.1" y="720.6"/><use href="#G" x="437.4" y="717.4"/><use href="#W" x="432.9" y="717.8"/><use href="#W" x="445.6" y="714.6"/><use href="#G" x="442.6" y="711.4"/><use href="#W" x="445.8" y="712.5"/><use href="#W" x="435" y="706.2"/><use href="#G" x="456.9" y="835.7"/><use href="#W" x="453.8" y="836.2"/><use href="#W" x="465.9" y="835.3"/><use href="#G" x="462.7" y="830.5"/><use href="#W" x="466.3" y="833"/><use href="#W" x="456.6" y="825"/><use href="#G" x="461" y="822.7"/><use href="#W" x="456.6" y="822.1"/><use href="#W" x="468.9" y="820.9"/><use href="#G" x="466.7" y="817.4"/><use href="#W" x="469.6" y="819.1"/><use href="#W" x="459.8" y="811.2"/><use href="#W" x="465.4" y="817.9"/><use href="#G" x="464.6" y="809.7"/><use href="#W" x="461" y="808.8"/><use href="#W" x="472.3" y="808.7"/><use href="#G" x="470.6" y="804.4"/><use href="#W" x="474.3" y="807.3"/><use href="#W" x="464.9" y="799"/><use href="#G" x="467.8" y="796.6"/><use href="#W" x="463.8" y="795.8"/><use href="#W" x="475.6" y="795.3"/><use href="#G" x="473.6" y="791.4"/><use href="#W" x="476.4" y="793.4"/><use href="#W" x="467" y="785"/><use href="#G" x="471.7" y="783.6"/><use href="#W" x="467.1" y="783"/><use href="#W" x="479.6" y="781.6"/><use href="#G" x="477.4" y="778.3"/><use href="#W" x="481" y="781.2"/><use href="#W" x="471.6" y="772.9"/><use href="#G" x="475.2" y="770.6"/><use href="#W" x="470.6" y="770.8"/><use href="#W" x="483.9" y="768.6"/><use href="#W" x="477.2" y="771.6"/><use href="#G" x="424.2" y="780"/><use href="#W" x="421.2" y="780.6"/><use href="#W" x="432.9" y="779"/><use href="#G" x="430.1" y="774.3"/><use href="#W" x="433.4" y="775.7"/><use href="#W" x="422.9" y="768.9"/><use href="#G" x="427.8" y="766.7"/><use href="#W" x="423.6" y="766.9"/><use href="#W" x="436" y="764.5"/><use href="#W" x="436.2" y="762.5"/><use href="#W" x="426.3" y="755.1"/><use href="#G" x="431.2" y="753.4"/><use href="#W" x="427" y="754.5"/><use href="#W" x="440.4" y="751.2"/><use href="#W" x="434.2" y="754.3"/><use href="#W" x="441.6" y="748.7"/><use href="#W" x="429.8" y="743.1"/><use href="#G" x="435" y="740.1"/><use href="#W" x="430.9" y="740.9"/><use href="#W" x="443.9" y="737.9"/><use href="#W" x="437.4" y="741"/><use href="#W" x="444.3" y="735.4"/><use href="#W" x="433.4" y="729"/><use href="#W" x="439" y="734.8"/><use href="#G" x="438.6" y="726.8"/><use href="#W" x="434" y="728"/><use href="#W" x="447.9" y="724.1"/><use href="#W" x="449.1" y="721.9"/><use href="#W" x="436.6" y="717.1"/><use href="#G" x="433.5" y="761"/><use href="#G" x="437.5" y="747.6"/><use href="#G" x="441" y="734.3"/><use href="#G" x="444.4" y="721"/><use href="#G" x="222.5" y="809.6"/><use href="#W" x="217.9" y="809.3"/><use href="#W" x="230.6" y="807.5"/><use href="#G" x="228.3" y="804.2"/><use href="#W" x="231" y="807"/><use href="#W" x="222.4" y="797.9"/><use href="#W" x="229.3" y="804.7"/><use href="#W" x="221.9" y="797.5"/><use href="#W" x="235.3" y="795"/><use href="#W" x="235.1" y="793.1"/><use href="#W" x="225.2" y="785.5"/><use href="#W" x="224.7" y="784.1"/><use href="#W" x="238.1" y="781.5"/><use href="#W" x="238.3" y="779.5"/><use href="#W" x="228.1" y="772.1"/><use href="#W" x="228.1" y="770.9"/><use href="#W" x="241.5" y="768.3"/><use href="#W" x="242.3" y="767.8"/><use href="#W" x="232.6" y="759.9"/><use href="#G" x="225.9" y="796.5"/><use href="#G" x="231.8" y="791.1"/><use href="#G" x="229.1" y="783.4"/><use href="#G" x="235.2" y="778"/><use href="#G" x="232.5" y="770.3"/><use href="#G" x="238.3" y="764.8"/><use href="#W" x="631.2" y="858.5"/><use href="#W" x="643.3" y="855.8"/><use href="#W" x="644.3" y="853.1"/><use href="#W" x="633.3" y="847"/><use href="#W" x="639.7" y="852.1"/><use href="#G" x="637.4" y="844.2"/><use href="#W" x="633.2" y="844.3"/><use href="#W" x="645.4" y="841.6"/><use href="#G" x="642.6" y="838.2"/><use href="#W" x="646.7" y="840"/><use href="#W" x="635.7" y="833.9"/><use href="#W" x="642.3" y="838.7"/><use href="#W" x="634.6" y="830.4"/><use href="#W" x="646.6" y="828"/><use href="#W" x="648.1" y="826.8"/><use href="#W" x="638.2" y="819.5"/><use href="#G" x="641.2" y="817.3"/><use href="#W" x="636.9" y="818.3"/><use href="#W" x="650" y="814.7"/><use href="#G" x="647.1" y="811.3"/><use href="#W" x="650.1" y="812.5"/><use href="#W" x="639.6" y="805.9"/><use href="#W" x="645.6" y="811.9"/><use href="#W" x="639.9" y="803.6"/><use href="#W" x="651.4" y="801.6"/><use href="#W" x="652.7" y="799.6"/><use href="#W" x="642.3" y="793"/><use href="#W" x="643.1" y="791.5"/><use href="#W" x="655.5" y="788.6"/><use href="#W" x="649.1" y="791.3"/><use href="#G" x="634.6" y="857.6"/><use href="#G" x="640.5" y="851.6"/><use href="#G" x="639" y="830.7"/><use href="#G" x="644.9" y="824.7"/><use href="#G" x="643.8" y="803.9"/><use href="#G" x="649.3" y="797.9"/><use href="#G" x="646.6" y="790.5"/><use href="#W" x="392.4" y="789.7"/><use href="#W" x="403.4" y="785.1"/><use href="#G" x="399.7" y="781.7"/><use href="#W" x="403.7" y="781.5"/><use href="#W" x="390.8" y="778.9"/><use href="#W" x="396.7" y="782.5"/><use href="#W" x="390.8" y="776.5"/><use href="#W" x="402.6" y="771.1"/><use href="#W" x="396" y="775.8"/><use href="#W" x="403.4" y="769.9"/><use href="#W" x="391.9" y="765.8"/><use href="#W" x="399.7" y="768.9"/><use href="#G" x="393.9" y="761.6"/><use href="#W" x="389.4" y="763.5"/><use href="#W" x="402.3" y="757"/><use href="#W" x="396.4" y="762.2"/><use href="#G" x="398.6" y="754.6"/><use href="#W" x="402.3" y="755.5"/><use href="#W" x="390.8" y="751.6"/><use href="#G" x="393.4" y="748"/><use href="#W" x="389.3" y="749.3"/><use href="#W" x="401.1" y="743.9"/><use href="#W" x="400.2" y="742.1"/><use href="#W" x="389.4" y="737.4"/><use href="#G" x="392.9" y="734.4"/><use href="#W" x="390.1" y="736.6"/><use href="#W" x="401.5" y="731.5"/><use href="#W" x="400.7" y="728.9"/><use href="#W" x="389.1" y="725"/><use href="#W" x="396.6" y="728.1"/><use href="#G" x="396" y="788.7"/><use href="#G" x="394.9" y="775.2"/><use href="#G" x="398.9" y="768.1"/><use href="#G" x="397.1" y="741"/><use href="#G" x="396.4" y="727.4"/><use href="#W" x="235.2" y="788.8"/><use href="#W" x="247" y="785.8"/><use href="#G" x="244.9" y="782.4"/><use href="#W" x="247.7" y="783.8"/><use href="#W" x="237.5" y="777.2"/><use href="#W" x="237" y="775.1"/><use href="#W" x="248.1" y="772.8"/><use href="#W" x="251.1" y="769.3"/><use href="#W" x="238" y="765.6"/><use href="#W" x="238" y="763"/><use href="#W" x="251.5" y="758.3"/><use href="#G" x="239.2" y="788.6"/><use href="#G" x="240.6" y="775.1"/><use href="#G" x="246.3" y="768.9"/><use href="#G" x="242.6" y="761.6"/><use href="#G" x="557.7" y="806.5"/><use href="#W" x="554.9" y="808.1"/><use href="#W" x="563" y="801.4"/><use href="#G" x="560.1" y="798.6"/><use href="#W" x="563.9" y="798.1"/><use href="#W" x="551.4" y="798.3"/><use href="#G" x="553.6" y="793.8"/><use href="#W" x="550.7" y="795.3"/><use href="#W" x="558.9" y="788.6"/><use href="#G" x="555.9" y="785.9"/><use href="#W" x="558.5" y="785.2"/><use href="#W" x="547" y="784.5"/><use href="#G" x="549.5" y="781"/><use href="#W" x="546.6" y="783.4"/><use href="#W" x="555.8" y="775.8"/><use href="#W" x="550.1" y="781.5"/><use href="#G" x="551.9" y="773.1"/><use href="#W" x="554.9" y="773.4"/><use href="#W" x="544.1" y="772"/><use href="#W" x="551.7" y="774.3"/><use href="#G" x="544.9" y="768.3"/><use href="#W" x="541.7" y="770.4"/><use href="#W" x="550.8" y="762.7"/><use href="#G" x="546" y="760.4"/><use href="#W" x="548.8" y="759.2"/><use href="#W" x="536.7" y="759.1"/><use href="#G" x="539.1" y="755.5"/><use href="#W" x="534.8" y="757.8"/><use href="#W" x="545.1" y="749"/><use href="#G" x="606.4" y="849.7"/><use href="#W" x="603" y="851.1"/><use href="#W" x="613.2" y="845.3"/><use href="#W" x="606.6" y="850.2"/><use href="#G" x="609.1" y="842.2"/><use href="#W" x="612.9" y="841.5"/><use href="#W" x="599.8" y="840.3"/><use href="#W" x="598.9" y="837.7"/><use href="#W" x="610.2" y="830.7"/><use href="#W" x="609.4" y="828.2"/><use href="#W" x="597.3" y="826.2"/><use href="#W" x="603.4" y="829.7"/><use href="#W" x="596.5" y="823.9"/><use href="#W" x="606.8" y="818"/><use href="#W" x="606.9" y="816.1"/><use href="#W" x="595.7" y="813.1"/><use href="#W" x="603.2" y="816.3"/><use href="#W" x="594.9" y="810.5"/><use href="#W" x="604.9" y="804.9"/><use href="#W" x="597.8" y="810.1"/><use href="#W" x="605.9" y="802.1"/><use href="#W" x="592.9" y="800.9"/><use href="#W" x="599.7" y="803"/><use href="#W" x="592.7" y="798.7"/><use href="#W" x="603.6" y="792.1"/><use href="#W" x="602.4" y="789.6"/><use href="#W" x="591.8" y="786"/><use href="#G" x="593.9" y="782.8"/><use href="#W" x="589.6" y="783.9"/><use href="#W" x="600.3" y="777.5"/><use href="#G" x="603.4" y="836.3"/><use href="#G" x="606.4" y="828.8"/><use href="#G" x="600.4" y="822.9"/><use href="#G" x="603.6" y="815.4"/><use href="#G" x="598.5" y="809.5"/><use href="#G" x="601.4" y="802.1"/><use href="#G" x="595.7" y="796.2"/><use href="#G" x="599.5" y="788.7"/><use href="#G" x="445.1" y="851"/><use href="#W" x="441.8" y="849.5"/><use href="#W" x="452.9" y="851.7"/><use href="#W" x="445.3" y="852.3"/><use href="#G" x="452.8" y="847.1"/><use href="#W" x="457" y="849.6"/><use href="#W" x="447.3" y="841.2"/><use href="#W" x="449.8" y="837.3"/><use href="#W" x="459.8" y="840.5"/><use href="#W" x="463.3" y="837.3"/><use href="#W" x="453.6" y="828.9"/><use href="#W" x="458.1" y="835.5"/><use href="#W" x="454.1" y="827.1"/><use href="#W" x="467.4" y="827.1"/><use href="#W" x="467.9" y="825.3"/><use href="#W" x="458.9" y="816.3"/><use href="#W" x="461.5" y="814.1"/><use href="#W" x="472.2" y="816.6"/><use href="#W" x="465.2" y="816.3"/><use href="#G" x="471.3" y="811.1"/><use href="#W" x="474.7" y="814"/><use href="#W" x="466.2" y="804.5"/><use href="#G" x="470.1" y="803"/><use href="#W" x="466.6" y="803.1"/><use href="#W" x="479.5" y="803.5"/><use href="#W" x="480.5" y="801.8"/><use href="#W" x="472.2" y="792"/><use href="#W" x="474" y="790.9"/><use href="#W" x="486.5" y="791.8"/><use href="#G" x="452.3" y="839"/><use href="#G" x="459.4" y="835.1"/><use href="#G" x="458.1" y="827"/><use href="#G" x="464.7" y="823.1"/><use href="#G" x="463.9" y="815"/><use href="#G" x="477.6" y="799.1"/><use href="#G" x="477.3" y="791"/><use href="#W" x="459" y="779.3"/><use href="#W" x="470.8" y="781.8"/><use href="#W" x="472.5" y="779.5"/><use href="#W" x="465.1" y="769"/><use href="#G" x="470" y="768.5"/><use href="#W" x="466.6" y="766.7"/><use href="#W" x="477.7" y="770"/><use href="#W" x="470.5" y="770"/><use href="#W" x="480.5" y="768.6"/><use href="#W" x="473.6" y="757.5"/><use href="#W" x="477.9" y="765.9"/><use href="#W" x="474" y="755.2"/><use href="#W" x="485.2" y="758.4"/><use href="#G" x="485.5" y="754.4"/><use href="#W" x="489.4" y="757.6"/><use href="#W" x="481.1" y="747.9"/><use href="#W" x="482.7" y="744.9"/><use href="#W" x="494.4" y="747.6"/><use href="#W" x="497.9" y="747"/><use href="#W" x="490" y="737"/><use href="#G" x="494.5" y="735.2"/><use href="#W" x="491.7" y="735"/><use href="#W" x="503.8" y="737.3"/><use href="#W" x="498.1" y="736.8"/><use href="#G" x="461.6" y="779.5"/><use href="#G" x="469.7" y="776.5"/><use href="#G" x="478.1" y="765.5"/><use href="#G" x="477.9" y="757.4"/><use href="#G" x="486.3" y="746.3"/><use href="#G" x="493.8" y="743.3"/><use href="#W" x="322.5" y="805"/><use href="#W" x="331.9" y="795.8"/><use href="#W" x="330.8" y="795.1"/><use href="#W" x="319.8" y="794.9"/><use href="#W" x="327.7" y="795.9"/><use href="#G" x="320" y="790.3"/><use href="#W" x="316" y="793.8"/><use href="#W" x="326.6" y="783.4"/><use href="#W" x="324.5" y="780.8"/><use href="#W" x="312.5" y="781.5"/><use href="#W" x="311.7" y="781.3"/><use href="#W" x="322" y="771.3"/><use href="#W" x="321.1" y="769.5"/><use href="#W" x="308.7" y="770.6"/><use href="#W" x="315.8" y="771.2"/><use href="#G" x="310.2" y="765.6"/><use href="#W" x="307.6" y="769.1"/><use href="#W" x="316.8" y="760.2"/><use href="#W" x="314.1" y="758"/><use href="#W" x="303.1" y="757.7"/><use href="#W" x="300.7" y="756.1"/><use href="#W" x="310" y="747"/><use href="#G" x="305.8" y="745.2"/><use href="#W" x="309" y="744.9"/><use href="#W" x="297.5" y="745.1"/><use href="#W" x="294" y="742.6"/><use href="#W" x="303.4" y="733.5"/><use href="#G" x="326.5" y="802.7"/><use href="#G" x="327.3" y="794.7"/><use href="#G" x="321.9" y="782.3"/><use href="#G" x="315.5" y="778"/><use href="#G" x="317.1" y="769.9"/><use href="#G" x="310.7" y="757.6"/><use href="#G" x="304" y="753.2"/><use href="#G" x="298.5" y="740.8"/><use href="#G" x="476.4" y="768.9"/><use href="#W" x="472.1" y="767.3"/><use href="#W" x="484.1" y="768.7"/><use href="#G" x="482.9" y="765"/><use href="#W" x="485.4" y="768.8"/><use href="#W" x="478.6" y="757.5"/><use href="#G" x="481.7" y="756.9"/><use href="#W" x="479.1" y="755.5"/><use href="#W" x="489.6" y="758.4"/><use href="#G" x="488.7" y="753.1"/><use href="#W" x="491.5" y="756.6"/><use href="#W" x="484.1" y="745.9"/><use href="#W" x="489.8" y="753.5"/><use href="#G" x="488.7" y="745"/><use href="#W" x="484.5" y="743.3"/><use href="#W" x="496.3" y="744.9"/><use href="#W" x="488.6" y="746.4"/><use href="#W" x="433.6" y="823.6"/><use href="#W" x="446.6" y="819.4"/><use href="#G" x="443.9" y="816.5"/><use href="#W" x="447.7" y="818.2"/><use href="#W" x="436.7" y="812.3"/><use href="#W" x="437.2" y="809"/><use href="#W" x="448.2" y="806.9"/><use href="#G" x="446.7" y="803"/><use href="#W" x="449.5" y="803.7"/><use href="#W" x="438.6" y="797.8"/><use href="#W" x="438.6" y="796.6"/><use href="#W" x="450.9" y="793"/><use href="#W" x="452.5" y="791.7"/><use href="#W" x="441.3" y="786.1"/><use href="#G" x="443.9" y="782.3"/><use href="#W" x="439.8" y="782.7"/><use href="#W" x="451.9" y="779.4"/><use href="#W" x="444.8" y="783.1"/><use href="#W" x="454" y="777.4"/><use href="#W" x="442.2" y="772.3"/><use href="#W" x="442.9" y="768.4"/><use href="#W" x="453.6" y="766.4"/><use href="#G" x="451.5" y="762.5"/><use href="#W" x="456.1" y="763.3"/><use href="#W" x="443.5" y="759"/><use href="#G" x="448.2" y="755.2"/><use href="#W" x="444.8" y="756.4"/><use href="#W" x="456.9" y="753.1"/><use href="#W" x="450.4" y="756.1"/><use href="#G" x="438.3" y="822.8"/><use href="#G" x="440.9" y="809.3"/><use href="#G" x="442.6" y="795.8"/><use href="#G" x="447.8" y="789.5"/><use href="#G" x="449.6" y="776"/><use href="#G" x="446.4" y="768.8"/><use href="#W" x="420.4" y="838.9"/><use href="#W" x="433.5" y="834.5"/><use href="#W" x="434.5" y="833"/><use href="#W" x="422.5" y="828.3"/><use href="#W" x="422.7" y="826"/><use href="#W" x="435.2" y="822.1"/><use href="#W" x="434.4" y="818.7"/><use href="#W" x="422.7" y="813.7"/><use href="#W" x="424.9" y="812.4"/><use href="#W" x="436.8" y="809.1"/><use href="#W" x="430.6" y="811.8"/><use href="#W" x="437.9" y="805.1"/><use href="#W" x="424.8" y="801.5"/><use href="#G" x="429.8" y="797.5"/><use href="#W" x="426.7" y="798.6"/><use href="#W" x="438.5" y="795.4"/><use href="#W" x="432" y="798.3"/><use href="#W" x="439.7" y="792.1"/><use href="#W" x="427.4" y="787.7"/><use href="#W" x="427.3" y="784.7"/><use href="#W" x="440.2" y="780.3"/><use href="#W" x="441.5" y="779.6"/><use href="#W" x="430.2" y="774.2"/><use href="#W" x="428.3" y="771.4"/><use href="#W" x="441.3" y="767"/><use href="#G" x="425.1" y="838.1"/><use href="#G" x="430" y="831.7"/><use href="#G" x="426.2" y="824.5"/><use href="#G" x="431" y="818.2"/><use href="#G" x="428" y="811"/><use href="#G" x="433.2" y="804.7"/><use href="#G" x="435.2" y="791.1"/><use href="#G" x="432" y="783.9"/><use href="#G" x="437" y="777.6"/><use href="#G" x="432.8" y="770.4"/><use href="#W" x="217.2" y="845.1"/><use href="#W" x="229.7" y="838.2"/><use href="#G" x="225.7" y="835.7"/><use href="#W" x="230.4" y="835.3"/><use href="#W" x="216.6" y="834.1"/><use href="#W" x="222.6" y="836.5"/><use href="#G" x="220.7" y="829.4"/><use href="#W" x="216.7" y="831.3"/><use href="#W" x="228.6" y="825"/><use href="#W" x="228.5" y="822.3"/><use href="#W" x="216.3" y="819.5"/><use href="#G" x="220" y="815.8"/><use href="#W" x="215.3" y="816.8"/><use href="#W" x="227" y="810.7"/><use href="#W" x="228.5" y="808.6"/><use href="#W" x="215.6" y="806.5"/><use href="#G" x="219.5" y="802.3"/><use href="#W" x="215.3" y="803.7"/><use href="#W" x="226.9" y="797.7"/><use href="#G" x="223.6" y="795.1"/><use href="#W" x="227.2" y="796.5"/><use href="#W" x="216.4" y="792.4"/><use href="#W" x="215.6" y="790.2"/><use href="#W" x="226.6" y="784.8"/><use href="#W" x="220.1" y="789.4"/><use href="#W" x="227.2" y="781.9"/><use href="#W" x="215" y="779"/><use href="#W" x="221.8" y="782.4"/><use href="#W" x="214.3" y="777"/><use href="#W" x="225.8" y="771"/><use href="#W" x="219.6" y="775.9"/><use href="#G" x="221.4" y="842.9"/><use href="#G" x="224.8" y="822.1"/><use href="#G" x="224.3" y="808.6"/><use href="#G" x="219.2" y="788.8"/><use href="#G" x="223.4" y="781.6"/><use href="#G" x="218.1" y="775.3"/><use href="#W" x="206.7" y="807.9"/><use href="#W" x="218.5" y="806.4"/><use href="#W" x="221.4" y="804.9"/><use href="#W" x="210.6" y="798.3"/><use href="#G" x="214.6" y="795.4"/><use href="#W" x="210" y="795.8"/><use href="#W" x="223.2" y="792.9"/><use href="#W" x="216.3" y="796.4"/><use href="#W" x="224.5" y="790.6"/><use href="#W" x="212.8" y="784.9"/><use href="#W" x="218" y="790.3"/><use href="#G" x="217.8" y="782.2"/><use href="#W" x="214.1" y="781.9"/><use href="#W" x="225.8" y="780.5"/><use href="#G" x="211.1" y="808.7"/><use href="#G" x="217.4" y="803"/><use href="#G" x="220.7" y="789.8"/><use href="#W" x="587.6" y="791.4"/><use href="#W" x="598.3" y="782.8"/><use href="#W" x="592.8" y="789.2"/><use href="#G" x="593.9" y="780.9"/><use href="#W" x="597.1" y="780.5"/><use href="#W" x="585.2" y="779.7"/><use href="#W" x="583.4" y="777.2"/><use href="#W" x="592.7" y="770"/><use href="#W" x="586.1" y="776.3"/><use href="#W" x="593" y="768"/><use href="#W" x="580.5" y="767.8"/><use href="#G" x="581.9" y="762.9"/><use href="#W" x="577.8" y="764.6"/><use href="#W" x="587.8" y="756.8"/><use href="#W" x="586.6" y="754"/><use href="#W" x="574" y="753.9"/><use href="#W" x="573.7" y="752.3"/><use href="#W" x="584.2" y="744"/><use href="#G" x="591.5" y="788.8"/><use href="#G" x="587.1" y="775.8"/><use href="#G" x="588.8" y="768"/><use href="#G" x="583.4" y="755.1"/><use href="#G" x="577.6" y="750"/><use href="#W" x="477.9" y="796.8"/><use href="#W" x="489.7" y="794"/><use href="#W" x="482.3" y="797.5"/><use href="#W" x="490.8" y="792.2"/><use href="#W" x="480.3" y="785.8"/><use href="#W" x="480.3" y="783.2"/><use href="#W" x="491.1" y="781.4"/><use href="#W" x="483.7" y="784"/><use href="#W" x="492" y="778.8"/><use href="#W" x="481.8" y="772.2"/><use href="#G" x="485.2" y="769.7"/><use href="#W" x="482.3" y="769.7"/><use href="#W" x="492.9" y="768.1"/><use href="#W" x="485.4" y="770.5"/><use href="#W" x="494.7" y="764"/><use href="#W" x="482.3" y="759.5"/><use href="#W" x="483.3" y="755.9"/><use href="#W" x="493.9" y="754.3"/><use href="#W" x="486.2" y="757"/><use href="#W" x="496.2" y="752.1"/><use href="#W" x="485.3" y="746"/><use href="#W" x="485.2" y="744.1"/><use href="#W" x="498.2" y="740.1"/><use href="#G" x="481.9" y="796.7"/><use href="#G" x="487.3" y="790.5"/><use href="#G" x="483.4" y="783.2"/><use href="#G" x="488.7" y="777"/><use href="#G" x="490.5" y="763.5"/><use href="#G" x="486.5" y="756.2"/><use href="#G" x="492.1" y="750"/><use href="#G" x="489.1" y="742.7"/><use href="#W" x="296.8" y="759.1"/><use href="#W" x="307.3" y="755"/><use href="#W" x="308.9" y="751.4"/><use href="#W" x="296" y="748.8"/><use href="#W" x="295.7" y="745.7"/><use href="#W" x="307.3" y="740.5"/><use href="#G" x="304.3" y="737.7"/><use href="#W" x="308" y="739"/><use href="#W" x="296.9" y="734.6"/><use href="#G" x="299.1" y="731.1"/><use href="#W" x="295.4" y="731.4"/><use href="#W" x="305.9" y="727.4"/><use href="#W" x="307.6" y="724.4"/><use href="#W" x="294.6" y="721.9"/><use href="#W" x="294.7" y="718.9"/><use href="#W" x="305.4" y="714.6"/><use href="#W" x="304.8" y="712.1"/><use href="#W" x="294.2" y="707.2"/><use href="#G" x="300.1" y="758.3"/><use href="#G" x="304.6" y="751.3"/><use href="#G" x="299.9" y="744.7"/><use href="#G" x="303.1" y="724.1"/><use href="#G" x="297.6" y="717.5"/><use href="#G" x="301.3" y="710.5"/><use href="#G" x="503" y="756.3"/><use href="#W" x="500.3" y="757.1"/><use href="#W" x="511.5" y="755"/><use href="#W" x="504.8" y="757.2"/><use href="#W" x="511.1" y="752.3"/><use href="#W" x="501.1" y="745.3"/><use href="#G" x="504.9" y="742.9"/><use href="#W" x="500.9" y="743.1"/><use href="#W" x="512.9" y="740.3"/><use href="#G" x="509.7" y="736.7"/><use href="#W" x="513.4" y="737.4"/><use href="#W" x="501.7" y="732.2"/><use href="#W" x="507.4" y="737.3"/><use href="#W" x="503" y="729.8"/><use href="#W" x="514.9" y="727.1"/><use href="#W" x="515" y="724.5"/><use href="#W" x="504.5" y="718.1"/><use href="#G" x="507.8" y="750.2"/><use href="#G" x="506.8" y="729.4"/><use href="#G" x="512" y="723.2"/><use href="#G" x="413" y="846.6"/><use href="#W" x="408.4" y="846.3"/><use href="#W" x="421" y="844.3"/><use href="#G" x="419.1" y="841.1"/><use href="#W" x="423.7" y="842.8"/><use href="#W" x="412.1" y="836.8"/><use href="#G" x="416" y="833.4"/><use href="#W" x="412.4" y="833.5"/><use href="#W" x="424.4" y="832.1"/><use href="#G" x="422.5" y="827.9"/><use href="#W" x="427.1" y="830"/><use href="#W" x="415.9" y="823.6"/><use href="#G" x="419.6" y="820.2"/><use href="#W" x="415.6" y="821.3"/><use href="#W" x="428.9" y="818.5"/><use href="#G" x="426.2" y="814.7"/><use href="#W" x="429" y="816.2"/><use href="#W" x="419" y="808.6"/><use href="#G" x="424.1" y="807"/><use href="#W" x="419.4" y="806.5"/><use href="#W" x="431.9" y="804.7"/><use href="#W" x="424.2" y="808"/><use href="#G" x="429.5" y="801.5"/><use href="#W" x="433.3" y="802.9"/><use href="#W" x="422.3" y="796.4"/><use href="#W" x="427.9" y="802"/><use href="#G" x="427.2" y="793.8"/><use href="#W" x="422.8" y="794.9"/><use href="#W" x="436.5" y="791.7"/><use href="#G" x="433.6" y="788.3"/><use href="#W" x="438.2" y="791"/><use href="#W" x="427.7" y="784"/><use href="#G" x="430.7" y="780.6"/><use href="#W" x="426" y="779.9"/><use href="#W" x="438.3" y="778.2"/><use href="#W" x="430.4" y="781.6"/><use href="#W" x="341.9" y="819.4"/><use href="#W" x="352.7" y="812.8"/><use href="#W" x="347.1" y="817.6"/><use href="#W" x="352" y="810.3"/><use href="#W" x="339.9" y="808.2"/><use href="#W" x="338.2" y="805.1"/><use href="#W" x="348.6" y="798.8"/><use href="#G" x="345" y="796.2"/><use href="#W" x="349.6" y="795.4"/><use href="#W" x="335.7" y="795.2"/><use href="#W" x="335.9" y="791.1"/><use href="#W" x="345" y="786.1"/><use href="#W" x="346" y="782.1"/><use href="#W" x="332.5" y="781.5"/><use href="#W" x="338.6" y="783.7"/><use href="#W" x="331.2" y="777.9"/><use href="#W" x="341.7" y="771.6"/><use href="#W" x="343.9" y="769.2"/><use href="#W" x="330.4" y="768.6"/><use href="#G" x="333.1" y="763.6"/><use href="#W" x="329.9" y="765.3"/><use href="#W" x="340.1" y="759.3"/><use href="#W" x="338.7" y="755.7"/><use href="#W" x="326.7" y="753.6"/><use href="#G" x="329.4" y="750.3"/><use href="#W" x="325.6" y="751.5"/><use href="#W" x="335.9" y="745.3"/><use href="#G" x="345.1" y="817"/><use href="#G" x="347.7" y="809.5"/><use href="#G" x="342" y="803.7"/><use href="#G" x="339" y="790.3"/><use href="#G" x="341.7" y="782.8"/><use href="#G" x="335.5" y="777"/><use href="#G" x="339.2" y="769.5"/><use href="#G" x="335.7" y="756.1"/><use href="#G" x="207.5" y="807"/><use href="#W" x="203.4" y="809.4"/><use href="#W" x="215.1" y="801.6"/><use href="#W" x="213.9" y="799.9"/><use href="#W" x="202.7" y="797"/><use href="#W" x="201.9" y="794.9"/><use href="#W" x="212" y="788.8"/><use href="#W" x="211.2" y="786.5"/><use href="#W" x="199.8" y="783.9"/><use href="#G" x="202.6" y="780.3"/><use href="#W" x="199.6" y="782"/><use href="#W" x="209.4" y="776.1"/><use href="#W" x="203" y="780.9"/><use href="#G" x="205.9" y="772.8"/><use href="#W" x="210.4" y="773"/><use href="#W" x="197.6" y="771.8"/><use href="#W" x="204.6" y="773.7"/><use href="#G" x="210.8" y="799.4"/><use href="#G" x="205.6" y="793.7"/><use href="#G" x="208" y="786.1"/><use href="#G" x="479.5" y="798.2"/><use href="#W" x="475.2" y="799.2"/><use href="#W" x="488.8" y="796.4"/><use href="#G" x="485" y="792.8"/><use href="#W" x="489.3" y="794.4"/><use href="#W" x="478" y="788.1"/><use href="#W" x="483.6" y="793.3"/><use href="#G" x="482.4" y="785.1"/><use href="#W" x="478" y="785.9"/><use href="#W" x="491.6" y="783.1"/><use href="#W" x="485.4" y="786.1"/><use href="#G" x="488.1" y="779.7"/><use href="#W" x="490.9" y="781.7"/><use href="#W" x="481.4" y="773.5"/><use href="#G" x="485.2" y="772"/><use href="#W" x="482" y="772.9"/><use href="#W" x="494.5" y="771.2"/><use href="#W" x="488.3" y="773"/><use href="#G" x="490.9" y="766.6"/><use href="#W" x="494" y="768.4"/><use href="#W" x="484.1" y="760.6"/><use href="#G" x="488.2" y="758.9"/><use href="#W" x="484.7" y="759.7"/><use href="#W" x="497.5" y="757.7"/><use href="#G" x="493.7" y="753.4"/><use href="#W" x="497.4" y="755.5"/><use href="#W" x="487.2" y="748.1"/><use href="#G" x="490.9" y="745.7"/><use href="#W" x="487" y="745.4"/><use href="#W" x="499" y="744.2"/><use href="#G" x="497.6" y="740.3"/><use href="#W" x="501.2" y="742"/><use href="#W" x="490.7" y="734.9"/><use href="#W" x="496.4" y="740.8"/><use href="#G" x="242.7" y="838"/><use href="#W" x="238.7" y="839"/><use href="#W" x="251.6" y="835.7"/><use href="#G" x="248" y="832"/><use href="#W" x="252.4" y="833.7"/><use href="#W" x="240.9" y="828"/><use href="#W" x="247.3" y="832.6"/><use href="#G" x="244.3" y="824.6"/><use href="#W" x="240.6" y="825.3"/><use href="#W" x="252.9" y="822.5"/><use href="#G" x="250" y="818.6"/><use href="#W" x="254.2" y="819.4"/><use href="#W" x="242" y="814.4"/><use href="#G" x="247.1" y="811.2"/><use href="#W" x="243.9" y="810.8"/><use href="#W" x="254.6" y="809.8"/><use href="#G" x="252.3" y="805.2"/><use href="#W" x="257" y="807"/><use href="#W" x="245.3" y="801.4"/><use href="#G" x="249.5" y="797.8"/><use href="#W" x="245.9" y="797.8"/><use href="#W" x="257.4" y="795.8"/><use href="#G" x="254.7" y="791.8"/><use href="#W" x="257.7" y="794.4"/><use href="#W" x="248.6" y="786.3"/><use href="#G" x="251.8" y="784.4"/><use href="#W" x="247.3" y="785.6"/><use href="#W" x="260.9" y="781.6"/><use href="#G" x="257.4" y="778.4"/><use href="#W" x="260.6" y="780.9"/><use href="#W" x="251.1" y="773.2"/><use href="#W" x="258.3" y="779"/><use href="#G" x="254.1" y="771"/><use href="#W" x="250.2" y="772.2"/><use href="#W" x="263.3" y="768.8"/><use href="#G" x="257.2" y="822.6"/><use href="#W" x="253.3" y="821.6"/><use href="#W" x="265.1" y="822.1"/><use href="#G" x="263.3" y="818"/><use href="#W" x="267.3" y="820.5"/><use href="#W" x="257.5" y="812.4"/><use href="#G" x="261.5" y="810"/><use href="#W" x="257.2" y="809.8"/><use href="#W" x="270.1" y="809.1"/><use href="#G" x="267.5" y="805.4"/><use href="#W" x="271.2" y="807.1"/><use href="#W" x="260.9" y="799.4"/><use href="#G" x="266.5" y="797.5"/><use href="#W" x="262.5" y="797.3"/><use href="#W" x="275.4" y="796.7"/><use href="#G" x="272.7" y="792.8"/><use href="#W" x="276.4" y="796.2"/><use href="#W" x="267.7" y="787"/><use href="#G" x="271.8" y="784.9"/><use href="#W" x="268.5" y="785"/><use href="#W" x="280.9" y="784.9"/><use href="#W" x="274.4" y="786.1"/><use href="#G" x="277.8" y="780.2"/><use href="#W" x="280.6" y="783.2"/><use href="#W" x="272.4" y="773.4"/><use href="#G" x="275.9" y="772.3"/><use href="#W" x="272.3" y="772.6"/><use href="#W" x="285.1" y="772"/><use href="#G" x="282.4" y="767.6"/><use href="#W" x="286.8" y="770.6"/><use href="#W" x="277" y="762.4"/><use href="#W" x="283.2" y="768.1"/><use href="#G" x="281" y="759.7"/><use href="#W" x="277.6" y="759.4"/><use href="#W" x="289.7" y="759.5"/><use href="#G" x="354.3" y="845"/><use href="#W" x="350.4" y="845.8"/><use href="#W" x="361.2" y="840.7"/><use href="#W" x="362" y="837.5"/><use href="#W" x="349.4" y="835"/><use href="#G" x="353.2" y="831.5"/><use href="#W" x="349.1" y="832.5"/><use href="#W" x="360.4" y="827"/><use href="#W" x="353.5" y="832.1"/><use href="#G" x="356.7" y="824.3"/><use href="#W" x="360.6" y="824.5"/><use href="#W" x="348.3" y="821.8"/><use href="#W" x="348.1" y="818.9"/><use href="#W" x="358.6" y="814.2"/><use href="#G" x="354.7" y="810.8"/><use href="#W" x="358.6" y="811.4"/><use href="#W" x="346.6" y="808.2"/><use href="#W" x="353.6" y="811.6"/><use href="#G" x="349.9" y="804.4"/><use href="#W" x="346.2" y="806.5"/><use href="#W" x="358.1" y="800.4"/><use href="#W" x="357" y="798.5"/><use href="#W" x="346.3" y="794.1"/><use href="#G" x="348.4" y="790.9"/><use href="#W" x="345.4" y="791.5"/><use href="#W" x="355.2" y="787.5"/><use href="#W" x="356.6" y="785"/><use href="#W" x="345.2" y="781.3"/><use href="#W" x="343.6" y="779.5"/><use href="#W" x="356.1" y="772.8"/><use href="#G" x="358.4" y="837.8"/><use href="#G" x="351.5" y="818"/><use href="#G" x="353.7" y="797.2"/><use href="#G" x="352.6" y="783.7"/><use href="#G" x="347.8" y="777.3"/><use href="#G" x="609.7" y="761.7"/><use href="#W" x="606.9" y="763"/><use href="#W" x="616.2" y="757.7"/><use href="#W" x="617.7" y="754.6"/><use href="#W" x="605.1" y="753.1"/><use href="#W" x="604.8" y="749.8"/><use href="#W" x="614.8" y="743.8"/><use href="#W" x="614.9" y="740.4"/><use href="#W" x="602.7" y="738.5"/><use href="#W" x="603.8" y="737.1"/><use href="#W" x="613.9" y="731.1"/><use href="#W" x="613.3" y="728.5"/><use href="#W" x="602" y="725.7"/><use href="#G" x="613.3" y="754.2"/><use href="#G" x="608.2" y="748.4"/><use href="#G" x="611.8" y="740.9"/><use href="#G" x="606.6" y="735.1"/><use href="#G" x="609.6" y="727.5"/><use href="#W" x="558.2" y="823.7"/><use href="#W" x="570.5" y="815.7"/><use href="#G" x="565.4" y="813.9"/><use href="#W" x="568.9" y="814.5"/><use href="#W" x="557.4" y="811.8"/><use href="#G" x="559.6" y="808"/><use href="#W" x="556.6" y="810"/><use href="#W" x="566.9" y="803.9"/><use href="#W" x="566.5" y="800.8"/><use href="#W" x="553.7" y="799.3"/><use href="#W" x="553.2" y="796.4"/><use href="#W" x="564.1" y="789.8"/><use href="#W" x="564" y="786.8"/><use href="#W" x="550.7" y="785.9"/><use href="#W" x="557.1" y="788.1"/><use href="#W" x="550.5" y="783.4"/><use href="#W" x="561.8" y="776.4"/><use href="#W" x="560.5" y="773.6"/><use href="#W" x="549.1" y="770.9"/><use href="#G" x="551.6" y="767.9"/><use href="#W" x="548.7" y="769.3"/><use href="#W" x="558.3" y="763.9"/><use href="#W" x="551.6" y="768.5"/><use href="#W" x="558.8" y="759.8"/><use href="#W" x="545.6" y="758.8"/><use href="#W" x="545.1" y="756.3"/><use href="#W" x="556.6" y="749.1"/><use href="#G" x="562.8" y="821.4"/><use href="#G" x="562" y="800.5"/><use href="#G" x="557.1" y="794.6"/><use href="#G" x="559.6" y="787.1"/><use href="#G" x="554.3" y="781.3"/><use href="#G" x="557.8" y="773.8"/><use href="#G" x="554.8" y="760.4"/><use href="#G" x="549.5" y="754.6"/><use href="#G" x="551.6" y="782.1"/><use href="#W" x="548.6" y="785.6"/><use href="#W" x="557.9" y="776.1"/><use href="#W" x="556.4" y="774.3"/><use href="#W" x="544.4" y="775.4"/><use href="#W" x="542.8" y="772.9"/><use href="#W" x="551.2" y="764.3"/><use href="#W" x="549.7" y="761.7"/><use href="#W" x="537.6" y="762.9"/><use href="#W" x="535.3" y="760.4"/><use href="#W" x="544.6" y="750.9"/><use href="#W" x="543.6" y="749.7"/><use href="#W" x="531.6" y="750.8"/><use href="#G" x="552" y="774.1"/><use href="#G" x="545.3" y="769.9"/><use href="#G" x="545.6" y="761.8"/><use href="#G" x="539" y="757.7"/><use href="#G" x="539.4" y="749.6"/><use href="#G" x="353.7" y="772.5"/><use href="#W" x="350.8" y="774.5"/><use href="#W" x="362" y="769.5"/><use href="#W" x="361.6" y="766.2"/><use href="#W" x="349.1" y="763.3"/><use href="#G" x="352.4" y="758.9"/><use href="#W" x="348.1" y="760.7"/><use href="#W" x="360.5" y="754.5"/><use href="#W" x="360.3" y="752.2"/><use href="#W" x="347.9" y="749.2"/><use href="#W" x="346.9" y="746.5"/><use href="#W" x="358.8" y="740.9"/><use href="#W" x="352" y="746"/><use href="#W" x="358.3" y="739.2"/><use href="#W" x="346.8" y="735.3"/><use href="#W" x="353.9" y="739.1"/><use href="#G" x="349.5" y="731.8"/><use href="#W" x="345.6" y="732.2"/><use href="#W" x="356.2" y="727.8"/><use href="#W" x="348.7" y="732.4"/><use href="#G" x="353.8" y="724.7"/><use href="#W" x="357.9" y="726.1"/><use href="#W" x="346.4" y="722.2"/><use href="#W" x="344.6" y="720.2"/><use href="#W" x="357.3" y="713.7"/><use href="#G" x="357.1" y="765.4"/><use href="#G" x="356.3" y="751.9"/><use href="#G" x="351.3" y="745.4"/><use href="#G" x="354.5" y="738.3"/><use href="#G" x="349" y="718.2"/><use href="#G" x="316.3" y="783.6"/><use href="#W" x="312.9" y="783.8"/><use href="#W" x="324" y="781.5"/><use href="#W" x="325.1" y="778.2"/><use href="#W" x="313.1" y="773.5"/><use href="#G" x="317.9" y="770.1"/><use href="#W" x="313.5" y="770.2"/><use href="#W" x="325.4" y="767"/><use href="#W" x="326.9" y="764.6"/><use href="#W" x="314.9" y="759.8"/><use href="#G" x="319" y="756.6"/><use href="#W" x="314.8" y="757.4"/><use href="#W" x="327.4" y="753.6"/><use href="#G" x="324.2" y="750.3"/><use href="#W" x="328" y="752.4"/><use href="#W" x="317.6" y="746.1"/><use href="#W" x="324.8" y="750.9"/><use href="#W" x="315.7" y="744.6"/><use href="#W" x="329.1" y="739.9"/><use href="#W" x="328.1" y="737.8"/><use href="#W" x="317.1" y="732"/><use href="#G" x="321.4" y="729.5"/><use href="#W" x="317.1" y="729.9"/><use href="#W" x="329.3" y="726.5"/><use href="#G" x="326.7" y="723.2"/><use href="#W" x="330.6" y="723.9"/><use href="#W" x="318.5" y="719.1"/><use href="#G" x="321" y="777.3"/><use href="#G" x="322.9" y="763.8"/><use href="#G" x="320.1" y="743.1"/><use href="#G" x="324.8" y="736.8"/><use href="#G" x="575.6" y="815"/><use href="#W" x="571.4" y="816.7"/><use href="#W" x="582.2" y="809.4"/><use href="#G" x="578.1" y="807.4"/><use href="#W" x="581.7" y="807.9"/><use href="#W" x="570.2" y="805.7"/><use href="#G" x="572.7" y="801.8"/><use href="#W" x="569.2" y="804.4"/><use href="#W" x="580.2" y="796.9"/><use href="#G" x="575" y="794.1"/><use href="#W" x="579.6" y="794.2"/><use href="#W" x="566.6" y="793.5"/><use href="#W" x="573.7" y="795.1"/><use href="#G" x="568.9" y="788.5"/><use href="#W" x="566" y="789.7"/><use href="#W" x="575" y="784.2"/><use href="#W" x="568.1" y="789"/><use href="#G" x="571.7" y="780.9"/><use href="#W" x="575.8" y="781.4"/><use href="#W" x="563.7" y="779.8"/><use href="#W" x="571.2" y="781.9"/><use href="#G" x="566.1" y="775.3"/><use href="#W" x="563.3" y="776.8"/><use href="#W" x="572.6" y="771"/><use href="#G" x="568.4" y="767.7"/><use href="#W" x="571.8" y="767.5"/><use href="#W" x="559.8" y="765.8"/><use href="#G" x="562.7" y="762.1"/><use href="#W" x="558.3" y="764.7"/><use href="#W" x="570.2" y="756.3"/><use href="#W" x="564.8" y="762.6"/><use href="#G" x="565.8" y="754.4"/><use href="#W" x="569.6" y="755.1"/><use href="#W" x="558" y="753"/><use href="#G" x="560.5" y="748.8"/><use href="#W" x="557.8" y="750"/><use href="#W" x="566.6" y="744.7"/><use href="#G" x="291.3" y="851"/><use href="#W" x="286.9" y="850.8"/><use href="#W" x="299.7" y="849"/><use href="#G" x="297.1" y="845.7"/><use href="#W" x="300" y="847.8"/><use href="#W" x="290.7" y="839.4"/><use href="#G" x="294.9" y="837.9"/><use href="#W" x="290.6" y="838.6"/><use href="#W" x="304.1" y="836.2"/><use href="#G" x="301.2" y="832.6"/><use href="#W" x="304.1" y="835.3"/><use href="#W" x="295.2" y="826.4"/><use href="#G" x="299.4" y="824.9"/><use href="#W" x="295.4" y="824"/><use href="#W" x="307.1" y="823.4"/><use href="#G" x="305.8" y="819.6"/><use href="#W" x="308.9" y="822"/><use href="#W" x="299.6" y="813.6"/><use href="#G" x="303" y="811.8"/><use href="#W" x="300.2" y="811.9"/><use href="#W" x="311.7" y="811.5"/><use href="#G" x="308.7" y="806.5"/><use href="#W" x="311.4" y="809.2"/><use href="#W" x="302.8" y="800.1"/><use href="#G" x="307" y="798.8"/><use href="#W" x="303" y="799.6"/><use href="#W" x="316.3" y="797.3"/><use href="#W" x="310.2" y="799.8"/><use href="#G" x="313" y="793.5"/><use href="#W" x="317.2" y="795.9"/><use href="#W" x="306.9" y="788.5"/><use href="#W" x="313.2" y="794"/><use href="#G" x="310.8" y="785.7"/><use href="#W" x="307.4" y="784.9"/><use href="#W" x="318.5" y="785"/><use href="#W" x="245.3" y="796.5"/><use href="#W" x="257.5" y="796"/><use href="#W" x="249.8" y="798.5"/><use href="#G" x="256.5" y="792.3"/><use href="#W" x="261" y="795"/><use href="#W" x="250.6" y="787.5"/><use href="#W" x="256.9" y="792.8"/><use href="#W" x="250.2" y="783.6"/><use href="#W" x="262.3" y="782.9"/><use href="#G" x="261" y="779.4"/><use href="#W" x="263.7" y="781.7"/><use href="#W" x="254.7" y="772.8"/><use href="#W" x="257" y="772.3"/><use href="#W" x="269" y="771.8"/><use href="#G" x="266.5" y="766.6"/><use href="#W" x="270.9" y="767.8"/><use href="#W" x="259.2" y="761.7"/><use href="#W" x="260.7" y="758.5"/><use href="#W" x="273.5" y="757.2"/><use href="#G" x="272" y="753.7"/><use href="#W" x="275" y="755.9"/><use href="#W" x="265.7" y="747.3"/><use href="#G" x="269.4" y="745.8"/><use href="#W" x="266.5" y="744.9"/><use href="#W" x="277.2" y="745.8"/><use href="#G" x="249.6" y="797.4"/><use href="#G" x="254.6" y="784.5"/><use href="#G" x="259.6" y="771.6"/><use href="#G" x="265" y="758.7"/><use href="#G" x="490.9" y="822.7"/><use href="#W" x="487.9" y="823.5"/><use href="#W" x="499.6" y="821.4"/><use href="#G" x="496.2" y="816.8"/><use href="#W" x="499.1" y="818.9"/><use href="#W" x="489.6" y="811.3"/><use href="#G" x="492.7" y="809.3"/><use href="#W" x="489.5" y="809.7"/><use href="#W" x="501" y="807.8"/><use href="#G" x="498.5" y="803.3"/><use href="#W" x="501.6" y="805.4"/><use href="#W" x="491.8" y="798.1"/><use href="#W" x="498.6" y="803.9"/><use href="#G" x="494.7" y="795.9"/><use href="#W" x="490.6" y="796.6"/><use href="#W" x="503.3" y="793.4"/><use href="#G" x="500.4" y="789.9"/><use href="#W" x="503.5" y="792.1"/><use href="#W" x="493.9" y="784.6"/><use href="#G" x="497.3" y="782.5"/><use href="#W" x="493.2" y="782.5"/><use href="#W" x="505.2" y="780.1"/><use href="#G" x="502.2" y="776.5"/><use href="#W" x="506.9" y="777.8"/><use href="#W" x="494.7" y="772.9"/><use href="#G" x="499.4" y="769.1"/><use href="#W" x="495.4" y="768.7"/><use href="#W" x="506.8" y="766.8"/><use href="#G" x="504.6" y="763.1"/><use href="#W" x="508" y="764.4"/><use href="#W" x="497.2" y="758.2"/><use href="#G" x="500.7" y="755.7"/><use href="#W" x="496" y="756.9"/><use href="#W" x="509.8" y="752.7"/><use href="#W" x="376.3" y="852.3"/><use href="#W" x="387" y="845.1"/><use href="#W" x="387.2" y="842.8"/><use href="#W" x="375.1" y="841.2"/><use href="#G" x="377.2" y="836.6"/><use href="#W" x="373.7" y="837.9"/><use href="#W" x="383.5" y="831.7"/><use href="#G" x="380.5" y="829"/><use href="#W" x="385" y="829.4"/><use href="#W" x="372.4" y="828.3"/><use href="#W" x="370.5" y="825.7"/><use href="#W" x="382.1" y="817.6"/><use href="#G" x="377.3" y="815.7"/><use href="#W" x="381.9" y="816.5"/><use href="#W" x="369.5" y="815.2"/><use href="#G" x="371" y="810.2"/><use href="#W" x="368.1" y="812.8"/><use href="#W" x="378.5" y="805.8"/><use href="#G" x="374.1" y="802.5"/><use href="#W" x="378.4" y="802.6"/><use href="#W" x="365.7" y="801.6"/><use href="#W" x="365.5" y="798.2"/><use href="#W" x="374.8" y="792.4"/><use href="#W" x="374.8" y="789.9"/><use href="#W" x="363.7" y="787.4"/><use href="#W" x="362.7" y="786.3"/><use href="#W" x="373.1" y="779.4"/><use href="#G" x="379.7" y="849.8"/><use href="#G" x="383" y="842.2"/><use href="#G" x="374.9" y="823.4"/><use href="#G" x="368.6" y="796.9"/><use href="#G" x="371.5" y="789.3"/><use href="#G" x="365.6" y="783.7"/><use href="#G" x="326.3" y="842.1"/><use href="#W" x="323.4" y="845.3"/><use href="#W" x="332.1" y="836"/><use href="#G" x="327.8" y="834.1"/><use href="#W" x="330.8" y="833.5"/><use href="#W" x="319.4" y="834.3"/><use href="#G" x="320.3" y="830"/><use href="#W" x="317.3" y="832.6"/><use href="#W" x="325.5" y="823.8"/><use href="#W" x="320.2" y="830.4"/><use href="#G" x="320.9" y="822"/><use href="#W" x="325.2" y="821"/><use href="#W" x="312.2" y="823.5"/><use href="#G" x="314.2" y="817.9"/><use href="#W" x="310.4" y="820"/><use href="#W" x="318.9" y="810.9"/><use href="#G" x="314.3" y="809.9"/><use href="#W" x="317.4" y="810"/><use href="#W" x="306.6" y="810.2"/><use href="#G" x="307.5" y="805.8"/><use href="#W" x="304.2" y="808.8"/><use href="#W" x="313.1" y="799.3"/><use href="#W" x="308.1" y="806.2"/><use href="#G" x="308.7" y="797.8"/><use href="#W" x="311.6" y="797.5"/><use href="#W" x="300.7" y="797.8"/><use href="#G" x="301.1" y="793.7"/><use href="#W" x="298.4" y="795.6"/><use href="#W" x="305.6" y="787.7"/><use href="#W" x="299.5" y="794.1"/><use href="#G" x="302.1" y="785.7"/><use href="#W" x="306.1" y="785.2"/><use href="#W" x="293.9" y="786.8"/><use href="#W" x="301.1" y="787"/><use href="#G" x="295.6" y="781.6"/><use href="#W" x="291.6" y="784.3"/><use href="#W" x="300.9" y="774.5"/><use href="#G" x="317.4" y="768.3"/><use href="#W" x="314" y="770.2"/><use href="#W" x="325.8" y="765"/><use href="#W" x="325.3" y="762.1"/><use href="#W" x="313.8" y="757.9"/><use href="#W" x="320.7" y="762"/><use href="#W" x="313.2" y="754.8"/><use href="#W" x="324.2" y="750.4"/><use href="#W" x="325.1" y="748.1"/><use href="#W" x="312.7" y="744.8"/><use href="#W" x="312.6" y="741.9"/><use href="#W" x="324.4" y="736.7"/><use href="#W" x="324.2" y="735.4"/><use href="#W" x="313.8" y="730.1"/><use href="#W" x="312.5" y="728.5"/><use href="#W" x="324.1" y="723.5"/><use href="#G" x="320.7" y="720.5"/><use href="#W" x="324.1" y="721.5"/><use href="#W" x="312.9" y="717"/><use href="#G" x="321.8" y="761.3"/><use href="#G" x="317.5" y="754.7"/><use href="#G" x="321.1" y="747.7"/><use href="#G" x="317" y="741.1"/><use href="#G" x="321.3" y="734.1"/><use href="#G" x="316.6" y="727.5"/><use href="#G" x="279.3" y="840.1"/><use href="#W" x="276.4" y="839.1"/><use href="#W" x="287.5" y="840.9"/><use href="#G" x="286" y="835.8"/><use href="#W" x="288.6" y="838"/><use href="#W" x="280" y="828.5"/><use href="#W" x="282.2" y="827.4"/><use href="#W" x="293.9" y="828.4"/><use href="#G" x="292.6" y="823.5"/><use href="#W" x="296.9" y="826.9"/><use href="#W" x="287.7" y="818"/><use href="#G" x="291.3" y="815.5"/><use href="#W" x="288.2" y="815.3"/><use href="#W" x="300.2" y="816.1"/><use href="#W" x="301.5" y="813.9"/><use href="#W" x="292.4" y="804.8"/><use href="#W" x="293.7" y="803"/><use href="#W" x="305.8" y="803.7"/><use href="#G" x="304.3" y="798.9"/><use href="#W" x="308.5" y="801.1"/><use href="#W" x="298.2" y="793.3"/><use href="#G" x="302.6" y="790.9"/><use href="#W" x="298.4" y="791.1"/><use href="#W" x="311.9" y="790.4"/><use href="#G" x="309.6" y="786.6"/><use href="#W" x="313" y="789.5"/><use href="#W" x="304.2" y="780.2"/><use href="#G" x="308.1" y="778.6"/><use href="#W" x="305.4" y="777"/><use href="#W" x="315.6" y="779.6"/><use href="#G" x="285.2" y="827.8"/><use href="#G" x="298" y="811.2"/><use href="#G" x="296.8" y="803.2"/><use href="#G" x="310.1" y="828"/><use href="#W" x="307.1" y="829"/><use href="#W" x="316.2" y="823.7"/><use href="#G" x="312.3" y="820.4"/><use href="#W" x="315.8" y="821.1"/><use href="#W" x="304.5" y="818.5"/><use href="#G" x="306.1" y="814.7"/><use href="#W" x="301.6" y="816.7"/><use href="#W" x="313.1" y="808.9"/><use href="#G" x="309" y="807.1"/><use href="#W" x="312.3" y="806.8"/><use href="#W" x="300.1" y="805.1"/><use href="#G" x="303.3" y="801.4"/><use href="#W" x="299.7" y="803.3"/><use href="#W" x="310.2" y="796.6"/><use href="#G" x="306.4" y="793.9"/><use href="#W" x="309.8" y="793.8"/><use href="#W" x="297.8" y="791.9"/><use href="#G" x="300.6" y="788.2"/><use href="#W" x="297.2" y="789.8"/><use href="#W" x="307.3" y="783.5"/><use href="#G" x="303.4" y="780.6"/><use href="#W" x="308.1" y="780.1"/><use href="#W" x="294.4" y="779.9"/><use href="#G" x="298" y="774.9"/><use href="#W" x="294.9" y="775.7"/><use href="#W" x="303.9" y="770.5"/><use href="#G" x="301.1" y="767.3"/><use href="#W" x="303.9" y="768.1"/><use href="#W" x="293.4" y="764.7"/><use href="#G" x="295.9" y="761.6"/><use href="#W" x="293.1" y="763.5"/><use href="#W" x="302.8" y="757.5"/><use href="#W" x="361.7" y="830"/><use href="#W" x="371.3" y="821.9"/><use href="#W" x="371.6" y="820.5"/><use href="#W" x="358.7" y="821.1"/><use href="#G" x="360.4" y="815.8"/><use href="#W" x="356.4" y="819"/><use href="#W" x="367.4" y="809.4"/><use href="#W" x="366.6" y="806.8"/><use href="#W" x="353.5" y="807.7"/><use href="#W" x="359.8" y="809"/><use href="#W" x="353.4" y="805.8"/><use href="#W" x="362.9" y="797.7"/><use href="#W" x="360.6" y="795.1"/><use href="#W" x="349.2" y="794.2"/><use href="#W" x="356.5" y="796.3"/><use href="#W" x="347.6" y="791.7"/><use href="#W" x="355.9" y="784.8"/><use href="#W" x="354.7" y="782.4"/><use href="#W" x="343.8" y="781.2"/><use href="#W" x="341.7" y="779.5"/><use href="#W" x="351.5" y="771.1"/><use href="#G" x="348" y="769.6"/><use href="#W" x="351.5" y="768.6"/><use href="#W" x="338.7" y="769.1"/><use href="#W" x="338.9" y="767.1"/><use href="#W" x="348.1" y="759.3"/><use href="#G" x="366" y="828.5"/><use href="#G" x="367" y="820.6"/><use href="#G" x="362.7" y="807.9"/><use href="#G" x="356.4" y="803"/><use href="#G" x="357.5" y="795.1"/><use href="#G" x="350.8" y="790.3"/><use href="#G" x="351.9" y="782.4"/><use href="#G" x="345.8" y="777.6"/><use href="#G" x="342" y="764.8"/><use href="#G" x="592.1" y="833.1"/><use href="#W" x="588.5" y="835.9"/><use href="#W" x="598" y="826.7"/><use href="#W" x="592.8" y="833.6"/><use href="#G" x="593.9" y="825.1"/><use href="#W" x="597" y="825"/><use href="#W" x="585.7" y="824.9"/><use href="#W" x="593.1" y="826.4"/><use href="#G" x="587.4" y="820.7"/><use href="#W" x="583.5" y="822.7"/><use href="#W" x="592.5" y="814"/><use href="#G" x="589.3" y="812.7"/><use href="#W" x="593" y="811.2"/><use href="#W" x="579.8" y="813"/><use href="#W" x="585.8" y="814"/><use href="#G" x="582.9" y="808.3"/><use href="#W" x="579.4" y="810.6"/><use href="#W" x="588.5" y="802"/><use href="#G" x="584.8" y="800.3"/><use href="#W" x="589.2" y="798.8"/><use href="#W" x="575.4" y="801.3"/><use href="#G" x="578.6" y="795.9"/><use href="#W" x="575.6" y="797.9"/><use href="#W" x="583.8" y="790.1"/><use href="#G" x="580.4" y="787.9"/><use href="#W" x="584.8" y="787.9"/><use href="#W" x="572.5" y="788.9"/><use href="#W" x="580" y="789.1"/><use href="#G" x="573" y="783.5"/><use href="#W" x="570.3" y="785.8"/><use href="#W" x="578.6" y="778"/><use href="#G" x="574.6" y="775.5"/><use href="#W" x="578.3" y="774.6"/><use href="#W" x="565.7" y="775.7"/><use href="#G" x="567.7" y="771.1"/><use href="#W" x="565.1" y="772.9"/><use href="#W" x="572.7" y="765.7"/><use href="#W" x="221.1" y="797.3"/><use href="#W" x="231.9" y="792.7"/><use href="#W" x="231.7" y="789.5"/><use href="#W" x="219.5" y="786.2"/><use href="#G" x="222.4" y="782.1"/><use href="#W" x="217.9" y="782.4"/><use href="#W" x="229.1" y="777.5"/><use href="#G" x="225.9" y="775"/><use href="#W" x="229.6" y="776.1"/><use href="#W" x="218.2" y="772"/><use href="#W" x="225.4" y="775.8"/><use href="#W" x="217" y="770.7"/><use href="#W" x="229.5" y="764.5"/><use href="#G" x="223.9" y="795.7"/><use href="#G" x="227.4" y="788.6"/><use href="#G" x="221" y="768.5"/><use href="#W" x="389.1" y="773.2"/><use href="#W" x="399.7" y="764.9"/><use href="#G" x="396.1" y="763.5"/><use href="#W" x="398.9" y="763.2"/><use href="#W" x="387.4" y="761.8"/><use href="#G" x="390.4" y="758.4"/><use href="#W" x="385.9" y="760.7"/><use href="#W" x="397" y="751.9"/><use href="#W" x="391.3" y="758.9"/><use href="#W" x="396.1" y="751"/><use href="#W" x="385" y="749.3"/><use href="#W" x="383.4" y="748.4"/><use href="#W" x="394.2" y="739.9"/><use href="#W" x="389" y="745.9"/><use href="#G" x="388.9" y="737.6"/><use href="#W" x="392.8" y="737.2"/><use href="#W" x="380.2" y="737"/><use href="#W" x="387.1" y="738.7"/><use href="#W" x="379.1" y="734.5"/><use href="#W" x="388.4" y="727.5"/><use href="#G" x="393.6" y="771.3"/><use href="#G" x="392.9" y="750.6"/><use href="#G" x="387" y="745.4"/><use href="#G" x="382.1" y="732.5"/><use href="#W" x="552" y="782.5"/><use href="#W" x="559.5" y="772.8"/><use href="#W" x="560" y="771.7"/><use href="#W" x="548.1" y="774.4"/><use href="#W" x="544.5" y="772.2"/><use href="#W" x="553.1" y="761.4"/><use href="#W" x="548.7" y="769.3"/><use href="#W" x="551.7" y="760.6"/><use href="#W" x="541.4" y="761.8"/><use href="#W" x="538.3" y="759.9"/><use href="#W" x="545.1" y="750.8"/><use href="#G" x="555.6" y="780.3"/><use href="#G" x="555.9" y="772.2"/><use href="#G" x="548.1" y="768.9"/><use href="#G" x="548.8" y="760.8"/><use href="#G" x="541" y="757.4"/><use href="#G" x="425.2" y="765"/><use href="#W" x="421.8" y="766.4"/><use href="#W" x="434" y="762.8"/><use href="#W" x="427.8" y="765.8"/><use href="#G" x="430.5" y="758.7"/><use href="#W" x="433.3" y="760.8"/><use href="#W" x="423.9" y="753.5"/><use href="#G" x="427" y="751.5"/><use href="#W" x="423.6" y="751.5"/><use href="#W" x="434.6" y="749.1"/><use href="#G" x="432.3" y="745.1"/><use href="#W" x="437" y="747.4"/><use href="#W" x="425.8" y="742"/><use href="#W" x="433.3" y="745.7"/><use href="#G" x="428.4" y="737.9"/><use href="#W" x="423.7" y="739.1"/><use href="#W" x="437" y="734.3"/><use href="#W" x="430.6" y="738.7"/><use href="#G" x="433.4" y="731.6"/><use href="#W" x="436.4" y="733.1"/><use href="#W" x="426.2" y="726.6"/><use href="#W" x="433" y="732.2"/><use href="#G" x="429.2" y="724.4"/><use href="#W" x="425.1" y="724.3"/><use href="#W" x="436.5" y="721.5"/><use href="#G" x="433.8" y="718"/><use href="#W" x="438.3" y="718.5"/><use href="#W" x="425.5" y="714.6"/><use href="#W" x="431.2" y="718.7"/><use href="#W" x="297" y="831.5"/><use href="#W" x="309.5" y="830.9"/><use href="#W" x="310.3" y="829.1"/><use href="#W" x="301.8" y="819.7"/><use href="#W" x="303.6" y="818.1"/><use href="#W" x="314.8" y="818.8"/><use href="#G" x="313" y="813.8"/><use href="#W" x="316.4" y="815.8"/><use href="#W" x="306.6" y="807.7"/><use href="#W" x="312" y="814.2"/><use href="#W" x="306.9" y="805.4"/><use href="#W" x="319.3" y="804.9"/><use href="#W" x="321.8" y="803.6"/><use href="#W" x="311.4" y="796"/><use href="#W" x="312.9" y="792.3"/><use href="#W" x="323.7" y="793.4"/><use href="#W" x="325.5" y="791.4"/><use href="#W" x="317.1" y="782"/><use href="#W" x="318.2" y="780.6"/><use href="#W" x="330" y="780.8"/><use href="#G" x="327.6" y="775.5"/><use href="#W" x="330.6" y="776.9"/><use href="#W" x="320.5" y="769.1"/><use href="#G" x="325.9" y="767.6"/><use href="#W" x="321.9" y="768.3"/><use href="#W" x="335.3" y="766.7"/><use href="#W" x="329.3" y="768.8"/><use href="#G" x="300.5" y="831.3"/><use href="#G" x="307.6" y="826.5"/><use href="#G" x="306.5" y="818.6"/><use href="#G" x="310.9" y="805.9"/><use href="#G" x="317.3" y="801"/><use href="#G" x="315.7" y="793.1"/><use href="#G" x="322.4" y="788.3"/><use href="#G" x="320.9" y="780.4"/><use href="#W" x="346.4" y="782.8"/><use href="#W" x="354.2" y="772.1"/><use href="#W" x="351.9" y="769.4"/><use href="#W" x="339.6" y="773.1"/><use href="#G" x="341.3" y="768.2"/><use href="#W" x="338.2" y="771.4"/><use href="#W" x="345.9" y="760.9"/><use href="#W" x="341.4" y="768.6"/><use href="#W" x="344.1" y="759.1"/><use href="#W" x="332.4" y="762.2"/><use href="#W" x="329.3" y="759.2"/><use href="#W" x="336.1" y="749.6"/><use href="#W" x="336" y="746.8"/><use href="#W" x="323.1" y="751.2"/><use href="#W" x="321.9" y="748.5"/><use href="#W" x="328.7" y="738.9"/><use href="#W" x="326.1" y="736.2"/><use href="#W" x="315" y="738.6"/><use href="#G" x="316.5" y="734.7"/><use href="#W" x="314.1" y="737.6"/><use href="#W" x="320.7" y="728.2"/><use href="#G" x="349.5" y="779.4"/><use href="#G" x="348.6" y="771.3"/><use href="#G" x="340.6" y="760.1"/><use href="#G" x="332.6" y="757"/><use href="#G" x="332.3" y="748.9"/><use href="#G" x="324.7" y="745.9"/><use href="#G" x="323.8" y="737.8"/><use href="#W" x="273.2" y="757.1"/><use href="#W" x="284.8" y="754.1"/><use href="#G" x="281.7" y="749.7"/><use href="#W" x="285.9" y="751.8"/><use href="#W" x="275" y="746"/><use href="#W" x="274.6" y="743.4"/><use href="#W" x="286.4" y="740.2"/><use href="#W" x="287" y="737.1"/><use href="#W" x="275.7" y="731.7"/><use href="#G" x="279.7" y="729"/><use href="#W" x="275" y="729.8"/><use href="#W" x="288" y="725.5"/><use href="#W" x="287.8" y="723.3"/><use href="#W" x="276.7" y="717.6"/><use href="#G" x="281.7" y="715.4"/><use href="#W" x="278.1" y="715.5"/><use href="#W" x="289.3" y="713"/><use href="#G" x="276.3" y="756"/><use href="#G" x="278.1" y="742.5"/><use href="#G" x="283.5" y="736.2"/><use href="#G" x="284.9" y="722.6"/><use href="#G" x="233" y="857.9"/><use href="#W" x="229.7" y="858.4"/><use href="#W" x="240.3" y="855"/><use href="#W" x="233.1" y="858.6"/><use href="#G" x="236.9" y="851.1"/><use href="#W" x="240.6" y="853"/><use href="#W" x="230" y="847.6"/><use href="#G" x="232.7" y="844.3"/><use href="#W" x="228.1" y="844.5"/><use href="#W" x="239.7" y="840.1"/><use href="#G" x="236.9" y="837.5"/><use href="#W" x="240.4" y="838.8"/><use href="#W" x="229.5" y="833.7"/><use href="#W" x="236.6" y="838.2"/><use href="#G" x="232.2" y="830.7"/><use href="#W" x="228.1" y="832"/><use href="#W" x="240.4" y="827"/><use href="#G" x="236.1" y="823.9"/><use href="#W" x="240.9" y="825"/><use href="#W" x="228.4" y="821.4"/><use href="#G" x="231.5" y="817.1"/><use href="#W" x="226.7" y="818.2"/><use href="#W" x="239.5" y="812.7"/><use href="#W" x="232.9" y="817.8"/><use href="#G" x="236.3" y="810.3"/><use href="#W" x="240.4" y="810.9"/><use href="#W" x="228.1" y="807.2"/><use href="#G" x="231.6" y="803.5"/><use href="#W" x="227.8" y="804.8"/><use href="#W" x="239.8" y="800"/><use href="#W" x="233.3" y="804.2"/><use href="#G" x="236" y="796.7"/><use href="#W" x="239.9" y="798.2"/><use href="#W" x="228.7" y="793.4"/><use href="#G" x="231.3" y="789.9"/><use href="#W" x="227.9" y="790"/><use href="#W" x="238.3" y="786.9"/><use href="#W" x="462" y="781.1"/><use href="#W" x="473.8" y="783.2"/><use href="#W" x="466.6" y="783.9"/><use href="#W" x="476.6" y="782.4"/><use href="#W" x="468" y="773"/><use href="#G" x="472.2" y="770.9"/><use href="#W" x="469.1" y="770.2"/><use href="#W" x="480.9" y="772.2"/><use href="#W" x="474.4" y="772.3"/><use href="#W" x="482.9" y="769.5"/><use href="#W" x="474.1" y="760.2"/><use href="#G" x="479.5" y="759.3"/><use href="#W" x="476.6" y="757.5"/><use href="#W" x="487.1" y="760.9"/><use href="#G" x="486.1" y="755.9"/><use href="#W" x="488.7" y="758"/><use href="#W" x="480.5" y="748.2"/><use href="#G" x="486.3" y="747.8"/><use href="#W" x="482.2" y="746.1"/><use href="#W" x="494" y="748.2"/><use href="#W" x="486.5" y="749.2"/><use href="#W" x="496.6" y="747.3"/><use href="#W" x="488.3" y="737.5"/><use href="#G" x="465.7" y="782.5"/><use href="#G" x="472.4" y="779"/><use href="#G" x="479.9" y="767.4"/><use href="#G" x="493.1" y="744.3"/><use href="#W" x="474.8" y="774.3"/><use href="#W" x="486.8" y="773"/><use href="#W" x="486.8" y="769.2"/><use href="#W" x="475.7" y="762.8"/><use href="#W" x="475.4" y="759.8"/><use href="#W" x="487.8" y="758.1"/><use href="#W" x="480.1" y="761.4"/><use href="#G" x="485.8" y="754.9"/><use href="#W" x="489.2" y="756.9"/><use href="#W" x="479.2" y="749.3"/><use href="#G" x="483.5" y="747.2"/><use href="#W" x="480.8" y="746.4"/><use href="#W" x="491.1" y="746.9"/><use href="#G" x="488.8" y="741.8"/><use href="#W" x="493.3" y="744.1"/><use href="#W" x="482.5" y="737.4"/><use href="#W" x="488.9" y="742.2"/><use href="#G" x="477.7" y="773.5"/><use href="#G" x="483.1" y="768.1"/><use href="#G" x="480" y="760.4"/><use href="#W" x="420.2" y="764.1"/><use href="#W" x="431.9" y="762.5"/><use href="#W" x="432.4" y="760.4"/><use href="#W" x="422.3" y="753.1"/><use href="#W" x="424.1" y="751.8"/><use href="#W" x="435.6" y="750.4"/><use href="#W" x="435.8" y="747.4"/><use href="#W" x="425.7" y="740.2"/><use href="#G" x="430" y="738"/><use href="#W" x="426.5" y="739.1"/><use href="#W" x="439.3" y="736.5"/><use href="#G" x="436.2" y="732.2"/><use href="#W" x="440.8" y="734.6"/><use href="#W" x="429.8" y="728.1"/><use href="#W" x="436.7" y="732.8"/><use href="#G" x="433.9" y="724.7"/><use href="#W" x="430.5" y="724.3"/><use href="#W" x="441.7" y="723.3"/><use href="#G" x="424.2" y="764.6"/><use href="#G" x="429.5" y="758.8"/><use href="#G" x="426.9" y="751.3"/><use href="#G" x="432.5" y="745.5"/><use href="#G" x="360.1" y="749"/><use href="#W" x="357" y="751.3"/><use href="#W" x="368.5" y="745.5"/><use href="#W" x="367.4" y="741.8"/><use href="#W" x="355.4" y="738.7"/><use href="#W" x="356" y="737.4"/><use href="#W" x="367.5" y="731.6"/><use href="#G" x="363.7" y="728.2"/><use href="#W" x="366.7" y="729.7"/><use href="#W" x="356.4" y="724.9"/><use href="#G" x="359.1" y="721.9"/><use href="#W" x="356.2" y="723.4"/><use href="#W" x="366.7" y="718.6"/><use href="#W" x="360.3" y="722.5"/><use href="#G" x="363.4" y="714.7"/><use href="#W" x="366.3" y="715.6"/><use href="#W" x="355.6" y="711.2"/><use href="#G" x="364.1" y="741.8"/><use href="#G" x="359.5" y="735.4"/><use href="#W" x="256" y="784.8"/><use href="#W" x="268.1" y="785.2"/><use href="#G" x="265.8" y="780.2"/><use href="#W" x="269.2" y="782.5"/><use href="#W" x="259.7" y="773.9"/><use href="#G" x="264" y="772.2"/><use href="#W" x="261.3" y="772.4"/><use href="#W" x="273.2" y="773.1"/><use href="#W" x="274.9" y="770.6"/><use href="#W" x="265.8" y="761.7"/><use href="#W" x="271.6" y="768.2"/><use href="#G" x="270.5" y="759.8"/><use href="#W" x="267.9" y="759.7"/><use href="#W" x="279.4" y="760.6"/><use href="#W" x="272.9" y="761"/><use href="#W" x="281.7" y="757.4"/><use href="#W" x="271.4" y="749.7"/><use href="#W" x="276.6" y="755.7"/><use href="#W" x="273.6" y="747.4"/><use href="#W" x="285.4" y="748.1"/><use href="#G" x="258.9" y="784.7"/><use href="#G" x="271.2" y="767.8"/><use href="#G" x="277.6" y="755.3"/><use href="#G" x="276.3" y="747.3"/><use href="#G" x="541.9" y="842"/><use href="#W" x="538.7" y="844"/><use href="#W" x="546.8" y="835.8"/><use href="#W" x="540.9" y="842.4"/><use href="#G" x="543.2" y="834"/><use href="#W" x="546.6" y="832.8"/><use href="#W" x="534.1" y="834.4"/><use href="#W" x="540.5" y="835.2"/><use href="#G" x="535.7" y="829.8"/><use href="#W" x="533" y="833"/><use href="#W" x="541.8" y="824"/><use href="#G" x="537" y="821.7"/><use href="#W" x="539.6" y="820.2"/><use href="#W" x="527.7" y="821.2"/><use href="#G" x="530.3" y="817.5"/><use href="#W" x="527.5" y="820.7"/><use href="#W" x="536.4" y="811.7"/><use href="#G" x="531.4" y="809.5"/><use href="#W" x="535.8" y="807.9"/><use href="#W" x="522" y="810.7"/><use href="#G" x="524.6" y="805.3"/><use href="#W" x="521.1" y="808.3"/><use href="#W" x="530.4" y="798.8"/><use href="#G" x="525" y="797.2"/><use href="#W" x="528.9" y="797.5"/><use href="#W" x="517.4" y="798.1"/><use href="#G" x="518.6" y="793"/><use href="#W" x="515.9" y="795.8"/><use href="#W" x="524.3" y="787.3"/><use href="#G" x="519.4" y="785"/><use href="#W" x="522.6" y="784.3"/><use href="#W" x="510.9" y="785.1"/><use href="#G" x="512" y="780.8"/><use href="#W" x="507.8" y="783.7"/><use href="#W" x="517.7" y="773.5"/><use href="#W" x="512.6" y="781.2"/><use href="#W" x="620.8" y="842.3"/><use href="#W" x="633.6" y="836.8"/><use href="#W" x="634.1" y="835.3"/><use href="#W" x="622.2" y="831.1"/><use href="#G" x="625.7" y="826.8"/><use href="#W" x="621.5" y="827.5"/><use href="#W" x="633.1" y="823.1"/><use href="#W" x="632.9" y="821.5"/><use href="#W" x="622.1" y="816.3"/><use href="#W" x="620.6" y="814.6"/><use href="#W" x="632.6" y="809.7"/><use href="#W" x="632.2" y="807.8"/><use href="#W" x="621.1" y="802.9"/><use href="#G" x="624.2" y="799.6"/><use href="#W" x="621.4" y="800.7"/><use href="#W" x="632.1" y="797.2"/><use href="#W" x="633" y="793.1"/><use href="#W" x="620.7" y="789.5"/><use href="#W" x="626.7" y="793.5"/><use href="#G" x="624.2" y="786"/><use href="#W" x="620.2" y="787.5"/><use href="#W" x="632.4" y="782.5"/><use href="#W" x="631.2" y="779.3"/><use href="#W" x="619.4" y="775.1"/><use href="#W" x="620.8" y="773.1"/><use href="#W" x="631.6" y="769.6"/><use href="#G" x="624.9" y="840.4"/><use href="#G" x="629.4" y="833.6"/><use href="#G" x="629.5" y="820"/><use href="#G" x="624.5" y="813.2"/><use href="#G" x="628.6" y="806.4"/><use href="#G" x="629.2" y="792.8"/><use href="#G" x="628.1" y="779.2"/><use href="#G" x="624.1" y="772.4"/><use href="#G" x="579" y="846.3"/><use href="#W" x="575" y="849.8"/><use href="#W" x="585.6" y="839.4"/><use href="#W" x="581.2" y="846.7"/><use href="#G" x="580.2" y="838.3"/><use href="#W" x="584.3" y="836.9"/><use href="#W" x="570.9" y="839.1"/><use href="#G" x="573" y="833.9"/><use href="#W" x="569.7" y="835.6"/><use href="#W" x="577.7" y="827.7"/><use href="#G" x="574.3" y="825.9"/><use href="#W" x="577.6" y="824.6"/><use href="#W" x="565.1" y="826"/><use href="#W" x="571.4" y="827.2"/><use href="#G" x="567.2" y="821.6"/><use href="#W" x="563.6" y="823.9"/><use href="#W" x="572.6" y="815"/><use href="#W" x="566.9" y="822"/><use href="#G" x="568.3" y="813.6"/><use href="#W" x="571.4" y="813.3"/><use href="#W" x="560.2" y="813.4"/><use href="#G" x="560.8" y="809.3"/><use href="#W" x="556.6" y="810.9"/><use href="#W" x="565.5" y="802.2"/><use href="#G" x="561.9" y="801.2"/><use href="#W" x="564.9" y="800.8"/><use href="#W" x="553.5" y="801"/><use href="#G" x="555" y="796.9"/><use href="#W" x="551.7" y="800.3"/><use href="#W" x="561.5" y="790.7"/><use href="#W" x="556.9" y="797.3"/><use href="#G" x="555.8" y="788.9"/><use href="#W" x="558.4" y="788.4"/><use href="#W" x="547.4" y="788.3"/><use href="#G" x="549.1" y="784.6"/><use href="#W" x="546.2" y="787"/><use href="#W" x="554.5" y="778.8"/><use href="#W" x="229.5" y="804.3"/><use href="#W" x="240.2" y="804"/><use href="#W" x="242.2" y="800.4"/><use href="#W" x="231.4" y="793.7"/><use href="#W" x="236.9" y="799.7"/><use href="#W" x="232.7" y="791.6"/><use href="#W" x="244.4" y="790.3"/><use href="#W" x="245.7" y="787.4"/><use href="#W" x="235" y="780.7"/><use href="#W" x="237" y="778.2"/><use href="#W" x="247.8" y="777.8"/><use href="#W" x="240.5" y="779.3"/><use href="#W" x="250.2" y="774.6"/><use href="#W" x="239.1" y="768.2"/><use href="#W" x="245.3" y="773.2"/><use href="#W" x="238.9" y="765.9"/><use href="#W" x="252.2" y="763"/><use href="#G" x="249.4" y="759.5"/><use href="#W" x="253.2" y="760.5"/><use href="#W" x="241.8" y="754.4"/><use href="#G" x="232.4" y="804.8"/><use href="#G" x="238.9" y="799.2"/><use href="#G" x="236.1" y="791.6"/><use href="#G" x="242.2" y="785.9"/><use href="#G" x="239.7" y="778.3"/><use href="#G" x="245.9" y="772.7"/><use href="#G" x="243.1" y="765.1"/><use href="#W" x="402.6" y="814.4"/><use href="#W" x="414.4" y="810.2"/><use href="#W" x="406.8" y="815"/><use href="#G" x="411.1" y="807.6"/><use href="#W" x="415.6" y="808.5"/><use href="#W" x="403.2" y="804.7"/><use href="#W" x="403.1" y="801.3"/><use href="#W" x="414.7" y="797.2"/><use href="#W" x="414.1" y="794.7"/><use href="#W" x="403" y="789.6"/><use href="#W" x="403.2" y="787.4"/><use href="#W" x="413.6" y="784.5"/><use href="#W" x="413.8" y="781.6"/><use href="#W" x="403" y="776.3"/><use href="#W" x="409.9" y="781"/><use href="#W" x="403.5" y="775.1"/><use href="#W" x="415.3" y="770.8"/><use href="#W" x="414.5" y="767.4"/><use href="#W" x="403" y="762.8"/><use href="#W" x="409.3" y="767.4"/><use href="#W" x="402.9" y="761.8"/><use href="#W" x="415.7" y="756.4"/><use href="#W" x="409.9" y="760.6"/><use href="#G" x="411.5" y="753.2"/><use href="#W" x="415.6" y="755"/><use href="#W" x="404.6" y="749.9"/><use href="#W" x="412.1" y="753.8"/><use href="#W" x="402.7" y="747.7"/><use href="#W" x="415.3" y="742.6"/><use href="#G" x="407.3" y="814.3"/><use href="#G" x="407.1" y="800.7"/><use href="#G" x="411.1" y="794"/><use href="#G" x="406.3" y="787.1"/><use href="#G" x="410.5" y="780.4"/><use href="#G" x="406.7" y="773.5"/><use href="#G" x="411.1" y="766.8"/><use href="#G" x="406.9" y="759.9"/><use href="#G" x="407" y="746.3"/><use href="#G" x="499.5" y="851.1"/><use href="#W" x="496.6" y="851.3"/><use href="#W" x="507.5" y="849.8"/><use href="#G" x="505.2" y="845"/><use href="#W" x="508.6" y="846"/><use href="#W" x="497.5" y="840.1"/><use href="#G" x="501.5" y="837.6"/><use href="#W" x="497.7" y="838.5"/><use href="#W" x="510.2" y="835.5"/><use href="#G" x="506.2" y="831.6"/><use href="#W" x="509.7" y="832.4"/><use href="#W" x="498.2" y="826.9"/><use href="#G" x="502.2" y="824.2"/><use href="#W" x="497.7" y="825.1"/><use href="#W" x="510.9" y="821.2"/><use href="#G" x="507.8" y="818.1"/><use href="#W" x="510.7" y="819.3"/><use href="#W" x="500.2" y="812.7"/><use href="#G" x="504.8" y="810.7"/><use href="#W" x="500.7" y="811.9"/><use href="#W" x="513.7" y="808.2"/><use href="#G" x="509.5" y="804.7"/><use href="#W" x="513" y="805.6"/><use href="#W" x="501.7" y="799.9"/><use href="#G" x="505.6" y="797.3"/><use href="#W" x="502.2" y="797.2"/><use href="#W" x="513.3" y="795.5"/><use href="#G" x="510.4" y="791.2"/><use href="#W" x="513.3" y="793.1"/><use href="#W" x="503.6" y="785.8"/><use href="#W" x="510.3" y="791.8"/><use href="#G" x="506.6" y="783.8"/><use href="#W" x="503.5" y="785"/><use href="#W" x="515.5" y="782.3"/><use href="#G" x="388.6" y="832.3"/><use href="#W" x="385" y="834.7"/><use href="#W" x="396.2" y="827.6"/><use href="#W" x="390.6" y="832.8"/><use href="#W" x="395.5" y="825.4"/><use href="#W" x="383" y="823.8"/><use href="#G" x="385.6" y="818.9"/><use href="#W" x="380.9" y="820"/><use href="#W" x="391.9" y="813.1"/><use href="#G" x="389.1" y="811.4"/><use href="#W" x="392.4" y="811"/><use href="#W" x="380.2" y="809.1"/><use href="#G" x="383.3" y="805.6"/><use href="#W" x="379.4" y="807.1"/><use href="#W" x="390.1" y="800.5"/><use href="#W" x="389.6" y="799.3"/><use href="#W" x="378.3" y="796.5"/><use href="#W" x="386.3" y="799"/><use href="#W" x="376.4" y="794.6"/><use href="#W" x="387.2" y="788"/><use href="#W" x="381.5" y="792.8"/><use href="#G" x="382.8" y="784.7"/><use href="#W" x="386.1" y="785.3"/><use href="#W" x="374.8" y="782.5"/><use href="#W" x="373.7" y="780.1"/><use href="#W" x="383.2" y="774.7"/><use href="#W" x="376.4" y="779.5"/><use href="#G" x="379.2" y="771.4"/><use href="#W" x="382.7" y="770.7"/><use href="#W" x="369.9" y="769.4"/><use href="#W" x="370" y="766.4"/><use href="#W" x="379.4" y="761.1"/><use href="#G" x="390.9" y="824.7"/><use href="#G" x="385.7" y="798.1"/><use href="#G" x="379.6" y="792.3"/><use href="#G" x="376.8" y="778.9"/><use href="#G" x="373.4" y="765.6"/><use href="#G" x="533" y="858"/><use href="#W" x="528.8" y="860.1"/><use href="#W" x="541.4" y="853.7"/><use href="#G" x="537.4" y="850.9"/><use href="#W" x="541.7" y="851"/><use href="#W" x="528.7" y="848.6"/><use href="#W" x="535" y="851.7"/><use href="#G" x="532.6" y="844.5"/><use href="#W" x="528.3" y="846.1"/><use href="#W" x="540.5" y="840"/><use href="#G" x="537.1" y="837.4"/><use href="#W" x="541.6" y="838.7"/><use href="#W" x="529.8" y="835.2"/><use href="#G" x="531.9" y="830.9"/><use href="#W" x="527.1" y="832.8"/><use href="#W" x="540.1" y="826"/><use href="#W" x="534.1" y="831.5"/><use href="#G" x="535.7" y="823.8"/><use href="#W" x="539.2" y="824.8"/><use href="#W" x="528" y="820.7"/><use href="#G" x="531.5" y="817.3"/><use href="#W" x="528" y="819"/><use href="#W" x="539.5" y="813.7"/><use href="#W" x="533.2" y="818"/><use href="#G" x="535.1" y="810.2"/><use href="#W" x="538.1" y="811.4"/><use href="#W" x="527.5" y="806.5"/><use href="#G" x="530.9" y="803.7"/><use href="#W" x="527.1" y="804.8"/><use href="#W" x="538.2" y="799.8"/><use href="#G" x="535.4" y="796.7"/><use href="#W" x="539.8" y="797.4"/><use href="#W" x="527.5" y="794.3"/><use href="#W" x="534.4" y="797.4"/><use href="#G" x="529.9" y="790.2"/><use href="#W" x="526" y="792.1"/><use href="#W" x="538.1" y="786.1"/><use href="#G" x="492.2" y="784.7"/><use href="#W" x="489.2" y="784.2"/><use href="#W" x="500.5" y="784.9"/><use href="#G" x="499.3" y="779.9"/><use href="#W" x="503" y="783.3"/><use href="#W" x="494.2" y="774.1"/><use href="#W" x="500.9" y="780.4"/><use href="#G" x="497.5" y="772"/><use href="#W" x="493.1" y="770.8"/><use href="#W" x="505.1" y="770.7"/><use href="#W" x="497.2" y="773.2"/><use href="#G" x="504.4" y="767.2"/><use href="#W" x="507.1" y="768.8"/><use href="#W" x="497.6" y="760.5"/><use href="#G" x="502.7" y="759.3"/><use href="#W" x="498.9" y="759.9"/><use href="#W" x="512.1" y="758.6"/><use href="#G" x="508.9" y="754.5"/><use href="#W" x="513" y="757.5"/><use href="#W" x="503.4" y="749.2"/><use href="#G" x="507.4" y="746.6"/><use href="#W" x="503.6" y="746"/><use href="#W" x="515.7" y="745.9"/><use href="#W" x="508.4" y="747.8"/><use href="#G" x="514.4" y="741.8"/><use href="#W" x="517.2" y="744.3"/><use href="#W" x="508.5" y="735"/><use href="#G" x="513.5" y="733.9"/><use href="#W" x="509.3" y="733.9"/><use href="#W" x="522.3" y="732.9"/><use href="#W" x="515.7" y="735"/><use href="#W" x="427.1" y="756.4"/><use href="#W" x="438.5" y="756.2"/><use href="#W" x="431.6" y="757.5"/><use href="#G" x="436.4" y="751.2"/><use href="#W" x="439.2" y="752.8"/><use href="#W" x="429.3" y="744.9"/><use href="#W" x="431.6" y="744"/><use href="#W" x="443.6" y="743.3"/><use href="#W" x="443.4" y="741.3"/><use href="#W" x="434.9" y="732"/><use href="#G" x="438.9" y="730.5"/><use href="#W" x="434.8" y="729.5"/><use href="#W" x="446.4" y="729.1"/><use href="#W" x="447.6" y="726.9"/><use href="#W" x="438" y="718.8"/><use href="#W" x="439" y="716.8"/><use href="#W" x="451.4" y="715.8"/><use href="#G" x="450.4" y="712.3"/><use href="#W" x="454.8" y="713.5"/><use href="#W" x="443" y="707.5"/><use href="#G" x="430" y="756.4"/><use href="#G" x="434.4" y="743.4"/><use href="#G" x="440.4" y="738.3"/><use href="#G" x="445" y="725.3"/><use href="#G" x="443.5" y="717.5"/><use href="#W" x="261.7" y="848.8"/><use href="#W" x="272.8" y="847.8"/><use href="#G" x="270.8" y="843.1"/><use href="#W" x="275.4" y="845.4"/><use href="#W" x="264.4" y="839"/><use href="#G" x="268.3" y="835.5"/><use href="#W" x="264.5" y="835.1"/><use href="#W" x="275.9" y="833.8"/><use href="#G" x="273.3" y="829.8"/><use href="#W" x="277.4" y="832.1"/><use href="#W" x="267" y="825.1"/><use href="#W" x="266.7" y="822.1"/><use href="#W" x="278.3" y="820.6"/><use href="#W" x="279.7" y="818.8"/><use href="#W" x="269.6" y="811.5"/><use href="#W" x="276.4" y="817"/><use href="#G" x="273" y="808.9"/><use href="#W" x="269.2" y="808.2"/><use href="#W" x="280.4" y="807"/><use href="#W" x="283.9" y="805"/><use href="#W" x="272.4" y="799.1"/><use href="#W" x="278.8" y="803.6"/><use href="#W" x="271.8" y="795.6"/><use href="#W" x="284.2" y="793.3"/><use href="#G" x="282.2" y="789.8"/><use href="#W" x="286.1" y="791.6"/><use href="#W" x="275.2" y="785.1"/><use href="#W" x="276.1" y="781.9"/><use href="#W" x="287.3" y="780.8"/><use href="#G" x="264.7" y="848.8"/><use href="#G" x="270.3" y="822.2"/><use href="#G" x="276" y="816.4"/><use href="#G" x="279.3" y="803.1"/><use href="#G" x="276.1" y="795.6"/><use href="#G" x="279.6" y="782.3"/><use href="#G" x="619.3" y="702"/><use href="#W" x="621.3" y="699.7"/><use href="#G" x="628.4" y="702"/><use href="#W" x="630.4" y="701.4"/><use href="#G" x="637.5" y="702"/><use href="#W" x="639.5" y="700.1"/><use href="#G" x="619.4" y="711.6"/><use href="#W" x="621.4" y="711"/><use href="#G" x="629.5" y="711.6"/><use href="#W" x="631.5" y="708.6"/><use href="#G" x="638.8" y="711.6"/><use href="#W" x="640.8" y="710.3"/><use href="#G" x="620.7" y="721.2"/><use href="#W" x="622.7" y="717.8"/><use href="#G" x="629.2" y="721.2"/><use href="#W" x="631.2" y="720.6"/><use href="#G" x="637" y="721.2"/><use href="#W" x="639" y="717.7"/><use href="#G" x="620" y="730.8"/><use href="#W" x="622" y="728.3"/><use href="#G" x="629.1" y="730.8"/><use href="#W" x="631.1" y="727.4"/><use href="#G" x="637.4" y="730.8"/><use href="#W" x="639.4" y="728.8"/><use href="#G" x="620.7" y="740.4"/><use href="#W" x="622.7" y="736.9"/><use href="#G" x="628.5" y="740.4"/><use href="#W" x="630.5" y="738.1"/><use href="#G" x="637.6" y="740.4"/><use href="#W" x="639.6" y="739.2"/><use href="#G" x="619.6" y="750"/><use href="#W" x="621.6" y="748.5"/><use href="#G" x="629.7" y="750"/><use href="#W" x="631.7" y="746.6"/><use href="#G" x="637" y="750"/><use href="#W" x="639" y="746.9"/><use href="#G" x="620.5" y="759.6"/><use href="#W" x="622.5" y="757.6"/><use href="#G" x="629.7" y="759.6"/><use href="#W" x="631.7" y="759.1"/><use href="#G" x="638.5" y="759.6"/><use href="#W" x="640.5" y="756.7"/><use href="#G" x="619.8" y="769.2"/><use href="#W" x="621.8" y="767.3"/><use href="#G" x="628.9" y="769.2"/><use href="#W" x="630.9" y="767"/><use href="#G" x="620.5" y="778.8"/><use href="#W" x="622.5" y="778.1"/><use href="#G" x="628.1" y="778.8"/><use href="#W" x="630.1" y="778.1"/>
<use href="#O" x="469.7" y="851.5"/><use href="#Y" x="470.3" y="856.2"/><use href="#O" x="475.9" y="859.5"/><use href="#O" x="465.2" y="859.9"/><use href="#O" x="468.5" y="862.2"/><use href="#O" x="518.5" y="852.7"/><use href="#Y" x="513.8" y="847.4"/><use href="#O" x="508.2" y="850.6"/><use href="#O" x="515" y="842.6"/><use href="#O" x="568.9" y="848.9"/><use href="#Y" x="561.7" y="847.4"/><use href="#O" x="557.8" y="853.9"/><use href="#O" x="557.5" y="842.8"/><use href="#O" x="564" y="853.4"/><use href="#O" x="453.3" y="840"/><use href="#Y" x="457.2" y="843.1"/><use href="#O" x="463.1" y="841.5"/><use href="#O" x="456.2" y="849.8"/><use href="#O" x="457.5" y="849.1"/><use href="#O" x="637.1" y="872.2"/><use href="#Y" x="635.8" y="864.9"/><use href="#O" x="628.5" y="864.6"/><use href="#O" x="640" y="860.3"/><use href="#O" x="633.5" y="870.9"/><use href="#O" x="612.7" y="851.2"/><use href="#Y" x="609.6" y="856.2"/><use href="#O" x="614.1" y="862.9"/><use href="#O" x="602.8" y="858.6"/><use href="#O" x="608" y="862.2"/><use href="#O" x="448.6" y="854.3"/><use href="#Y" x="444.2" y="858.3"/><use href="#O" x="446" y="865.7"/><use href="#O" x="437.3" y="859"/><use href="#O" x="336.5" y="806"/><use href="#Y" x="331" y="808.2"/><use href="#O" x="332.4" y="815"/><use href="#O" x="324.9" y="807.5"/><use href="#O" x="436.4" y="834.9"/><use href="#Y" x="439.8" y="830"/><use href="#O" x="436.9" y="824.4"/><use href="#O" x="445.3" y="831.5"/><use href="#O" x="440.4" y="836"/><use href="#O" x="429.4" y="839.9"/><use href="#Y" x="426.8" y="845.3"/><use href="#O" x="430.3" y="850.3"/><use href="#O" x="420.2" y="847.5"/><use href="#O" x="429.5" y="851.3"/><use href="#O" x="230.4" y="853.9"/><use href="#Y" x="224.3" y="849.6"/><use href="#O" x="219.6" y="854.4"/><use href="#O" x="223.2" y="845.3"/><use href="#O" x="488.8" y="808.7"/><use href="#Y" x="483.4" y="803.9"/><use href="#O" x="477.7" y="806.7"/><use href="#O" x="483.5" y="799.4"/><use href="#O" x="482.3" y="809.9"/><use href="#O" x="408.1" y="857.4"/><use href="#Y" x="413.7" y="854"/><use href="#O" x="413.5" y="848.6"/><use href="#O" x="419.4" y="858.8"/><use href="#O" x="413.2" y="860"/><use href="#O" x="354.6" y="827.1"/><use href="#Y" x="348.4" y="823.5"/><use href="#O" x="342.9" y="828.3"/><use href="#O" x="348.3" y="817.8"/><use href="#O" x="349.9" y="829.5"/><use href="#O" x="238.2" y="847.9"/><use href="#Y" x="243.9" y="845.3"/><use href="#O" x="245.3" y="840.9"/><use href="#O" x="249.1" y="849.8"/><use href="#O" x="257.3" y="825.7"/><use href="#Y" x="256.9" y="830"/><use href="#O" x="261.9" y="835.6"/><use href="#O" x="250.1" y="832.8"/><use href="#O" x="259.9" y="836"/><use href="#O" x="353.8" y="847.1"/><use href="#Y" x="357.1" y="851.8"/><use href="#O" x="364.4" y="852.1"/><use href="#O" x="355.1" y="858.5"/><use href="#O" x="569.5" y="834"/><use href="#Y" x="566.1" y="827.8"/><use href="#O" x="558.7" y="828.2"/><use href="#O" x="569.6" y="823.2"/><use href="#O" x="315.1" y="797.2"/><use href="#Y" x="317.9" y="790.8"/><use href="#O" x="314.3" y="787.6"/><use href="#O" x="325.2" y="790.8"/><use href="#O" x="318.3" y="796.8"/><use href="#O" x="585.1" y="823.2"/><use href="#Y" x="579.2" y="821.3"/><use href="#O" x="573.7" y="826.1"/><use href="#O" x="576.7" y="815.9"/><use href="#O" x="578.8" y="827.3"/><use href="#O" x="288" y="863.9"/><use href="#Y" x="291.8" y="858.3"/><use href="#O" x="288.4" y="853.5"/><use href="#O" x="298.9" y="858.9"/><use href="#O" x="489.2" y="835.9"/><use href="#Y" x="492.1" y="830"/><use href="#O" x="487.8" y="826.7"/><use href="#O" x="499.5" y="829.8"/><use href="#O" x="490.1" y="836"/><use href="#O" x="389.1" y="859.9"/><use href="#Y" x="383.2" y="856.2"/><use href="#O" x="378" y="860.5"/><use href="#O" x="382.1" y="850.2"/><use href="#O" x="381.8" y="862.2"/><use href="#O" x="331.1" y="854.1"/><use href="#Y" x="331" y="847.4"/><use href="#O" x="325.8" y="845.4"/><use href="#O" x="335.5" y="844"/><use href="#O" x="281.5" y="843.1"/><use href="#Y" x="278.7" y="847.4"/><use href="#O" x="281.8" y="853.1"/><use href="#O" x="272.8" y="848"/><use href="#O" x="277.9" y="853.4"/><use href="#O" x="311.2" y="830.1"/><use href="#Y" x="313.5" y="834.4"/><use href="#O" x="319.7" y="837.7"/><use href="#O" x="309.3" y="839.6"/><use href="#O" x="366.5" y="831.4"/><use href="#Y" x="370.1" y="834.4"/><use href="#O" x="375.7" y="834.2"/><use href="#O" x="368" y="841.7"/><use href="#O" x="601.4" y="835.8"/><use href="#Y" x="596.6" y="838.7"/><use href="#O" x="598.4" y="845.3"/><use href="#O" x="589.7" y="839.2"/><use href="#O" x="598.5" y="844.7"/><use href="#O" x="305.2" y="843.6"/><use href="#Y" x="300.5" y="838.7"/><use href="#O" x="295" y="842.7"/><use href="#O" x="301.3" y="833"/><use href="#O" x="299.9" y="844.7"/><use href="#O" x="231.2" y="870.4"/><use href="#Y" x="235.2" y="864.9"/><use href="#O" x="232" y="860.4"/><use href="#O" x="241.5" y="867.4"/><use href="#O" x="542.7" y="853.4"/><use href="#Y" x="546.5" y="847.4"/><use href="#O" x="544.4" y="842"/><use href="#O" x="552.3" y="847.9"/><use href="#O" x="547.2" y="853.4"/><use href="#O" x="632.6" y="844.8"/><use href="#Y" x="627.1" y="847.4"/><use href="#O" x="628.6" y="853.6"/><use href="#O" x="621.3" y="845.3"/><use href="#O" x="625.5" y="853.4"/><use href="#O" x="586.5" y="847.1"/><use href="#Y" x="583.5" y="851.8"/><use href="#O" x="586.7" y="857.8"/><use href="#O" x="577.4" y="852.3"/><use href="#O" x="409.2" y="815.4"/><use href="#Y" x="409.3" y="821.3"/><use href="#O" x="414.4" y="825.3"/><use href="#O" x="403.2" y="824.7"/><use href="#O" x="409.8" y="827.3"/><use href="#O" x="500.2" y="853.9"/><use href="#Y" x="500.8" y="858.3"/><use href="#O" x="506.1" y="862.9"/><use href="#O" x="496" y="863.4"/><use href="#O" x="503.4" y="864.3"/><use href="#O" x="387.4" y="845"/><use href="#Y" x="391.9" y="838.7"/><use href="#O" x="390.2" y="833.8"/><use href="#O" x="399.4" y="840.4"/><use href="#O" x="390.2" y="844.7"/><use href="#O" x="540.2" y="869.9"/><use href="#Y" x="535.6" y="864.9"/><use href="#O" x="530.3" y="869.1"/><use href="#O" x="535.8" y="860.1"/><use href="#O" x="262.5" y="861.6"/><use href="#Y" x="265.6" y="856.2"/><use href="#O" x="261.8" y="851.7"/><use href="#O" x="273" y="857.6"/>
<g transform="scale(0.5)" fill="none" stroke-linecap="round" stroke-linejoin="round"><path d="M781 1668l-3-6l-6 3m38 18l6-2l0-7m-19-25l0-7l-7-1m4 16l3 6l6-2m-159 38l-6-2l-2 6m18-8l7 1l4-5m-224-9l6 2l4-6m111-6l4 6l6-3m353-19l6-1l1-7m-169 38l-6-3l-5 5m-274 14l6-4l-1-7m135 10l6-3l-1-7m328-11l4 6l6-3m-526-4l6 2l4-5m256 27l3-6l-6-4m122 0l-6-2l-2 7m-105 45l-7-2l-3 5m78-41l-7-2l-4 6m-319-18l6-5l-3-6m563-16l7 2l2-7m-324 63l-5-4l-6 3m-182-13l1-7l-7-1m449-12l1-6l-6-2m135-7l5 5l6-3m-629-15l7-2l-1-7m487 1l-6-3l-5 5m-294 56l-5 5l5 5m247-67l4-6l-4-6m182 14l-6-3l-5 5m-114-4l-2-6l-6 1m68-16l1-7l-7-2m-487 53l5-4l-4-6m638 71l-1-7l-6-1m-290-41l-5 5l3 6m-204 12l-5-5l-6 4m50 11l-2-6l-7 0m198-58l-2-7l-7 0m-268 36l-3-6l-6 1m-116 6l7-2l-1-7m332-33l-7-1l-2 6m380 24l-4-5l-7 2m-617 19l1-7l-7-1m268-35l-1-6l-7 2m21 17l7-1l0-7m279 24l7-1l1-6m-38-11l-7 2l2 7m-431 37l-7 0l-1 7m-92-46l5 5l6-4m-85 49l-5-5l-6 3m4-17l-3-6l-7 1m109-39l7 2l2-6m447 22l-7 1l1 7m-114-34l2 7l7-2m-254 67l5-5l-3-6m475-10l-6-4l-6 4m-259-26l-5-4l-5 4m-182 58l-7 0l-1 7m519-24l-7-3l-2 7m-42-26l-7 0l0 7m-95-38l-5 4l2 6" stroke="#f4f4f4" stroke-width="2.4"/><path d="M780 1665l-2-3l-3 2m38 18l3-1l0-4m-19-31l0-4l-4 0m2 18l2 3l3-1m-159 36l-3-1l-1 3m20-5l4 1l2-3m-219-10l3 1l2-3m115-6l2 3l4-2m358-21l3 0l1-4m-172 34l-3-2l-3 3m-273 14l3-2l0-4m137 5l3-1l-1-4m330-11l2 3l3-2m-520-4l3 1l2-3m259 23l2-4l-4-2m117-3l-3-1l-1 4m-109 47l-4-1l-2 3m74-40l-4-1l-2 3m-318-17l3-3l-2-3m565-18l4 1l1-4m-326 58l-2-2l-4 2m-183-15l0-4l-4-1m447-15l0-3l-3-1m134-6l3 3l3-2m-623-17l4-1l-1-4m484-3l-3-2l-3 3m-299 61l-2 2l3 3m250-68l3-3l-2-3m177 9l-3-1l-3 2m-117-4l-1-3l-3 0m65-18l1-4l-4-1m-488 50l3-2l-3-3m637 65l-1-4l-3 0m-296-40l-2 3l1 3m-204 13l-3-3l-3 2m46 10l-1-3l-4 0m194-61l-1-4l-4 0m-272 34l-2-4l-3 0m-116 6l4-1l-1-4m329-37l-4 0l-1 4m377 24l-2-3l-4 1m-620 17l1-4l-4-1m265-38l-1-3l-4 1m21 18l4-1l0-3m282 20l4-1l1-3m-41-13l-4 1l1 4m-433 40l-4 0l-1 4m-90-41l3 3l3-2m-84 45l-3-3l-3 1m0-18l-2-3l-4 0m109-37l4 1l1-3m445 19l-4 1l0 4m-112-28l1 4l4-1m-249 64l3-3l-2-3m471-15l-3-2l-3 2m-264-26l-3-2l-3 2m-187 60l-4 0l0 4m515-22l-4-2l-1 4m-46-23l-4 0l0 4m-98-33l-2 2l1 4" stroke="#e8321c" stroke-width="2.8"/></g>
<line x1="219" y1="648.4" x2="219" y2="951" stroke="#f4f4f4" stroke-width="1.9" />
<line x1="614" y1="648.4" x2="614" y2="951" stroke="#f4f4f4" stroke-width="1.9" />
<ellipse cx="521.4" cy="810" rx="17" ry="69.4" fill="#fff" fill-opacity="0.6" stroke="#dcdcdc" stroke-width="7" transform="rotate(3 521.4 810)"/>
<ellipse cx="521.4" cy="810" rx="17" ry="69.4" fill="none" stroke="#111" stroke-width="2.9" stroke-dasharray="6.4 4.6" transform="rotate(3 521.4 810)"/>
<path d="M526.4 737.6 L554.8 698.2 L662 698.2" stroke="#d4d4d4" stroke-width="7.4" fill="none" stroke-linejoin="round"/>
<path d="M526.4 737.6 L554.8 698.2 L662 698.2" stroke="#111" stroke-width="2.9" fill="none" stroke-dasharray="6.4 4.6"/>
<path d="M169.4 681.6 L263 681.6 L281 671" stroke="#d4d4d4" stroke-width="7.4" fill="none" stroke-linejoin="round"/>
<path d="M169.4 681.6 L263 681.6 L281 671" stroke="#111" stroke-width="2.9" fill="none" stroke-dasharray="6.4 4.6"/>
<path d="M182 872.4 L279 872.4 L291.6 879.6" stroke="#d4d4d4" stroke-width="7.4" fill="none" stroke-linejoin="round"/>
<path d="M182 872.4 L279 872.4 L291.6 879.6" stroke="#111" stroke-width="2.9" fill="none" stroke-dasharray="6.4 4.6"/>
<path d="M551 907.4 L561.6 914.6 L662 914.6" stroke="#d4d4d4" stroke-width="7.4" fill="none" stroke-linejoin="round"/>
<path d="M551 907.4 L561.6 914.6 L662 914.6" stroke="#111" stroke-width="2.9" fill="none" stroke-dasharray="6.4 4.6"/>
<circle cx="291.3" cy="664.3" r="8.6" fill="#f0f0f0" fill-opacity="0.88" stroke="#dcdcdc" stroke-width="6"/>
<circle cx="291.3" cy="664.3" r="8.6" fill="none" stroke="#111" stroke-width="2.9" stroke-dasharray="6.2 4.6"/>
<circle cx="301.2" cy="886.3" r="8.6" fill="#f0f0f0" fill-opacity="0.88" stroke="#dcdcdc" stroke-width="6"/>
<circle cx="301.2" cy="886.3" r="8.6" fill="none" stroke="#111" stroke-width="2.9" stroke-dasharray="6.2 4.6"/>
<circle cx="541.2" cy="899.8" r="8.6" fill="#f0f0f0" fill-opacity="0.88" stroke="#dcdcdc" stroke-width="6"/>
<circle cx="541.2" cy="899.8" r="8.6" fill="none" stroke="#111" stroke-width="2.9" stroke-dasharray="6.2 4.6"/>
<rect x="142.8" y="651" width="26.6" height="70.4" fill="#fff"/>
<path d="M162 658 L152.5 666 L161 675 L152 684 L160.5 693 L151.5 702 L159.5 711" fill="none" stroke="#666" stroke-width="2.2" stroke-linejoin="round"/>
<path d="M162 658L165.6 655M162 658L165.6 661M152.5 666L148.9 663M152.5 666L148.9 669M161 675L164.6 672M161 675L164.6 678M152 684L148.4 681M152 684L148.4 687M160.5 693L164.1 690M160.5 693L164.1 696M151.5 702L147.9 699M151.5 702L147.9 705M159.5 711L163.1 708M159.5 711L163.1 714" stroke="#9a9a9a" stroke-width="1.1" fill="none"/>
<rect x="141.6" y="848.8" width="37.4" height="45.2" fill="#fff"/>
<path d="M150 861 L163 857 L170 866 L169 884 L156 888 L149 879 Z" fill="none" stroke="#777" stroke-width="2.2" stroke-linejoin="round"/>
<line x1="163" y1="857" x2="165" y2="866" stroke="#3a55d8" stroke-width="2.4" />
<line x1="156" y1="888" x2="154" y2="879" stroke="#3a55d8" stroke-width="2.4" />
<line x1="150" y1="861" x2="158" y2="870" stroke="#8a8a8a" stroke-width="2" />
<line x1="170" y1="866" x2="162" y2="872" stroke="#8a8a8a" stroke-width="2" />
<line x1="158" y1="870" x2="156" y2="888" stroke="#8a8a8a" stroke-width="1.6" />
<rect x="667.4" y="651" width="27.6" height="140.4" fill="#fff"/>
<path d="M680.6 656 L683.4 665.6 L679.4 675.2 L683.4 684.8 L679.4 694.4 L683.4 704 L679.4 713.6 L683.4 723.2 L679.4 732.8 L683.4 742.4 L679.4 752 L683.4 761.6 L682 770" fill="none" stroke="#666" stroke-width="2" stroke-linejoin="round"/>
<path d="M676.2 655.5L685 656.5M679 665.1L687.8 666.1M675 674.7L683.8 675.7M679 684.3L687.8 685.3M675 693.9L683.8 694.9M679 703.5L687.8 704.5M675 713.1L683.8 714.1M679 722.7L687.8 723.7M675 732.3L683.8 733.3M679 741.9L687.8 742.9M675 751.5L683.8 752.5M679 761.1L687.8 762.1" stroke="#a0a0a0" stroke-width="1" fill="none"/>
<line x1="682" y1="768" x2="682" y2="775" stroke="#e03a20" stroke-width="2" />
<line x1="675.6" y1="779.6" x2="688.4" y2="779.6" stroke="#e03a20" stroke-width="1.8" />
<line x1="682" y1="775" x2="682" y2="788" stroke="#d8b810" stroke-width="2.4" />
<line x1="678" y1="779.6" x2="686" y2="779.6" stroke="#e6c814" stroke-width="2.4" />
<line x1="682" y1="785" x2="682" y2="789" stroke="#e03a20" stroke-width="2" />
<rect x="668.2" y="894" width="25.8" height="42" fill="#fff"/>
<path d="M689 899 L674 913.4 L687 929.6" fill="none" stroke="#b8b8b8" stroke-width="5.4" stroke-linecap="round" stroke-linejoin="round"/>
<path d="M689 899 L674 913.4 L687 929.6" fill="none" stroke="#f6f6f6" stroke-width="3.4" stroke-linecap="round" stroke-linejoin="round"/>
<path d="M681.5 906.2 L674 913.4 L680.6 921.6" fill="none" stroke="#e23018" stroke-width="5.6" stroke-linejoin="round"/>
</g>
<text x="12.4" y="699.8" font-size="33.6" textLength="117.4" lengthAdjust="spacingAndGlyphs">Hexane</text>
<text x="74" y="880.4" font-size="33.6" textLength="54.8" lengthAdjust="spacingAndGlyphs">PIP</text>
<text x="723.2" y="734.4" font-size="33.6" textLength="67.8" lengthAdjust="spacingAndGlyphs">SDS</text>
<text x="723.4" y="928.6" font-size="33.6" textLength="89" lengthAdjust="spacingAndGlyphs">Water</text>
</g>
<g id="panel_e">
<defs>
<radialGradient id="sb2" cx="0.4" cy="0.35" r="0.7"><stop offset="0" stop-color="#6a84e8"/><stop offset="0.6" stop-color="#3a55c8"/><stop offset="1" stop-color="#1c2c80"/></radialGradient>
<radialGradient id="ew" cx="0.42" cy="0.38" r="0.66"><stop offset="0" stop-color="#fff"/><stop offset="0.4" stop-color="#f6f6f6"/><stop offset="0.75" stop-color="#b4b4b4"/><stop offset="1" stop-color="#666"/></radialGradient>
<radialGradient id="eg" cx="0.42" cy="0.38" r="0.66"><stop offset="0" stop-color="#9e9e9e"/><stop offset="0.6" stop-color="#747474"/><stop offset="1" stop-color="#3a3a3a"/></radialGradient>
<radialGradient id="er" cx="0.42" cy="0.38" r="0.68"><stop offset="0" stop-color="#ff5030"/><stop offset="0.6" stop-color="#e42c10"/><stop offset="1" stop-color="#8c1200"/></radialGradient>
<radialGradient id="ey" cx="0.42" cy="0.38" r="0.68"><stop offset="0" stop-color="#fff45a"/><stop offset="0.6" stop-color="#f0d414"/><stop offset="1" stop-color="#a89000"/></radialGradient>
<g id="pipm"><circle cx="-14" cy="10" r="4.4" fill="url(#ew)"/><circle cx="6" cy="14" r="4.2" fill="url(#ew)"/><circle cx="3" cy="-10.5" r="7.4" fill="url(#eg)"/><circle cx="10.5" cy="-4" r="7.2" fill="url(#eg)"/><circle cx="-8" cy="3" r="7.6" fill="url(#eg)"/><circle cx="1" cy="10" r="7.4" fill="url(#eg)"/><circle cx="-10" cy="-3" r="6.2" fill="url(#sb2)"/><circle cx="-3" cy="-16" r="4.9" fill="url(#ew)"/><circle cx="13.5" cy="-10" r="4.9" fill="url(#ew)"/><circle cx="-15" cy="-6.5" r="4.9" fill="url(#ew)"/><circle cx="-1" cy="-6.5" r="5.1" fill="url(#ew)"/><circle cx="-7.5" cy="8" r="5.1" fill="url(#ew)"/><circle cx="3.5" cy="16.5" r="4.9" fill="url(#ew)"/><circle cx="8.5" cy="5" r="6.9" fill="url(#sb2)"/><circle cx="16.5" cy="4.5" r="4.4" fill="url(#ew)"/></g><g id="sdsm"><circle cx="24.5" cy="-13.6" r="5" fill="url(#ew)"/><circle cx="41" cy="-13.6" r="5" fill="url(#ew)"/><circle cx="57.5" cy="-13.6" r="5" fill="url(#ew)"/><circle cx="74" cy="-13.6" r="5" fill="url(#ew)"/><circle cx="90.5" cy="-13.6" r="5" fill="url(#ew)"/><circle cx="107" cy="-13.6" r="5" fill="url(#ew)"/><circle cx="19.5" cy="0" r="6.3" fill="url(#eg)"/><circle cx="27.5" cy="-4.5" r="6.3" fill="url(#eg)"/><circle cx="36" cy="0" r="6.3" fill="url(#eg)"/><circle cx="44" cy="-4.5" r="6.3" fill="url(#eg)"/><circle cx="52.5" cy="0" r="6.3" fill="url(#eg)"/><circle cx="60.5" cy="-4.5" r="6.3" fill="url(#eg)"/><circle cx="69" cy="0" r="6.3" fill="url(#eg)"/><circle cx="77" cy="-4.5" r="6.3" fill="url(#eg)"/><circle cx="85.5" cy="0" r="6.3" fill="url(#eg)"/><circle cx="93.5" cy="-4.5" r="6.3" fill="url(#eg)"/><circle cx="102" cy="0" r="6.3" fill="url(#eg)"/><circle cx="110" cy="-4.5" r="6.3" fill="url(#eg)"/><circle cx="-9.5" cy="-4" r="5.6" fill="url(#er)"/><circle cx="0" cy="0" r="7" fill="url(#ey)"/><circle cx="16.5" cy="6" r="5.7" fill="url(#ew)"/><circle cx="33" cy="6" r="5.7" fill="url(#ew)"/><circle cx="49.5" cy="6" r="5.7" fill="url(#ew)"/><circle cx="66" cy="6" r="5.7" fill="url(#ew)"/><circle cx="82.5" cy="6" r="5.7" fill="url(#ew)"/><circle cx="99" cy="6" r="5.7" fill="url(#ew)"/><circle cx="17.7" cy="-5.9" r="5.7" fill="url(#ew)"/><circle cx="34.2" cy="-5.9" r="5.7" fill="url(#ew)"/><circle cx="50.7" cy="-5.9" r="5.7" fill="url(#ew)"/><circle cx="67.2" cy="-5.9" r="5.7" fill="url(#ew)"/><circle cx="83.7" cy="-5.9" r="5.7" fill="url(#ew)"/><circle cx="100.2" cy="-5.9" r="5.7" fill="url(#ew)"/><circle cx="115.8" cy="-5.4" r="5.6" fill="url(#ew)"/><circle cx="9" cy="-6.5" r="5" fill="url(#er)"/><circle cx="0" cy="-8.6" r="6.4" fill="url(#er)"/><circle cx="0.8" cy="9.2" r="6.4" fill="url(#er)"/></g>
<clipPath id="stub1"><rect x="-16" y="-22" width="58" height="44"/></clipPath>
<filter id="eb" x="-10%" y="-10%" width="120%" height="120%"><feGaussianBlur stdDeviation="0.45"/></filter>
</defs>
<line x1="840.5" y1="755" x2="1836" y2="755" stroke="#111" stroke-width="2" />
<path d="M1863 755 L1832.6 747.4 L1832.6 762.6 Z" fill="#111" stroke="none" stroke-width="1" />
<path d="M1142.2 645.5 V754" stroke="#111" stroke-width="1.5" fill="none" stroke-dasharray="10.5 12"/>
<path d="M1298.8 645.5 V754" stroke="#111" stroke-width="1.5" fill="none" stroke-dasharray="10.5 12"/>
<path d="M1387.7 645.5 V754" stroke="#111" stroke-width="1.5" fill="none" stroke-dasharray="10.5 12"/>
<path d="M1649.1 645.5 V754" stroke="#111" stroke-width="1.5" fill="none" stroke-dasharray="10.5 12"/>
<path d="M1118 757.7 L891 785.2" stroke="#111" stroke-width="1.5" fill="none" stroke-dasharray="10.5 12"/>
<path d="M884 792.2 V950" stroke="#111" stroke-width="1.5" fill="none" stroke-dasharray="10.5 12"/>
<path d="M1286.2 757 L1153.4 783" stroke="#111" stroke-width="1.5" fill="none" stroke-dasharray="10.5 12"/>
<path d="M1141.8 786.3 V943" stroke="#111" stroke-width="1.5" fill="none" stroke-dasharray="10.5 12"/>
<path d="M1401 757.3 L1507.3 784.9" stroke="#111" stroke-width="1.5" fill="none" stroke-dasharray="10.5 12"/>
<path d="M1511.9 793.2 V951" stroke="#111" stroke-width="1.5" fill="none" stroke-dasharray="10.5 12"/>
<path d="M1663.5 757.3 L1842.3 788.7" stroke="#111" stroke-width="1.5" fill="none" stroke-dasharray="10.5 12"/>
<path d="M1847.6 797.6 V952.4" stroke="#111" stroke-width="1.5" fill="none" stroke-dasharray="10.5 12"/>
<ellipse cx="1000.2" cy="690.8" rx="84" ry="54.6" fill="none" stroke="#3fb07c" stroke-width="1" stroke-dasharray="10 8"/>
<text x="885.4" y="660.8" font-size="17.6" fill="#000" >Bulk</text>
<g filter="url(#eb)">
<use href="#pipm" transform="translate(963.4 675.6)"/>
<use href="#pipm" transform="translate(1041 679) rotate(200)"/>
<use href="#pipm" transform="translate(1003 713.2) rotate(35) scale(-1.00 1.00)"/>
<use href="#pipm" transform="translate(1182.7 670.8) rotate(20) scale(-1.00 1.00)"/>
<use href="#pipm" transform="translate(1254.8 718.9) rotate(40) scale(-1.00 1.00)"/>
<use href="#pipm" transform="translate(1359 662.5) rotate(150) scale(0.92 0.92)"/>
<use href="#pipm" transform="translate(1508.8 658.7) rotate(120) scale(-0.92 0.92)"/>
<use href="#pipm" transform="translate(1698.9 705.8) rotate(60) scale(-0.92 0.92)"/>
<circle cx="1388.4" cy="694.2" r="12" fill="url(#ew)"/>
<circle cx="1430.5" cy="694.2" r="12" fill="url(#ew)"/>
<circle cx="1472.5" cy="694.2" r="12" fill="url(#ew)"/>
<circle cx="1512.9" cy="694.2" r="12" fill="url(#ew)"/>
<circle cx="1555" cy="694.2" r="12" fill="url(#ew)"/>
<circle cx="1597" cy="694.2" r="12" fill="url(#ew)"/>
<circle cx="1371.9" cy="729.7" r="11.6" fill="url(#ew)"/>
<circle cx="1412.3" cy="729.7" r="11.6" fill="url(#ew)"/>
<circle cx="1454.4" cy="729.7" r="11.6" fill="url(#ew)"/>
<circle cx="1496.4" cy="729.7" r="11.6" fill="url(#ew)"/>
<circle cx="1536.8" cy="729.7" r="11.6" fill="url(#ew)"/>
<circle cx="1578.8" cy="729.7" r="11.6" fill="url(#ew)"/>
<circle cx="1619.2" cy="729.7" r="11.6" fill="url(#ew)"/>
<circle cx="1380.9" cy="718.2" r="11.4" fill="url(#sg)"/>
<circle cx="1399.4" cy="713.2" r="11.4" fill="url(#sg)"/>
<circle cx="1421.3" cy="718.2" r="11.4" fill="url(#sg)"/>
<circle cx="1441.5" cy="713.2" r="11.4" fill="url(#sg)"/>
<circle cx="1463.4" cy="718.2" r="11.4" fill="url(#sg)"/>
<circle cx="1483.5" cy="713.2" r="11.4" fill="url(#sg)"/>
<circle cx="1505.4" cy="718.2" r="11.4" fill="url(#sg)"/>
<circle cx="1523.9" cy="713.2" r="11.4" fill="url(#sg)"/>
<circle cx="1545.8" cy="718.2" r="11.4" fill="url(#sg)"/>
<circle cx="1566" cy="713.2" r="11.4" fill="url(#sg)"/>
<circle cx="1587.8" cy="718.2" r="11.4" fill="url(#sg)"/>
<circle cx="1608" cy="713.2" r="11.4" fill="url(#sg)"/>
<circle cx="1628.2" cy="718.2" r="11.4" fill="url(#sg)"/>
<circle cx="1380.9" cy="734.2" r="12.6" fill="url(#ew)"/>
<circle cx="1421.3" cy="734.2" r="12.6" fill="url(#ew)"/>
<circle cx="1463.4" cy="734.2" r="12.6" fill="url(#ew)"/>
<circle cx="1505.4" cy="734.2" r="12.6" fill="url(#ew)"/>
<circle cx="1545.8" cy="734.2" r="12.6" fill="url(#ew)"/>
<circle cx="1587.8" cy="734.2" r="12.6" fill="url(#ew)"/>
<circle cx="1628.2" cy="734.2" r="12.6" fill="url(#ew)"/>
<circle cx="1400.4" cy="696.7" r="13" fill="url(#ew)"/>
<circle cx="1442.5" cy="696.7" r="13" fill="url(#ew)"/>
<circle cx="1484.5" cy="696.7" r="13" fill="url(#ew)"/>
<circle cx="1524.9" cy="696.7" r="13" fill="url(#ew)"/>
<circle cx="1567" cy="696.7" r="13" fill="url(#ew)"/>
<circle cx="1609" cy="696.7" r="13" fill="url(#ew)"/>
<circle cx="1629" cy="717.2" r="11" fill="url(#ew)"/>
<circle cx="1323.7" cy="692.3" r="13.4" fill="url(#er)"/>
<circle cx="1343" cy="712.5" r="13" fill="url(#ey)"/>
<circle cx="1365.8" cy="699.1" r="13.2" fill="url(#er)"/>
<circle cx="1338.9" cy="731.4" r="13.8" fill="url(#er)"/>
<line x1="1346" y1="714.2" x2="1622" y2="714.2" stroke="#b8d84a" stroke-width="0.7" stroke-dasharray="1 1"/>
<text x="1405.4" y="702" font-size="5.6" fill="#5a66d8" text-anchor="middle" >0.053</text>
<text x="1447.5" y="702" font-size="5.6" fill="#5a66d8" text-anchor="middle" >0.054</text>
<text x="1489.5" y="702" font-size="5.6" fill="#5a66d8" text-anchor="middle" >0.054</text>
<text x="1529.9" y="702" font-size="5.6" fill="#5a66d8" text-anchor="middle" >0.063</text>
<text x="1572" y="702" font-size="5.6" fill="#5a66d8" text-anchor="middle" >0.057</text>
<text x="1614" y="702" font-size="5.6" fill="#5a66d8" text-anchor="middle" >0.061</text>
<text x="1427.3" y="733" font-size="5.6" fill="#5a66d8" text-anchor="middle" >0.060</text>
<text x="1469.4" y="733" font-size="5.6" fill="#5a66d8" text-anchor="middle" >0.058</text>
<text x="1511.4" y="733" font-size="5.6" fill="#5a66d8" text-anchor="middle" >0.053</text>
<text x="1551.8" y="733" font-size="5.6" fill="#5a66d8" text-anchor="middle" >0.057</text>
<text x="1593.8" y="733" font-size="5.6" fill="#5a66d8" text-anchor="middle" >0.065</text>
<text x="1634.2" y="733" font-size="5.6" fill="#5a66d8" text-anchor="middle" >0.064</text>
<text x="1330" y="693" font-size="5.6" fill="#5a66d8" text-anchor="middle" >0.761</text>
<text x="1369" y="700" font-size="5.6" fill="#5a66d8" text-anchor="middle" >0.76</text>
<text x="1341" y="731" font-size="5.6" fill="#5a66d8" text-anchor="middle" >0.755</text>
<text x="1417" y="689" font-size="5.6" fill="#5a66d8" text-anchor="middle" >20</text>
<text x="1459" y="691" font-size="5.6" fill="#5a66d8" text-anchor="middle" >61</text>
<text x="1500" y="692" font-size="5.6" fill="#5a66d8" text-anchor="middle" >58</text>
<text x="1542" y="693" font-size="5.6" fill="#5a66d8" text-anchor="middle" >57</text>
<text x="1584" y="693" font-size="5.6" fill="#5a66d8" text-anchor="middle" >57</text>
<text x="1625" y="693" font-size="5.6" fill="#5a66d8" text-anchor="middle" >18</text>
<text x="1636" y="717" font-size="5.6" fill="#5a66d8" text-anchor="middle" >0.065</text>
<text x="1388" y="733" font-size="5.6" fill="#5a66d8" text-anchor="middle" >0.06</text>
<text x="1343" y="716" font-size="5.6" fill="#a8b83a" text-anchor="middle" >1.606</text>
<use href="#pipm" transform="translate(932.5 839.5) scale(-1.00 1.00)"/>
<use href="#pipm" transform="translate(933 916.5) rotate(75) scale(0.98 0.98)"/>
<use href="#sdsm" transform="translate(986.7 843.2) rotate(-1.5)"/>
<use href="#sdsm" transform="translate(981 920) rotate(-1.5) scale(1.04 1.00)"/>
<line x1="952" y1="840.5" x2="974" y2="838" stroke="#b6e89a" stroke-width="0.7" />
<line x1="952" y1="920" x2="968" y2="917" stroke="#b6e89a" stroke-width="0.7" />
<circle cx="1208.2" cy="866.2" r="3.3" fill="url(#ew)"/>
<circle cx="1211.8" cy="864.5" r="3.3" fill="url(#ew)"/>
<circle cx="1215.4" cy="862.9" r="3.3" fill="url(#ew)"/>
<circle cx="1218.9" cy="861.2" r="3.3" fill="url(#ew)"/>
<circle cx="1222.5" cy="859.5" r="3.3" fill="url(#ew)"/>
<circle cx="1226.1" cy="857.9" r="3.3" fill="url(#ew)"/>
<circle cx="1229.7" cy="856.2" r="3.3" fill="url(#ew)"/>
<circle cx="1206" cy="861.5" r="3.3" fill="url(#ew)"/>
<circle cx="1209.6" cy="859.8" r="3.3" fill="url(#ew)"/>
<circle cx="1213.2" cy="858.2" r="3.3" fill="url(#ew)"/>
<circle cx="1216.8" cy="856.5" r="3.3" fill="url(#ew)"/>
<circle cx="1220.3" cy="854.8" r="3.3" fill="url(#ew)"/>
<circle cx="1223.9" cy="853.2" r="3.3" fill="url(#ew)"/>
<circle cx="1227.5" cy="851.5" r="3.3" fill="url(#ew)"/>
<circle cx="1203.8" cy="856.8" r="3.3" fill="url(#ew)"/>
<circle cx="1207.4" cy="855.1" r="3.3" fill="url(#ew)"/>
<circle cx="1211" cy="853.5" r="3.3" fill="url(#ew)"/>
<circle cx="1214.6" cy="851.8" r="3.3" fill="url(#ew)"/>
<circle cx="1218.1" cy="850.1" r="3.3" fill="url(#ew)"/>
<circle cx="1221.7" cy="848.5" r="3.3" fill="url(#ew)"/>
<circle cx="1225.3" cy="846.8" r="3.3" fill="url(#ew)"/>
<circle cx="1191.7" cy="858.4" r="5.2" fill="url(#er)"/>
<circle cx="1196.6" cy="863.6" r="6.2" fill="url(#ey)"/>
<circle cx="1202.3" cy="858.6" r="5.4" fill="url(#er)"/>
<circle cx="1195.9" cy="870.9" r="5.4" fill="url(#er)"/>
<use href="#pipm" transform="translate(1198.6 835) rotate(90) scale(0.84 0.84)"/>
<circle cx="1321.7" cy="865" r="3.3" fill="url(#ew)"/>
<circle cx="1325.4" cy="862.7" r="3.3" fill="url(#ew)"/>
<circle cx="1329.2" cy="860.5" r="3.3" fill="url(#ew)"/>
<circle cx="1332.9" cy="858.2" r="3.3" fill="url(#ew)"/>
<circle cx="1336.7" cy="856" r="3.3" fill="url(#ew)"/>
<circle cx="1319" cy="860.5" r="3.3" fill="url(#ew)"/>
<circle cx="1322.8" cy="858.2" r="3.3" fill="url(#ew)"/>
<circle cx="1326.5" cy="856" r="3.3" fill="url(#ew)"/>
<circle cx="1330.2" cy="853.8" r="3.3" fill="url(#ew)"/>
<circle cx="1334" cy="851.5" r="3.3" fill="url(#ew)"/>
<circle cx="1316.3" cy="856" r="3.3" fill="url(#ew)"/>
<circle cx="1320.1" cy="853.8" r="3.3" fill="url(#ew)"/>
<circle cx="1323.8" cy="851.5" r="3.3" fill="url(#ew)"/>
<circle cx="1327.6" cy="849.3" r="3.3" fill="url(#ew)"/>
<circle cx="1331.3" cy="847" r="3.3" fill="url(#ew)"/>
<circle cx="1306.7" cy="857.7" r="5.5" fill="url(#er)"/>
<circle cx="1310.7" cy="864" r="6.5" fill="url(#ey)"/>
<circle cx="1317.7" cy="860" r="5.7" fill="url(#er)"/>
<circle cx="1308.5" cy="871.4" r="5.7" fill="url(#er)"/>
<use href="#pipm" transform="translate(1319.8 832.4) rotate(160) scale(-0.92 0.92)"/>
<g transform="translate(1435.2 855.6) rotate(2) scale(0.9)"><g clip-path="url(#stub1)"><use href="#sdsm"/></g></g>
<use href="#pipm" transform="translate(1426.8 829.4) rotate(200) scale(0.84 0.84)"/>
<use href="#pipm" transform="translate(1199 922.8) rotate(180) scale(-0.80 0.80)"/>
<g transform="translate(1223.4 927.6) rotate(-8) scale(0.66)"><g clip-path="url(#stub1)"><use href="#sdsm"/></g></g>
<use href="#pipm" transform="translate(1309 921.8) rotate(180) scale(-0.84 0.84)"/>
<g transform="translate(1332.4 930.2) rotate(-12) scale(0.68)"><g clip-path="url(#stub1)"><use href="#sdsm"/></g></g>
<g transform="translate(1417.8 939.4) rotate(-50) scale(0.74)"><g clip-path="url(#stub1)"><use href="#sdsm"/></g></g>
<use href="#pipm" transform="translate(1414.4 911.5) rotate(95) scale(0.90 0.90)"/>
<use href="#sdsm" transform="translate(1542.3 855.6) scale(0.40 0.70)"/>
<use href="#pipm" transform="translate(1558.4 834) rotate(120) scale(0.64 0.64)"/>
<use href="#sdsm" transform="translate(1652.5 849) rotate(6) scale(0.44 0.80)"/>
<use href="#pipm" transform="translate(1682.4 833.4) rotate(30) scale(0.64 0.64)"/>
<use href="#sdsm" transform="translate(1757.5 857) rotate(-1) scale(0.57 0.70)"/>
<use href="#pipm" transform="translate(1800 833.6) rotate(200) scale(0.64 0.64)"/>
<use href="#sdsm" transform="translate(1597.4 922.6) scale(0.56 0.64)"/>
<use href="#pipm" transform="translate(1643 908.6) rotate(210) scale(0.64 0.64)"/>
<use href="#sdsm" transform="translate(1717.2 928) rotate(-1) scale(0.60 0.64)"/>
<use href="#pipm" transform="translate(1773.4 908) rotate(200) scale(0.64 0.64)"/>
</g>
<text x="967.2" y="800.8" font-size="18" fill="#000" >Attraction</text>
<text x="1285" y="800.8" font-size="18" fill="#000" >Engagement</text>
<text x="1641.8" y="800.8" font-size="18" fill="#000" >Transport</text>
<text x="911.4" y="821.8" font-size="15" fill="#000" >1</text>
<text x="910.4" y="899.6" font-size="15" fill="#000" >2</text>
<text x="1181" y="822.6" font-size="15" fill="#000" >1</text>
<text x="1293" y="823" font-size="15" fill="#000" >2</text>
<text x="1402.8" y="823" font-size="15" fill="#000" >3</text>
<text x="1181" y="911.2" font-size="15" fill="#000" >4</text>
<text x="1286.8" y="910.4" font-size="15" fill="#000" >5</text>
<text x="1387.6" y="910.4" font-size="15" fill="#000" >6</text>
<text x="1535.6" y="822.6" font-size="15" fill="#000" >1</text>
<text x="1641" y="822.6" font-size="15" fill="#000" >2</text>
<text x="1744.4" y="822.6" font-size="15" fill="#000" >3</text>
<text x="1588" y="910" font-size="15" fill="#000" >4</text>
<text x="1708.4" y="910" font-size="15" fill="#000" >5</text>
<text x="974.6" y="875" font-size="16.2" fill="#000" >(–0.111 eV)</text>
<text x="974.6" y="952" font-size="16.2" fill="#000" >(– 0.116 eV)</text>
<text x="1176.4" y="887.8" font-size="14.5" fill="#000" >(– 0.200 eV)</text>
<text x="1296.4" y="887" font-size="14.5" fill="#000" >(– 0.140 eV)</text>
<text x="1415" y="886.2" font-size="14.5" fill="#000" >(– 0.043 eV)</text>
<text x="1176.4" y="953.2" font-size="14.5" fill="#000" >(– 0.140 eV)</text>
<text x="1289.4" y="952.6" font-size="14.5" fill="#000" >(– 0.179 eV)</text>
<text x="1427.4" y="952.6" font-size="14.5" fill="#000" >(– 0.182 eV)</text>
<text x="1535" y="886.4" font-size="14.5" fill="#000" >(– 0.285 eV)</text>
<text x="1648.6" y="886.4" font-size="14.5" fill="#000" >(– 0.322 eV)</text>
<text x="1761.8" y="886.4" font-size="14.5" fill="#000" >(– 0.277 eV)</text>
<text x="1588" y="952" font-size="14.5" fill="#000" >(– 0.283 eV)</text>
<text x="1713.2" y="952" font-size="14.5" fill="#000" >(– 0.258 eV)</text>
<text x="1855" y="778.2" font-size="17.6"><tspan font-style="italic">E</tspan><tspan font-size="10" dy="4">ads</tspan><tspan dy="-4"> (eV)</tspan></text>
</g>
<g id="panel_f">
<defs>
<filter id="fsh" x="-5%" y="-5%" width="110%" height="110%"><feGaussianBlur stdDeviation="2.2"/></filter>
<filter id="slabn" x="0" y="0" width="100%" height="100%"><feTurbulence type="fractalNoise" baseFrequency="0.9" numOctaves="1" seed="3"/><feColorMatrix type="matrix" values="0 0 0 0 0.3  0 0 0 0 0.3  0 0 0 0 0.3  2.2 0 0 0 -1.0"/><feComposite in2="SourceGraphic" operator="in"/></filter>
<pattern id="slabL" width="3" height="20" patternUnits="userSpaceOnUse"><rect width="3" height="20" fill="#b9b9b9"/><rect width="1.2" height="20" fill="#9c9c9c"/></pattern>
<pattern id="slabR" width="3.4" height="20" patternUnits="userSpaceOnUse"><rect width="3.4" height="20" fill="#c4c4c4"/><rect width="1.3" height="20" fill="#a4a4a4"/></pattern>
<linearGradient id="barr" x1="0" y1="0" x2="1" y2="0"><stop offset="0" stop-color="#a8cdf2"/><stop offset="0.5" stop-color="#8bbaec"/><stop offset="1" stop-color="#9dc6f0"/></linearGradient>
</defs>
<rect x="2" y="1011.5" width="1140.5" height="432.5" fill="none" stroke="#dedede" stroke-width="3" filter="url(#fsh)"/>
<rect x="4.4" y="1014" width="1135.6" height="427.6" fill="#fff"/>
<path d="M10.8 1306.2 L117.5 1375.8 L117.5 1386.8 L10.8 1317.2 Z" fill="url(#slabL)" stroke="none" stroke-width="1" /><path d="M117.5 1375.8 L329.4 1343.4 L329.4 1354.4 L117.5 1386.8 Z" fill="url(#slabR)" stroke="none" stroke-width="1" /><path d="M10.8 1306.2 L222.7 1273.8 L329.4 1343.4 L117.5 1375.8 Z" fill="#e6e6e6" stroke="none" stroke-width="1" /><path d="M10.8 1306.2 L222.7 1273.8 L329.4 1343.4 L117.5 1375.8 Z" fill="#000" stroke="none" stroke-width="1" filter="url(#slabn)" opacity="0.5"/>
<path d="M7.7 1270.7 L220.5 1238.2 L327.3 1307.8 L114.5 1340.3 Z" fill="#86d2ee" stroke="none" stroke-width="1" fill-opacity="0.62"/><path d="M7.7 1270.7 L220.5 1238.2 L327.3 1307.8" fill="none" stroke="#6a6a6a" stroke-width="0.7" /><path d="M7.7 1270.7 L114.5 1340.3 L327.3 1307.8" fill="none" stroke="#1c1c1c" stroke-width="1.8" stroke-linejoin="miter"/>
<path d="M9.3 1234.2 L223 1203.3 L328.8 1269.1 L115.1 1300 Z" fill="#f28a8e" stroke="none" stroke-width="1" fill-opacity="0.6"/><path d="M9.3 1234.2 L223 1203.3 L328.8 1269.1" fill="none" stroke="#6a6a6a" stroke-width="0.7" /><path d="M9.3 1234.2 L115.1 1300 L328.8 1269.1" fill="none" stroke="#1c1c1c" stroke-width="1.8" stroke-linejoin="miter"/>
<path d="M10.8 1196.4 L224.2 1162.9 L329.4 1230.4 L116 1263.9 Z" fill="#86d2ee" stroke="none" stroke-width="1" fill-opacity="0.62"/><path d="M10.8 1196.4 L224.2 1162.9 L329.4 1230.4" fill="none" stroke="#6a6a6a" stroke-width="0.7" /><path d="M10.8 1196.4 L116 1263.9 L329.4 1230.4" fill="none" stroke="#1c1c1c" stroke-width="1.8" stroke-linejoin="miter"/>
<path d="M6.8 1161.8 L218.1 1129.9 L326.3 1195.5 L112.9 1230.4 Z" fill="#f28a8e" stroke="none" stroke-width="1" fill-opacity="0.6"/><path d="M6.8 1161.8 L218.1 1129.9 L326.3 1195.5" fill="none" stroke="#6a6a6a" stroke-width="0.7" /><path d="M6.8 1161.8 L112.9 1230.4 L326.3 1195.5" fill="none" stroke="#1c1c1c" stroke-width="1.8" stroke-linejoin="miter"/>
<path d="M166.1 1060.8 L192.4 1058.6 L192.4 1400.6 L205.7 1398.6 L178.5 1431.5 L151.6 1403.6 L166.1 1402.2 Z" fill="url(#barr)" stroke="#2c3e5a" stroke-width="1.1" fill-opacity="0.5" stroke-linejoin="miter"/>
<line x1="326.3" y1="1195.5" x2="371.2" y2="1116.9" stroke="#e8262a" stroke-width="1.3" />
<line x1="332.5" y1="1266" x2="372.7" y2="1216.5" stroke="#e8262a" stroke-width="1.3" />
<line x1="497.1" y1="1115.1" x2="553.7" y2="1134.6" stroke="#e8262a" stroke-width="1.3" />
<line x1="497.1" y1="1218.1" x2="553.7" y2="1226.4" stroke="#e8262a" stroke-width="1.3" />
<line x1="329.4" y1="1228.3" x2="390.4" y2="1253.7" stroke="#2ea3e6" stroke-width="1.3" />
<line x1="327.9" y1="1306.2" x2="389.1" y2="1378.9" stroke="#2ea3e6" stroke-width="1.3" />
<line x1="470.2" y1="1250.6" x2="552.2" y2="1169.5" stroke="#2ea3e6" stroke-width="1.3" />
<line x1="476.4" y1="1378.9" x2="558.3" y2="1264.5" stroke="#2ea3e6" stroke-width="1.3" />
<rect x="371.4" y="1102.2" width="125.6" height="126.6" rx="21" fill="#fbe5e5" stroke="#1e1e1e" stroke-width="1.5"/>
<rect x="388.4" y="1250" width="89.4" height="138.2" rx="17" fill="#e7f5fc" stroke="#1e1e1e" stroke-width="1.5"/>
<path d="M375.8 1140.7 L491.8 1140.7" fill="none" stroke="#999" stroke-width="0.7" stroke-linejoin="round"/>
<path d="M394.4 1122.2 L387.3 1122.2 L387.3 1215 L394.4 1215" fill="none" stroke="#666" stroke-width="0.9" stroke-linejoin="round"/>
<path d="M471.7 1122.2 L478.8 1122.2 L478.8 1215 L471.7 1215" fill="none" stroke="#666" stroke-width="0.9" stroke-linejoin="round"/>
<path d="M413 1140.7 L425.3 1158.4 L420.1 1176.3 L436.2 1187.1 L452.2 1176.3 L447 1158.4 L459.4 1140.7" fill="none" stroke="#5a5a5a" stroke-width="1.1" stroke-linejoin="round"/>
<path d="M425.3 1158.4 L447 1158.4" fill="none" stroke="#5a5a5a" stroke-width="1.1" stroke-linejoin="round"/>
<path d="M432.4 1192.4 L423.2 1202.6" fill="none" stroke="#5a5a5a" stroke-width="1.1" stroke-linejoin="round"/>
<path d="M439.9 1192.4 L449.1 1202.6" fill="none" stroke="#5a5a5a" stroke-width="1.1" stroke-linejoin="round"/>
<text x="436.2" y="1191.8" font-size="10.5" fill="#444" text-anchor="middle" >N</text>
<text x="438.6" y="1180" font-size="5.5" fill="#444" text-anchor="middle" >+</text>
<text x="452.2" y="1196.4" font-size="9" fill="#555" >Cl</text>
<text x="465.5" y="1189.3" font-size="7" fill="#555" >-</text>
<text x="480.1" y="1221.2" font-size="8.5" fill="#444" font-style="italic" >n</text>
<path d="M399 1282.1 L454.7 1272.2" fill="none" stroke="#5a5a5a" stroke-width="1.0" stroke-linejoin="round"/>
<path d="M414.5 1279.9 L436.8 1284.6 L436.8 1306.2" fill="none" stroke="#5a5a5a" stroke-width="1.0" stroke-linejoin="round"/>
<path d="M413 1262.9 L408.9 1262.9 L408.9 1292.3 L413 1292.3" fill="none" stroke="#555" stroke-width="0.9" stroke-linejoin="round"/>
<path d="M445.4 1262.9 L449.5 1262.9 L449.5 1292.3 L445.4 1292.3" fill="none" stroke="#555" stroke-width="0.9" stroke-linejoin="round"/>
<text x="451" y="1294.5" font-size="7.5" fill="#444" font-style="italic" >n</text>
<path d="M436.8 1306.2 L454.7 1317.1 L454.7 1338.7 L436.8 1349.5 L418.2 1338.7 L418.2 1317.1 Z" fill="none" stroke="#5a5a5a" stroke-width="1.1" stroke-linejoin="round"/>
<path d="M451 1320.5 L451 1335.3" fill="none" stroke="#5a5a5a" stroke-width="0.9" stroke-linejoin="round"/>
<path d="M421.9 1320.5 L421.9 1335.3" fill="none" stroke="#5a5a5a" stroke-width="0.9" stroke-linejoin="round"/>
<path d="M436.8 1349.5 L436.8 1366.6" fill="none" stroke="#5a5a5a" stroke-width="1.0" stroke-linejoin="round"/>
<text x="432.1" y="1376.8" font-size="9.5" fill="#888">SO<tspan font-size="6.5" dy="2">3</tspan><tspan font-size="7" dy="-6">-</tspan></text>
<text x="387" y="1122.8" font-size="21.5" fill="#1a1a1a" >Polycation</text>
<text x="387" y="1409" font-size="21.5" fill="#1a1a1a" >Polyanion</text>
<text x="282" y="1036" font-size="28.5" fill="#1a1a1a" textLength="310" lengthAdjust="spacing">Surfactant intercalation</text>
<text x="272.6" y="1078.6" font-size="28.5" fill="#1a1a1a" textLength="328" lengthAdjust="spacing">enhances permselectivity</text>
<line x1="219" y1="1052.6" x2="660" y2="1052.6" stroke="#000" stroke-width="4.2" />
<path d="M683.4 1052.4 L658 1039.4 L658 1065.4 Z" fill="#000" stroke="none" stroke-width="1" />
<path d="M563.1 1298.9 L678.2 1372.8 L678.2 1382.6 L563.1 1308.7 Z" fill="url(#slabL)" stroke="none" stroke-width="1" /><path d="M678.2 1372.8 L890.3 1340 L890.3 1349.8 L678.2 1382.6 Z" fill="url(#slabR)" stroke="none" stroke-width="1" /><path d="M563.1 1298.9 L775.2 1266.1 L890.3 1340 L678.2 1372.8 Z" fill="#e6e6e6" stroke="none" stroke-width="1" /><path d="M563.1 1298.9 L775.2 1266.1 L890.3 1340 L678.2 1372.8 Z" fill="#000" stroke="none" stroke-width="1" filter="url(#slabn)" opacity="0.5"/>
<path d="M557.7 1263.6 L769.2 1230.5 L883.9 1302.8 L672.4 1335.9 Z" fill="#86d2ee" stroke="none" stroke-width="1" fill-opacity="0.62"/><path d="M557.7 1263.6 L769.2 1230.5 L883.9 1302.8" fill="none" stroke="#6a6a6a" stroke-width="0.7" /><path d="M557.7 1263.6 L672.4 1335.9 L883.9 1302.8" fill="none" stroke="#1c1c1c" stroke-width="1.8" stroke-linejoin="miter"/>
<ellipse cx="687.2" cy="1250.1" rx="22.5" ry="8.2" fill="#ffc20e" transform="rotate(-4 687.2 1250.1)"/>
<ellipse cx="771.4" cy="1245.9" rx="23" ry="8.6" fill="#ffc20e" transform="rotate(-4 771.4 1245.9)"/>
<ellipse cx="745.1" cy="1279" rx="25" ry="9" fill="#ffc20e" transform="rotate(-4 745.1 1279)"/>
<ellipse cx="810" cy="1277" rx="25" ry="9" fill="#ffc20e" transform="rotate(-4 810 1277)"/>
<ellipse cx="680.8" cy="1293.1" rx="25" ry="9" fill="#ffc20e" transform="rotate(-4 680.8 1293.1)"/>
<path d="M552.2 1225 L764.3 1196.7 L879.1 1264.2 L667 1292.5 Z" fill="#f28a8e" stroke="none" stroke-width="1" fill-opacity="0.6"/><path d="M552.2 1225 L764.3 1196.7 L879.1 1264.2" fill="none" stroke="#6a6a6a" stroke-width="0.7" /><path d="M552.2 1225 L667 1292.5 L879.1 1264.2" fill="none" stroke="#1c1c1c" stroke-width="1.8" stroke-linejoin="miter"/>
<clipPath id="cR3"><path d="M552.2 1225L764.3 1196.7L879.1 1264.2L667 1292.5Z"/></clipPath>
<g clip-path="url(#cR3)">
<ellipse cx="687.2" cy="1250.1" rx="22.5" ry="8.2" fill="#ff9a0a" transform="rotate(-4 687.2 1250.1)"/>
<ellipse cx="771.4" cy="1245.9" rx="23" ry="8.6" fill="#ff9a0a" transform="rotate(-4 771.4 1245.9)"/>
<ellipse cx="745.1" cy="1279" rx="25" ry="9" fill="#ff9a0a" transform="rotate(-4 745.1 1279)"/>
<ellipse cx="810" cy="1277" rx="25" ry="9" fill="#ff9a0a" transform="rotate(-4 810 1277)"/>
<ellipse cx="680.8" cy="1293.1" rx="25" ry="9" fill="#ff9a0a" transform="rotate(-4 680.8 1293.1)"/>
</g>
<path d="M552.9 1167.1 L763.4 1136.5 L879.1 1208.9 L668.6 1239.5 Z" fill="#86d2ee" stroke="none" stroke-width="1" fill-opacity="0.62"/><path d="M552.9 1167.1 L763.4 1136.5 L879.1 1208.9" fill="none" stroke="#6a6a6a" stroke-width="0.7" /><path d="M552.9 1167.1 L668.6 1239.5 L879.1 1208.9" fill="none" stroke="#1c1c1c" stroke-width="1.8" stroke-linejoin="miter"/>
<ellipse cx="647.7" cy="1180.6" rx="21.9" ry="8" fill="#ffc20e" transform="rotate(-4 647.7 1180.6)"/>
<ellipse cx="715.2" cy="1169.4" rx="28.3" ry="10.6" fill="#ffc20e" transform="rotate(-4 715.2 1169.4)"/>
<ellipse cx="757.9" cy="1152.7" rx="21.9" ry="8" fill="#ffc20e" transform="rotate(-4 757.9 1152.7)"/>
<ellipse cx="776.2" cy="1184.8" rx="25.7" ry="9.6" fill="#ffc20e" transform="rotate(-4 776.2 1184.8)"/>
<ellipse cx="695.9" cy="1203.5" rx="25" ry="9" fill="#ffc20e" transform="rotate(-4 695.9 1203.5)"/>
<path d="M553.5 1135 L766.6 1104.5 L880.7 1177.4 L670.2 1208.9 Z" fill="#f28a8e" stroke="none" stroke-width="1" fill-opacity="0.6"/><path d="M553.5 1135 L766.6 1104.5 L880.7 1177.4" fill="none" stroke="#6a6a6a" stroke-width="0.7" /><path d="M553.5 1135 L670.2 1208.9 L880.7 1177.4" fill="none" stroke="#1c1c1c" stroke-width="1.8" stroke-linejoin="miter"/>
<clipPath id="cR1"><path d="M553.5 1135L766.6 1104.5L880.7 1177.4L670.2 1208.9Z"/></clipPath>
<g clip-path="url(#cR1)">
<ellipse cx="647.7" cy="1180.6" rx="21.9" ry="8" fill="#ff9a0a" transform="rotate(-4 647.7 1180.6)"/>
<ellipse cx="715.2" cy="1169.4" rx="28.3" ry="10.6" fill="#ff9a0a" transform="rotate(-4 715.2 1169.4)"/>
<ellipse cx="757.9" cy="1152.7" rx="21.9" ry="8" fill="#ff9a0a" transform="rotate(-4 757.9 1152.7)"/>
<ellipse cx="776.2" cy="1184.8" rx="25.7" ry="9.6" fill="#ff9a0a" transform="rotate(-4 776.2 1184.8)"/>
<ellipse cx="695.9" cy="1203.5" rx="25" ry="9" fill="#ff9a0a" transform="rotate(-4 695.9 1203.5)"/>
</g>
<path d="M696.8 1027.4 L754.7 1019.3 L754.7 1388.4 L784.3 1385 L725.5 1442 L668.6 1401.8 L696.8 1398.4 Z" fill="url(#barr)" stroke="#2c3e5a" stroke-width="1.1" fill-opacity="0.5"/>
<line x1="787.5" y1="1185.8" x2="924.1" y2="1181.6" stroke="#111" stroke-width="1.5" stroke-dasharray="1.6 1.4"/>
<line x1="834.1" y1="1275.8" x2="924.1" y2="1181.6" stroke="#111" stroke-width="1.5" stroke-dasharray="1.6 1.4"/>
<text x="892.6" y="1083" font-size="28.5" fill="#1a1a1a" textLength="133.4" lengthAdjust="spacing">Surfactant</text>
<text x="892.6" y="1123.2" font-size="28.5" fill="#1a1a1a" textLength="139" lengthAdjust="spacing">assemblies</text>
<path d="M921.5 1161.9 c-1.5 6 1.5 10 0 16 c-1 5 1 9 0.4 13" stroke="#9a9a9a" stroke-width="1.1" fill="none"/>
<path d="M926.9 1161.9 c-1.5 6 1.5 10 0 16 c-1 5 1 9 0.4 13" stroke="#9a9a9a" stroke-width="1.1" fill="none"/>
<path d="M941.7 1161.9 c-1.5 6 1.5 10 0 16 c-1 5 1 9 0.4 13" stroke="#9a9a9a" stroke-width="1.1" fill="none"/>
<path d="M947.1 1161.9 c-1.5 6 1.5 10 0 16 c-1 5 1 9 0.4 13" stroke="#9a9a9a" stroke-width="1.1" fill="none"/>
<path d="M961 1159.7 c-1.5 6 1.5 10 0 16 c-1 5 1 9 0.4 13" stroke="#9a9a9a" stroke-width="1.1" fill="none"/>
<path d="M966.4 1159.7 c-1.5 6 1.5 10 0 16 c-1 5 1 9 0.4 13" stroke="#9a9a9a" stroke-width="1.1" fill="none"/>
<path d="M980.9 1158.1 c-1.5 6 1.5 10 0 16 c-1 5 1 9 0.4 13" stroke="#9a9a9a" stroke-width="1.1" fill="none"/>
<path d="M986.3 1158.1 c-1.5 6 1.5 10 0 16 c-1 5 1 9 0.4 13" stroke="#9a9a9a" stroke-width="1.1" fill="none"/>
<path d="M1000.9 1158.7 c-1.5 6 1.5 10 0 16 c-1 5 1 9 0.4 13" stroke="#9a9a9a" stroke-width="1.1" fill="none"/>
<path d="M1006.3 1158.7 c-1.5 6 1.5 10 0 16 c-1 5 1 9 0.4 13" stroke="#9a9a9a" stroke-width="1.1" fill="none"/>
<path d="M931.9 1203.5 c1.5 -6 -1.5 -10 0 -16 c1 -5 -1 -8 -0.4 -11" stroke="#9a9a9a" stroke-width="1.1" fill="none"/>
<path d="M937.3 1203.5 c1.5 -6 -1.5 -10 0 -16 c1 -5 -1 -8 -0.4 -11" stroke="#9a9a9a" stroke-width="1.1" fill="none"/>
<path d="M952.8 1201.3 c1.5 -6 -1.5 -10 0 -16 c1 -5 -1 -8 -0.4 -11" stroke="#9a9a9a" stroke-width="1.1" fill="none"/>
<path d="M958.2 1201.3 c1.5 -6 -1.5 -10 0 -16 c1 -5 -1 -8 -0.4 -11" stroke="#9a9a9a" stroke-width="1.1" fill="none"/>
<path d="M974.3 1201.3 c1.5 -6 -1.5 -10 0 -16 c1 -5 -1 -8 -0.4 -11" stroke="#9a9a9a" stroke-width="1.1" fill="none"/>
<path d="M979.7 1201.3 c1.5 -6 -1.5 -10 0 -16 c1 -5 -1 -8 -0.4 -11" stroke="#9a9a9a" stroke-width="1.1" fill="none"/>
<path d="M995.2 1200.3 c1.5 -6 -1.5 -10 0 -16 c1 -5 -1 -8 -0.4 -11" stroke="#9a9a9a" stroke-width="1.1" fill="none"/>
<path d="M1000.6 1200.3 c1.5 -6 -1.5 -10 0 -16 c1 -5 -1 -8 -0.4 -11" stroke="#9a9a9a" stroke-width="1.1" fill="none"/>
<circle cx="924.1" cy="1154.9" r="7.8" fill="#fbb80e" stroke="#141414" stroke-width="1.2"/>
<circle cx="944.3" cy="1154.9" r="7.8" fill="#fbb80e" stroke="#141414" stroke-width="1.2"/>
<circle cx="963.6" cy="1152.7" r="7.8" fill="#fbb80e" stroke="#141414" stroke-width="1.2"/>
<circle cx="983.5" cy="1151.1" r="7.8" fill="#fbb80e" stroke="#141414" stroke-width="1.2"/>
<circle cx="1003.5" cy="1151.7" r="7.8" fill="#fbb80e" stroke="#141414" stroke-width="1.2"/>
<circle cx="934.7" cy="1210.5" r="7.8" fill="#fbb80e" stroke="#141414" stroke-width="1.2"/>
<circle cx="955.6" cy="1208.3" r="7.8" fill="#fbb80e" stroke="#141414" stroke-width="1.2"/>
<circle cx="977.1" cy="1208.3" r="7.8" fill="#fbb80e" stroke="#141414" stroke-width="1.2"/>
<circle cx="998" cy="1207.3" r="7.8" fill="#fbb80e" stroke="#141414" stroke-width="1.2"/>
<line x1="999" y1="1183.8" x2="1047.4" y2="1182.6" stroke="#222" stroke-width="1.2" />
<rect x="1048" y="1064.4" width="89.8" height="101" rx="11" fill="#fdf8e9" stroke="#9a9a9a" stroke-width="1.2"/>
<rect x="1048" y="1172.2" width="89.8" height="245.6" rx="11" fill="#f4f4f4" stroke="#8a8a8a" stroke-width="1.2"/>
<path d="M1099.6 1158 L1098 1166 L1096.2 1175 L1107.4 1192 L1094.6 1211.9 L1107.4 1231.8 L1094.6 1251.7 L1107.4 1271.6 L1094.6 1291.5 L1107.4 1311.4 L1094.6 1331.3 L1107.4 1351.2 L1094.6 1371.1 L1107.4 1391 L1094.6 1410.9" fill="none" stroke="#3a3a3a" stroke-width="1.2" stroke-linejoin="round"/>
<text transform="translate(1112.6 1155) rotate(-90)" font-size="11" fill="#555" text-anchor="middle">O</text>
<text transform="translate(1102 1133.6) rotate(-90)" font-size="12" fill="#555" text-anchor="middle">S</text>
<text transform="translate(1112.6 1112) rotate(-90)" font-size="11" fill="#555" text-anchor="middle">O</text>
<text transform="translate(1086 1113) rotate(-90)" font-size="11" fill="#555" text-anchor="middle">O</text>
<text transform="translate(1074.6 1133.6) rotate(-90)" font-size="11" fill="#555" text-anchor="middle">O</text>
<text transform="translate(1114 1087) rotate(-90)" font-size="11" fill="#555" text-anchor="middle">Na</text>
<text transform="translate(1106 1077) rotate(-90)" font-size="7" fill="#555" text-anchor="middle">+</text>
<text transform="translate(1106 1123) rotate(-90)" font-size="8" fill="#555" text-anchor="middle">-</text>
<line x1="1108.8" y1="1150" x2="1103" y2="1139" stroke="#666" stroke-width="0.9" />
<line x1="1103" y1="1128.6" x2="1108.8" y2="1117.4" stroke="#666" stroke-width="0.9" />
<line x1="1096" y1="1127" x2="1088" y2="1118" stroke="#666" stroke-width="0.9" />
<line x1="1098.4" y1="1125.4" x2="1090.4" y2="1116.4" stroke="#666" stroke-width="0.9" />
<line x1="1094.4" y1="1132.4" x2="1081" y2="1132.4" stroke="#666" stroke-width="0.9" />
<line x1="1094.4" y1="1135" x2="1081" y2="1135" stroke="#666" stroke-width="0.9" />
</g>
<g id="panel_g">
<defs>
<filter id="afmn" x="0" y="0" width="100%" height="100%" color-interpolation-filters="sRGB">
<feTurbulence type="fractalNoise" baseFrequency="0.035 0.03" numOctaves="2" seed="8" result="big"/>
<feTurbulence type="fractalNoise" baseFrequency="0.42 0.16" numOctaves="2" seed="5" result="fine"/>
<feComposite in="big" in2="fine" operator="arithmetic" k1="0" k2="0.62" k3="0.5" k4="-0.06" result="mix"/>
<feColorMatrix in="mix" type="matrix" values="2.5 0 0 0 -0.78  2.5 0 0 0 -0.78  2.5 0 0 0 -0.78  0 0 0 0 1" result="g"/>
<feComponentTransfer in="g"><feFuncR type="table" tableValues="0.4 0.56 0.7 0.82 0.9 1"/><feFuncG type="table" tableValues="0.13 0.24 0.37 0.53 0.72 0.95"/><feFuncB type="table" tableValues="0.03 0.05 0.08 0.14 0.32 0.7"/></feComponentTransfer>
<feComposite in2="SourceGraphic" operator="in"/>
</filter>
<linearGradient id="cbar" x1="0" y1="0" x2="0" y2="1"><stop offset="0" stop-color="#fff"/><stop offset="0.1" stop-color="#fbeecf"/><stop offset="0.3" stop-color="#dba848"/><stop offset="0.5" stop-color="#b26b1c"/><stop offset="0.68" stop-color="#7a300a"/><stop offset="0.85" stop-color="#2e0e04"/><stop offset="1" stop-color="#000"/></linearGradient>
<filter id="gb" x="-5%" y="-5%" width="110%" height="110%"><feGaussianBlur stdDeviation="0.6"/></filter>
<filter id="gb2" x="-5%" y="-20%" width="110%" height="140%"><feGaussianBlur stdDeviation="0.7"/></filter>
</defs>
<path d="M1172.2 1264.5 L1414.5 1434.1 L1640.7 1252.4 M1638.6 1254.4 V1185.8 M1180.3 1234.2 L1172.2 1264.5 M1416.5 1389.7 L1414.5 1434.1" stroke="#8a8a8a" stroke-width="0.9" fill="none" stroke-dasharray="3 1.6"/>
<line x1="1232.8" y1="1306.9" x2="1229.8" y2="1310.9" stroke="#8a8a8a" stroke-width="0.9" />
<line x1="1471" y1="1388.7" x2="1474" y2="1392.7" stroke="#8a8a8a" stroke-width="0.9" />
<line x1="1293.3" y1="1349.3" x2="1290.3" y2="1353.3" stroke="#8a8a8a" stroke-width="0.9" />
<line x1="1527.6" y1="1343.2" x2="1530.6" y2="1347.2" stroke="#8a8a8a" stroke-width="0.9" />
<line x1="1353.9" y1="1391.7" x2="1350.9" y2="1395.7" stroke="#8a8a8a" stroke-width="0.9" />
<line x1="1584.2" y1="1297.8" x2="1587.2" y2="1301.8" stroke="#8a8a8a" stroke-width="0.9" />
<path d="M1638.6 1185.8h5M1638.6 1220h4M1638.6 1254.4h5" stroke="#8a8a8a" stroke-width="0.9"/>
<g filter="url(#gb)">
<path d="M1180.3 1233 L1183.9 1226.5 L1187.5 1224 L1191.1 1222.2 L1194.7 1221.1 L1198.3 1214.2 L1201.9 1211.2 L1205.5 1210.4 L1209.1 1207.5 L1212.7 1206.5 L1216.3 1205.2 L1219.9 1199.8 L1223.5 1195.4 L1227.1 1196.1 L1230.7 1188.1 L1234.3 1189.2 L1237.9 1186.3 L1241.5 1184.7 L1245.1 1175.1 L1248.7 1174.1 L1252.3 1170.2 L1255.9 1169.1 L1259.5 1170.3 L1263.1 1165.4 L1266.7 1161.3 L1270.3 1161.1 L1273.9 1152.3 L1277.5 1153.5 L1281.1 1152.1 L1284.7 1144.6 L1288.3 1146.5 L1291.9 1138 L1295.5 1138.4 L1299.1 1134.9 L1302.7 1133.4 L1306.3 1129.5 L1309.9 1128.7 L1313.5 1126.9 L1317.1 1118.2 L1320.7 1119.7 L1324.3 1113 L1327.9 1114.1 L1331.5 1105.9 L1335.1 1103.5 L1338.7 1101.6 L1342.3 1098.7 L1345.9 1097 L1349.5 1093.1 L1353.1 1094.5 L1356.7 1089.1 L1360.3 1083.7 L1363.9 1085.2 L1367.5 1077.3 L1371.1 1074.6 L1374.7 1075.1 L1378.3 1072.5 L1381.9 1069 L1385.5 1066.6 L1389.1 1059.4 L1392.7 1060.8 L1396.3 1060.4 L1400.2 1058.2 L1404.2 1059 L1408.1 1065.1 L1412.1 1067.8 L1416 1070 L1419.9 1071.3 L1423.9 1077.7 L1427.8 1077.6 L1431.7 1080.6 L1435.7 1082.8 L1439.6 1088.6 L1443.6 1091.3 L1447.5 1092.7 L1451.4 1091.3 L1455.4 1098 L1459.3 1099 L1463.3 1103.6 L1467.2 1107.7 L1471.1 1110.6 L1475.1 1108.1 L1479 1111 L1482.9 1116.5 L1486.9 1117 L1490.8 1119.7 L1494.8 1120.8 L1498.7 1123 L1502.6 1129.5 L1506.6 1128.1 L1510.5 1131 L1514.4 1136.2 L1518.4 1136.8 L1522.3 1142.2 L1526.3 1145.7 L1530.2 1149.3 L1534.1 1147.5 L1538.1 1155.2 L1542 1158.5 L1546 1156 L1549.9 1158.9 L1553.8 1163.6 L1557.8 1163.7 L1561.7 1171.9 L1565.6 1173.1 L1569.6 1175.5 L1573.5 1177.3 L1577.5 1181.7 L1581.4 1185.1 L1585.3 1185.8 L1589.3 1184.6 L1593.2 1186.6 L1597.2 1191 L1601.1 1195.5 L1605 1199.7 L1609 1197.4 L1612.9 1203.1 L1616.8 1204.4 L1620.8 1211.9 L1624.7 1213.3 L1628.7 1211.6 L1632.6 1214.5 L1628.3 1224.7 L1624 1227.7 L1619.6 1231.4 L1615.3 1235.4 L1611 1237.7 L1606.7 1241.5 L1602.3 1244.4 L1598 1248.8 L1593.7 1250.6 L1589.4 1255.4 L1585.1 1259.3 L1580.7 1260.9 L1576.4 1265.4 L1572.1 1268.9 L1567.8 1272.7 L1563.4 1275.5 L1559.1 1278.3 L1554.8 1282 L1550.5 1286.5 L1546.2 1289.8 L1541.8 1291.6 L1537.5 1294.9 L1533.2 1298.3 L1528.9 1301.6 L1524.5 1305.8 L1520.2 1308.6 L1515.9 1313.4 L1511.6 1316.4 L1507.3 1318.7 L1502.9 1322.9 L1498.6 1325.9 L1494.3 1329.6 L1490 1332.5 L1485.7 1335.8 L1481.3 1339.2 L1477 1343 L1472.7 1347 L1468.4 1350.1 L1464 1352.5 L1459.7 1357.2 L1455.4 1360.9 L1451.1 1364.1 L1446.8 1367.5 L1442.4 1369.4 L1438.1 1373.7 L1433.8 1376.3 L1429.5 1381.1 L1425.1 1383.3 L1420.8 1387.7 L1416.5 1390.2 L1411.8 1387.2 L1407.1 1383.6 L1402.3 1381.1 L1397.6 1377.9 L1392.9 1376 L1388.2 1371.6 L1383.4 1368.9 L1378.7 1365.9 L1374 1363.6 L1369.3 1358.8 L1364.5 1356.7 L1359.8 1353.4 L1355.1 1350.7 L1350.4 1348.1 L1345.6 1343.7 L1340.9 1341.3 L1336.2 1337.9 L1331.5 1334.8 L1326.7 1330.7 L1322 1329.1 L1317.3 1326.3 L1312.6 1322 L1307.8 1318.8 L1303.1 1317 L1298.4 1312.2 L1293.7 1309 L1289 1305.9 L1284.2 1304.2 L1279.5 1301 L1274.8 1297.3 L1270.1 1294.5 L1265.3 1290.2 L1260.6 1288.4 L1255.9 1284.8 L1251.2 1281.9 L1246.4 1278.5 L1241.7 1275.4 L1237 1272 L1232.3 1268.5 L1227.5 1266.2 L1222.8 1262.7 L1218.1 1260.5 L1213.4 1257.6 L1208.6 1254.3 L1203.9 1250.7 L1199.2 1247.1 L1194.5 1244.3 L1189.7 1241.4 L1185 1238.6 L1180.3 1236.1 Z" fill="#a85a18" stroke="none" stroke-width="1" filter="url(#afmn)"/>
<path d="M1401.4 1069.4L1405.7 1069.4L1402.9 1053.3ZM1389.9 1070.1L1394.2 1070.1L1391.4 1066.3ZM1384.3 1074.5L1388.9 1074.5L1385.9 1057.5ZM1419.2 1075.9L1424.1 1075.9L1421 1070.3ZM1377.1 1076.5L1381.5 1076.5L1378.6 1063ZM1398.4 1077.8L1402.7 1077.8L1399.9 1071.5ZM1373.6 1078.5L1377.8 1078.5L1375 1068.8ZM1399.5 1080.3L1402.6 1080.3L1400.5 1070.5ZM1430.6 1085.9L1434.1 1085.9L1431.7 1075.1ZM1396.2 1087.4L1399.8 1087.4L1397.4 1080.4ZM1424.2 1087.7L1427.4 1087.7L1425.2 1072.6ZM1395.6 1090.1L1399.4 1090.1L1396.8 1086.2ZM1428.9 1092.6L1433.8 1092.6L1430.7 1085.7ZM1390.8 1096.5L1395.3 1096.5L1392.3 1091.6ZM1421.9 1097.9L1425.8 1097.9L1423.2 1085.7ZM1383.2 1098.6L1388 1098.6L1384.9 1089.9ZM1441.5 1100L1444.6 1100L1442.5 1094.7ZM1384.4 1102.5L1388.2 1102.5L1385.7 1096.3ZM1352.6 1103.4L1357.2 1103.4L1354.2 1094.8ZM1347.9 1104.3L1351.1 1104.3L1348.9 1095.8ZM1355.2 1104.9L1358.5 1104.9L1356.2 1095ZM1350.4 1106.7L1354.8 1106.7L1351.9 1091.3ZM1435.2 1107.3L1439 1107.3L1436.5 1100.5ZM1357.1 1107.7L1361.1 1107.7L1358.5 1087.9ZM1466.8 1108L1470.7 1108L1468.1 1088.3ZM1357.1 1110.9L1360.1 1110.9L1358 1103.1ZM1414.5 1113L1419.4 1113L1416.2 1109.3ZM1472.6 1113.1L1476.9 1113.1L1474.1 1094.7ZM1461.5 1115.5L1465.1 1115.5L1462.7 1107.8ZM1450.3 1115.6L1454.5 1115.6L1451.8 1103.7ZM1341.1 1117.2L1345.8 1117.2L1342.7 1101.8ZM1464.6 1117.2L1467.9 1117.2L1465.6 1099.1ZM1442.1 1119.9L1446.6 1119.9L1443.7 1112.6ZM1391.9 1121L1395.9 1121L1393.2 1117.2ZM1383.4 1121.3L1388.1 1121.3L1385 1114.4ZM1487.1 1122.4L1490.4 1122.4L1488.2 1105.3ZM1346.6 1123.6L1350.8 1123.6L1348 1119.3ZM1350.5 1124.8L1354.8 1124.8L1352 1120.1ZM1488.2 1125.9L1491.4 1125.9L1489.2 1120.7ZM1372.2 1125.9L1377.1 1125.9L1374 1118.4ZM1446.9 1126.1L1451.5 1126.1L1448.5 1116.9ZM1467.6 1126.3L1470.9 1126.3L1468.6 1119.8ZM1312 1129.5L1316.2 1129.5L1313.4 1124.8ZM1487.8 1131.6L1491.1 1131.6L1488.8 1115.1ZM1309.4 1132.1L1313.8 1132.1L1310.9 1126.9ZM1386.3 1132.9L1389.4 1132.9L1387.3 1111.9ZM1430.1 1134.1L1433.3 1134.1L1431.1 1123.4ZM1449.9 1134.3L1454.6 1134.3L1451.6 1126.9ZM1494.4 1134.8L1497.8 1134.8L1495.5 1124.6ZM1329.6 1134.9L1332.6 1134.9L1330.5 1119.3ZM1342.2 1135.3L1347 1135.3L1343.9 1127.4ZM1481.5 1135.9L1486.3 1135.9L1483.2 1119.5ZM1380.8 1136.3L1383.7 1136.3L1381.7 1130.8ZM1462.2 1136.7L1467 1136.7L1463.9 1132.6ZM1497 1139.1L1500.8 1139.1L1498.3 1123.3ZM1510.2 1140.4L1513.7 1140.4L1511.4 1131.8ZM1422.2 1141.9L1426.1 1141.9L1423.5 1136.6ZM1349.8 1142.5L1353.6 1142.5L1351.1 1137.4ZM1417.1 1142.5L1421.5 1142.5L1418.6 1135.4ZM1474.6 1143.4L1478.3 1143.4L1475.8 1139ZM1397.6 1145.3L1400.8 1145.3L1398.6 1129.2ZM1504.4 1145.6L1508.4 1145.6L1505.7 1133.3ZM1488.9 1146L1491.8 1146L1489.8 1136.3ZM1485.6 1146L1489.2 1146L1486.8 1125ZM1487.5 1146.2L1491.4 1146.2L1488.8 1140.8ZM1322.3 1146.2L1325.5 1146.2L1323.3 1127.9ZM1500.6 1147.4L1504 1147.4L1501.7 1140.8ZM1507.4 1147.5L1511.4 1147.5L1508.8 1142.8ZM1373.3 1147.5L1376.5 1147.5L1374.3 1139.2ZM1401.7 1147.5L1405.4 1147.5L1402.9 1140.8ZM1468.8 1148.8L1472.5 1148.8L1470.1 1142.4ZM1442.9 1148.9L1446.6 1148.9L1444.1 1133ZM1393.9 1149.6L1397.5 1149.6L1395.1 1142.1ZM1354.5 1149.8L1357.6 1149.8L1355.5 1144.7ZM1463 1150L1467.6 1150L1464.6 1137.4ZM1480.6 1150.9L1483.8 1150.9L1481.6 1135.8ZM1282.7 1151.1L1287 1151.1L1284.2 1135.6ZM1348.5 1151.1L1353.4 1151.1L1350.2 1144.3ZM1349.9 1152.3L1354 1152.3L1351.3 1137.2ZM1346 1153L1349.2 1153L1347 1140.2ZM1521.9 1153.3L1526.8 1153.3L1523.6 1149.7ZM1391.3 1153.8L1395.8 1153.8L1392.9 1143.9ZM1376.6 1154L1380.8 1154L1378 1149.9ZM1518.5 1154.1L1522.6 1154.1L1519.9 1150.3ZM1426.8 1154.8L1431.6 1154.8L1428.5 1143.2ZM1335 1156L1338.2 1156L1336 1145.1ZM1489.1 1157.5L1492.4 1157.5L1490.1 1143.5ZM1415.8 1158.3L1420.1 1158.3L1417.3 1152.7ZM1325.1 1160.3L1329.9 1160.3L1326.8 1143.4ZM1296 1160.5L1300.2 1160.5L1297.4 1152.9ZM1445.9 1160.5L1449.9 1160.5L1447.3 1143.6ZM1516.7 1161.1L1520.7 1161.1L1518 1156.5ZM1532.9 1162.4L1537.8 1162.4L1534.7 1153.4ZM1321.9 1162.8L1325.1 1162.8L1322.9 1144.9ZM1463.3 1163.1L1466.5 1163.1L1464.3 1158.3ZM1472.2 1163.8L1476.5 1163.8L1473.7 1145.3ZM1490.7 1164L1494 1164L1491.7 1158.1ZM1266.1 1164L1270.7 1164L1267.7 1153.2ZM1491.3 1165.3L1495.6 1165.3L1492.8 1161.4ZM1415.4 1167L1418.7 1167L1416.5 1162.6ZM1397.3 1167L1400.7 1167L1398.4 1161.3ZM1327.7 1168.3L1332.5 1168.3L1329.4 1147.1ZM1284.3 1168.5L1288.8 1168.5L1285.8 1164.7ZM1317.8 1168.9L1322 1168.9L1319.2 1160.8ZM1302.2 1169.3L1306.1 1169.3L1303.5 1163.9ZM1272.2 1170.6L1275.8 1170.6L1273.4 1162ZM1305.6 1171.2L1310.4 1171.2L1307.3 1158ZM1541.8 1171.5L1546.3 1171.5L1543.4 1166.9ZM1349.5 1172.5L1353.2 1172.5L1350.7 1162.6ZM1554.5 1173.5L1558.4 1173.5L1555.8 1163.1ZM1509.3 1173.6L1513.2 1173.6L1510.6 1162.3ZM1471.6 1173.8L1476.2 1173.8L1473.2 1154.6ZM1255.7 1174.1L1259.6 1174.1L1257 1167.7ZM1345.8 1174.3L1349.2 1174.3L1346.9 1163.8ZM1539.3 1174.4L1543.1 1174.4L1540.6 1167.5ZM1543.3 1175.4L1547.7 1175.4L1544.8 1170.7ZM1302.3 1176.5L1305.9 1176.5L1303.5 1159.2ZM1293.3 1176.7L1296.2 1176.7L1294.2 1171.3ZM1568.5 1178.1L1572.9 1178.1L1570 1166.2ZM1382.4 1178.5L1385.8 1178.5L1383.5 1170.8ZM1548.6 1179.5L1553 1179.5L1550.1 1162.1ZM1440.2 1179.9L1443.4 1179.9L1441.2 1173.8ZM1431.7 1180.1L1435.9 1180.1L1433.2 1170.3ZM1519.9 1180.5L1524.1 1180.5L1521.3 1174.1ZM1566.1 1181.3L1570.8 1181.3L1567.7 1174.6ZM1261.7 1182L1264.7 1182L1262.6 1176.2ZM1291.6 1182.1L1296.1 1182.1L1293.2 1173.9ZM1441.5 1182.6L1446 1182.6L1443 1177.5ZM1431.3 1183L1436.1 1183L1433 1175.9ZM1336.2 1183.4L1340.4 1183.4L1337.6 1176.8ZM1520.5 1183.6L1524.2 1183.6L1521.7 1171.1ZM1375 1184.8L1378.3 1184.8L1376 1180.6ZM1305.9 1185.1L1309.3 1185.1L1307 1173.5ZM1532.4 1185.5L1535.3 1185.5L1533.2 1175ZM1441.2 1186L1445.2 1186L1442.6 1172.8ZM1399.6 1186.4L1403.3 1186.4L1400.9 1169.8ZM1442.6 1186.7L1446.6 1186.7L1443.9 1173.1ZM1315.6 1187.3L1318.9 1187.3L1316.6 1166.1ZM1563.9 1188.3L1567.8 1188.3L1565.2 1182.8ZM1271.2 1188.7L1274.6 1188.7L1272.3 1180.1ZM1578.7 1188.8L1583.4 1188.8L1580.3 1175.9ZM1289.7 1189.2L1293.1 1189.2L1290.8 1180.5ZM1515.7 1189.4L1518.9 1189.4L1516.7 1181.8ZM1255.6 1190.5L1260.1 1190.5L1257.2 1174.7ZM1341.3 1190.8L1346.2 1190.8L1343.1 1181.7ZM1256.4 1191L1260.4 1191L1257.7 1180.3ZM1454.3 1191.5L1458.4 1191.5L1455.7 1180.8ZM1543.9 1191.8L1547.5 1191.8L1545.1 1186.3ZM1253.1 1192.1L1256 1192.1L1254 1186.5ZM1508.9 1192.7L1513.4 1192.7L1510.5 1183.9ZM1264.8 1193L1269.2 1193L1266.3 1184.8ZM1441.4 1194.5L1445.5 1194.5L1442.8 1186.3ZM1466.9 1195.5L1469.9 1195.5L1467.8 1191.1ZM1252.1 1195.7L1256.5 1195.7L1253.6 1180.3ZM1502.4 1196.5L1505.9 1196.5L1503.5 1192.8ZM1230.1 1196.5L1234.6 1196.5L1231.7 1188.4ZM1495.4 1196.6L1498.8 1196.6L1496.5 1188.1ZM1262.1 1196.7L1265.1 1196.7L1263 1188.8ZM1463.8 1196.7L1468.3 1196.7L1465.4 1192.6ZM1552.9 1196.9L1556 1196.9L1553.9 1183.5ZM1403.2 1197.4L1407.2 1197.4L1404.6 1180.1ZM1502.5 1199.1L1506.5 1199.1L1503.9 1177.9ZM1468.9 1199.1L1472.2 1199.1L1469.9 1187.6ZM1562.5 1199.4L1565.8 1199.4L1563.6 1192.1ZM1411.6 1199.6L1416.3 1199.6L1413.2 1190.9ZM1519.9 1199.8L1523 1199.8L1520.9 1195.3ZM1577.1 1200.5L1580.7 1200.5L1578.3 1194.1ZM1448.3 1200.9L1452.6 1200.9L1449.7 1193.6ZM1539.5 1200.9L1544.2 1200.9L1541.1 1194.3ZM1527.4 1202L1530.3 1202L1528.3 1196.8ZM1287.2 1202L1291.6 1202L1288.7 1197.7ZM1493.5 1202.4L1497.1 1202.4L1494.7 1191.6ZM1363.5 1202.5L1366.7 1202.5L1364.5 1191.6ZM1414.4 1202.7L1419.3 1202.7L1416.1 1184.9ZM1429.8 1202.8L1433.5 1202.8L1431 1192.9ZM1318.9 1203.7L1323.4 1203.7L1320.5 1195.2ZM1415.1 1203.8L1418.7 1203.8L1416.3 1199ZM1271 1204.6L1274.5 1204.6L1272.1 1184.2ZM1454.5 1204.8L1459.2 1204.8L1456.2 1195.2ZM1511.4 1205.2L1515 1205.2L1512.6 1201.5ZM1601.7 1205.4L1605.9 1205.4L1603.1 1199.3ZM1506.1 1205.7L1509.8 1205.7L1507.3 1198.7ZM1337.3 1206.6L1341.6 1206.6L1338.7 1199.9ZM1536.4 1206.7L1541 1206.7L1538 1193.6ZM1539.1 1206.7L1543.5 1206.7L1540.6 1198.7ZM1611.4 1206.9L1615.8 1206.9L1613 1191.3ZM1553 1207.1L1557.5 1207.1L1554.6 1197ZM1313.7 1207.3L1318.2 1207.3L1315.3 1190.3ZM1451.4 1207.3L1455.9 1207.3L1453 1189.9ZM1234.5 1207.5L1237.5 1207.5L1235.4 1192.1ZM1539.8 1207.7L1543 1207.7L1540.8 1198.3ZM1471.1 1207.9L1475.7 1207.9L1472.7 1203.2ZM1474.2 1208.7L1478.7 1208.7L1475.8 1198.8ZM1433.3 1209.3L1436.5 1209.3L1434.3 1188.4ZM1484.9 1209.7L1487.9 1209.7L1485.8 1204.9ZM1531.6 1209.7L1535.4 1209.7L1532.9 1200.9ZM1409.7 1209.8L1414.2 1209.8L1411.2 1203.5ZM1427.2 1209.8L1430.9 1209.8L1428.4 1204.8ZM1209.9 1209.9L1213.8 1209.9L1211.2 1193.9ZM1346 1210.2L1349.9 1210.2L1347.3 1204.3ZM1504.3 1210.6L1508.1 1210.6L1505.5 1204.9ZM1311.3 1211.1L1315.9 1211.1L1312.9 1204.2ZM1454.8 1211.5L1458.8 1211.5L1456.1 1193.8ZM1423.1 1211.5L1427.8 1211.5L1424.8 1201.8ZM1468.7 1211.6L1471.9 1211.6L1469.7 1206.4ZM1369 1211.8L1372.4 1211.8L1370.1 1201.1ZM1406.7 1212.4L1409.6 1212.4L1407.6 1206.6ZM1515.8 1212.7L1520 1212.7L1517.3 1207.7ZM1551.8 1213.1L1554.8 1213.1L1552.7 1205.5ZM1605.5 1214.2L1609.8 1214.2L1607 1202.7ZM1494.4 1214.3L1498.4 1214.3L1495.7 1198.4ZM1416.6 1214.7L1419.7 1214.7L1417.5 1210ZM1608.9 1215L1611.8 1215L1609.8 1203.9ZM1622.1 1215.5L1625.3 1215.5L1623.1 1211ZM1460.5 1215.6L1465 1215.6L1462.1 1208.8ZM1464.5 1216.4L1467.5 1216.4L1465.4 1211.9ZM1543.5 1216.5L1547.4 1216.5L1544.8 1209.7ZM1342 1217.2L1345.9 1217.2L1343.3 1206.4ZM1569.7 1218.1L1574.5 1218.1L1571.4 1210.4ZM1219.2 1218.4L1222.2 1218.4L1220.1 1214ZM1492.6 1218.6L1497.4 1218.6L1494.3 1208.9ZM1321.1 1218.6L1325.4 1218.6L1322.6 1214.1ZM1564.1 1218.9L1567.1 1218.9L1565 1202.5ZM1199.5 1219L1203.1 1219L1200.7 1205.2ZM1294.1 1220.4L1297 1220.4L1295 1214ZM1320.7 1220.5L1323.7 1220.5L1321.6 1216.7ZM1219.5 1221.9L1223.3 1221.9L1220.8 1217.3ZM1567.5 1222.4L1572.4 1222.4L1569.2 1217.1ZM1279.3 1223L1283.3 1223L1280.7 1216.5ZM1501.5 1223.1L1504.6 1223.1L1502.5 1216.1ZM1451.6 1223.2L1456 1223.2L1453.1 1217.3ZM1269.8 1223.3L1273.9 1223.3L1271.2 1219.5ZM1196.7 1223.5L1201.2 1223.5L1198.3 1218.8ZM1265.4 1223.7L1268.7 1223.7L1266.5 1215.8ZM1232.1 1223.8L1235.2 1223.8L1233.1 1217.4ZM1216.5 1224L1221.2 1224L1218.2 1220.3ZM1450.7 1224.5L1455.4 1224.5L1452.4 1214.6ZM1195.7 1224.6L1199.6 1224.6L1197 1215.8ZM1341.8 1224.7L1346.2 1224.7L1343.3 1216.3ZM1622.9 1224.9L1626.4 1224.9L1624.1 1218.4ZM1540.4 1225.3L1543.8 1225.3L1541.5 1212ZM1380.9 1225.4L1384.8 1225.4L1382.2 1219.2ZM1206.1 1226L1211 1226L1207.9 1220.7ZM1343.6 1226.5L1346.5 1226.5L1344.5 1214.3ZM1230.9 1228.6L1234 1228.6L1231.9 1209.1ZM1236.5 1228.7L1240.7 1228.7L1237.9 1218.8ZM1210.5 1229L1215 1229L1212.1 1220.7ZM1617.4 1229.6L1621 1229.6L1618.6 1209.8ZM1386.6 1229.7L1391.1 1229.7L1388.2 1223.3ZM1497.2 1229.7L1501.8 1229.7L1498.8 1219.6ZM1585 1229.8L1589 1229.8L1586.3 1211.3ZM1273 1229.8L1276.3 1229.8L1274 1224.4ZM1196.5 1230.1L1199.5 1230.1L1197.4 1224.3ZM1575.4 1230.9L1578.3 1230.9L1576.3 1224.4ZM1596.4 1231.5L1599.8 1231.5L1597.5 1216.4ZM1249.6 1232.7L1254.1 1232.7L1251.2 1223.4ZM1599.8 1232.8L1603.6 1232.8L1601.1 1213ZM1509.5 1233.3L1513.1 1233.3L1510.7 1220.3ZM1478.6 1234L1481.8 1234L1479.6 1227.9ZM1226.1 1234.1L1229.5 1234.1L1227.2 1223ZM1601.6 1234.1L1605.8 1234.1L1603 1228ZM1513.4 1234.6L1517 1234.6L1514.6 1215.9ZM1464.9 1235L1468.1 1235L1465.9 1229.4ZM1254.7 1235.2L1258.2 1235.2L1255.8 1229.7ZM1555.6 1235.2L1560.4 1235.2L1557.3 1224.7ZM1506.1 1235.3L1509.1 1235.3L1507 1224.8ZM1502 1235.6L1506.9 1235.6L1503.8 1218.8ZM1339.2 1235.9L1343.8 1235.9L1340.8 1229ZM1436.4 1236.1L1440.9 1236.1L1438 1229ZM1232.3 1236.2L1237 1236.2L1234 1229.7ZM1570.2 1237L1573.6 1237L1571.3 1224.5ZM1600.8 1237.1L1605.6 1237.1L1602.5 1229ZM1267.8 1237.3L1272.2 1237.3L1269.3 1221.6ZM1339.9 1237.5L1343.2 1237.5L1340.9 1233.3ZM1601 1237.9L1605.5 1237.9L1602.5 1232.2ZM1191.4 1238.2L1195.7 1238.2L1192.9 1219.1ZM1261.1 1238.3L1264.4 1238.3L1262.1 1221ZM1597.4 1239.4L1601.1 1239.4L1598.7 1235.8ZM1243.1 1240.6L1247.5 1240.6L1244.6 1236.3ZM1255.3 1241.3L1260 1241.3L1257 1221.6ZM1312.7 1241.6L1315.8 1241.6L1313.6 1225.9ZM1334.6 1241.7L1337.9 1241.7L1335.7 1237ZM1305.7 1241.8L1308.8 1241.8L1306.6 1233.6ZM1439.1 1243.1L1443.9 1243.1L1440.8 1236.5ZM1411.1 1243.1L1415 1243.1L1412.4 1236.7ZM1551.8 1243.2L1554.8 1243.2L1552.7 1238.2ZM1591.8 1244.5L1596.7 1244.5L1593.5 1238.6ZM1381 1245.5L1384 1245.5L1381.9 1236.1ZM1299.4 1245.6L1304.2 1245.6L1301.1 1240ZM1224.9 1245.9L1228.5 1245.9L1226.1 1240.1ZM1355.2 1246.1L1359.2 1246.1L1356.6 1236.9ZM1538.8 1246.5L1543.6 1246.5L1540.5 1239.1ZM1512.8 1247.5L1517 1247.5L1514.2 1239.1ZM1558.4 1248.7L1562.3 1248.7L1559.7 1243.9ZM1454.4 1249.7L1457.8 1249.7L1455.5 1243.2ZM1570.9 1250.2L1574.6 1250.2L1572.1 1236.8ZM1371.7 1251.8L1375.1 1251.8L1372.8 1245.9ZM1480.7 1252.1L1484.6 1252.1L1482 1246.6ZM1376.8 1252.5L1379.8 1252.5L1377.7 1246.9ZM1222.7 1252.5L1225.7 1252.5L1223.6 1239.3ZM1445.3 1252.6L1449.8 1252.6L1446.9 1236.7ZM1264.3 1253.6L1268.5 1253.6L1265.7 1246.2ZM1429.3 1254.7L1434.2 1254.7L1431.1 1246.8ZM1502.7 1255.6L1506.8 1255.6L1504.1 1248ZM1582.5 1256.1L1586.8 1256.1L1584 1251.9ZM1508.2 1256.5L1511.6 1256.5L1509.3 1251ZM1258.6 1256.6L1261.8 1256.6L1259.6 1243.2ZM1422.9 1257.2L1426.3 1257.2L1424 1247.7ZM1344.8 1257.5L1349.6 1257.5L1346.5 1243.2ZM1451.4 1257.5L1454.5 1257.5L1452.3 1243.5ZM1270.7 1257.6L1274.3 1257.6L1271.9 1250.9ZM1290.1 1258.1L1293.5 1258.1L1291.2 1247.9ZM1532.5 1258.2L1536.6 1258.2L1533.9 1247.4ZM1540.6 1258.3L1544.2 1258.3L1541.8 1241.9ZM1274.5 1258.4L1279.1 1258.4L1276.1 1254.4ZM1568.5 1258.6L1573.3 1258.6L1570.2 1249ZM1232.4 1259.2L1236.4 1259.2L1233.8 1248.4ZM1333.1 1259.5L1337.8 1259.5L1334.7 1255ZM1349.6 1259.8L1353.5 1259.8L1350.9 1251.4ZM1549.3 1260.4L1552.2 1260.4L1550.2 1250.4ZM1402.2 1261.4L1405.6 1261.4L1403.3 1252.7ZM1419.9 1262.3L1423.2 1262.3L1420.9 1245.8ZM1401.8 1262.4L1406.3 1262.4L1403.4 1248.1ZM1339.8 1262.8L1342.7 1262.8L1340.7 1248.6ZM1354.4 1263.1L1359.1 1263.1L1356.1 1256.7ZM1377.7 1263.9L1381.8 1263.9L1379.1 1258.7ZM1268.3 1263.9L1272.1 1263.9L1269.6 1260.2ZM1341.2 1264.7L1345.2 1264.7L1342.6 1249.2ZM1360 1265.5L1363.7 1265.5L1361.2 1252.7ZM1266.6 1266.4L1270.6 1266.4L1267.9 1261.7ZM1438.9 1266.7L1441.8 1266.7L1439.8 1258.3ZM1462.6 1267.1L1465.7 1267.1L1463.5 1247.3ZM1314.7 1267.2L1319.3 1267.2L1316.3 1261.7ZM1356.7 1267.7L1359.7 1267.7L1357.6 1253.5ZM1471.6 1267.8L1474.5 1267.8L1472.5 1257.1ZM1468 1268.2L1471.1 1268.2L1468.9 1254.9ZM1495.8 1269L1500.5 1269L1497.4 1263.1ZM1423.2 1269.5L1427.6 1269.5L1424.8 1261.1ZM1467.5 1270.1L1472.4 1270.1L1469.3 1261.6ZM1521.6 1270.1L1525.6 1270.1L1523 1263.7ZM1419.5 1270.2L1422.9 1270.2L1420.6 1266.5ZM1372.2 1271.8L1375.8 1271.8L1373.4 1266.3ZM1332 1272L1335.5 1272L1333.2 1256.5ZM1318.2 1272.3L1322.2 1272.3L1319.6 1258.7ZM1366 1272.9L1370.6 1272.9L1367.6 1267.2ZM1424.7 1273.7L1428 1273.7L1425.8 1267.5ZM1396 1274.1L1399.9 1274.1L1397.3 1263.4ZM1417.5 1274.3L1421.9 1274.3L1419 1264.6ZM1331.3 1274.6L1336.2 1274.6L1333.1 1268.1ZM1352.2 1275.8L1357 1275.8L1353.9 1270.2ZM1488 1275.9L1492.2 1275.9L1489.4 1270ZM1396.6 1276.1L1399.8 1276.1L1397.6 1268.2ZM1424.4 1276.1L1427.4 1276.1L1425.3 1270.9ZM1368.4 1276.2L1371.5 1276.2L1369.3 1267.9ZM1480.3 1276.8L1484.6 1276.8L1481.8 1268.7ZM1360.1 1276.8L1364.7 1276.8L1361.7 1271.4ZM1471.4 1277.4L1475.1 1277.4L1472.6 1266.5ZM1415.8 1279.3L1419.2 1279.3L1416.9 1274.5ZM1375.2 1279.5L1378.5 1279.5L1376.3 1263.6ZM1290.3 1279.9L1294.5 1279.9L1291.8 1273.3ZM1274.2 1280.2L1278.3 1280.2L1275.6 1272.9ZM1299.3 1282L1304 1282L1301 1268.4ZM1335.2 1282.1L1339.3 1282.1L1336.6 1276.4ZM1392.9 1282.6L1397.2 1282.6L1394.4 1263.1ZM1506.5 1282.7L1510.1 1282.7L1507.7 1271.3ZM1259.6 1283L1263.8 1283L1261 1275.7ZM1349.4 1283.8L1352.9 1283.8L1350.6 1266.7ZM1496.2 1285.7L1500.5 1285.7L1497.7 1276.3ZM1370 1286L1374 1286L1371.3 1277.1ZM1278.8 1286.9L1282.5 1286.9L1280 1270.2ZM1307.5 1287.2L1311.9 1287.2L1309 1266.7ZM1511.5 1287.3L1515.2 1287.3L1512.7 1281.1ZM1372.4 1288.3L1376.5 1288.3L1373.8 1278.4ZM1364.7 1288.3L1369.1 1288.3L1366.2 1282.1ZM1388.8 1289L1392.4 1289L1390 1281.8ZM1451.2 1289.1L1454.4 1289.1L1452.2 1283.9ZM1269 1289.4L1273.8 1289.4L1270.7 1281.2ZM1377.3 1289.7L1381.9 1289.7L1379 1279.6ZM1423.8 1290.2L1426.9 1290.2L1424.8 1282.1ZM1272.3 1291.3L1275.7 1291.3L1273.4 1284ZM1301.8 1291.8L1305.1 1291.8L1302.8 1281.5ZM1484.4 1292.1L1487.9 1292.1L1485.5 1273ZM1382.4 1292.8L1386.6 1292.8L1383.8 1285.8ZM1322.3 1293.3L1327.1 1293.3L1324 1287.5ZM1321.2 1294.9L1325.6 1294.9L1322.7 1281.5ZM1405.3 1295.7L1409 1295.7L1406.5 1290.2ZM1402.6 1297.1L1406.7 1297.1L1404 1288.5ZM1279.1 1297.3L1283 1297.3L1280.4 1290.6ZM1481.6 1298.5L1486.2 1298.5L1483.2 1294.6ZM1381.6 1300.1L1385.2 1300.1L1382.8 1291.9ZM1348.7 1300.4L1351.8 1300.4L1349.7 1294.8ZM1357.5 1300.8L1361.1 1300.8L1358.7 1292.4ZM1513 1301.6L1517.7 1301.6L1514.6 1291ZM1349.5 1304.2L1353 1304.2L1350.6 1295.4ZM1425.8 1305.5L1429.2 1305.5L1426.9 1300.1ZM1457 1305.9L1461.4 1305.9L1458.5 1299.2ZM1458.3 1306.4L1463.2 1306.4L1460.1 1296ZM1379.2 1307.8L1383.9 1307.8L1380.8 1295.2ZM1421.9 1308.8L1425.7 1308.8L1423.2 1299.9ZM1389.6 1309.8L1393.3 1309.8L1390.8 1303.8ZM1454.7 1309.8L1458.9 1309.8L1456.1 1302.4ZM1463.5 1310.7L1467.8 1310.7L1465 1296.7ZM1363.5 1311.5L1367.3 1311.5L1364.8 1307ZM1471.9 1311.7L1476.5 1311.7L1473.5 1295.7ZM1385.7 1312.3L1389.6 1312.3L1387 1305.9ZM1447.1 1313.8L1451.7 1313.8L1448.7 1307.5ZM1394 1315L1398.4 1315L1395.5 1303.6ZM1487.3 1315.2L1491.5 1315.2L1488.7 1311.2ZM1397.2 1315.3L1400.9 1315.3L1398.4 1309.7ZM1494 1318.5L1498.1 1318.5L1495.4 1307.7ZM1394.5 1319.2L1398.9 1319.2L1396.1 1300.9ZM1341.8 1319.4L1345.9 1319.4L1343.2 1311.2ZM1343.6 1320.6L1348.5 1320.6L1345.3 1308ZM1388 1320.7L1392.7 1320.7L1389.7 1315.8ZM1415.9 1321.2L1419.4 1321.2L1417 1317.6ZM1417 1321.3L1420.1 1321.3L1418 1313.6ZM1359.4 1321.7L1363.1 1321.7L1360.7 1316.3ZM1428.2 1323L1432.9 1323L1429.9 1312.3ZM1331.9 1323.3L1335 1323.3L1332.9 1311.2ZM1494.9 1324.3L1498.1 1324.3L1495.9 1319.2ZM1356.6 1324.9L1359.8 1324.9L1357.6 1311.4ZM1445.6 1325.4L1449.2 1325.4L1446.7 1318.8ZM1478.4 1328.1L1482 1328.1L1479.6 1318.7ZM1399 1328.6L1403.4 1328.6L1400.5 1323.1ZM1335.1 1329L1339.7 1329L1336.7 1322.3ZM1398.7 1329.8L1403.6 1329.8L1400.4 1315.4ZM1441.1 1330.5L1444.9 1330.5L1442.4 1316.8ZM1438.9 1330.6L1441.9 1330.6L1439.8 1313.3ZM1466.4 1330.6L1469.6 1330.6L1467.4 1319.2ZM1423.5 1330.7L1427.7 1330.7L1425 1320.9ZM1394.8 1331.5L1399.3 1331.5L1396.4 1323.4ZM1454 1332.8L1458.5 1332.8L1455.6 1319.7ZM1347.8 1333.2L1351.6 1333.2L1349 1318.3ZM1366.2 1333.2L1369.6 1333.2L1367.3 1317.9ZM1465.9 1333.9L1469 1333.9L1466.9 1326.7ZM1396.8 1334L1399.7 1334L1397.7 1321.4ZM1418 1334.9L1421.1 1334.9L1419 1325.7ZM1449.2 1335L1452.7 1335L1450.3 1326ZM1354.7 1335.7L1357.8 1335.7L1355.7 1322.7ZM1386.7 1336.8L1391.3 1336.8L1388.3 1321.4ZM1363.4 1337.8L1368.3 1337.8L1365.1 1328.4ZM1462.6 1340.2L1466.2 1340.2L1463.8 1329.8ZM1388.5 1341.4L1392.7 1341.4L1389.9 1336.7ZM1466.5 1341.4L1471 1341.4L1468 1327.2ZM1431.9 1341.5L1436.9 1341.5L1433.7 1320.7ZM1413.1 1341.8L1416.9 1341.8L1414.4 1324.7ZM1435.9 1343.7L1439 1343.7L1436.9 1328ZM1430.5 1346.6L1433.9 1346.6L1431.6 1334ZM1439.3 1347L1443.5 1347L1440.8 1339.5ZM1376 1349.1L1380.4 1349.1L1377.5 1342ZM1359.6 1350.8L1363.4 1350.8L1360.9 1336.9ZM1445.3 1355.5L1449.7 1355.5L1446.8 1349.7ZM1385.2 1355.8L1390 1355.8L1386.9 1351ZM1396.7 1356.6L1399.7 1356.6L1397.6 1349.5ZM1402.4 1358.8L1405.9 1358.8L1403.5 1342.8ZM1421 1360.4L1425.7 1360.4L1422.7 1355.8ZM1400.1 1360.6L1404.4 1360.6L1401.6 1340.6ZM1431.5 1372.3L1435.1 1372.3L1432.7 1357.7ZM1406.6 1377.2L1410.6 1377.2L1407.9 1368.6ZM1411.8 1382.4L1415.7 1382.4L1413.1 1374.6Z" fill="#5e2408" opacity="0.55"/>
<path d="M1399 1068.4L1404.4 1068.4L1402 1040.9ZM1387.5 1069.1L1392.8 1069.1L1390.5 1063.9ZM1381.8 1073.5L1387.6 1073.5L1385 1044.3ZM1416.7 1074.9L1422.8 1074.9L1420.1 1066.6ZM1374.6 1075.5L1380.2 1075.5L1377.7 1052.7ZM1396 1076.8L1401.3 1076.8L1399 1067.1ZM1371.2 1077.5L1376.4 1077.5L1374.1 1061.6ZM1397.4 1079.3L1401.2 1079.3L1399.6 1063.2ZM1428.4 1084.9L1432.7 1084.9L1430.8 1067ZM1393.9 1086.4L1398.5 1086.4L1396.5 1075.4ZM1422 1086.7L1426 1086.7L1424.3 1061ZM1393.2 1089.1L1398 1089.1L1395.9 1083.7ZM1426.4 1091.6L1432.5 1091.6L1429.8 1080.9ZM1388.3 1095.5L1393.9 1095.5L1391.4 1088.3ZM1419.6 1096.9L1424.5 1096.9L1422.3 1076.5ZM1380.7 1097.6L1386.7 1097.6L1384 1083.7ZM1439.3 1099L1443.2 1099L1441.6 1091.2ZM1382.1 1101.5L1386.9 1101.5L1384.8 1092.1ZM1350.1 1102.4L1355.9 1102.4L1353.3 1088.6ZM1345.7 1103.3L1349.7 1103.3L1348 1089.7ZM1352.9 1103.9L1357.1 1103.9L1355.3 1087.8ZM1348 1105.7L1353.5 1105.7L1351 1079.5ZM1432.9 1106.3L1437.7 1106.3L1435.6 1095.7ZM1354.8 1106.7L1359.7 1106.7L1357.6 1072.5ZM1464.5 1107L1469.4 1107L1467.2 1072.9ZM1354.9 1109.9L1358.7 1109.9L1357.1 1097.5ZM1411.9 1112L1418.1 1112L1415.3 1107ZM1470.2 1112.1L1475.6 1112.1L1473.2 1080.4ZM1459.2 1114.5L1463.7 1114.5L1461.8 1102.3ZM1448 1114.6L1453.1 1114.6L1450.9 1094.8ZM1338.6 1116.2L1344.5 1116.2L1341.8 1090ZM1462.4 1116.2L1466.5 1116.2L1464.7 1085.1ZM1439.6 1118.9L1445.3 1118.9L1442.8 1107.5ZM1389.5 1120L1394.5 1120L1392.3 1115ZM1380.9 1120.3L1386.8 1120.3L1384.1 1109.5ZM1484.9 1121.4L1489 1121.4L1487.3 1092.2ZM1344.2 1122.6L1349.5 1122.6L1347.1 1116.7ZM1348 1123.8L1353.5 1123.8L1351.1 1117.1ZM1485.9 1124.9L1490 1124.9L1488.3 1117.3ZM1369.7 1124.9L1375.8 1124.9L1373.1 1113.1ZM1444.4 1125.1L1450.2 1125.1L1447.6 1110.2ZM1465.4 1125.3L1469.5 1125.3L1467.7 1115.3ZM1309.6 1128.5L1314.8 1128.5L1312.5 1121.7ZM1485.6 1130.6L1489.7 1130.6L1487.9 1102.4ZM1306.9 1131.1L1312.4 1131.1L1310 1123.5ZM1384.2 1131.9L1388 1131.9L1386.4 1095.6ZM1427.9 1133.1L1431.9 1133.1L1430.2 1115.4ZM1447.4 1133.3L1453.3 1133.3L1450.7 1121.7ZM1492.1 1133.8L1496.5 1133.8L1494.6 1117.1ZM1327.5 1133.9L1331.2 1133.9L1329.6 1107.4ZM1339.7 1134.3L1345.7 1134.3L1343 1121.8ZM1479 1134.9L1485 1134.9L1482.3 1106.9ZM1378.7 1135.3L1382.3 1135.3L1380.8 1127.1ZM1459.7 1135.7L1465.7 1135.7L1463 1130ZM1494.7 1138.1L1499.5 1138.1L1497.4 1111.2ZM1508 1139.4L1512.4 1139.4L1510.5 1125.6ZM1419.8 1140.9L1424.8 1140.9L1422.6 1133.1ZM1347.5 1141.5L1352.2 1141.5L1350.2 1134.1ZM1414.6 1141.5L1420.2 1141.5L1417.7 1130.3ZM1472.3 1142.4L1477 1142.4L1474.9 1136.2ZM1395.4 1144.3L1399.4 1144.3L1397.7 1116.8ZM1502 1144.6L1507 1144.6L1504.8 1124ZM1486.8 1145L1490.4 1145L1488.9 1129.2ZM1483.3 1145L1487.8 1145L1485.9 1108.6ZM1485.2 1145.2L1490.1 1145.2L1487.9 1137.3ZM1320.1 1145.2L1324.1 1145.2L1322.4 1113.7ZM1498.4 1146.4L1502.7 1146.4L1500.8 1136.2ZM1505.1 1146.5L1510 1146.5L1507.9 1139.8ZM1371.1 1146.5L1375.1 1146.5L1373.4 1133.3ZM1399.4 1146.5L1404 1146.5L1402 1136.1ZM1466.6 1147.8L1471.2 1147.8L1469.2 1137.9ZM1440.6 1147.9L1445.2 1147.9L1443.2 1120.9ZM1391.7 1148.6L1396.2 1148.6L1394.2 1136.8ZM1352.4 1148.8L1356.2 1148.8L1354.6 1141.4ZM1460.5 1149L1466.3 1149L1463.7 1128ZM1478.4 1149.9L1482.4 1149.9L1480.7 1124.3ZM1280.3 1150.1L1285.7 1150.1L1283.3 1123.7ZM1346 1150.1L1352.1 1150.1L1349.3 1139.5ZM1347.5 1151.3L1352.7 1151.3L1350.4 1125.7ZM1343.8 1152L1347.7 1152L1346.1 1130.6ZM1519.4 1152.3L1525.5 1152.3L1522.7 1147.5ZM1388.9 1152.8L1394.5 1152.8L1392 1136.7ZM1374.3 1153L1379.4 1153L1377.1 1147.4ZM1516.2 1153.1L1521.2 1153.1L1519 1148.1ZM1424.3 1153.8L1430.3 1153.8L1427.6 1134.5ZM1332.7 1155L1336.8 1155L1335.1 1136.9ZM1486.8 1156.5L1491 1156.5L1489.2 1132.8ZM1413.4 1157.3L1418.8 1157.3L1416.4 1149ZM1322.6 1159.3L1328.6 1159.3L1325.9 1130.4ZM1293.6 1159.5L1298.9 1159.5L1296.5 1147.5ZM1443.6 1159.5L1448.6 1159.5L1446.4 1130.5ZM1514.3 1160.1L1519.4 1160.1L1517.1 1153.6ZM1530.4 1161.4L1536.5 1161.4L1533.8 1146.9ZM1319.7 1161.8L1323.7 1161.8L1322 1131ZM1461.1 1162.1L1465.1 1162.1L1463.4 1155.3ZM1469.8 1162.8L1475.1 1162.8L1472.8 1131.1ZM1488.5 1163L1492.6 1163L1490.8 1154.1ZM1263.6 1163L1269.4 1163L1266.8 1145.2ZM1488.9 1164.3L1494.2 1164.3L1491.9 1159ZM1413.2 1166L1417.4 1166L1415.6 1159.8ZM1395.1 1166L1399.3 1166L1397.5 1157.5ZM1325.1 1167.3L1331.2 1167.3L1328.5 1130.5ZM1281.8 1167.5L1287.5 1167.5L1284.9 1162.5ZM1315.4 1167.9L1320.7 1167.9L1318.3 1155ZM1299.8 1168.3L1304.8 1168.3L1302.6 1160.2ZM1269.9 1169.6L1274.5 1169.6L1272.5 1155.8ZM1303.1 1170.2L1309.1 1170.2L1306.4 1148.1ZM1539.4 1170.5L1545 1170.5L1542.5 1163.9ZM1347.2 1171.5L1351.8 1171.5L1349.8 1155.3ZM1552.2 1172.5L1557 1172.5L1554.9 1155.4ZM1507 1172.6L1511.9 1172.6L1509.7 1153.9ZM1469.2 1172.8L1474.9 1172.8L1472.3 1139.6ZM1253.3 1173.1L1258.3 1173.1L1256.1 1163.2ZM1343.6 1173.3L1347.9 1173.3L1346 1156ZM1537 1173.4L1541.8 1173.4L1539.7 1162.7ZM1540.9 1174.4L1546.3 1174.4L1543.9 1167.6ZM1300 1175.5L1304.6 1175.5L1302.6 1145.9ZM1291.2 1175.7L1294.8 1175.7L1293.3 1167.6ZM1566.1 1177.1L1571.5 1177.1L1569.1 1157.3ZM1380.2 1177.5L1384.4 1177.5L1382.6 1165.2ZM1546.1 1178.5L1551.7 1178.5L1549.2 1148.7ZM1438 1178.9L1442 1178.9L1440.3 1169.6ZM1429.3 1179.1L1434.6 1179.1L1432.3 1163.1ZM1517.6 1179.5L1522.7 1179.5L1520.4 1169.7ZM1563.6 1180.3L1569.5 1180.3L1566.8 1169.9ZM1259.5 1181L1263.3 1181L1261.7 1172.2ZM1289.2 1181.1L1294.8 1181.1L1292.3 1168ZM1439 1181.6L1444.7 1181.6L1442.1 1174.2ZM1428.8 1182L1434.8 1182L1432.1 1171ZM1333.8 1182.4L1339.1 1182.4L1336.7 1172.3ZM1518.2 1182.6L1522.8 1182.6L1520.8 1161.7ZM1372.8 1183.8L1376.9 1183.8L1375.1 1177.9ZM1303.6 1184.1L1307.9 1184.1L1306.1 1164.8ZM1530.2 1184.5L1533.9 1184.5L1532.3 1167.3ZM1438.9 1185L1443.9 1185L1441.7 1162.8ZM1397.4 1185.4L1402 1185.4L1400 1157ZM1440.2 1185.7L1445.3 1185.7L1443 1162.9ZM1313.3 1186.3L1317.5 1186.3L1315.7 1149.6ZM1561.6 1187.3L1566.5 1187.3L1564.3 1179.1ZM1269 1187.7L1273.2 1187.7L1271.4 1174ZM1576.2 1187.8L1582.1 1187.8L1579.4 1166.2ZM1287.4 1188.2L1291.7 1188.2L1289.9 1174.3ZM1513.5 1188.4L1517.5 1188.4L1515.8 1176.3ZM1253.1 1189.5L1258.8 1189.5L1256.3 1162.6ZM1338.8 1189.8L1344.9 1189.8L1342.2 1175ZM1254 1190L1259.1 1190L1256.8 1172.4ZM1451.9 1190.5L1457 1190.5L1454.8 1172.8ZM1541.6 1190.8L1546.1 1190.8L1544.2 1182.6ZM1250.9 1191.1L1254.6 1191.1L1253.1 1182.8ZM1506.5 1191.7L1512.1 1191.7L1509.6 1177.5ZM1262.4 1192L1267.9 1192L1265.4 1178.8ZM1439 1193.5L1444.1 1193.5L1441.9 1180.5ZM1464.8 1194.5L1468.4 1194.5L1466.9 1188.4ZM1249.7 1194.7L1255.2 1194.7L1252.7 1168.5ZM1500.1 1195.5L1504.5 1195.5L1502.6 1190.6ZM1227.7 1195.5L1233.3 1195.5L1230.8 1182.6ZM1493.1 1195.6L1497.4 1195.6L1495.6 1182ZM1260 1195.7L1263.6 1195.7L1262.1 1183.2ZM1461.4 1195.7L1467 1195.7L1464.5 1190.1ZM1550.8 1195.9L1554.6 1195.9L1553 1173.3ZM1400.9 1196.4L1405.9 1196.4L1403.7 1166.8ZM1500.2 1198.1L1505.2 1198.1L1503 1161.3ZM1466.7 1198.1L1470.8 1198.1L1469 1178.9ZM1560.3 1198.4L1564.4 1198.4L1562.7 1186.9ZM1409.1 1198.6L1415 1198.6L1412.3 1184.6ZM1517.7 1198.8L1521.6 1198.8L1520 1192.5ZM1574.9 1199.5L1579.4 1199.5L1577.4 1189.8ZM1445.8 1199.9L1451.3 1199.9L1448.8 1188.6ZM1537 1199.9L1542.9 1199.9L1540.2 1189.8ZM1525.3 1201L1528.9 1201L1527.4 1193.4ZM1284.8 1201L1290.2 1201L1287.8 1195ZM1491.3 1201.4L1495.7 1201.4L1493.8 1183.6ZM1361.3 1201.5L1365.3 1201.5L1363.6 1183.5ZM1411.9 1201.7L1418 1201.7L1415.2 1171.1ZM1427.5 1201.8L1432.2 1201.8L1430.1 1185.6ZM1316.5 1202.7L1322.1 1202.7L1319.6 1189.1ZM1412.8 1202.8L1417.3 1202.8L1415.4 1195.8ZM1268.7 1203.6L1273.1 1203.6L1271.2 1168.4ZM1452 1203.8L1457.9 1203.8L1455.3 1188.2ZM1509.1 1204.2L1513.6 1204.2L1511.7 1199.3ZM1599.3 1204.4L1604.5 1204.4L1602.2 1195.1ZM1503.8 1204.7L1508.4 1204.7L1506.4 1193.7ZM1334.8 1205.6L1340.2 1205.6L1337.8 1195.2ZM1534 1205.7L1539.6 1205.7L1537.1 1183.7ZM1536.6 1205.7L1542.1 1205.7L1539.7 1192.9ZM1609 1205.9L1614.5 1205.9L1612.1 1179.4ZM1550.6 1206.1L1556.2 1206.1L1553.7 1189.4ZM1311.2 1206.3L1316.9 1206.3L1314.4 1177.2ZM1449 1206.3L1454.6 1206.3L1452.1 1176.5ZM1232.4 1206.5L1236.1 1206.5L1234.5 1180.3ZM1537.6 1206.7L1541.6 1206.7L1539.9 1191.5ZM1468.6 1206.9L1474.4 1206.9L1471.8 1200.2ZM1471.8 1207.7L1477.4 1207.7L1474.9 1191.5ZM1431.1 1208.3L1435.1 1208.3L1433.4 1172.1ZM1482.8 1208.7L1486.5 1208.7L1484.9 1201.8ZM1529.3 1208.7L1534.1 1208.7L1532 1194.5ZM1407.2 1208.8L1412.9 1208.8L1410.3 1199.1ZM1424.9 1208.8L1429.5 1208.8L1427.5 1201.6ZM1207.6 1208.9L1212.5 1208.9L1210.3 1181.6ZM1343.6 1209.2L1348.6 1209.2L1346.4 1200.2ZM1502 1209.6L1506.7 1209.6L1504.6 1201ZM1308.8 1210.1L1314.6 1210.1L1312 1199.3ZM1452.4 1210.5L1457.5 1210.5L1455.2 1180.2ZM1420.6 1210.5L1426.5 1210.5L1423.9 1194.6ZM1466.5 1210.6L1470.4 1210.6L1468.8 1202.9ZM1366.7 1210.8L1371.1 1210.8L1369.2 1193.1ZM1404.5 1211.4L1408.2 1211.4L1406.7 1202.7ZM1513.5 1211.7L1518.7 1211.7L1516.4 1204.4ZM1549.7 1212.1L1553.4 1212.1L1551.8 1200ZM1603.1 1213.2L1608.5 1213.2L1606.1 1194.2ZM1492 1213.3L1497 1213.3L1494.8 1186.1ZM1414.4 1213.7L1418.2 1213.7L1416.6 1207ZM1606.8 1214L1610.4 1214L1608.9 1195.7ZM1619.9 1214.5L1623.9 1214.5L1622.2 1208ZM1458 1214.6L1463.7 1214.6L1461.2 1204.1ZM1462.4 1215.4L1466 1215.4L1464.5 1209.1ZM1541.2 1215.5L1546 1215.5L1543.9 1204.9ZM1339.7 1216.2L1344.5 1216.2L1342.4 1198.3ZM1567.2 1217.1L1573.2 1217.1L1570.5 1204.9ZM1217.1 1217.4L1220.8 1217.4L1219.2 1211.2ZM1490.1 1217.6L1496.1 1217.6L1493.4 1201.9ZM1318.7 1217.6L1324 1217.6L1321.7 1211.1ZM1562 1217.9L1565.7 1217.9L1564.1 1189.9ZM1197.2 1218L1201.8 1218L1199.8 1194.6ZM1291.9 1219.4L1295.6 1219.4L1294.1 1209.6ZM1318.5 1219.5L1322.3 1219.5L1320.7 1214.4ZM1217.1 1220.9L1222 1220.9L1219.9 1214.5ZM1565 1221.4L1571.1 1221.4L1568.3 1213.6ZM1277 1222L1281.9 1222L1279.8 1212ZM1499.3 1222.1L1503.2 1222.1L1501.6 1211.2ZM1449.2 1222.2L1454.7 1222.2L1452.2 1213.3ZM1267.5 1222.3L1272.6 1222.3L1270.3 1217.2ZM1194.3 1222.5L1199.9 1222.5L1197.4 1215.7ZM1263.2 1222.7L1267.3 1222.7L1265.6 1210.1ZM1229.9 1222.8L1233.8 1222.8L1232.2 1212.9ZM1214 1223L1219.9 1223L1217.3 1218ZM1448.3 1223.5L1454.1 1223.5L1451.5 1207.3ZM1193.4 1223.6L1198.2 1223.6L1196.1 1209.4ZM1339.4 1223.7L1344.9 1223.7L1342.4 1210.3ZM1620.7 1223.9L1625 1223.9L1623.2 1213.9ZM1538.2 1224.3L1542.4 1224.3L1540.6 1201.9ZM1378.6 1224.4L1383.4 1224.4L1381.3 1215.1ZM1203.6 1225L1209.7 1225L1207 1217.2ZM1341.5 1225.5L1345.1 1225.5L1343.6 1205.1ZM1228.7 1227.6L1232.6 1227.6L1231 1193.9ZM1234.1 1227.7L1239.4 1227.7L1237 1211.4ZM1208.1 1228L1213.7 1228L1211.2 1214.7ZM1615.1 1228.6L1619.6 1228.6L1617.7 1194.5ZM1384.1 1228.7L1389.8 1228.7L1387.3 1218.9ZM1494.8 1228.7L1500.5 1228.7L1497.9 1212.2ZM1582.6 1228.8L1587.6 1228.8L1585.4 1197ZM1270.8 1228.8L1274.9 1228.8L1273.1 1220.8ZM1194.4 1229.1L1198 1229.1L1196.5 1220.4ZM1573.2 1229.9L1576.9 1229.9L1575.4 1219.8ZM1594.2 1230.5L1598.5 1230.5L1596.6 1204.9ZM1247.2 1231.7L1252.7 1231.7L1250.3 1216.7ZM1597.5 1231.8L1602.3 1231.8L1600.2 1197.7ZM1507.2 1232.3L1511.8 1232.3L1509.8 1210.5ZM1476.4 1233L1480.4 1233L1478.7 1223.8ZM1223.9 1233.1L1228.1 1233.1L1226.3 1214.8ZM1599.2 1233.1L1604.5 1233.1L1602.1 1223.9ZM1511.1 1233.6L1515.7 1233.6L1513.7 1201.4ZM1462.7 1234L1466.6 1234L1465 1225.5ZM1252.5 1234.2L1256.8 1234.2L1254.9 1226ZM1553.1 1234.2L1559.1 1234.2L1556.4 1217ZM1503.9 1234.3L1507.7 1234.3L1506.1 1217ZM1499.5 1234.6L1505.7 1234.6L1502.9 1205.8ZM1336.7 1234.9L1342.5 1234.9L1339.9 1224.1ZM1433.9 1235.1L1439.6 1235.1L1437.1 1224ZM1229.9 1235.2L1235.7 1235.2L1233.1 1225.3ZM1568 1236L1572.2 1236L1570.4 1215.1ZM1598.3 1236.1L1604.3 1236.1L1601.6 1223.2ZM1265.4 1236.3L1270.9 1236.3L1268.4 1209.6ZM1337.6 1236.5L1341.8 1236.5L1340 1230.7ZM1598.5 1236.9L1604.1 1236.9L1601.6 1228.3ZM1189 1237.2L1194.4 1237.2L1192 1204.4ZM1258.9 1237.3L1263 1237.3L1261.2 1207.6ZM1595.2 1238.4L1599.8 1238.4L1597.8 1233.6ZM1240.6 1239.6L1246.2 1239.6L1243.7 1233.5ZM1252.8 1240.3L1258.7 1240.3L1256.1 1206.2ZM1310.5 1240.6L1314.4 1240.6L1312.7 1213.9ZM1332.4 1240.7L1336.5 1240.7L1334.8 1234ZM1303.5 1240.8L1307.4 1240.8L1305.7 1227.7ZM1436.6 1242.1L1442.6 1242.1L1439.9 1231.9ZM1408.8 1242.1L1413.6 1242.1L1411.5 1232.3ZM1549.6 1242.2L1553.4 1242.2L1551.8 1234.9ZM1589.3 1243.5L1595.4 1243.5L1592.6 1234.6ZM1378.9 1244.5L1382.6 1244.5L1381 1229.2ZM1296.9 1244.6L1302.9 1244.6L1300.2 1236.2ZM1222.6 1244.9L1227.2 1244.9L1225.2 1236.1ZM1352.9 1245.1L1357.8 1245.1L1355.7 1230.2ZM1536.3 1245.5L1542.3 1245.5L1539.6 1233.9ZM1510.4 1246.5L1515.6 1246.5L1513.3 1233ZM1556.1 1247.7L1561 1247.7L1558.8 1240.8ZM1452.1 1248.7L1456.4 1248.7L1454.6 1238.8ZM1568.6 1249.2L1573.2 1249.2L1571.2 1226.7ZM1369.4 1250.8L1373.8 1250.8L1371.9 1241.9ZM1478.3 1251.1L1483.2 1251.1L1481.1 1242.9ZM1374.6 1251.5L1378.4 1251.5L1376.8 1243.1ZM1220.5 1251.5L1224.3 1251.5L1222.7 1229.3ZM1442.9 1251.6L1448.5 1251.6L1446 1224.5ZM1261.9 1252.6L1267.1 1252.6L1264.8 1241ZM1426.8 1253.7L1433 1253.7L1430.2 1241.1ZM1500.3 1254.6L1505.5 1254.6L1503.2 1242.6ZM1580.1 1255.1L1585.5 1255.1L1583.1 1249.2ZM1506 1255.5L1510.2 1255.5L1508.4 1247.4ZM1256.5 1255.6L1260.4 1255.6L1258.7 1233.1ZM1420.7 1256.2L1424.9 1256.2L1423.1 1240.7ZM1342.3 1256.5L1348.3 1256.5L1345.6 1232.4ZM1449.2 1256.5L1453.1 1256.5L1451.4 1232.7ZM1268.5 1256.6L1272.9 1256.6L1271 1246.3ZM1287.9 1257.1L1292.1 1257.1L1290.3 1240.4ZM1530.2 1257.2L1535.2 1257.2L1533 1239.3ZM1538.4 1257.3L1542.8 1257.3L1540.9 1229.2ZM1272 1257.4L1277.8 1257.4L1275.2 1252ZM1566 1257.6L1572 1257.6L1569.3 1241.9ZM1230.1 1258.2L1235.1 1258.2L1232.9 1240.3ZM1330.6 1258.5L1336.5 1258.5L1333.8 1252.2ZM1347.3 1258.8L1352.1 1258.8L1350 1245.4ZM1547.2 1259.4L1550.8 1259.4L1549.3 1243ZM1399.9 1260.4L1404.2 1260.4L1402.4 1246.3ZM1417.7 1261.3L1421.8 1261.3L1420 1233.1ZM1399.4 1261.4L1404.9 1261.4L1402.5 1237.2ZM1337.6 1261.8L1341.3 1261.8L1339.8 1237.8ZM1352 1262.1L1357.8 1262.1L1355.2 1252.2ZM1375.3 1262.9L1380.5 1262.9L1378.2 1255.3ZM1266 1262.9L1270.7 1262.9L1268.7 1257.9ZM1338.9 1263.7L1343.9 1263.7L1341.7 1237.3ZM1357.7 1264.5L1362.4 1264.5L1360.3 1243ZM1264.2 1265.4L1269.2 1265.4L1267 1258.7ZM1436.8 1265.7L1440.4 1265.7L1438.9 1252.2ZM1460.4 1266.1L1464.3 1266.1L1462.6 1231.9ZM1312.2 1266.2L1318 1266.2L1315.4 1258ZM1354.6 1266.7L1358.3 1266.7L1356.7 1242.7ZM1469.5 1266.8L1473.1 1266.8L1471.6 1249.3ZM1465.8 1267.2L1469.7 1267.2L1468 1244.9ZM1493.3 1268L1499.2 1268L1496.5 1259ZM1420.8 1268.5L1426.3 1268.5L1423.9 1255ZM1465 1269.1L1471.1 1269.1L1468.4 1255.4ZM1519.3 1269.1L1524.2 1269.1L1522.1 1259.3ZM1417.3 1269.2L1421.5 1269.2L1419.7 1264.3ZM1369.9 1270.8L1374.5 1270.8L1372.5 1262.7ZM1329.7 1271L1334.2 1271L1332.3 1244.5ZM1315.8 1271.3L1320.9 1271.3L1318.7 1248.4ZM1363.5 1271.9L1369.2 1271.9L1366.7 1263.3ZM1422.5 1272.7L1426.6 1272.7L1424.9 1263.1ZM1393.6 1273.1L1398.5 1273.1L1396.4 1255.5ZM1415 1273.3L1420.6 1273.3L1418.1 1257.4ZM1328.8 1273.6L1334.9 1273.6L1332.2 1263.5ZM1349.7 1274.8L1355.7 1274.8L1353 1266.5ZM1485.6 1274.9L1490.8 1274.9L1488.5 1266ZM1394.4 1275.1L1398.4 1275.1L1396.7 1262.4ZM1422.2 1275.1L1426 1275.1L1424.4 1267.4ZM1366.2 1275.2L1370.1 1275.2L1368.4 1262ZM1477.9 1275.8L1483.3 1275.8L1480.9 1262.9ZM1357.7 1275.8L1363.3 1275.8L1360.8 1267.8ZM1469.1 1276.4L1473.7 1276.4L1471.7 1258.5ZM1413.5 1278.3L1417.9 1278.3L1416 1271.4ZM1372.9 1278.5L1377.2 1278.5L1375.4 1251.5ZM1287.9 1278.9L1293.2 1278.9L1290.9 1268.7ZM1271.8 1279.2L1276.9 1279.2L1274.7 1267.8ZM1296.9 1281L1302.7 1281L1300.1 1258.1ZM1332.8 1281.1L1338 1281.1L1335.7 1272.5ZM1390.5 1281.6L1395.9 1281.6L1393.5 1247.9ZM1504.2 1281.7L1508.7 1281.7L1506.8 1262.8ZM1257.2 1282L1262.4 1282L1260.1 1270.6ZM1347.2 1282.8L1351.5 1282.8L1349.7 1253.5ZM1493.8 1284.7L1499.2 1284.7L1496.8 1269.3ZM1367.6 1285L1372.7 1285L1370.4 1270.7ZM1276.5 1285.9L1281.2 1285.9L1279.1 1257.3ZM1305.1 1286.2L1310.6 1286.2L1308.1 1250.7ZM1509.2 1286.3L1513.8 1286.3L1511.8 1276.9ZM1370 1287.3L1375.2 1287.3L1372.9 1271ZM1362.2 1287.3L1367.8 1287.3L1365.3 1277.9ZM1386.6 1288L1391 1288L1389.1 1276.7ZM1448.9 1288.1L1453.1 1288.1L1451.3 1280.4ZM1266.5 1288.4L1272.5 1288.4L1269.8 1275.3ZM1374.9 1288.7L1380.6 1288.7L1378.1 1272.2ZM1421.6 1289.2L1425.5 1289.2L1423.9 1276.2ZM1270.1 1290.3L1274.3 1290.3L1272.5 1279ZM1299.6 1290.8L1303.7 1290.8L1301.9 1273.9ZM1482.1 1291.1L1486.5 1291.1L1484.6 1258.2ZM1380 1291.8L1385.3 1291.8L1382.9 1280.8ZM1319.8 1292.3L1325.8 1292.3L1323.1 1283.5ZM1318.7 1293.9L1324.3 1293.9L1321.8 1271.2ZM1403.1 1294.7L1407.6 1294.7L1405.6 1286.5ZM1400.2 1296.1L1405.3 1296.1L1403.1 1282.2ZM1276.7 1296.3L1281.6 1296.3L1279.5 1286ZM1479.2 1297.5L1484.9 1297.5L1482.3 1292.2ZM1379.3 1299.1L1383.8 1299.1L1381.9 1286.1ZM1346.5 1299.4L1350.4 1299.4L1348.8 1291.1ZM1355.3 1299.8L1359.7 1299.8L1357.8 1286.3ZM1510.5 1300.6L1516.4 1300.6L1513.7 1283.2ZM1347.2 1303.2L1351.6 1303.2L1349.7 1288.9ZM1423.6 1304.5L1427.8 1304.5L1426 1296.5ZM1454.6 1304.9L1460.1 1304.9L1457.6 1294.5ZM1455.8 1305.4L1461.9 1305.4L1459.2 1288.2ZM1376.7 1306.8L1382.6 1306.8L1379.9 1285.7ZM1419.6 1307.8L1424.4 1307.8L1422.3 1293.5ZM1387.3 1308.8L1391.9 1308.8L1389.9 1299.7ZM1452.3 1308.8L1457.6 1308.8L1455.2 1297.1ZM1461.2 1309.7L1466.5 1309.7L1464.1 1286ZM1361.2 1310.5L1365.9 1310.5L1363.9 1304.1ZM1469.4 1310.7L1475.1 1310.7L1472.6 1283.4ZM1383.4 1311.3L1388.2 1311.3L1386.1 1301.5ZM1444.6 1312.8L1450.4 1312.8L1447.8 1303.2ZM1391.6 1314L1397.1 1314L1394.6 1295.1ZM1484.9 1314.2L1490.1 1314.2L1487.8 1308.8ZM1394.9 1314.3L1399.5 1314.3L1397.5 1305.9ZM1491.7 1317.5L1496.8 1317.5L1494.5 1299.8ZM1392.1 1318.2L1397.6 1318.2L1395.2 1286.7ZM1339.5 1318.4L1344.5 1318.4L1342.3 1305.3ZM1341.1 1319.6L1347.2 1319.6L1344.4 1298.6ZM1385.5 1319.7L1391.4 1319.7L1388.8 1312.6ZM1413.6 1320.2L1418.1 1320.2L1416.1 1315.3ZM1414.9 1320.3L1418.7 1320.3L1417.1 1308.1ZM1357.1 1320.7L1361.8 1320.7L1359.8 1312.8ZM1425.7 1322L1431.6 1322L1429 1304.2ZM1329.7 1322.3L1333.6 1322.3L1332 1302.2ZM1492.7 1323.3L1496.7 1323.3L1495 1315.8ZM1354.4 1323.9L1358.4 1323.9L1356.7 1301.3ZM1443.3 1324.4L1447.8 1324.4L1445.8 1314.2ZM1476.2 1327.1L1480.6 1327.1L1478.7 1311.9ZM1396.6 1327.6L1402 1327.6L1399.6 1319.4ZM1332.7 1328L1338.3 1328L1335.8 1317.6ZM1396.2 1328.8L1402.3 1328.8L1399.5 1304.5ZM1438.8 1329.5L1443.5 1329.5L1441.5 1306.5ZM1436.8 1329.6L1440.4 1329.6L1438.9 1300ZM1464.2 1329.6L1468.2 1329.6L1466.5 1310.6ZM1421.1 1329.7L1426.4 1329.7L1424.1 1313.7ZM1392.4 1330.5L1398 1330.5L1395.5 1317.7ZM1451.6 1331.8L1457.2 1331.8L1454.7 1309.8ZM1345.5 1332.2L1350.2 1332.2L1348.1 1306.9ZM1363.9 1332.2L1368.2 1332.2L1366.4 1306.2ZM1463.7 1332.9L1467.6 1332.9L1466 1321.6ZM1394.7 1333L1398.3 1333L1396.8 1311.9ZM1415.8 1333.9L1419.7 1333.9L1418.1 1319ZM1446.9 1334L1451.3 1334L1449.4 1319.5ZM1352.5 1334.7L1356.4 1334.7L1354.8 1312.9ZM1384.2 1335.8L1390 1335.8L1387.4 1309.6ZM1360.8 1336.8L1367 1336.8L1364.2 1321.5ZM1460.4 1339.2L1464.9 1339.2L1462.9 1322.1ZM1386.1 1340.4L1391.3 1340.4L1389 1333.7ZM1464 1340.4L1469.7 1340.4L1467.1 1316.4ZM1429.4 1340.5L1435.6 1340.5L1432.8 1304.6ZM1410.8 1340.8L1415.6 1340.8L1413.5 1311.5ZM1433.8 1342.7L1437.6 1342.7L1436 1316ZM1428.2 1345.6L1432.5 1345.6L1430.7 1324.5ZM1436.9 1346L1442.2 1346L1439.9 1334.1ZM1373.5 1348.1L1379.1 1348.1L1376.6 1337ZM1357.3 1349.8L1362.1 1349.8L1360 1326.4ZM1442.9 1354.5L1448.3 1354.5L1445.9 1345.7ZM1382.6 1354.8L1388.7 1354.8L1386 1347.9ZM1394.5 1355.6L1398.3 1355.6L1396.7 1344.4ZM1400.1 1357.8L1404.5 1357.8L1402.6 1330.5ZM1418.5 1359.4L1424.4 1359.4L1421.8 1352.9ZM1397.7 1359.6L1403 1359.6L1400.7 1325ZM1429.2 1371.3L1433.8 1371.3L1431.8 1346.5ZM1404.3 1376.2L1409.2 1376.2L1407 1362.3ZM1409.4 1381.4L1414.4 1381.4L1412.2 1369.1Z" fill="#d9a243"/>
<path d="M1400.2 1060.1L1403.2 1060.1L1402 1040.9ZM1383.1 1064.8L1386.3 1064.8L1385 1044.3ZM1375.9 1068.7L1378.9 1068.7L1377.7 1052.7ZM1397.2 1073.9L1400.1 1073.9L1399 1067.1ZM1372.4 1072.8L1375.3 1072.8L1374.1 1061.6ZM1398.2 1074.5L1400.3 1074.5L1399.6 1063.2ZM1429.4 1079.5L1431.7 1079.5L1430.8 1067ZM1394.9 1083.1L1397.4 1083.1L1396.5 1075.4ZM1422.9 1079L1425.1 1079L1424.3 1061ZM1427.8 1088.4L1431.1 1088.4L1429.8 1080.9ZM1420.7 1090.8L1423.4 1090.8L1422.3 1076.5ZM1382 1093.4L1385.3 1093.4L1384 1083.7ZM1383.2 1098.7L1385.8 1098.7L1384.8 1092.1ZM1351.4 1098.2L1354.6 1098.2L1353.3 1088.6ZM1346.6 1099.2L1348.8 1099.2L1348 1089.7ZM1353.9 1099.1L1356.2 1099.1L1355.3 1087.8ZM1349.2 1097.8L1352.3 1097.8L1351 1079.5ZM1434 1103.1L1436.6 1103.1L1435.6 1095.7ZM1355.9 1096.5L1358.6 1096.5L1357.6 1072.5ZM1465.6 1096.8L1468.3 1096.8L1467.2 1072.9ZM1355.8 1106.2L1357.9 1106.2L1357.1 1097.5ZM1471.4 1102.6L1474.4 1102.6L1473.2 1080.4ZM1460.2 1110.9L1462.7 1110.9L1461.8 1102.3ZM1449.1 1108.6L1452 1108.6L1450.9 1094.8ZM1339.9 1108.3L1343.2 1108.3L1341.8 1090ZM1463.3 1106.9L1465.6 1106.9L1464.7 1085.1ZM1440.9 1115.5L1444 1115.5L1442.8 1107.5ZM1382.2 1117.1L1385.5 1117.1L1384.1 1109.5ZM1485.8 1112.7L1488.1 1112.7L1487.3 1092.2ZM1371.1 1121.4L1374.4 1121.4L1373.1 1113.1ZM1445.7 1120.6L1448.9 1120.6L1447.6 1110.2ZM1466.3 1122.3L1468.6 1122.3L1467.7 1115.3ZM1486.5 1122.1L1488.8 1122.1L1487.9 1102.4ZM1385 1121L1387.1 1121L1386.4 1095.6ZM1428.8 1127.8L1431 1127.8L1430.2 1115.4ZM1448.7 1129.8L1452 1129.8L1450.7 1121.7ZM1493.1 1128.8L1495.5 1128.8L1494.6 1117.1ZM1328.3 1126L1330.3 1126L1329.6 1107.4ZM1341.1 1130.5L1344.4 1130.5L1343 1121.8ZM1480.4 1126.5L1483.7 1126.5L1482.3 1106.9ZM1495.8 1130.1L1498.4 1130.1L1497.4 1111.2ZM1509 1135.3L1511.4 1135.3L1510.5 1125.6ZM1415.9 1138.2L1418.9 1138.2L1417.7 1130.3ZM1396.3 1136.1L1398.5 1136.1L1397.7 1116.8ZM1503.1 1138.4L1505.9 1138.4L1504.8 1124ZM1487.6 1140.3L1489.6 1140.3L1488.9 1129.2ZM1484.4 1134.1L1486.8 1134.1L1485.9 1108.6ZM1321 1135.8L1323.2 1135.8L1322.4 1113.7ZM1499.4 1143.4L1501.7 1143.4L1500.8 1136.2ZM1372 1142.5L1374.2 1142.5L1373.4 1133.3ZM1400.5 1143.4L1403 1143.4L1402 1136.1ZM1467.6 1144.8L1470.1 1144.8L1469.2 1137.9ZM1441.7 1139.8L1444.2 1139.8L1443.2 1120.9ZM1392.7 1145.1L1395.1 1145.1L1394.2 1136.8ZM1461.8 1142.7L1465 1142.7L1463.7 1128ZM1479.3 1142.2L1481.5 1142.2L1480.7 1124.3ZM1281.5 1142.2L1284.5 1142.2L1283.3 1123.7ZM1347.4 1146.9L1350.7 1146.9L1349.3 1139.5ZM1348.7 1143.6L1351.5 1143.6L1350.4 1125.7ZM1344.7 1145.6L1346.9 1145.6L1346.1 1130.6ZM1390.1 1148L1393.2 1148L1392 1136.7ZM1425.6 1148L1428.9 1148L1427.6 1134.5ZM1333.7 1149.6L1335.9 1149.6L1335.1 1136.9ZM1487.8 1149.4L1490.1 1149.4L1489.2 1132.8ZM1323.9 1150.7L1327.2 1150.7L1325.9 1130.4ZM1294.8 1155.9L1297.7 1155.9L1296.5 1147.5ZM1444.7 1150.8L1447.4 1150.8L1446.4 1130.5ZM1531.8 1157L1535.2 1157L1533.8 1146.9ZM1320.6 1152.6L1322.8 1152.6L1322 1131ZM1471 1153.2L1473.9 1153.2L1472.8 1131.1ZM1264.9 1157.7L1268.1 1157.7L1266.8 1145.2ZM1326.5 1156.3L1329.8 1156.3L1328.5 1130.5ZM1316.6 1164L1319.5 1164L1318.3 1155ZM1270.9 1165.4L1273.4 1165.4L1272.5 1155.8ZM1304.5 1163.6L1307.8 1163.6L1306.4 1148.1ZM1348.2 1166.7L1350.8 1166.7L1349.8 1155.3ZM1553.3 1167.4L1556 1167.4L1554.9 1155.4ZM1508.1 1167L1510.8 1167L1509.7 1153.9ZM1470.4 1162.8L1473.6 1162.8L1472.3 1139.6ZM1254.4 1170.1L1257.1 1170.1L1256.1 1163.2ZM1344.5 1168.1L1346.9 1168.1L1346 1156ZM1538 1170.2L1540.7 1170.2L1539.7 1162.7ZM1301.1 1166.6L1303.5 1166.6L1302.6 1145.9ZM1567.3 1171.1L1570.3 1171.1L1569.1 1157.3ZM1381.2 1173.8L1383.4 1173.8L1382.6 1165.2ZM1547.4 1169.6L1550.4 1169.6L1549.2 1148.7ZM1438.9 1176.1L1441.1 1176.1L1440.3 1169.6ZM1430.5 1174.3L1433.4 1174.3L1432.3 1163.1ZM1518.7 1176.5L1521.6 1176.5L1520.4 1169.7ZM1564.9 1177.2L1568.1 1177.2L1566.8 1169.9ZM1290.4 1177.2L1293.5 1177.2L1292.3 1168ZM1430.1 1178.7L1433.4 1178.7L1432.1 1171ZM1335 1179.3L1337.9 1179.3L1336.7 1172.3ZM1519.2 1176.3L1521.8 1176.3L1520.8 1161.7ZM1304.6 1178.3L1306.9 1178.3L1306.1 1164.8ZM1531 1179.3L1533 1179.3L1532.3 1167.3ZM1440 1178.3L1442.7 1178.3L1441.7 1162.8ZM1398.4 1176.8L1400.9 1176.8L1400 1157ZM1441.3 1178.8L1444.1 1178.8L1443 1162.9ZM1314.3 1175.3L1316.6 1175.3L1315.7 1149.6ZM1269.9 1183.6L1272.3 1183.6L1271.4 1174ZM1577.5 1181.3L1580.7 1181.3L1579.4 1166.2ZM1288.4 1184L1290.7 1184L1289.9 1174.3ZM1514.4 1184.8L1516.6 1184.8L1515.8 1176.3ZM1254.4 1181.4L1257.5 1181.4L1256.3 1162.6ZM1340.2 1185.4L1343.5 1185.4L1342.2 1175ZM1255.1 1184.7L1257.9 1184.7L1256.8 1172.4ZM1453.1 1185.2L1455.9 1185.2L1454.8 1172.8ZM1507.7 1187.4L1510.8 1187.4L1509.6 1177.5ZM1263.6 1188.1L1266.7 1188.1L1265.4 1178.8ZM1440.2 1189.6L1443 1189.6L1441.9 1180.5ZM1250.9 1186.9L1254 1186.9L1252.7 1168.5ZM1229 1191.6L1232.1 1191.6L1230.8 1182.6ZM1494.1 1191.5L1496.4 1191.5L1495.6 1182ZM1260.8 1191.9L1262.8 1191.9L1262.1 1183.2ZM1551.6 1189.1L1553.7 1189.1L1553 1173.3ZM1402 1187.5L1404.8 1187.5L1403.7 1166.8ZM1501.3 1187.1L1504 1187.1L1503 1161.3ZM1467.6 1192.4L1469.8 1192.4L1469 1178.9ZM1561.2 1195L1563.5 1195L1562.7 1186.9ZM1410.4 1194.4L1413.7 1194.4L1412.3 1184.6ZM1575.9 1196.6L1578.4 1196.6L1577.4 1189.8ZM1447.1 1196.5L1450 1196.5L1448.8 1188.6ZM1538.3 1196.9L1541.6 1196.9L1540.2 1189.8ZM1492.3 1196.1L1494.7 1196.1L1493.8 1183.6ZM1362.2 1196.1L1364.4 1196.1L1363.6 1183.5ZM1413.2 1192.5L1416.6 1192.5L1415.2 1171.1ZM1428.5 1196.9L1431.1 1196.9L1430.1 1185.6ZM1317.7 1198.6L1320.8 1198.6L1319.6 1189.1ZM1269.7 1193L1272.1 1193L1271.2 1168.4ZM1453.3 1199.1L1456.6 1199.1L1455.3 1188.2ZM1600.5 1201.6L1603.3 1201.6L1602.2 1195.1ZM1504.8 1201.4L1507.4 1201.4L1506.4 1193.7ZM1336.1 1202.5L1339 1202.5L1337.8 1195.2ZM1535.2 1199.1L1538.4 1199.1L1537.1 1183.7ZM1537.9 1201.9L1540.9 1201.9L1539.7 1192.9ZM1610.3 1197.9L1613.3 1197.9L1612.1 1179.4ZM1551.8 1201.1L1554.9 1201.1L1553.7 1189.4ZM1312.5 1197.5L1315.6 1197.5L1314.4 1177.2ZM1450.2 1197.4L1453.3 1197.4L1452.1 1176.5ZM1233.2 1198.6L1235.3 1198.6L1234.5 1180.3ZM1538.5 1202.1L1540.7 1202.1L1539.9 1191.5ZM1473 1202.8L1476.1 1202.8L1474.9 1191.5ZM1432 1197.4L1434.2 1197.4L1433.4 1172.1ZM1530.4 1204.5L1533 1204.5L1532 1194.5ZM1408.5 1205.9L1411.6 1205.9L1410.3 1199.1ZM1208.7 1200.7L1211.4 1200.7L1210.3 1181.6ZM1344.8 1206.5L1347.5 1206.5L1346.4 1200.2ZM1310.1 1206.8L1313.3 1206.8L1312 1199.3ZM1453.5 1201.4L1456.3 1201.4L1455.2 1180.2ZM1421.9 1205.7L1425.2 1205.7L1423.9 1194.6ZM1367.7 1205.5L1370.1 1205.5L1369.2 1193.1ZM1550.5 1208.5L1552.5 1208.5L1551.8 1200ZM1604.3 1207.5L1607.3 1207.5L1606.1 1194.2ZM1493.1 1205.1L1495.9 1205.1L1494.8 1186.1ZM1607.6 1208.5L1609.6 1208.5L1608.9 1195.7ZM1459.3 1211.4L1462.4 1211.4L1461.2 1204.1ZM1542.3 1212.3L1544.9 1212.3L1543.9 1204.9ZM1340.8 1210.8L1343.4 1210.8L1342.4 1198.3ZM1568.6 1213.4L1571.9 1213.4L1570.5 1204.9ZM1491.5 1212.9L1494.7 1212.9L1493.4 1201.9ZM1562.8 1209.5L1564.9 1209.5L1564.1 1189.9ZM1198.2 1211L1200.7 1211L1199.8 1194.6ZM1292.8 1216.5L1294.7 1216.5L1294.1 1209.6ZM1278.1 1219L1280.8 1219L1279.8 1212ZM1500.2 1218.8L1502.4 1218.8L1501.6 1211.2ZM1264.1 1219L1266.4 1219L1265.6 1210.1ZM1230.8 1219.9L1232.9 1219.9L1232.2 1212.9ZM1449.6 1218.6L1452.8 1218.6L1451.5 1207.3ZM1194.5 1219.4L1197.1 1219.4L1196.1 1209.4ZM1340.6 1219.6L1343.7 1219.6L1342.4 1210.3ZM1621.7 1220.9L1624 1220.9L1623.2 1213.9ZM1539.2 1217.6L1541.5 1217.6L1540.6 1201.9ZM1379.7 1221.6L1382.3 1221.6L1381.3 1215.1ZM1342.3 1219.4L1344.3 1219.4L1343.6 1205.1ZM1229.6 1217.5L1231.7 1217.5L1231 1193.9ZM1235.3 1222.8L1238.2 1222.8L1237 1211.4ZM1209.4 1224L1212.4 1224L1211.2 1214.7ZM1616.1 1218.4L1618.6 1218.4L1617.7 1194.5ZM1385.4 1225.8L1388.5 1225.8L1387.3 1218.9ZM1496.1 1223.8L1499.2 1223.8L1497.9 1212.2ZM1583.8 1219.2L1586.5 1219.2L1585.4 1197ZM1574 1226.9L1576.1 1226.9L1575.4 1219.8ZM1595.1 1222.8L1597.5 1222.8L1596.6 1204.9ZM1248.4 1227.2L1251.5 1227.2L1250.3 1216.7ZM1598.6 1221.5L1601.2 1221.5L1600.2 1197.7ZM1508.2 1225.8L1510.7 1225.8L1509.8 1210.5ZM1477.3 1230.2L1479.5 1230.2L1478.7 1223.8ZM1224.8 1227.6L1227.1 1227.6L1226.3 1214.8ZM1600.4 1230.4L1603.3 1230.4L1602.1 1223.9ZM1512.1 1223.9L1514.6 1223.9L1513.7 1201.4ZM1554.4 1229L1557.7 1229L1556.4 1217ZM1504.8 1229.1L1506.9 1229.1L1506.1 1217ZM1500.9 1226L1504.3 1226L1502.9 1205.8ZM1338 1231.7L1341.2 1231.7L1339.9 1224.1ZM1435.2 1231.7L1438.3 1231.7L1437.1 1224ZM1231.2 1232.2L1234.4 1232.2L1233.1 1225.3ZM1568.9 1229.8L1571.3 1229.8L1570.4 1215.1ZM1599.6 1232.3L1603 1232.3L1601.6 1223.2ZM1266.6 1228.3L1269.7 1228.3L1268.4 1209.6ZM1190.2 1227.3L1193.2 1227.3L1192 1204.4ZM1259.8 1228.4L1262 1228.4L1261.2 1207.6ZM1254.2 1230.1L1257.4 1230.1L1256.1 1206.2ZM1311.4 1232.6L1313.5 1232.6L1312.7 1213.9ZM1304.4 1236.8L1306.5 1236.8L1305.7 1227.7ZM1437.9 1239L1441.2 1239L1439.9 1231.9ZM1409.9 1239.2L1412.5 1239.2L1411.5 1232.3ZM1379.7 1239.9L1381.8 1239.9L1381 1229.2ZM1354 1240.6L1356.7 1240.6L1355.7 1230.2ZM1537.6 1242L1540.9 1242L1539.6 1233.9ZM1511.6 1242.4L1514.4 1242.4L1513.3 1233ZM1453.1 1245.7L1455.5 1245.7L1454.6 1238.8ZM1569.6 1242.4L1572.2 1242.4L1571.2 1226.7ZM1221.4 1244.8L1223.4 1244.8L1222.7 1229.3ZM1444.2 1243.5L1447.3 1243.5L1446 1224.5ZM1263.1 1249.1L1266 1249.1L1264.8 1241ZM1428.2 1249.9L1431.6 1249.9L1430.2 1241.1ZM1501.5 1251L1504.3 1251L1503.2 1242.6ZM1257.3 1248.9L1259.5 1248.9L1258.7 1233.1ZM1421.6 1251.6L1424 1251.6L1423.1 1240.7ZM1343.6 1249.2L1346.9 1249.2L1345.6 1232.4ZM1450.1 1249.4L1452.2 1249.4L1451.4 1232.7ZM1269.5 1253.5L1271.9 1253.5L1271 1246.3ZM1288.9 1252.1L1291.1 1252.1L1290.3 1240.4ZM1531.3 1251.8L1534.1 1251.8L1533 1239.3ZM1539.4 1248.9L1541.8 1248.9L1540.9 1229.2ZM1567.4 1252.9L1570.6 1252.9L1569.3 1241.9ZM1231.2 1252.9L1234 1252.9L1232.9 1240.3ZM1348.4 1254.8L1351 1254.8L1350 1245.4ZM1548 1254.5L1550 1254.5L1549.3 1243ZM1400.9 1256.2L1403.3 1256.2L1402.4 1246.3ZM1418.6 1252.8L1420.9 1252.8L1420 1233.1ZM1400.6 1254.1L1403.7 1254.1L1402.5 1237.2ZM1338.5 1254.6L1340.5 1254.6L1339.8 1237.8ZM1353.3 1259.2L1356.5 1259.2L1355.2 1252.2ZM1340 1255.8L1342.7 1255.8L1341.7 1237.3ZM1358.8 1258.1L1361.3 1258.1L1360.3 1243ZM1437.6 1261.7L1439.6 1261.7L1438.9 1252.2ZM1461.3 1255.8L1463.4 1255.8L1462.6 1231.9ZM1355.4 1259.5L1357.5 1259.5L1356.7 1242.7ZM1470.3 1261.5L1472.3 1261.5L1471.6 1249.3ZM1466.6 1260.5L1468.8 1260.5L1468 1244.9ZM1422.1 1264.4L1425.1 1264.4L1423.9 1255ZM1466.4 1265L1469.7 1265L1468.4 1255.4ZM1520.4 1266.2L1523.1 1266.2L1522.1 1259.3ZM1330.7 1263.1L1333.2 1263.1L1332.3 1244.5ZM1317 1264.4L1319.7 1264.4L1318.7 1248.4ZM1423.4 1269.8L1425.7 1269.8L1424.9 1263.1ZM1394.7 1267.8L1397.4 1267.8L1396.4 1255.5ZM1416.3 1268.5L1419.3 1268.5L1418.1 1257.4ZM1330.2 1270.6L1333.6 1270.6L1332.2 1263.5ZM1395.3 1271.3L1397.5 1271.3L1396.7 1262.4ZM1367.1 1271.2L1369.2 1271.2L1368.4 1262ZM1479.1 1271.9L1482.1 1271.9L1480.9 1262.9ZM1470.2 1271L1472.7 1271L1471.7 1258.5ZM1373.9 1270.4L1376.2 1270.4L1375.4 1251.5ZM1289.1 1275.8L1292 1275.8L1290.9 1268.7ZM1273 1275.8L1275.8 1275.8L1274.7 1267.8ZM1298.2 1274.1L1301.4 1274.1L1300.1 1258.1ZM1391.7 1271.5L1394.7 1271.5L1393.5 1247.9ZM1505.3 1276L1507.7 1276L1506.8 1262.8ZM1258.4 1278.6L1261.3 1278.6L1260.1 1270.6ZM1348.1 1274L1350.6 1274L1349.7 1253.5ZM1495 1280.1L1498 1280.1L1496.8 1269.3ZM1368.7 1280.7L1371.5 1280.7L1370.4 1270.7ZM1277.6 1277.3L1280.1 1277.3L1279.1 1257.3ZM1306.3 1275.6L1309.4 1275.6L1308.1 1250.7ZM1510.3 1283.5L1512.8 1283.5L1511.8 1276.9ZM1371.2 1282.4L1374 1282.4L1372.9 1271ZM1363.5 1284.5L1366.6 1284.5L1365.3 1277.9ZM1387.6 1284.6L1390 1284.6L1389.1 1276.7ZM1267.9 1284.5L1271.1 1284.5L1269.8 1275.3ZM1376.2 1283.8L1379.3 1283.8L1378.1 1272.2ZM1422.5 1285.3L1424.6 1285.3L1423.9 1276.2ZM1271 1286.9L1273.3 1286.9L1272.5 1279ZM1300.5 1285.7L1302.8 1285.7L1301.9 1273.9ZM1483.1 1281.2L1485.6 1281.2L1484.6 1258.2ZM1381.2 1288.5L1384.1 1288.5L1382.9 1280.8ZM1320 1287.1L1323.1 1287.1L1321.8 1271.2ZM1401.4 1291.9L1404.2 1291.9L1403.1 1282.2ZM1277.8 1293.2L1280.5 1293.2L1279.5 1286ZM1380.3 1295.2L1382.8 1295.2L1381.9 1286.1ZM1356.3 1295.8L1358.7 1295.8L1357.8 1286.3ZM1511.8 1295.4L1515.1 1295.4L1513.7 1283.2ZM1348.2 1298.9L1350.6 1298.9L1349.7 1288.9ZM1455.8 1301.8L1458.9 1301.8L1457.6 1294.5ZM1457.2 1300.3L1460.6 1300.3L1459.2 1288.2ZM1378 1300.5L1381.3 1300.5L1379.9 1285.7ZM1420.7 1303.5L1423.3 1303.5L1422.3 1293.5ZM1388.4 1306.1L1390.9 1306.1L1389.9 1299.7ZM1453.5 1305.3L1456.4 1305.3L1455.2 1297.1ZM1462.3 1302.6L1465.3 1302.6L1464.1 1286ZM1470.7 1302.5L1473.9 1302.5L1472.6 1283.4ZM1384.5 1308.4L1387.1 1308.4L1386.1 1301.5ZM1445.9 1309.9L1449.1 1309.9L1447.8 1303.2ZM1392.8 1308.3L1395.8 1308.3L1394.6 1295.1ZM1492.8 1312.2L1495.6 1312.2L1494.5 1299.8ZM1393.3 1308.7L1396.4 1308.7L1395.2 1286.7ZM1340.6 1314.5L1343.4 1314.5L1342.3 1305.3ZM1342.4 1313.3L1345.8 1313.3L1344.4 1298.6ZM1415.7 1316.6L1417.8 1316.6L1417.1 1308.1ZM1427.1 1316.7L1430.3 1316.7L1429 1304.2ZM1330.6 1316.3L1332.8 1316.3L1332 1302.2ZM1355.3 1317.1L1357.5 1317.1L1356.7 1301.3ZM1444.3 1321.3L1446.8 1321.3L1445.8 1314.2ZM1477.2 1322.5L1479.6 1322.5L1478.7 1311.9ZM1334 1324.9L1337.1 1324.9L1335.8 1317.6ZM1397.5 1321.5L1400.9 1321.5L1399.5 1304.5ZM1439.9 1322.6L1442.4 1322.6L1441.5 1306.5ZM1437.6 1320.7L1439.6 1320.7L1438.9 1300ZM1465.1 1323.9L1467.3 1323.9L1466.5 1310.6ZM1422.3 1324.9L1425.2 1324.9L1424.1 1313.7ZM1393.7 1326.6L1396.8 1326.6L1395.5 1317.7ZM1452.9 1325.2L1455.9 1325.2L1454.7 1309.8ZM1346.5 1324.6L1349.2 1324.6L1348.1 1306.9ZM1364.9 1324.4L1367.3 1324.4L1366.4 1306.2ZM1464.6 1329.5L1466.7 1329.5L1466 1321.6ZM1395.5 1326.7L1397.5 1326.7L1396.8 1311.9ZM1416.7 1329.4L1418.8 1329.4L1418.1 1319ZM1447.9 1329.7L1450.3 1329.7L1449.4 1319.5ZM1353.4 1328.2L1355.5 1328.2L1354.8 1312.9ZM1385.5 1327.9L1388.7 1327.9L1387.4 1309.6ZM1362.2 1332.2L1365.6 1332.2L1364.2 1321.5ZM1461.4 1334L1463.9 1334L1462.9 1322.1ZM1465.3 1333.2L1468.4 1333.2L1467.1 1316.4ZM1430.8 1329.7L1434.2 1329.7L1432.8 1304.6ZM1411.9 1332L1414.5 1332L1413.5 1311.5ZM1434.6 1334.7L1436.8 1334.7L1436 1316ZM1429.2 1339.3L1431.6 1339.3L1430.7 1324.5ZM1438.1 1342.4L1441 1342.4L1439.9 1334.1ZM1374.8 1344.8L1377.8 1344.8L1376.6 1337ZM1358.3 1342.8L1361 1342.8L1360 1326.4ZM1395.4 1352.3L1397.5 1352.3L1396.7 1344.4ZM1401.1 1349.6L1403.5 1349.6L1402.6 1330.5ZM1398.9 1349.2L1401.8 1349.2L1400.7 1325ZM1430.2 1363.9L1432.7 1363.9L1431.8 1346.5ZM1405.4 1372.1L1408.1 1372.1L1407 1362.3ZM1410.6 1377.7L1413.3 1377.7L1412.2 1369.1Z" fill="#f4d98c"/>
<path d="M1400.6 1054.6L1402.8 1054.6L1402 1041.4ZM1383.6 1058.9L1385.9 1058.9L1385 1044.8ZM1376.3 1064.1L1378.5 1064.1L1377.7 1053.2ZM1429.7 1076L1431.4 1076L1430.8 1067.5ZM1423.2 1073.9L1424.8 1073.9L1424.3 1061.5ZM1421.1 1086.7L1423 1086.7L1422.3 1077ZM1349.6 1092.6L1351.9 1092.6L1351 1080ZM1356.3 1089.6L1358.2 1089.6L1357.6 1073ZM1465.9 1090L1467.9 1090L1467.2 1073.4ZM1471.8 1096.2L1474 1096.2L1473.2 1080.9ZM1449.5 1104.7L1451.6 1104.7L1450.9 1095.3ZM1340.4 1103.1L1342.7 1103.1L1341.8 1090.5ZM1463.6 1100.7L1465.3 1100.7L1464.7 1085.6ZM1486.1 1106.8L1487.8 1106.8L1487.3 1092.7ZM1486.8 1116.5L1488.4 1116.5L1487.9 1102.9ZM1385.3 1113.7L1386.8 1113.7L1386.4 1096.1ZM1429.1 1124.3L1430.7 1124.3L1430.2 1115.9ZM1328.6 1120.7L1330.1 1120.7L1329.6 1107.9ZM1480.8 1120.9L1483.2 1120.9L1482.3 1107.4ZM1496.1 1124.7L1498 1124.7L1497.4 1111.7ZM1396.6 1130.6L1398.2 1130.6L1397.7 1117.3ZM1503.5 1134.3L1505.5 1134.3L1504.8 1124.5ZM1484.7 1126.8L1486.5 1126.8L1485.9 1109.1ZM1321.3 1129.5L1322.9 1129.5L1322.4 1114.2ZM1442 1134.4L1443.9 1134.4L1443.2 1121.4ZM1462.2 1138.5L1464.6 1138.5L1463.7 1128.5ZM1479.6 1137.1L1481.2 1137.1L1480.7 1124.8ZM1281.9 1136.9L1284.1 1136.9L1283.3 1124.2ZM1349 1138.5L1351.1 1138.5L1350.4 1126.2ZM1345 1141.3L1346.6 1141.3L1346.1 1131.1ZM1426.1 1144.1L1428.5 1144.1L1427.6 1135ZM1334 1146L1335.6 1146L1335.1 1137.4ZM1488.1 1144.7L1489.8 1144.7L1489.2 1133.3ZM1324.4 1144.9L1326.8 1144.9L1325.9 1130.9ZM1445.1 1145L1447.1 1145L1446.4 1131ZM1320.9 1146.4L1322.5 1146.4L1322 1131.5ZM1471.4 1146.9L1473.5 1146.9L1472.8 1131.6ZM1265.4 1154.1L1267.7 1154.1L1266.8 1145.7ZM1327 1148.9L1329.4 1148.9L1328.5 1131ZM1304.9 1159.1L1307.3 1159.1L1306.4 1148.6ZM1553.7 1163.9L1555.6 1163.9L1554.9 1155.9ZM1508.4 1163.3L1510.4 1163.3L1509.7 1154.4ZM1470.9 1156.2L1473.2 1156.2L1472.3 1140.1ZM1344.9 1164.6L1346.6 1164.6L1346 1156.5ZM1301.4 1160.7L1303.2 1160.7L1302.6 1146.4ZM1567.7 1167.2L1569.9 1167.2L1569.1 1157.8ZM1547.8 1163.6L1550 1163.6L1549.2 1149.2ZM1519.6 1172.1L1521.4 1172.1L1520.8 1162.2ZM1304.9 1174.4L1306.6 1174.4L1306.1 1165.3ZM1531.3 1175.9L1532.8 1175.9L1532.3 1167.8ZM1440.4 1173.9L1442.4 1173.9L1441.7 1163.3ZM1398.7 1171.2L1400.6 1171.2L1400 1157.5ZM1441.7 1174.3L1443.7 1174.3L1443 1163.4ZM1314.6 1168L1316.3 1168L1315.7 1150.1ZM1578 1177L1580.3 1177L1579.4 1166.7ZM1254.8 1176L1257.1 1176L1256.3 1163.1ZM1255.5 1181.2L1257.6 1181.2L1256.8 1172.9ZM1453.4 1181.7L1455.5 1181.7L1454.8 1173.3ZM1251.3 1181.6L1253.6 1181.6L1252.7 1169ZM1551.9 1184.6L1553.4 1184.6L1553 1173.8ZM1402.4 1181.6L1404.4 1181.6L1403.7 1167.3ZM1501.7 1179.7L1503.7 1179.7L1503 1161.8ZM1467.9 1188.5L1469.5 1188.5L1469 1179.4ZM1492.6 1192.5L1494.4 1192.5L1493.8 1184.1ZM1362.5 1192.5L1364.1 1192.5L1363.6 1184ZM1413.7 1186.4L1416.1 1186.4L1415.2 1171.6ZM1270 1186L1271.8 1186L1271.2 1168.9ZM1535.7 1194.7L1537.9 1194.7L1537.1 1184.2ZM1610.7 1192.7L1612.9 1192.7L1612.1 1179.9ZM1312.9 1191.7L1315.2 1191.7L1314.4 1177.7ZM1450.7 1191.4L1452.9 1191.4L1452.1 1177ZM1233.5 1193.4L1235 1193.4L1234.5 1180.8ZM1432.3 1190.2L1433.9 1190.2L1433.4 1172.6ZM1209 1195.3L1211 1195.3L1210.3 1182.1ZM1453.9 1195.3L1456 1195.3L1455.2 1180.7ZM1368 1202L1369.8 1202L1369.2 1193.6ZM1604.7 1203.7L1606.9 1203.7L1606.1 1194.7ZM1493.5 1199.7L1495.5 1199.7L1494.8 1186.6ZM1607.8 1204.9L1609.3 1204.9L1608.9 1196.2ZM1341.1 1207.3L1343.1 1207.3L1342.4 1198.8ZM1563.1 1203.9L1564.6 1203.9L1564.1 1190.4ZM1198.6 1206.3L1200.4 1206.3L1199.8 1195.1ZM1539.5 1213.1L1541.2 1213.1L1540.6 1202.4ZM1342.6 1215.3L1344 1215.3L1343.6 1205.6ZM1229.9 1210.7L1231.4 1210.7L1231 1194.4ZM1616.4 1211.5L1618.3 1211.5L1617.7 1195ZM1584.1 1212.9L1586.1 1212.9L1585.4 1197.5ZM1595.4 1217.7L1597.2 1217.7L1596.6 1205.4ZM1598.9 1214.7L1600.8 1214.7L1600.2 1198.2ZM1508.6 1221.4L1510.4 1221.4L1509.8 1211ZM1225.1 1224L1226.8 1224L1226.3 1215.3ZM1512.4 1217.5L1514.3 1217.5L1513.7 1201.9ZM1554.9 1225.6L1557.3 1225.6L1556.4 1217.5ZM1505.1 1225.7L1506.6 1225.7L1506.1 1217.5ZM1501.3 1220.2L1503.8 1220.2L1502.9 1206.3ZM1569.3 1225.6L1571 1225.6L1570.4 1215.6ZM1267 1223L1269.3 1223L1268.4 1210.1ZM1190.6 1220.8L1192.8 1220.8L1192 1204.9ZM1260.1 1222.5L1261.7 1222.5L1261.2 1208.1ZM1254.6 1223.3L1257 1223.3L1256.1 1206.7ZM1311.7 1227.2L1313.2 1227.2L1312.7 1214.4ZM1570 1237.9L1571.9 1237.9L1571.2 1227.2ZM1221.7 1240.4L1223.2 1240.4L1222.7 1229.8ZM1444.6 1238L1446.8 1238L1446 1225ZM1257.6 1244.4L1259.2 1244.4L1258.7 1233.6ZM1344.1 1244.4L1346.5 1244.4L1345.6 1232.9ZM1450.4 1244.6L1451.9 1244.6L1451.4 1233.2ZM1531.7 1248.3L1533.7 1248.3L1533 1239.8ZM1539.7 1243.3L1541.5 1243.3L1540.9 1229.7ZM1231.6 1249.3L1233.6 1249.3L1232.9 1240.8ZM1418.9 1247.2L1420.6 1247.2L1420 1233.6ZM1401 1249.3L1403.3 1249.3L1402.5 1237.7ZM1338.7 1249.8L1340.2 1249.8L1339.8 1238.3ZM1340.4 1250.5L1342.4 1250.5L1341.7 1237.8ZM1359.1 1253.8L1361 1253.8L1360.3 1243.5ZM1461.6 1249L1463.1 1249L1462.6 1232.4ZM1355.7 1254.7L1357.2 1254.7L1356.7 1243.2ZM1470.5 1258L1472 1258L1471.6 1249.8ZM1466.9 1256L1468.5 1256L1468 1245.4ZM1331.1 1257.8L1332.8 1257.8L1332.3 1245ZM1317.4 1259.8L1319.4 1259.8L1318.7 1248.9ZM1395.1 1264.3L1397 1264.3L1396.4 1256ZM1470.5 1267.4L1472.3 1267.4L1471.7 1259ZM1374.2 1265L1375.9 1265L1375.4 1252ZM1298.6 1269.5L1300.9 1269.5L1300.1 1258.6ZM1392.1 1264.8L1394.3 1264.8L1393.5 1248.4ZM1505.6 1272.2L1507.4 1272.2L1506.8 1263.3ZM1348.5 1268.2L1350.2 1268.2L1349.7 1254ZM1277.9 1271.6L1279.8 1271.6L1279.1 1257.8ZM1306.7 1268.4L1309 1268.4L1308.1 1251.2ZM1483.5 1274.6L1485.2 1274.6L1484.6 1258.7ZM1320.4 1282.6L1322.6 1282.6L1321.8 1271.7ZM1512.3 1291.9L1514.6 1291.9L1513.7 1283.7ZM1457.6 1296.8L1460.1 1296.8L1459.2 1288.7ZM1378.5 1296.3L1380.8 1296.3L1379.9 1286.2ZM1462.7 1297.9L1464.9 1297.9L1464.1 1286.5ZM1471.1 1297.1L1473.4 1297.1L1472.6 1283.9ZM1393.2 1304.6L1395.4 1304.6L1394.6 1295.6ZM1493.2 1308.6L1495.3 1308.6L1494.5 1300.3ZM1393.8 1302.4L1396 1302.4L1395.2 1287.2ZM1342.9 1309.1L1345.4 1309.1L1344.4 1299.1ZM1427.5 1313.1L1429.8 1313.1L1429 1304.7ZM1330.9 1312.3L1332.5 1312.3L1332 1302.7ZM1355.6 1312.6L1357.2 1312.6L1356.7 1301.8ZM1398 1316.6L1400.4 1316.6L1399.5 1305ZM1440.2 1318L1442.1 1318L1441.5 1307ZM1437.9 1314.8L1439.3 1314.8L1438.9 1300.5ZM1465.4 1320.1L1467 1320.1L1466.5 1311.1ZM1453.3 1320.8L1455.5 1320.8L1454.7 1310.3ZM1346.9 1319.5L1348.8 1319.5L1348.1 1307.4ZM1365.2 1319.2L1367 1319.2L1366.4 1306.7ZM1395.8 1322.5L1397.2 1322.5L1396.8 1312.4ZM1353.7 1323.8L1355.2 1323.8L1354.8 1313.4ZM1385.9 1322.7L1388.2 1322.7L1387.4 1310.1ZM1461.7 1330.6L1463.5 1330.6L1462.9 1322.6ZM1465.7 1328.4L1468 1328.4L1467.1 1316.9ZM1431.3 1322.5L1433.8 1322.5L1432.8 1305.1ZM1412.2 1326.2L1414.1 1326.2L1413.5 1312ZM1434.9 1329.3L1436.5 1329.3L1436 1316.5ZM1429.5 1335L1431.2 1335L1430.7 1325ZM1358.7 1338.1L1360.6 1338.1L1360 1326.9ZM1401.4 1344.1L1403.2 1344.1L1402.6 1331ZM1399.3 1342.3L1401.4 1342.3L1400.7 1325.5ZM1430.6 1358.9L1432.4 1358.9L1431.8 1347Z" fill="#fff8e2"/>
</g>
<rect x="1805" y="1088.8" width="32.4" height="242.4" fill="url(#cbar)" stroke="#555" stroke-width="0.9"/>
<g filter="url(#gb2)">
<text x="1184" y="1369.6" font-size="41" fill="#1c1c1c" textLength="121" lengthAdjust="spacingAndGlyphs">20 µm</text>
<text x="1549.6" y="1369.6" font-size="41" fill="#1c1c1c" textLength="121" lengthAdjust="spacingAndGlyphs">20 µm</text>
<text x="1648.4" y="1198" font-size="43" fill="#1c1c1c" textLength="147.6" lengthAdjust="spacingAndGlyphs">300 nm</text>
<text x="1648.4" y="1268.6" font-size="43" fill="#1c1c1c" textLength="97" lengthAdjust="spacingAndGlyphs">0 nm</text>
<text x="1763.6" y="1076.8" font-size="43" fill="#1c1c1c" textLength="149.6" lengthAdjust="spacingAndGlyphs">300 nm</text>
<text x="1785.8" y="1373.6" font-size="43" fill="#1c1c1c" textLength="96" lengthAdjust="spacingAndGlyphs">0 nm</text>
</g>
</g>
</svg>
</body></html>
